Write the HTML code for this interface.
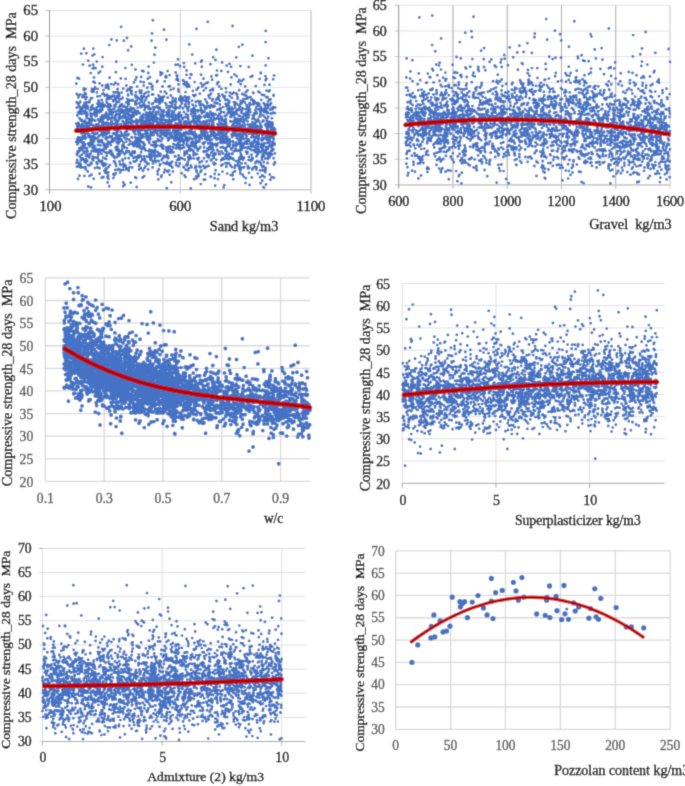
<!DOCTYPE html><html><head><meta charset="utf-8"><style>html,body{margin:0;padding:0;background:#fff;overflow:hidden}svg{display:block}text{font-family:"Liberation Serif",serif;stroke-width:0.4px}</style></head><body>
<svg width="685" height="786" viewBox="0 0 685 786">
<defs><filter id="bl" x="0" y="0" width="685" height="786" filterUnits="userSpaceOnUse"><feConvolveMatrix order="3" kernelMatrix="0.0192 0.1001 0.0192 0.1001 0.5228 0.1001 0.0192 0.1001 0.0192" divisor="1" edgeMode="duplicate"/></filter></defs>
<g filter="url(#bl)">
<rect width="685" height="786" fill="#fff"/>
<line x1="49.5" y1="164.1" x2="311" y2="164.1" stroke="#E3E3E3" stroke-width="1"/>
<line x1="49.5" y1="138.5" x2="311" y2="138.5" stroke="#E3E3E3" stroke-width="1"/>
<line x1="49.5" y1="112.9" x2="311" y2="112.9" stroke="#E3E3E3" stroke-width="1"/>
<line x1="49.5" y1="87.3" x2="311" y2="87.3" stroke="#E3E3E3" stroke-width="1"/>
<line x1="49.5" y1="61.7" x2="311" y2="61.7" stroke="#E3E3E3" stroke-width="1"/>
<line x1="49.5" y1="36.1" x2="311" y2="36.1" stroke="#E3E3E3" stroke-width="1"/>
<line x1="49.5" y1="10.5" x2="311" y2="10.5" stroke="#E3E3E3" stroke-width="1"/>
<line x1="180.25" y1="10.5" x2="180.25" y2="189.7" stroke="#CFCFCF" stroke-width="1"/>
<line x1="311" y1="10.5" x2="311" y2="189.7" stroke="#C6C6C6" stroke-width="1.3"/>
<line x1="49.5" y1="189.7" x2="311" y2="189.7" stroke="#CDCDCD" stroke-width="1.6"/>
<line x1="49.5" y1="10" x2="49.5" y2="193.8" stroke="#8C8C8C" stroke-width="1"/>
<line x1="45.5" y1="189.7" x2="49.5" y2="189.7" stroke="#BBBBBB" stroke-width="1"/>
<line x1="45.5" y1="164.1" x2="49.5" y2="164.1" stroke="#BBBBBB" stroke-width="1"/>
<line x1="45.5" y1="138.5" x2="49.5" y2="138.5" stroke="#BBBBBB" stroke-width="1"/>
<line x1="45.5" y1="112.9" x2="49.5" y2="112.9" stroke="#BBBBBB" stroke-width="1"/>
<line x1="45.5" y1="87.3" x2="49.5" y2="87.3" stroke="#BBBBBB" stroke-width="1"/>
<line x1="45.5" y1="61.7" x2="49.5" y2="61.7" stroke="#BBBBBB" stroke-width="1"/>
<line x1="45.5" y1="36.1" x2="49.5" y2="36.1" stroke="#BBBBBB" stroke-width="1"/>
<line x1="45.5" y1="10.5" x2="49.5" y2="10.5" stroke="#BBBBBB" stroke-width="1"/>
<line x1="180.25" y1="189.7" x2="180.25" y2="193.8" stroke="#BBBBBB" stroke-width="1"/>
<line x1="311" y1="189.7" x2="311" y2="193.8" stroke="#BBBBBB" stroke-width="1"/>
<path d="M178 130.3h0M265.3 76.1h0M104.9 114.9h0M265 108.3h0M138.2 157.9h0M160.4 146h0M240.9 153.7h0M157.6 151.9h0M185.5 105.8h0M81.7 121.1h0M226.1 154.2h0M183.3 80.7h0M141.8 115.9h0M233.1 132.2h0M136.5 160.6h0M166.4 39.7h0M102.8 119.7h0M156.4 112.3h0M116.7 130.2h0M128.4 114.2h0M225.5 148.6h0M132 94.4h0M172.7 102h0M271.3 144.7h0M267.5 128.6h0M220.4 110h0M183.9 132.7h0M131.3 124.8h0M108.1 141.7h0M269.2 136h0M178.9 159.7h0M99.2 161.3h0M200.2 117.8h0M230.7 84.5h0M198.2 110.5h0M258.7 135.2h0M84.1 167.4h0M181.4 137.1h0M167.6 71.1h0M88.6 144.8h0M203.8 132.3h0M245.8 147.6h0M194.2 114h0M127.9 134.6h0M243.3 101.3h0M177.6 147h0M177.8 129.3h0M226 141.6h0M105.6 172.9h0M239.3 162h0M212.1 143.3h0M232.8 141.3h0M114.3 175.2h0M235.8 102.8h0M114.2 108.9h0M92.4 159.3h0M246.4 118.3h0M247.6 109.4h0M250.6 129.3h0M170.1 134.8h0M130.7 153.7h0M77.6 138.8h0M204.7 130h0M219.4 129.4h0M242.5 129.3h0M132.3 144.4h0M119 129h0M203.4 166h0M236.4 119.4h0M267.9 158.8h0M106.1 122.6h0M172.1 161.8h0M254.2 137h0M160.3 164.1h0M193.5 121.3h0M81 107.7h0M210.2 136.8h0M259.1 129.8h0M240.7 139.6h0M252.4 142.7h0M207.6 148.5h0M125 135h0M229.1 163.4h0M118.3 135.4h0M241.6 112.9h0M88.7 156.8h0M240.4 146.5h0M108.9 130.8h0M150.8 133.7h0M139.2 131.1h0M213.8 129.5h0M111.7 118.5h0M155 147.1h0M77.3 144.3h0M128.4 112.9h0M160 136.4h0M97.3 167.4h0M202.2 86.5h0M151.9 157h0M220.5 130.9h0M206.3 125.1h0M162 159.6h0M248.8 67h0M202 122.8h0M237.4 120.9h0M144.2 129.6h0M184.4 125.8h0M115.2 157.3h0M124.6 127.6h0M127.3 135.5h0M90.7 121h0M127.5 111.4h0M228 110.2h0M215.1 185.7h0M101.8 100h0M151 118.3h0M159.9 124h0M208.5 95.7h0M166.9 156.1h0M192.9 90.9h0M243.3 145.2h0M220.7 108.7h0M148.8 128.9h0M165.4 122.6h0M149.3 135.7h0M98 119.4h0M116.6 98.3h0M132.7 100.6h0M138.7 155.5h0M138.5 137.6h0M190.9 158.6h0M269.5 125.4h0M230.3 117.1h0M233.6 128.8h0M227.3 113.8h0M195 147.5h0M258.8 162.2h0M213.4 132h0M175.7 123.3h0M91.5 174.8h0M173.4 144h0M118.5 120.7h0M102.6 129.7h0M176.9 125.9h0M232.4 148.1h0M134.9 127.8h0M229.2 139.2h0M180.8 101.1h0M105.8 87.7h0M268.2 133.7h0M156.1 141.6h0M134.9 112.8h0M244.7 131.1h0M222.2 136.5h0M113.6 92.3h0M154.3 115.3h0M122.3 159.6h0M243.6 131.3h0M153.8 130.5h0M270.1 136.9h0M200.6 101.5h0M214.2 164.5h0M180 134.3h0M137.7 107.6h0M154.9 151.7h0M263.4 187.1h0M116.2 147.6h0M272.8 109.1h0M227.1 136.9h0M147.8 78.8h0M203.8 179.7h0M152 33.4h0M152.1 113h0M176.4 107.8h0M79.5 106.5h0M174.4 140.2h0M269.5 138.4h0M133 142.8h0M225.1 156h0M164.3 133.1h0M117.8 97.3h0M256.3 112.1h0M79.5 175.8h0M136.6 96.2h0M275 131.5h0M128.3 105h0M245.1 86.5h0M196.7 125h0M236.6 122.2h0M201.6 131.6h0M148.4 123.4h0M227.6 100.1h0M81.4 127.7h0M165.1 126.3h0M150.2 120h0M171.1 125.8h0M101.6 118.7h0M120.5 118.2h0M188 101.3h0M153.3 122.3h0M233.7 133.7h0M196.6 127.2h0M247.6 121.3h0M221.9 134.6h0M195.9 101.8h0M133.4 121.5h0M231.9 97.9h0M126.2 141.6h0M91.1 120.6h0M267.8 159h0M183.6 84h0M230.2 128.9h0M181.5 126h0M197.9 111.6h0M82.9 143.9h0M113.3 108.9h0M210.4 129.7h0M189.7 155.4h0M107.7 143.9h0M106.9 145.6h0M177.7 133.9h0M104.8 116h0M218.9 96.3h0M131.2 46.5h0M102.9 128.8h0M85.3 122.9h0M111 154.1h0M114.3 129.7h0M183 108h0M165.9 136h0M266.7 127.4h0M266.1 136.9h0M234.7 118.2h0M209.8 136.5h0M244.3 127.5h0M263 156.5h0M80.7 140h0M99.7 125.9h0M147.9 122.8h0M94.8 88.9h0M195.5 94.9h0M128 89.3h0M128.8 170.9h0M133.6 128.2h0M95.6 133.4h0M223.6 139.8h0M205.7 124.4h0M196.9 117.7h0M82.9 143.2h0M161.6 110.5h0M212.5 147.7h0M107.3 177.1h0M152.9 20.2h0M80.1 150.5h0M92.5 55.6h0M119.2 155.7h0M158.7 154.1h0M168.4 139.3h0M252.2 157.7h0M139.2 169.5h0M80.4 113.5h0M240.6 140.6h0M88.5 144.5h0M94.7 128.3h0M267.8 106.2h0M226.1 92.3h0M143.4 114.4h0M102.5 135.2h0M153.1 124.6h0M143.7 96.5h0M250.2 105.1h0M159.5 103.7h0M92.5 132.9h0M260.6 106.8h0M200 102.5h0M99.4 128h0M98.7 103.5h0M168.9 170.4h0M94.5 145.9h0M201.9 138.4h0M198.8 124.7h0M82.6 111.1h0M236.9 138.3h0M232.7 175.2h0M258.3 138.1h0M209.6 98.1h0M214.1 144.5h0M108.8 152.8h0M80.9 148.5h0M89.2 127.4h0M268.1 101.3h0M204.7 127.7h0M264.6 133.3h0M145.7 115.1h0M226.5 158.5h0M89.2 134.4h0M109.2 132.9h0M131.3 118.7h0M185.7 169.7h0M187.1 153.3h0M175.5 137.4h0M160.6 118h0M190.7 74.2h0M268.5 155.8h0M167.3 131.2h0M242.8 136.9h0M87.3 102.4h0M152.9 115.5h0M187.7 145.5h0M199.6 118.4h0M125.9 131.7h0M155.6 129.5h0M264.6 131.5h0M205.3 138.1h0M192.6 104.8h0M89.2 165.5h0M86.6 125.5h0M118.2 151.2h0M103.6 106.7h0M271.9 147.9h0M76.7 102.3h0M149 112.9h0M87.8 171.5h0M203.5 78.8h0M85.4 167.2h0M89.8 100.7h0M92.1 109h0M130.3 87.5h0M190.9 165.8h0M236.5 135.6h0M129.3 129.2h0M132.5 108.4h0M240.2 173.4h0M224.6 129.4h0M101.4 129.1h0M236.6 130.9h0M241.6 126.7h0M111.6 142.1h0M200.9 108.3h0M115.3 117h0M124.6 115.6h0M174.5 119h0M180.1 148.4h0M171.5 125h0M183.9 112h0M118.6 92.7h0M231.1 116.8h0M131.5 120h0M257.8 173.6h0M178.7 126.5h0M136.6 114.2h0M110.9 106.3h0M172.7 100.7h0M151.1 159h0M200.2 146.9h0M175.4 101.4h0M83.5 126.4h0M242 131.1h0M86.5 112.3h0M240.9 167.8h0M237.9 124.1h0M260 170.4h0M208.4 150.1h0M108.1 137.6h0M164.1 135.1h0M163.6 112h0M202 113.2h0M152 116.5h0M210.6 126.8h0M116.8 40.4h0M146.5 117.9h0M184.3 135.2h0M161.3 132.1h0M100.6 117.8h0M268.4 146.8h0M213.7 133.5h0M241.9 149.9h0M147.3 114.5h0M264.2 112.1h0M237.9 163.6h0M271.1 103.2h0M115.5 125.9h0M171.1 152.7h0M153 120.1h0M198.3 174.4h0M126 152.9h0M96.2 124.8h0M171 166h0M203.4 135.7h0M152.6 167.5h0M272.7 143.3h0M157 132.2h0M135.8 127.5h0M238.1 110.3h0M169 112.5h0M130.5 110.1h0M133.2 125.6h0M264.7 117h0M267.6 163h0M204.8 132.9h0M131.6 87.4h0M217.7 143.8h0M119.3 117.3h0M140.3 121.1h0M184 167.3h0M156 162.1h0M146 92.6h0M270 138.5h0M110 136.3h0M198.3 87.7h0M83.8 131.6h0M94.4 111.8h0M118 110.5h0M273.5 136.8h0M220.7 131.6h0M248.9 128.4h0M86 159.1h0M211.8 139.6h0M163.7 127.1h0M159 122.8h0M217.1 129.3h0M137.5 121.7h0M178.4 166.4h0M128.1 109.2h0M154.1 155.4h0M182.3 118.2h0M107.6 97.5h0M131.1 91.4h0M159.8 125.4h0M170.3 126.2h0M235.4 122.5h0M204.1 112h0M188.1 146.8h0M249.3 111.3h0M115.4 169.9h0M96.9 92.4h0M154.5 107.7h0M103.5 90.1h0M186.8 82.3h0M190.3 150.6h0M102.4 123.3h0M218.7 134.9h0M186.9 133h0M160.4 72.1h0M258.8 150.9h0M246.5 112.3h0M120.1 172.5h0M109.3 96.5h0M258.4 138.3h0M107.5 115.5h0M226.9 151.6h0M138.4 141.9h0M148 106.2h0M186.4 132h0M260.4 162.8h0M76.6 129h0M108.5 131.8h0M219.5 96.3h0M154.7 153.2h0M133.4 122h0M267.8 148.9h0M128.7 144.7h0M218.3 99.1h0M268.1 136h0M228 155.8h0M217.3 103.2h0M220.1 132.5h0M236.4 128.9h0M130.1 127.4h0M200.9 126.1h0M235.9 150.8h0M252.9 143.9h0M256.4 129.9h0M256 137.4h0M95.6 116.3h0M151.1 83.9h0M167 148.3h0M253.6 142.2h0M159.6 114.4h0M128.9 121.7h0M80.1 137.7h0M133.6 113.3h0M231.5 134.5h0M80.2 112.3h0M109 107.5h0M138.1 131.9h0M182 103.5h0M148.4 140.4h0M251.8 177.4h0M117.5 141.4h0M187.9 115.3h0M231 113.3h0M261.2 99.9h0M250 109.4h0M103.1 136.4h0M233.7 146h0M210.6 132h0M160.1 122.8h0M81.3 132.2h0M109.6 104.5h0M225.3 123.9h0M92.9 125.8h0M138.4 140.9h0M127 148.1h0M224.6 121.5h0M147.6 139.8h0M93.5 114h0M149.9 111.9h0M141.2 93.1h0M218.9 132.4h0M139.9 147.9h0M214.2 136.8h0M183.4 167.1h0M252.8 115.5h0M222.1 62.5h0M157.3 145.5h0M172.7 118.9h0M170 102.5h0M249.6 185h0M103.6 151.2h0M160.6 154.7h0M182.6 118.9h0M163 129.8h0M195.2 63.4h0M175.4 109.6h0M158.5 95.5h0M212.8 88.9h0M141.7 138.1h0M196.9 148.4h0M221.2 138.5h0M102.2 107.7h0M141.1 156.1h0M264.2 95.2h0M268.4 58.2h0M273.7 139.2h0M84.6 120.8h0M240.6 101h0M262.3 180.8h0M255.7 148.7h0M218.4 138.7h0M210.6 129.4h0M219.4 114.3h0M233.1 146.2h0M176.1 102h0M121.1 135.7h0M94.9 168.1h0M256.9 134.5h0M226.4 132.4h0M111.4 136.7h0M239.8 151.3h0M135.9 140.8h0M202.7 122h0M147 124h0M118.8 117.5h0M111.1 84.1h0M91 109.9h0M89.9 119.3h0M94.1 157.4h0M242.1 134.6h0M179.2 99.8h0M101.8 150h0M180.6 136.6h0M184.2 66.9h0M175 138.9h0M117.3 92.3h0M162.6 134.2h0M249.5 128.1h0M152.5 89.4h0M176.5 107.4h0M261.3 145.7h0M122.5 145.2h0M220.6 122.9h0M172.5 115.5h0M232.9 135.2h0M147.7 136.4h0M184.1 133.7h0M149.5 108.3h0M248.5 139.9h0M258.2 153.5h0M201.9 111.5h0M271.4 113.8h0M221.9 124.2h0M241.4 145.9h0M254.2 127.7h0M130.3 141.4h0M272.5 124.6h0M153.9 109.9h0M175.1 100.4h0M112.1 96h0M239.6 143.4h0M143.2 105.1h0M213.4 122.8h0M119.6 116.6h0M146.1 119h0M152.6 86.1h0M123.3 169.9h0M83.2 125.5h0M229.4 153.9h0M265.3 172.2h0M121.2 126h0M108.5 98.8h0M145.3 123.6h0M92.6 142.5h0M205.5 123.1h0M149.5 116.8h0M188.1 170.4h0M256.4 156.4h0M247.6 113.7h0M259.6 161.9h0M262.3 131.7h0M193.5 132.6h0M176.1 129.7h0M83.7 90h0M96.6 133.6h0M180.4 136.7h0M246.5 105h0M162.3 73.3h0M76.9 153.9h0M118.4 120.4h0M227.4 138.9h0M107.7 143.3h0M115.9 104.3h0M133 108.7h0M197.4 110.4h0M242.6 174.8h0M119.7 137.6h0M195.5 167.8h0M181.6 140.8h0M164.7 135h0M191.7 111.6h0M238.2 162.5h0M119.5 99.2h0M175.1 115h0M95.7 112.8h0M178.3 107.9h0M233.6 121.4h0M274.9 113.1h0M170.8 95.5h0M135.2 101.7h0M191.5 167.4h0M150.2 134.2h0M99.5 103.5h0M180.5 96.2h0M235.2 165.4h0M253.5 118.2h0M270.8 103.3h0M149.4 149.8h0M126.3 85.5h0M98.2 124.4h0M163 122.8h0M236.8 109.6h0M122.9 135.7h0M245.2 109.1h0M217.8 133.8h0M116.2 114.1h0M201.9 60.4h0M239.3 80h0M261.8 150.6h0M108.5 142.7h0M239.8 133.9h0M230.6 165.7h0M124.7 138.1h0M134.8 130.9h0M266.6 123.7h0M148.2 73h0M133.7 126.7h0M219.5 132.7h0M102.6 127.4h0M172.3 119.6h0M147.4 138.4h0M184.4 155.3h0M196.2 170.4h0M203.6 144.3h0M162.2 139.1h0M252.7 158.5h0M242.5 157.1h0M261.9 159.5h0M164.9 169.7h0M221.5 88.9h0M161.9 120.5h0M131.7 137.3h0M205.9 88.2h0M264.4 170h0M236.2 142.6h0M132.9 113.7h0M121.6 92.6h0M229.7 142.3h0M216.5 145.7h0M248 168.4h0M105.3 165.2h0M247.6 117.4h0M162.3 148.3h0M130.6 123h0M144.5 110h0M273.9 164.6h0M266.4 150.1h0M92.8 147.9h0M138.9 132.9h0M219.4 113.9h0M83.2 95.2h0M83.3 107.2h0M85.1 111h0M249 115.1h0M142.6 177.5h0M139.6 121.2h0M234 126h0M139.6 90.8h0M223.1 141.3h0M149.7 151.3h0M135.4 137.4h0M153.2 124.6h0M109.6 118.8h0M91.1 136.2h0M249.5 104.1h0M249 107.2h0M167.9 125.2h0M213.2 123.3h0M247.8 166.2h0M153.9 62.6h0M217.8 139.1h0M226.4 106.3h0M91.7 151h0M103.7 134.9h0M225.5 100h0M216.6 129.9h0M113 154.9h0M240.7 147.4h0M235.6 145.5h0M142.4 106.6h0M143.9 103.5h0M98.2 154.2h0M164.8 91.7h0M98 140.9h0M184.3 135.9h0M200.5 129.4h0M192 126.6h0M90.4 123h0M199.9 93.7h0M225.9 119.7h0M104.4 170.9h0M194.6 137.1h0M239.2 123.7h0M114.7 120h0M269.6 124.8h0M217.8 82.6h0M249.7 102.9h0M130.3 163.3h0M208.5 126.6h0M260.5 131.3h0M85.1 92.9h0M239.5 150h0M123.3 163.6h0M235.6 126h0M204 158.3h0M235.7 130.5h0M156 112.9h0M165.8 120.1h0M260.1 126.5h0M90.3 122.3h0M107.3 94.7h0M269.8 174.5h0M257.9 119.3h0M105.4 158.7h0M269.9 105.3h0M129 151.3h0M253.7 116.6h0M256.2 144.5h0M80.9 125.4h0M78.1 104.1h0M141.2 76.9h0M261.5 140.3h0M233.7 132.8h0M153.2 152.5h0M246.9 153.8h0M137.4 123.2h0M145.3 105.7h0M114.1 133.4h0M267.1 113.4h0M236.1 130.8h0M168.2 123.4h0M128.8 158.3h0M268.4 131.3h0M155.1 141.7h0M118.1 135.6h0M160.7 133.9h0M219.3 114.3h0M229.5 63.9h0M97.9 141.3h0M210.4 142.4h0M88.6 143.8h0M242.8 117h0M269.6 99.5h0M242.9 167.4h0M78.1 112.4h0M170.3 122.6h0M193.4 155.3h0M252.9 136h0M176.2 148.5h0M91.6 118.8h0M261.9 130.1h0M265.6 42.1h0M172.9 171.5h0M86.8 154.7h0M223.8 125.4h0M269.5 84.8h0M77.6 166.5h0M162.8 158.1h0M132.7 122.3h0M97.6 157.4h0M222.5 124.9h0M144.1 156.3h0M83.9 146.7h0M102.8 124.9h0M236.6 120.6h0M196.7 89.7h0M119 150.8h0M214.7 174h0M102.1 116.4h0M210.1 120.3h0M206.5 122.6h0M77.3 131.2h0M178 59.2h0M220.7 147.6h0M227.1 173.6h0M216.6 137.4h0M252.3 134.5h0M226.7 65.7h0M259.7 109.7h0M158.7 161h0M83 128.3h0M112.2 154.2h0M133.4 127.4h0M84.5 146.3h0M97.7 137.7h0M179.4 107.8h0M126.4 168.3h0M133 129.8h0M223.7 131.3h0M246.3 135.6h0M247.7 152.4h0M149.9 150.2h0M217.4 110.1h0M245.8 178.2h0M106.2 127.6h0M116.1 111.5h0M205.1 131.4h0M129 139.7h0M114.5 117.8h0M149.3 142.9h0M79.4 118.2h0M163.4 132h0M85.6 121.8h0M124.9 122.8h0M119.5 161.4h0M141.7 101.8h0M101.1 120.4h0M169.9 86.3h0M213.1 107.1h0M143.6 136.8h0M260.7 129.6h0M247.3 151.9h0M137.1 111.9h0M83.9 88.5h0M229 106h0M123.9 40.7h0M142.3 159h0M191.5 128.9h0M275 153.4h0M135.8 103.6h0M169.4 121.1h0M201 61.8h0M212.2 120.7h0M118.4 143.7h0M194.6 123.3h0M184.5 175.5h0M99.1 104.3h0M101.3 104.4h0M270.3 179.8h0M239.6 158.7h0M240.9 101.4h0M262.1 156.5h0M267.3 139.6h0M154.5 54.7h0M226.2 166.9h0M203.9 121.5h0M187.6 134h0M211.4 76.4h0M139.7 155.3h0M247.7 98.2h0M157.2 124.2h0M105.7 138.7h0M78.4 129.3h0M203.4 133.3h0M122.3 149.3h0M266.4 97.2h0M115 98.4h0M139.1 146.4h0M272 134.7h0M179.6 146.4h0M259.7 78.9h0M231.7 107.8h0M99.8 109.8h0M119.2 127.7h0M153.2 141.9h0M251.5 99.9h0M142.6 127.3h0M171.8 135.9h0M140.8 123.9h0M232.7 128.7h0M87.1 113.7h0M121.1 26.9h0M240.4 66.1h0M198.8 136.5h0M178 64.6h0M149.7 124.4h0M102.1 160.8h0M167.1 161.9h0M272.6 142.4h0M194.6 113.3h0M190.9 122.5h0M273.2 79.3h0M252.4 159.6h0M275 162.1h0M265.9 149.6h0M209 138.9h0M136.9 100.4h0M201.2 125.5h0M145.5 150.3h0M237.5 98.8h0M103.5 132.9h0M168.2 110.5h0M243.5 79.4h0M166.6 107.8h0M195.8 122.9h0M95.7 157.4h0M132.9 112.6h0M266.1 124.6h0M206.9 113.8h0M148.8 108.8h0M179 122.9h0M230.4 157.2h0M232.9 158.5h0M240.9 139h0M123.6 165.5h0M203.2 111.5h0M181.1 121.4h0M188.6 121.8h0M118.9 113.7h0M139.6 127.9h0M225.8 142.9h0M147.5 114.2h0M226.9 147h0M85.5 122.9h0M265.4 132.7h0M117.6 154.5h0M171.3 182.3h0M126.6 107.1h0M121.4 99h0M272.3 150.7h0M256.2 126.8h0M182.1 134.8h0M88.3 134.7h0M196.5 28.9h0M126.2 120.1h0M118.8 135.1h0M261.7 110.5h0M199.4 128.5h0M164.5 123h0M88.6 136.7h0M150.1 136.8h0M248.1 130.3h0M136.4 77.3h0M140.4 146.3h0M196.9 142.6h0M126.3 123.1h0M187 137.9h0M229.1 153.7h0M133.2 131.4h0M170.3 127.9h0M190.9 111.3h0M148.5 95.7h0M120.7 124.2h0M98.9 142h0M188.7 104h0M262.7 148.6h0M79.9 110.9h0M248.4 114.9h0M267.7 108.1h0M184.1 140.5h0M268.8 91.6h0M216.4 49.8h0M184.7 117.3h0M168.4 140h0M169 124.4h0M211.9 106h0M122.8 160.6h0M218.5 82.1h0M173.9 120.2h0M210.4 111.6h0M263.4 115.4h0M122.6 110.3h0M156.4 114.3h0M130.9 115.2h0M86.7 106.6h0M200 105.3h0M201.2 131.2h0M275.1 129.4h0M195.8 166.1h0M155 101.4h0M255.5 149.6h0M79.2 148.2h0M136.4 141.2h0M225.8 142.3h0M108.3 86.7h0M148.1 169.5h0M245.1 129.7h0M144.8 100.8h0M124.5 113.7h0M253.4 101.5h0M91.6 140.7h0M246.7 136.2h0M138.9 140.2h0M117.5 147h0M173.3 147.9h0M172.4 167.5h0M268.1 156.9h0M225.9 88.2h0M167.7 122.2h0M187.5 150.7h0M139.5 130.3h0M271.7 177.1h0M153 163.4h0M252.4 76h0M206.7 154.7h0M258.5 144h0M146.7 131.9h0M159.1 140.1h0M149.7 119.2h0M240.8 127.3h0M265.8 125.1h0M240.3 129.8h0M166 76h0M241.2 136.6h0M221.5 125.5h0M179.5 116.6h0M112.7 123.8h0M123.5 117.4h0M216.2 146.2h0M115.7 126.6h0M187.7 164h0M236.2 57.4h0M206.3 129.7h0M197.5 118.3h0M127.5 123.3h0M100 131h0M82.9 64.6h0M122.3 112.4h0M187.2 84.7h0M160.5 102.3h0M116.8 132.9h0M136.4 139.5h0M168 137.6h0M235.2 135.5h0M206.7 161.4h0M84.3 107.2h0M172 103.2h0M113.2 101.4h0M246.3 142.7h0M252.3 128.3h0M186.6 70.5h0M222.7 142.7h0M212.8 113.4h0M238.7 140.3h0M131.7 91.6h0M121.8 104.1h0M224.7 135h0M267 130.7h0M121.9 106h0M189.2 138.6h0M184.5 121.4h0M150.5 159.8h0M225.5 163.2h0M102.4 164.4h0M150.2 139h0M162 122.5h0M265.8 150.3h0M212.4 146.2h0M217.7 109.4h0M275.1 107.5h0M121.3 170.1h0M196.3 166.8h0M97.6 89.1h0M108.5 152.6h0M214.7 106.3h0M240.5 145.9h0M202.7 143.3h0M191.6 131.7h0M233.5 113.2h0M266.5 90.6h0M260.4 114.1h0M237.1 136.1h0M162.2 138.3h0M228.7 141.4h0M122.7 97.8h0M256.1 121h0M131.8 64.9h0M271.3 126h0M136.2 143h0M128.7 168.5h0M143.1 122h0M172.7 112.9h0M116 123.4h0M128.7 134.3h0M252.1 146.7h0M261.5 130.4h0M107.1 152.7h0M164 96.8h0M159.7 100.1h0M241 140.6h0M207.6 115.2h0M157.4 134h0M233.1 127.7h0M196.6 140.7h0M117.8 124.7h0M233.9 121.5h0M168.8 146.7h0M252.7 104.1h0M208.6 157.8h0M106.3 139.3h0M226.8 99.7h0M191.8 121.1h0M183.9 127.1h0M159.7 165.4h0M208.1 143.5h0M176.4 136.3h0M262.3 108.9h0M116.9 142.8h0M103.4 118.8h0M157.9 99.8h0M179.6 163.5h0M151.1 113.4h0M172.5 114.3h0M210.4 64.2h0M233.9 102.2h0M86.4 105.3h0M152.1 119.2h0M199.4 148.6h0M80.3 108.5h0M265.1 143.1h0M203.7 125.7h0M172.7 98h0M165.4 76.8h0M105.5 117.5h0M89.4 157.5h0M211.7 113.9h0M233.9 128.1h0M80.4 163.6h0M83.9 48.8h0M178.2 144.9h0M190.3 128.6h0M196.8 122.4h0M250.5 97.1h0M254.8 133.7h0M273 141.6h0M142.6 136.5h0M169.4 119.8h0M273.9 177.7h0M215.5 59.9h0M257.2 142h0M198.9 158h0M114.7 161.6h0M145.4 133.5h0M191.1 144.7h0M206.1 107.5h0M157.9 135.6h0M224.3 185.1h0M182.2 158.4h0M270.2 124.8h0M246 114.5h0M106 148.5h0M96.7 107.6h0M246 114.5h0M197.1 116.4h0M270.4 145.8h0M162.9 128h0M111.9 122.1h0M83.5 105.5h0M229.1 100.9h0M92.8 90.7h0M204.3 116.2h0M188.3 119.2h0M223.3 124.9h0M264 109.9h0M123.2 182.4h0M172.2 103.9h0M225.7 103.9h0M116.4 137.3h0M94.5 139.5h0M103.6 143.4h0M261.6 126.9h0M233.3 135.5h0M116.1 166h0M79.3 164.4h0M203.1 131.5h0M140.2 140.3h0M121.5 109.8h0M115.9 72.3h0M170.1 149.6h0M144.3 176.1h0M263.3 134.6h0M188.8 98.5h0M255.3 127.3h0M260.2 123.7h0M255.3 102.8h0M175.3 117.8h0M192.2 54.6h0M182.5 147.9h0M80.2 101.6h0M264.5 111.9h0M106.2 159.1h0M186.3 132.6h0M212 125.3h0M232.6 26h0M184.1 147.4h0M203.4 143.3h0M240.8 125.8h0M204.2 106.5h0M208.9 117.1h0M246.1 138.4h0M90.8 115.8h0M179.4 148.7h0M81.5 133.4h0M106.3 113.3h0M81.8 120.9h0M248.6 160.1h0M141.8 99.6h0M179.9 163.7h0M232.8 109.3h0M213.3 125.1h0M260.5 116.4h0M173.6 88.8h0M216 99.6h0M248.9 111.9h0M97.5 103.7h0M169.7 75.1h0M93.7 67.7h0M187 123.4h0M138.5 131.3h0M243.4 99.3h0M169.4 130.3h0M108.6 109.7h0M250 126.2h0M160.9 97.1h0M80.1 167.2h0M129.6 127.2h0M152.4 114.8h0M81.4 138.6h0M104.1 129.9h0M135.2 177.3h0M143.4 124.2h0M163.3 117.2h0M135.4 79.9h0M140 120.3h0M168.1 121.1h0M146.2 162h0M225.4 150.4h0M231.6 116.2h0M79.7 156.6h0M108.4 130.5h0M96.4 151.6h0M146.4 97.2h0M147.1 130.7h0M225.3 150.6h0M221.3 71h0M251.8 129.5h0M212.1 79.8h0M194.7 153.4h0M274 127.9h0M153.7 145.8h0M136.8 146.8h0M83.3 128.6h0M264.1 133h0M225.9 119h0M151.2 123.1h0M250.3 143.5h0M228 72h0M168.7 128.7h0M266.4 153.6h0M253.8 100.8h0M164.9 125.8h0M161.1 141.1h0M106.4 94.9h0M96.6 138.2h0M147.3 163.9h0M118.9 118h0M89.8 154.5h0M222.5 171.6h0M267.4 154.2h0M213 120.1h0M256.8 167.4h0M249.4 131.6h0M204.7 168.3h0M180.2 123.3h0M147.4 115.4h0M174.7 125.8h0M140.1 128.1h0M110.4 114.5h0M174.7 133.6h0M207.7 114.3h0M192.7 116.4h0M223 136h0M143 134.4h0M76.2 142.1h0M118.5 149.4h0M133.8 146.2h0M186.2 100.7h0M153.7 135h0M207.1 136.9h0M120.7 151.1h0M169.3 148.8h0M76.6 162.8h0M212.7 129.4h0M248.4 132.3h0M247 142.3h0M250.2 112.2h0M115.2 138.2h0M271.5 108.6h0M185.9 121.4h0M113.1 100.1h0M94.3 108.7h0M90.3 142.5h0M202.9 85.2h0M201.3 117.1h0M232.7 129.5h0M207.2 137.2h0M179.5 132.6h0M108.6 129.6h0M222.3 139h0M77 166.7h0M207.6 140.2h0M109.1 118.1h0M107.8 84.8h0M256.5 134.4h0M260.7 152.1h0M219.5 134.2h0M121.7 126.9h0M169.6 165.2h0M145.1 130.7h0M99.6 135.7h0M123.3 111.2h0M87.7 108.4h0M269.7 90.4h0M123.2 186.3h0M153.2 117.3h0M125.2 158.2h0M205.8 151.3h0M188.1 116.4h0M228.5 112.8h0M78.4 97.6h0M116.9 96.1h0M195.3 113.6h0M190.9 157.6h0M240.2 131.4h0M92.2 124.9h0M150 114.6h0M156.5 155.9h0M178.3 131.9h0M146.1 131.5h0M222.4 94.6h0M96.9 127.8h0M88.2 60.7h0M138.6 144.5h0M94 141.3h0M154.3 144.8h0M191.3 129.8h0M92.9 125.2h0M167.7 112.3h0M186.7 98.1h0M188.5 84.4h0M82.2 149h0M230 144.6h0M219.9 104.5h0M135.3 140.9h0M170 116.1h0M223.3 96.6h0M242.2 94h0M125.5 116.9h0M229.6 145.5h0M160.6 132.2h0M265.9 109.7h0M251 133.2h0M147.4 137.1h0M147.8 125.5h0M172.9 147.2h0M267.3 139.7h0M104.8 127.4h0M185.4 104.1h0M205.1 174.2h0M219.5 115.3h0M89.5 176h0M195.4 146.5h0M165.8 125.4h0M143.7 85.6h0M269.3 121.8h0M97.3 133.5h0M217.2 150h0M116.8 132h0M264.8 152h0M175.7 140.4h0M166.4 104.7h0M125.6 134.9h0M182.4 139.1h0M248.2 131.9h0M90.5 137.6h0M207.2 132.7h0M105.3 131.3h0M121 170.2h0M246.1 130.8h0M90.6 113.5h0M221.8 138.6h0M87.7 106.5h0M177.6 143.7h0M200.3 167.2h0M105.4 152.4h0M235.8 161.1h0M120.2 118.1h0M170.8 133h0M124 123.8h0M228.1 158.6h0M126.2 169.4h0M128.3 125.5h0M78.6 152.2h0M255.2 146.5h0M82.9 128.9h0M138.8 127.6h0M204.9 84.1h0M142.3 148.7h0M195 144.9h0M148.7 92h0M251.3 133.1h0M107.8 119.5h0M79.8 150.6h0M96 125.3h0M180.4 99h0M194 179.2h0M242.1 110.2h0M266.1 110.8h0M156 155.7h0M240.1 142.5h0M156.8 99.6h0M149.9 117.2h0M102.6 57.1h0M143.1 117.1h0M204.9 142.3h0M179.1 140.6h0M274.5 143.7h0M127 99.1h0M185.9 139.7h0M233.3 144.7h0M114.2 105.6h0M240 136.3h0M187.2 117.8h0M96.8 61.6h0M268.8 140.2h0M158.1 107.8h0M170.8 137.7h0M232.3 125.5h0M268.1 123h0M125 165.3h0M103.3 166h0M224.4 127.3h0M210.9 117.9h0M165 132.4h0M205 117.2h0M264.1 111.6h0M243.7 176.6h0M189.2 131.1h0M257 128.4h0M257.8 148.7h0M229.6 139.6h0M99.8 151.9h0M188 140.4h0M197 154.1h0M251.2 128.1h0M178.9 120.4h0M198.1 159.8h0M218.5 131.6h0M92.9 139h0M87.4 114.7h0M82.2 109.5h0M97.4 164.1h0M127 90.9h0M85.8 99.2h0M194.9 135h0M190.1 131.3h0M166.8 155h0M78 179h0M179.5 119.9h0M101.3 134.4h0M77.2 154.9h0M234.6 105.1h0M257.4 154.8h0M90.6 145.1h0M207.3 103.2h0M86.8 127.9h0M192 143.1h0M200.3 172h0M192.9 145.6h0M273.2 128.2h0M198.3 141.8h0M109.2 45.1h0M261.8 143.9h0M135.7 129.9h0M183.5 142h0M162.2 101.4h0M236.7 125.5h0M92.9 146h0M149.3 157.2h0M164.3 115.7h0M195.1 167.9h0M256.8 138h0M136.2 178h0M144.9 148.7h0M209.9 107.7h0M117.8 131.3h0M177.6 79.1h0M139.8 144.6h0M200.3 137.1h0M191.7 109.4h0M212.7 99h0M161.7 175.5h0M122.7 106.5h0M79.1 103.3h0M195.9 102.1h0M120.9 78.4h0M77.1 159.9h0M150.8 127.7h0M130.7 182.7h0M212 152.1h0M135.4 122.2h0M149.3 83.6h0M220.2 108h0M210.3 146h0M108.2 175.7h0M192.9 134.6h0M261.8 157.6h0M257.1 121.3h0M245.2 134.5h0M132.3 99.9h0M267.1 140h0M115.9 130h0M156.1 112.9h0M98.9 136.2h0M188.7 159.3h0M220 100.8h0M213 90.3h0M271.7 135.8h0M137.9 111.1h0M223.7 136.4h0M260.6 132.4h0M231.4 77.4h0M180.3 133.2h0M183.4 141.4h0M104.8 95.8h0M152.2 135.1h0M239.9 119.9h0M211.7 129.7h0M208.2 155.5h0M211.8 148.9h0M145.7 117.9h0M271.2 154.7h0M143.1 126.4h0M113.4 112h0M209.2 155.6h0M109.8 112h0M270.3 153.4h0M190.7 125.2h0M100.1 71.6h0M80.9 165.8h0M195.8 121.8h0M84.6 113.3h0M86.6 127.2h0M158.2 139.9h0M165.4 103.1h0M241.1 119h0M101.9 140.2h0M249 172.9h0M156.8 122.6h0M245.9 98.9h0M106.3 112.6h0M85.7 89.1h0M162.9 133.4h0M119.1 139.2h0M171.3 133h0M239.4 108.3h0M252.4 135.5h0M93.4 81.7h0M127.3 118.1h0M136.8 111.2h0M110.9 141.7h0M169.1 137.7h0M86.8 148.3h0M115.4 118.7h0M89.1 119.2h0M167.1 171.2h0M263.2 133.9h0M106.6 99.5h0M252.7 168.5h0M139 166h0M224.9 116h0M243.9 114h0M196.6 170.7h0M219.3 121.4h0M202 161.3h0M231.1 149.6h0M159.8 97.8h0M107.4 86h0M178.1 139.7h0M121.8 140.8h0M122.9 116.1h0M251.7 127.9h0M215.4 136.1h0M183.5 167.2h0M244 157.8h0M180.7 128.1h0M154.7 126.4h0M212.6 115.5h0M197.3 120.8h0M117.7 102.1h0M139.6 113.4h0M187.8 162.1h0M119.7 115.8h0M258.6 139h0M85 123.1h0M250.6 149.4h0M271.2 150.7h0M198.6 136.9h0M118.3 95.5h0M237.3 150.7h0M164 172.5h0M218 124.4h0M140.4 138.6h0M120.2 105.5h0M266.1 152.3h0M91.2 114.2h0M87.7 126.2h0M231.9 167.1h0M230.5 111.5h0M138.2 155.9h0M150.6 156h0M213.1 135.6h0M195.5 154.3h0M205.2 179.6h0M162.8 124.9h0M271.2 123.3h0M105.6 168.9h0M201.9 66.8h0M117.2 114.5h0M142.8 129.7h0M135.4 126.5h0M240.4 159.1h0M191.6 74.6h0M142 130.3h0M182.8 98.2h0M168 138.6h0M184.5 100.2h0M123.4 122.1h0M150.6 120.3h0M167.4 134.5h0M92.7 156.5h0M79 106.4h0M194.3 119.4h0M117.4 121.2h0M235.8 148.8h0M81.2 53.7h0M120.6 165h0M201.5 133.5h0M102.4 109.9h0M159.9 107.6h0M135.5 69.4h0M129.6 100.3h0M122.9 127.1h0M270.4 145.8h0M139.8 133.3h0M99.6 173.8h0M258.3 91.6h0M107.7 116.8h0M222.8 130.8h0M207.3 156.4h0M219 174.5h0M230.1 127.5h0M112.1 137.7h0M83.6 128.1h0M161.9 131h0M164.7 81.4h0M123.3 115.6h0M237.4 119.5h0M97.9 145h0M175.2 104.7h0M181.3 115.3h0M78 95.1h0M237.5 123.4h0M147.5 107.1h0M167.3 152.2h0M108.2 98.8h0M155.6 116.3h0M166.2 157.1h0M196 146.2h0M83.2 145.8h0M161.2 177h0M173.5 152.3h0M265.7 65.4h0M194.7 131.9h0M212.6 130.8h0M163.8 126h0M174.4 134.6h0M271.7 151.2h0M158.8 141h0M273.9 131.2h0M197.5 117.3h0M258.5 130.6h0M191 138.2h0M239.7 165.9h0M239.8 121.3h0M152.9 103.5h0M141.7 97.7h0M263.2 120.4h0M141.7 119.7h0M232.1 136.8h0M111.5 121.1h0M173.5 117.8h0M151.4 145.1h0M131.1 117.8h0M123.6 167.1h0M268.2 116.8h0M209.3 120.5h0M168.7 170.9h0M190.2 123.6h0M244.4 115.5h0M210.9 160.4h0M101.7 153.9h0M118.1 84.2h0M253.5 93.1h0M187.2 165.6h0M193.7 108h0M108.6 88.9h0M103.4 177h0M119.3 96h0M140.9 119.8h0M187.4 137.7h0M150.3 129.6h0M211 176.8h0M162 130.1h0M178.5 84.5h0M265.6 168h0M84.6 147.2h0M202.9 112h0M222.7 164.4h0M112 136.1h0M247.4 143.9h0M100.6 106.5h0M237.1 136.2h0M114.5 133.9h0M161 74.2h0M154.9 120.7h0M190.1 158.3h0M202.5 131.5h0M84.2 138.1h0M238.3 81.9h0M180.9 125.1h0M259 134.3h0M109.8 165.1h0M164.6 156.8h0M266.3 118.6h0M202.5 129.4h0M177.1 124.6h0M169.8 163.1h0M258.3 109.2h0M77.7 151.1h0M273.3 112.8h0M169.9 121.5h0M239.7 109.6h0M172.4 125.6h0M240.7 143.4h0M95.8 129.3h0M160.9 123.1h0M229.4 102.3h0M274.5 144.9h0M178.3 89.4h0M91 107.2h0M224.9 96.1h0M205.2 108.8h0M106 95.4h0M117.9 169.8h0M176.1 162.6h0M109.2 186.2h0M258.6 149.6h0M273.3 130.5h0M225.9 121.7h0M244.1 147.7h0M142.1 70.9h0M97.4 96.4h0M221.2 112.3h0M234.2 129.4h0M214.4 137h0M81.5 140.9h0M186.5 74.9h0M106 163.9h0M134.8 151.4h0M171 106.3h0M126.1 102.4h0M261.8 138.4h0M140.1 93h0M187.8 110.8h0M269.8 138.6h0M209.7 155.4h0M152.9 145.2h0M226 150.6h0M114.7 123.9h0M96.9 157.6h0M83.9 96.9h0M209.1 147.2h0M207.1 155.7h0M209.7 140.1h0M210.2 136.7h0M192.1 144.9h0M263.6 132.1h0M167.7 171.8h0M100.7 150.6h0M125.9 118.8h0M157.4 106.1h0M198 101h0M147.4 124.5h0M162.9 145.1h0M134.6 112.4h0M221 123.5h0M244.4 143.7h0M143.6 146.4h0M235.4 131.8h0M115.4 92.4h0M270.2 133.9h0M147 121.7h0M207.8 114.2h0M196 138.2h0M92.5 105.3h0M192.8 146h0M85.5 151.9h0M172.8 128.4h0M183.1 80.3h0M265.6 80.2h0M112.4 138.6h0M85.8 137.9h0M200.9 184.1h0M137.9 120.8h0M185.7 127.2h0M127 118.4h0M213.6 150.1h0M101.2 107h0M178 134.8h0M229.7 144.4h0M253.7 150.2h0M141.4 96.3h0M185.4 126.2h0M265.8 31h0M103.7 163.4h0M241.4 155.4h0M222 118.1h0M268.4 127.2h0M173.4 131.2h0M166.8 188.3h0M184.7 159.7h0M148.1 151.1h0M87.8 133.4h0M189.3 44.4h0M153.8 118.8h0M176.7 135h0M215.4 153.3h0M154.5 150.7h0M108.4 116.7h0M241.5 103.3h0M264.1 138.5h0M197.7 141.5h0M151.3 125.3h0M215.8 144h0M87.1 150.7h0M259.1 143.9h0M246.2 141.5h0M103.8 133.6h0M203.7 90.6h0M142 142.2h0M118 128.9h0M244.8 102.5h0M226 136h0M191 134h0M199.6 166.3h0M249.2 140.8h0M144.1 124.6h0M174.3 140h0M121.8 134.1h0M110.2 136.9h0M144.9 159h0M204.2 105.6h0M131.2 126.6h0M206.1 136.5h0M234.8 119.3h0M201.5 111.5h0M169.6 116.7h0M153.9 119.9h0M90.6 144.4h0M228.7 155h0M266.3 148.1h0M124.2 106h0M214.7 132.9h0M196.1 134.4h0M237.9 127.2h0M212.1 133h0M115.2 116h0M103 128.7h0M143.2 97.2h0M113.2 133.4h0M196 117.2h0M93.7 178.8h0M210.6 176.7h0M232.5 154.1h0M84.4 112.1h0M252.7 141.9h0M239.4 105.9h0M84.7 161.7h0M185.1 85.1h0M81.7 146.8h0M171.1 134.4h0M92.3 91.9h0M190.8 188.5h0M91.5 121.4h0M93.9 134.1h0M269.4 157.4h0M237.1 94.8h0M210 107h0M232.9 130.9h0M118.7 107.5h0M96.8 110.2h0M140.3 134.3h0M227.6 109.2h0M226.5 133.4h0M219 125.8h0M159.2 130.5h0M177.4 145.9h0M223.4 126.6h0M193.1 135h0M120.2 154h0M169.7 174.8h0M262.2 175.5h0M267.4 104.1h0M91.6 116.5h0M100 96.1h0M87.7 151.4h0M176.7 126.4h0M254.9 124.1h0M178.6 158.2h0M142.4 127.3h0M251.5 154.8h0M124.2 137.1h0M185.5 133.5h0M252.4 169.5h0M249.6 97.1h0M102.5 118.1h0M136.9 158.3h0M157.3 122h0M229.9 92.6h0M212.8 114.4h0M183 144.9h0M151.2 131.9h0M133.3 142.8h0M192.1 150h0M236.1 112.7h0M146.1 99h0M132.7 151.5h0M78.1 139.6h0M98.1 106.6h0M102.3 127.5h0M162.2 116.5h0M230.6 109.3h0M156.6 129.1h0M105.2 128h0M109.6 77.7h0M265.8 136.4h0M199.6 135.3h0M135.2 104.4h0M244.2 121.2h0M264.7 104.7h0M185 96.5h0M166.3 76.8h0M153.1 94.4h0M150.8 109.1h0M248.1 108.9h0M217.9 118h0M257.6 149.8h0M82.8 136.2h0M102.4 125h0M180.6 145.1h0M193 116.5h0M161.8 160h0M179.2 98.8h0M255.5 163h0M188.2 122.3h0M128.3 101.8h0M175.6 132.8h0M135.4 161.5h0M201.6 135.1h0M193.1 95.1h0M217.1 75.2h0M270 141.3h0M175.4 145.2h0M83.7 90h0M174.7 120h0M177.3 75.7h0M233.5 112.5h0M260.8 73.2h0M108.3 172.4h0M252.5 122.1h0M110.5 109.8h0M193.6 152h0M77.1 129.9h0M244.3 95h0M158.2 101.5h0M119.3 141.9h0M264.5 177h0M93.3 48.6h0M146.2 162.2h0M128.7 152h0M147.4 87.8h0M244.1 167.3h0M115.3 106.6h0M187 141.3h0M118.4 142.3h0M199.4 139h0M126 108.9h0M138.9 98.4h0M181 129.9h0M126.3 117.4h0M221.4 137.7h0M120.9 132h0M242.8 133.4h0M215.6 170.3h0M101.9 129.4h0M179.7 138.5h0M89.3 102.2h0M110.4 98.4h0M138.4 98h0M217 70.6h0M199.2 119.3h0M182 97.5h0M112.5 153.7h0M135.4 134.3h0M212.8 155.8h0M173.8 129h0M140.4 133.9h0M89.9 110.4h0M85.3 138.7h0M260.1 177.3h0M159 153.6h0M253.8 126.3h0M124.5 154.3h0M193.6 109.2h0M127 38h0M251.8 127.1h0M120.7 110h0M184.8 122.8h0M268.5 125.2h0M221.5 151.4h0M186.5 124.5h0M148.7 106h0M181.6 126.2h0M77 140.4h0M102.2 85.5h0M131.7 91.1h0M85.5 133.8h0M123.6 145.2h0M160 119.6h0M246.9 143.8h0M259.1 121.4h0M80.3 94.4h0M167.7 97.8h0M212.2 100.6h0M225.9 125.9h0M107.9 122.9h0M77.6 125.8h0M125.8 128.7h0M138.7 142.6h0M113.4 174.2h0M120 154.2h0M207.9 117h0M120.3 111.8h0M113.8 156.7h0M130.1 90.2h0M166.8 149.1h0M115.6 82.7h0M174.8 117.9h0M262.6 175.7h0M239.7 129.5h0M225.7 140.9h0M263.7 153.3h0M259.6 129.5h0M186.2 164.9h0M213.8 157.9h0M146.4 137.1h0M183.3 128.1h0M259.4 116.6h0M160 102.7h0M207.1 126.6h0M168.7 86.4h0M95.1 87.2h0M151.6 40.7h0M103.2 129.2h0M258.2 120.7h0M223.6 187.4h0M163.6 162.9h0M90.3 135.7h0M98.7 73h0M128.4 134.6h0M180.5 140.2h0M97.3 124.4h0M148.4 117.8h0M112.2 139.3h0M96.9 149.5h0M100.2 130.6h0M100.2 131.1h0M241.6 163.4h0M112 155.4h0M98.4 100.8h0M241.5 81.1h0M267.4 112h0M222.3 120.5h0M90.7 153.6h0M103.1 157.6h0M105.1 146.8h0M95.6 133.9h0M171.8 126.9h0M87.3 160.9h0M234.4 74.4h0M157.9 156.3h0M115 99.4h0M94.7 114.1h0M189.4 148.9h0M231 158.4h0M192.1 100.6h0M123.5 146.1h0M236 111.1h0M178.6 123.5h0M192.6 141.4h0M256.8 152.4h0M210.6 136.2h0M99.4 112.3h0M214.4 114.5h0M134 108.8h0M233.4 159.5h0M188.1 109.3h0M183.8 143.3h0M104.3 143.9h0M81.6 119.7h0M270.2 134.8h0M82.2 124.3h0M86.5 129.9h0M167.4 150.3h0M262.7 170.5h0M183.9 63.1h0M273.6 158.3h0M218.6 94.1h0M239.5 119.5h0M239.2 168.5h0M263.8 162h0M269 132.6h0M141.4 90.8h0M217.1 84h0M177.3 159.9h0M270.9 126.8h0M193.8 158.6h0M155.8 98.8h0M82.9 158.4h0M221.2 165.8h0M78.7 113.4h0M205.2 99.4h0M128.9 122.8h0M210.6 113.4h0M273.5 95.8h0M145.5 122.8h0M187.1 143.9h0M186.9 107.6h0M108.6 126.4h0M223 153.4h0M216.1 75.3h0M229.7 146.5h0M120.1 164.2h0M89.7 65.8h0M154.5 118.2h0M99.5 83.4h0M131.2 92.8h0M79.5 164.1h0M156.2 100.7h0M147.9 138.4h0M141.1 121.8h0M152.9 107.1h0M84.2 105.6h0M162.7 100h0M206.3 121.4h0M140.7 122.1h0M188.9 106.7h0M235.8 142.7h0M180.7 123.2h0M260.6 183.2h0M229.6 96h0M187.1 141.8h0M92.8 146.9h0M169.4 109.8h0M83 159.5h0M266.4 78.7h0M85.4 126.4h0M117.6 89.2h0M112.6 141.7h0M247.6 90.4h0M256.8 113.6h0M220.7 118.7h0M246 151.7h0M128 95.4h0M254.4 140.5h0M96.3 114.5h0M137.7 126h0M247.2 152.2h0M213.7 131.5h0M261.9 94.8h0M245.1 142h0M118.2 135.2h0M159.4 108.9h0M273 107.1h0M216.1 134.9h0M234.2 121.1h0M92.7 144.4h0M266 147.3h0M185.7 136.7h0M106.7 131.9h0M190.3 129h0M258.3 142.1h0M184.5 153.4h0M273.8 133.1h0M260.8 72.8h0M175.1 126.1h0M268.6 153.5h0M228.9 146.1h0M126.9 131.2h0M95.8 148.7h0M81.6 167.5h0M179.9 141.7h0M226.4 105.9h0M102.2 115.4h0M116.4 101.4h0M270 156.5h0M236.8 76.2h0M140.5 117.1h0M263.8 151.2h0M171.2 126.9h0M126.7 129.4h0M144.8 144.7h0M130.3 155h0M214.5 137.7h0M150.6 109.1h0M191.2 122h0M199.6 141.2h0M176.6 115.6h0M166.3 129.9h0M146.3 135.1h0M122.7 152.2h0M94.9 82.7h0M215.3 163.7h0M79.3 164.1h0M222.1 133.4h0M226.2 125.8h0M236.6 113.9h0M203.9 152.1h0M265.7 111.2h0M152.3 128.4h0M167.5 121h0M133.7 116.3h0M78.2 162.8h0M163.3 148.9h0M175.5 106.4h0M168.5 138.1h0M83.4 106.2h0M108 124.9h0M130.5 121.8h0M157.6 118.4h0M117 135.8h0M148.6 163.8h0M133.3 143.8h0M97.7 151.2h0M250.6 76.9h0M197.1 158.5h0M271.9 118.3h0M196.2 176.5h0M198.6 176.2h0M148.6 113.9h0M236.4 143.3h0M168.2 156.8h0M240 116.1h0M169.1 106.3h0M223.3 133.6h0M208 154.8h0M155.1 150h0M94.3 150.1h0M122.5 120.9h0M163.8 110.5h0M170.7 89.9h0M118.9 153.1h0M128.1 94.8h0M140.7 100.2h0M185.2 105.8h0M94 89.1h0M157.1 119.4h0M211.9 115.2h0M242.6 108.1h0M178.9 115.1h0M265.2 158.4h0M222.5 158.1h0M233.4 124h0M103.1 116.5h0M176.8 75.7h0M83.2 150.9h0M209.2 123.8h0M140.9 168.3h0M251.3 125.1h0M102.2 142.4h0M91 187.5h0M154.9 161.1h0M107.7 117.9h0M185.6 92.1h0M162.5 86.5h0M80.8 120h0M124.6 124.9h0M106.6 124.3h0M111.7 117.8h0M272.5 145.6h0M191.6 144.2h0M231.1 66.9h0M152.9 127.3h0M112.2 96.4h0M143 170.7h0M214.6 178.2h0M158.3 111.7h0M186.7 145h0M178 118.4h0M211.8 159.4h0M81.7 154.8h0M253 133h0M168.1 120.2h0M148 117.9h0M133.7 161.4h0M245.3 124.8h0M128.9 104h0M135.9 92.2h0M253.4 136.4h0M169.7 126h0M85.8 169.2h0M100.4 141.5h0M226.2 123.6h0M141 125.2h0M136.8 140.9h0M134.9 110.5h0M269.7 138.1h0M254.5 114.6h0M234.3 145.5h0M232.9 172.6h0M230.8 129.8h0M137.1 130.1h0M240.2 106.6h0M173.9 111.9h0M110.9 145.1h0M126.4 119.7h0M172 111.3h0M272.5 144.6h0M199.4 103.8h0M199.9 167.2h0M86.6 97.2h0M89.6 136.5h0M136.3 119.8h0M165.3 120.4h0M261.1 126.3h0M86.5 128.2h0M220.1 136.9h0M199.8 121.8h0M124.8 132.9h0M258.7 104.4h0M152 103.9h0M242.6 125.5h0M130.6 107.4h0M189 97.3h0M230.9 115.6h0M248 106.9h0M147.4 133.3h0M118.2 121.3h0M206.4 83.1h0M203.6 151.2h0M85.5 102.7h0M195.9 105.9h0M263.7 103.2h0M125.2 125.8h0M201 126.4h0M258.6 105.8h0M152.8 124.9h0M239.1 139h0M254.6 119.1h0M85.8 160.3h0M134.5 133.2h0M124.7 147.2h0M257 103.3h0M195.7 141.5h0M100.7 161.2h0M152.1 150.4h0M130.3 109.5h0M274.1 75.4h0M251.3 137.3h0M245.5 183.1h0M97.9 104h0M152.1 94.5h0M164 29.8h0M140.4 156.7h0M252.5 118.8h0M166.8 126.9h0M228.3 141h0M192.1 138.9h0M156.3 146.4h0M93.8 151h0M246.6 105.2h0M171.8 106.2h0M90.7 144.2h0M171.3 124.3h0M85.1 136.5h0M139.5 103.1h0M254.8 101.7h0M144.6 121.2h0M142.3 159.7h0M136.7 124.8h0M189.6 123.8h0M175.5 136.8h0M152.1 151.3h0M245.7 119.2h0M169.4 113.9h0M242.8 136.1h0M156.5 117.8h0M146.1 126.8h0M111.2 127.1h0M89.6 146.6h0M189.9 78h0M147.1 114h0M105.2 124.5h0M181 115.9h0M219 154.1h0M201.5 111.5h0M80 102.4h0M149.9 137h0M209.9 94.9h0M155 158.4h0M163.6 119.4h0M233.2 146.1h0M106.9 173.3h0M110.2 127.6h0M228.9 108.5h0M259.3 103.9h0M108.9 99.1h0M87.8 156.4h0M238.7 115.6h0M189 134h0M124.7 184.7h0M85.5 159.6h0M185.7 138.3h0M106.6 106.4h0M255.3 110.2h0M256.3 169.5h0M222.6 147h0M271.9 137.2h0M137 122.5h0M99.7 149.4h0M204.2 147.4h0M124.8 110.8h0M214.6 137.6h0M90.8 163h0M144.3 94.1h0M207 154.2h0M262.6 132.1h0M93.2 142.2h0M166.1 147.1h0M264.5 84.9h0M86.9 155.3h0M166.8 132.8h0M225 124.4h0M171.6 116.5h0M245.8 92.3h0M156.4 127.1h0M137.1 86.6h0M81.2 158.1h0M174.1 138.1h0M271.2 109.2h0M258 140.9h0M76.3 83.8h0M82.5 108.8h0M87.8 107.2h0M247.1 108.7h0M148.7 117.3h0M131.1 111.5h0M224 112.3h0M143.4 143.6h0M152.4 160.7h0M215 119.3h0M253.8 146.5h0M111.5 97.3h0M116.7 146.7h0M115.8 173.2h0M264.1 155.6h0M187.5 141h0M239.5 157.6h0M113.9 84.6h0M248.1 124.8h0M135.5 95.5h0M199.6 162.5h0M119.3 107.4h0M178.2 137.4h0M226.1 115.6h0M111.3 150.8h0M268 130.7h0M245.1 127.9h0M216.2 118.8h0M226.2 137.8h0M132.7 116.9h0M94.6 137.1h0M140.9 107.3h0M102.6 102.9h0M142.7 105.3h0M228.9 110.6h0M110.3 142.5h0M90.9 98.2h0M236.9 125.8h0M261.7 139.5h0M157.8 174.4h0M119 129.5h0M252.3 125.6h0M87.5 154.8h0M145.2 108h0M236.4 135.9h0M221.7 117.8h0M227.8 163.2h0M171.9 121.3h0M216.2 159.7h0M136.7 187h0M248.4 139.4h0M233 142h0M263.7 166.2h0M228.5 131.6h0M221.1 160.2h0M113.9 161.4h0M189.5 148.2h0M91.3 162.7h0M258.7 126.6h0M235 171.3h0M182.6 100.6h0M241.9 143.2h0M249.1 133.7h0M147.3 119.2h0M210.1 90.4h0M102.4 105.5h0M86 155.7h0M230.1 112.1h0M119.5 118.3h0M156.8 132.7h0M173.6 107.8h0M264.1 187.6h0M231 121.8h0M185.4 82.1h0M237.1 128.3h0M125.7 78.9h0M93.3 160.3h0M126.9 127h0M194.7 108.9h0M143.1 170.7h0M272.9 135.5h0M186.1 114.2h0M189.3 159.3h0M223.8 124.2h0M178.7 91.8h0M110.8 112.8h0M116.3 137.4h0M166.5 150.8h0M126.5 138.8h0M117.4 139.1h0M149.4 140.3h0M235.8 118.9h0M248.3 128.3h0M128.6 110.8h0M115.5 163.5h0M83.3 133h0M78 143.7h0M149.2 154.4h0M114.7 158.1h0M176.4 79.6h0M102.3 66.7h0M200.9 110.4h0M187.1 151.7h0M258 146.6h0M237.5 118.6h0M100.4 126.9h0M185 154.4h0M149.2 129.3h0M84.4 175.9h0M185.6 177.1h0M270.3 122.3h0M105.1 123.1h0M77.2 115.5h0M115.6 147.4h0M161.7 144.5h0M128.8 119.1h0M214.1 153.9h0M129.4 167.3h0M247.9 129.9h0M101.7 177.7h0M107.1 168.3h0M269.1 152.8h0M90.8 73.1h0M226.4 166.5h0M92.8 68.6h0M107.8 146.4h0M200.5 105.4h0M240.3 136.3h0M198.9 118.7h0M274.4 163.5h0M272.4 136.7h0M106 85.3h0M169 123.2h0M169.6 152.3h0M113.3 178.1h0M207.3 125.2h0M249.3 168h0M223.3 142.9h0M233.2 179.3h0M128.1 103.9h0M188.8 168.4h0M111.4 125h0M228.1 103.5h0M261.3 125.9h0M175.3 156.3h0M179.3 159.6h0M223.2 107.1h0M254 142.1h0M94.5 134.2h0M226.1 128.5h0M254.4 127h0M117.7 154.4h0M134.9 153.1h0M169.8 86.4h0M194.6 82.1h0M167.3 128.3h0M153.4 134.6h0M160.1 125.8h0M138 120.6h0M206.3 115.3h0M262.8 150h0M272.3 149.6h0M152.2 132.1h0M85.1 148.2h0M202.4 104.5h0M265.9 151h0M265.8 125.8h0M212.8 149.7h0M150.7 153.6h0M92.7 119.8h0M168.1 140.6h0M206.5 151.3h0M220 154.3h0M207.8 135.5h0M232.7 134.5h0M98.6 120.3h0M179.2 122.9h0M166.1 121.8h0M175.9 123.9h0M168.9 116.1h0M196.5 178.4h0M97.4 130h0M78.3 137.2h0M163.1 146.7h0M193.3 119h0M160.6 75h0M178.6 113.6h0M156 101.8h0M237.9 165.8h0M237.4 144.4h0M106.2 136.9h0M200.3 147.2h0M180.3 129.2h0M87.3 123.1h0M93.7 138.3h0M238.2 123.4h0M218.6 151.6h0M107.6 182.5h0M192.9 104.9h0M254 104.2h0M180.3 105.9h0M195.8 143.5h0M210.9 148.9h0M181.5 135.6h0M251.2 145h0M127 121.6h0M121.1 139.4h0M96.2 108.5h0M164.6 124.5h0M141.2 152.3h0M175.6 64.9h0M110.9 110.7h0M171.8 150.2h0M174.9 156.5h0M137 139.9h0M236.2 145.8h0M176.7 132.3h0M194.5 143h0M265.7 169.7h0M250.7 124.5h0M204.5 122.9h0M77.2 126.3h0M204.4 111.8h0M136.9 156.6h0M125.3 114.7h0M196.6 172.1h0M111.2 151.5h0M222.6 159.6h0M230.7 175.1h0M103.6 93.6h0M106.4 144.4h0M260.3 111.5h0M82.3 97.2h0M235 107.4h0M224.8 127.5h0M216.1 103h0M82.9 128.1h0M263.6 143.7h0M117.1 157.1h0M249.9 128.3h0M175.8 119.6h0M141 126.9h0M111 96.7h0M78.5 131.7h0M122.8 152h0M99.3 151.6h0M77.5 78h0M208.5 166h0M270.6 99.4h0M178.5 142.6h0M239.4 108.3h0M269.3 137.1h0M92.2 98.1h0M160.8 115.8h0M160.1 153.6h0M125.7 165.7h0M219 118.6h0M186.4 98.1h0M109.6 113.8h0M264.4 151.1h0M99.9 121.7h0M86.1 113.3h0M226.6 155.2h0M161.2 98.7h0M206 138.7h0M82 114.1h0M92.1 89h0M132.8 114.6h0M141.4 142.1h0M181.2 134.1h0M139.5 113h0M122.3 146.6h0M265.5 152.4h0M102.6 131.7h0M176.2 165.2h0M120.7 105h0M237.7 97.3h0M199.4 115.4h0M199.7 136.6h0M162.8 114.6h0M167.4 116.4h0M273.6 149.4h0M160.7 91.8h0M207 120.8h0M93.7 126.8h0M180.6 149h0M226.6 141.5h0M169.5 124.6h0M220.9 141.3h0M208.4 136.5h0M98 126.8h0M171.1 162.7h0M82.4 126.5h0M94.3 120.2h0M210.1 136.3h0M119.9 114h0M86.3 116h0M169.4 115.1h0M215.1 144.2h0M131.9 111.8h0M114.1 95.7h0M122.1 117.3h0M80.8 160.4h0M84.5 103h0M168.2 158.3h0M119 94.3h0M161.3 145.1h0M257.9 103h0M236.2 93.4h0M240.7 169.9h0M261.1 164.7h0M208.9 115.8h0M163.3 96.7h0M90.8 140h0M219.8 138.5h0M98.3 155.1h0M136.5 127.9h0M132 155.5h0M262.8 154.1h0M248.6 146.9h0M126.8 113.1h0M150.7 122.9h0M171.2 150.8h0M85.7 121.8h0M80 126.3h0M189.4 86.5h0M175.7 72.5h0M201.4 134.8h0M251 125h0M103.7 145.6h0M254.5 139.8h0M117.9 154.3h0M259.8 132.8h0M107.7 132.5h0M155.7 142.8h0M222.7 124.5h0M116 120.6h0M99.5 140.4h0M129.7 144.1h0M143.1 125h0M252.5 55.7h0M126.1 132.1h0M211.9 126.3h0M242.3 44.8h0M78.8 141.1h0M130.7 117.7h0M255.8 86.1h0M191.9 110.9h0M109.9 150.8h0M174.3 131.3h0M155.8 107.1h0M242.4 147.6h0M233.9 151.3h0M140.7 106.6h0M271.8 127.2h0M85.7 127.8h0M257.2 160.9h0M95.5 125.8h0M186.5 152.1h0M159.5 96.9h0M240 124.5h0M171.8 138h0M132.2 167.5h0M218 179.1h0M152.2 132.9h0M160.8 136.7h0M238.6 135.5h0M147.1 156.6h0M181.7 173.3h0M237.1 104.2h0M240.7 156.4h0M212.2 144.1h0M217.4 128.1h0M95.1 120.7h0M184.7 153.7h0M195.2 110.6h0M104.3 115.9h0M253 92.6h0M210.6 143.2h0M96.7 163h0M100.4 145.5h0M96.8 115.5h0M105 134.3h0M193.5 132.5h0M95.6 68.3h0M157.5 81h0M133.6 158h0M206.2 108.7h0M217.9 115.8h0M203.2 143h0M194.7 138.3h0M186.9 97.5h0M228.9 159.3h0M175.9 134.4h0M118.8 169h0M97.9 112.2h0M195.6 143.6h0M236.4 122.2h0M219 128.9h0M217 145.4h0M230.8 113.8h0M92.2 137.9h0M245.5 163.3h0M82.4 139h0M187.5 97.9h0M158.9 169.2h0M102.4 93.9h0M190.2 148.6h0M99.1 141.1h0M86.2 108.3h0M217.6 118.3h0M253.6 124h0M163.8 156h0M236.7 109.9h0M266 138.5h0M221.6 117h0M160.1 126.8h0M263.9 109.8h0M125.4 68.1h0M123.6 106.8h0M209.5 121.1h0M240.4 103.8h0M128.1 99.7h0M138.6 134.5h0M81.7 110.3h0M95.1 114.8h0M141.8 149.3h0M95 151.2h0M80.6 107.8h0M229.5 143.9h0M252 126.5h0M103.3 122.1h0M144.4 168.1h0M79.3 111.7h0M159.9 108.9h0M99.9 142h0M189.2 102.4h0M211 93.7h0M218.7 99.2h0M96.9 163.4h0M235.2 133.9h0M243 159.7h0M130.1 162.7h0M269.9 146.3h0M143.3 148.6h0M127.4 121.7h0M107.7 106.1h0M267.7 143h0M272.1 154.4h0M232.1 94h0M135.9 114.3h0M113.3 141h0M238.6 160h0M239.3 128.7h0M213.8 117.7h0M79 78.8h0M94 77.4h0M189.9 137.6h0M84 153.1h0M238.9 46.9h0M270.7 123.4h0M270.7 113.4h0M241.3 112.1h0M83.9 142.4h0M98.7 106.3h0M271 129.2h0M98.5 127.1h0M77.1 124.1h0M99.1 111.1h0M251 160.7h0M135.7 97.4h0M224.6 120h0M262.7 138.3h0M146.8 131.8h0M261.5 133.4h0M251.7 125.4h0M100.4 141.7h0M101.6 127.8h0M255.5 122.7h0M242.9 122.2h0M240.2 170.5h0M208.9 106.8h0M266.8 121.1h0M160.1 119.9h0M239.1 90.2h0M230.3 121.3h0M163 116.6h0M134.3 131.1h0M99 101.6h0M265.8 104.9h0M239.2 143.4h0M224.1 139.2h0M126.2 129h0M239.4 142.3h0M115.2 126.1h0M202.6 123.1h0M108.4 178.7h0M166.3 77.6h0M197.8 150.8h0M219.3 86.5h0M258.7 137.3h0M266.8 112.7h0M227.5 126.8h0M85.1 144.2h0M153.2 111.8h0M220.7 140.6h0M249 157h0M80.6 142.1h0M155.7 100.2h0M262.3 167.2h0M260.8 147.2h0M252.1 99.5h0M106.6 102.5h0M140.3 105.8h0M259.2 151.7h0M268 107.1h0M215.5 154.5h0M217.5 98h0M126.4 151h0M217.5 124.2h0M128.5 115.8h0M243.7 129.8h0M196.5 137.1h0M132.6 128h0M105.7 124.1h0M100.9 119.5h0M106.6 155.8h0M258.5 130h0M149.6 126.4h0M189 139.7h0M105.4 146.8h0M254.6 129.8h0M273.6 145.1h0M178.6 117.3h0M265.2 132.7h0M269.2 143.3h0M210.6 105.1h0M104.6 105.3h0M207.5 113.2h0M112.5 138.7h0M254.3 113.1h0M253.6 167.6h0M112.1 117.4h0M146.6 126.6h0M212.2 122.8h0M124 125.1h0M243.9 119.5h0M177.2 78.5h0M205 135.3h0M166.7 112.2h0M237 144.7h0M233.7 92.6h0M236.2 130.9h0M148.8 102.5h0M147.4 124.2h0M124.5 127.2h0M255.2 141.8h0M99.6 168.2h0M146.9 138.9h0M83 136.5h0M206.7 101.9h0M267.2 136.3h0M182.8 108.3h0M83.1 131.7h0M146.4 112.6h0M207.9 82.5h0M108.3 167.1h0M179.6 112.4h0M143.4 142.4h0M85.1 134.7h0M232 114.8h0M133.9 82.5h0M112.3 114.6h0M207 136.3h0M163.7 131.3h0M140.7 81.8h0M96.6 162.4h0M272.7 125h0M194.3 113.1h0M164.4 156.6h0M193 150.3h0M166.4 93.6h0M233.2 112.2h0M248.5 117.6h0M136.3 138.3h0M261.4 109.2h0M134.9 157.1h0M263.9 145.7h0M215 137.8h0M86.9 117.4h0M199.9 122.6h0M246.5 95.9h0M86.6 118h0M116.1 150h0M157.8 139.3h0M153.7 126.3h0M271.3 129.2h0M93.3 136.6h0M111.4 39.4h0M202.2 127.2h0M98.5 149.9h0M199.1 126.7h0M201.7 110.1h0M186.1 101.5h0M160.1 155.8h0M169.5 107.3h0M149.9 77.3h0M153.3 128.9h0M145.4 166.4h0M137.1 146.3h0M110.5 123.6h0M188.1 157.2h0M196.9 136.5h0M184.6 151.6h0M177.3 131.7h0M237.5 123.8h0M257.9 136.6h0M88.6 123.3h0M156.8 125.7h0M169.8 124.8h0M95.9 127.8h0M142.4 135.3h0M159.3 130.6h0M84.2 122h0M162.3 97.7h0M96.5 115.9h0M156.9 82.1h0M115.8 128.9h0M96.4 113.6h0M88.9 119.1h0M178.6 155.5h0M76.8 107.7h0M155.2 144.5h0M88.2 143.5h0M213.2 105.8h0M205.4 138.7h0M106.7 134h0M148.6 66.6h0M220.2 142.1h0M101.7 163.1h0M237.9 133.8h0M207.8 21.9h0M263.5 121.1h0M195.9 117.7h0M85 130.5h0M157.6 171.5h0M213.2 125.8h0M169.5 133.4h0M150.2 121.4h0M126 124.4h0M213.5 162.8h0M107.1 117.5h0M228.1 163.5h0M132.1 137.2h0M191.1 142.6h0M259.6 92.4h0M249.1 148.1h0M94 147.9h0M177.7 139.1h0M206.4 166.7h0M108.5 97.7h0M214.7 102.8h0M207.4 106.2h0M167.5 164h0M234.2 115.5h0M76.8 94h0M260.9 113.5h0M94.3 54.4h0M229.5 144.1h0M107.3 116.3h0M78.5 123h0M195 115.3h0M185.5 128.1h0M224.2 159h0M247.6 148.2h0M168.9 164h0M180.7 157.9h0M193.2 112.3h0M142.5 119.2h0M235.6 149h0M228 144.4h0M107.8 103.6h0M213.6 156.2h0M118.9 101.9h0M132.7 152.8h0M190.5 146h0M163.8 128.7h0M191.2 114.1h0M123.2 88.7h0M227.1 162.9h0M98.4 154.6h0M77.7 152.5h0M117.2 123.6h0M176.2 124.8h0M245.5 115.7h0M143.8 82.3h0M93.6 91.6h0M272.5 122.8h0M212 89.7h0M132.5 128h0M121.5 109.4h0M106 116h0M98.4 159.4h0M219.2 118.9h0M99.2 129.2h0M211.4 152.8h0M156.2 161.3h0M201 74.8h0M149.4 130.1h0M99.5 121.9h0M76.2 123.6h0M242.2 157.5h0M240.7 84.2h0M102.1 133.2h0M130.9 129.4h0M166.8 114.5h0M262.6 121.6h0M149.2 121.1h0M187.2 86.9h0M77.8 128h0M88 165.1h0M223 123.9h0M178.2 80.8h0M89.2 121.4h0M220 125h0M116.6 121.8h0M255.6 162.3h0M272.8 131h0M265.1 124.8h0M112.4 113.3h0M194 123.5h0M250.8 160h0M200.6 167.1h0M89.6 125.2h0M128.1 50.3h0M209.7 127.6h0M151.8 87.3h0M108.7 126.1h0M188.7 160.1h0M246 133.7h0M211.6 133.8h0M128.7 134.1h0M114.5 140.5h0M98.2 167.9h0M130.9 100.5h0M193.9 153.8h0M257.4 104.8h0M129.6 129.2h0M224.8 124.4h0M265.1 105.4h0M230.2 141.8h0M273.7 95h0M124.7 124.3h0M185.2 132.8h0M250.3 125h0M103.7 149h0M91.3 163.9h0M203.2 135.2h0M194.4 96.3h0M256.6 125.6h0M207.2 128.9h0M180.1 66.3h0M200.8 125.4h0M240 143.9h0M158.3 179.4h0M157 131.5h0M215.3 114.2h0M88.2 186.5h0M168.1 133.4h0M105.9 171.3h0M168.8 139.7h0M78.9 124.2h0M86.3 53.3h0M182.9 136.2h0M136.9 104h0M216.6 139.5h0M187.5 108.5h0M172.9 137.1h0M247 105.9h0M86 162.7h0M262.4 135.5h0M93 64.8h0M85.8 94.3h0M267.6 97.2h0M108.4 143.6h0M168.1 140.5h0M148.7 129.1h0M129.6 118.6h0M178.1 127.5h0M251.5 150.1h0M160.6 130.1h0M201.5 170.5h0M266.3 132.8h0M165.7 163.7h0M140.9 161.4h0M172.4 113.8h0M234.7 167.7h0M213.2 57.3h0M267.8 112.9h0M143.5 71.3h0M262.5 140.3h0M151.9 155.5h0M79.1 95.2h0M204.4 136.2h0M262.8 146.5h0M123.6 142.8h0M255.1 166.6h0M243.5 122.6h0M139.7 164.4h0M232.2 153.7h0M140.9 136.6h0M200.9 83.3h0M175.7 98.8h0M117.4 138.4h0M161.7 112.3h0M155.9 132.7h0M92 107.1h0M251.1 146h0M135 121.8h0M140.3 119.4h0M266 184.5h0M155.3 47.7h0M154.9 132.1h0M243.6 139h0M144.9 161.3h0M265.8 131.2h0M170.9 124.2h0M151.5 132.7h0M139.6 131.1h0M137.9 129.5h0M270.2 109.8h0M173.2 130.6h0M91.7 91.2h0M231.2 149.1h0M255 152h0M267.2 118.4h0M90.5 144.4h0M126.4 119.9h0M241.2 121.2h0M240 126.5h0M240.2 157h0M110.4 104.7h0M228 144.8h0M223.4 133.1h0M256.1 107.5h0M164.9 136.1h0M205.3 137.7h0M116.2 61.8h0M224.3 98h0M79.5 140.8h0M246.8 129.1h0M210.2 135.8h0M138.7 127.4h0M115.9 134.9h0M170.1 146.4h0M223.7 147.9h0M260.8 127h0M268 136.9h0M183.7 123.4h0M135.4 144.5h0M101 111.2h0M221 142.9h0" stroke="#4472C4" stroke-width="2.9" stroke-linecap="round" fill="none"/>
<path d="M76.2 130.8 L81.3 130.4 L86.4 129.9 L91.5 129.5 L96.6 129.1 L101.7 128.8 L106.8 128.4 L111.9 128.1 L117.0 127.9 L122.1 127.6 L127.2 127.4 L132.3 127.2 L137.4 127.1 L142.5 126.9 L147.6 126.8 L152.7 126.8 L157.8 126.7 L162.9 126.7 L168.0 126.7 L173.1 126.8 L178.2 126.8 L183.3 126.9 L188.4 127.0 L193.5 127.2 L198.6 127.4 L203.7 127.6 L208.8 127.8 L213.9 128.1 L219.0 128.3 L224.1 128.7 L229.3 129.0 L234.4 129.4 L239.5 129.8 L244.6 130.2 L249.7 130.7 L254.8 131.2 L259.9 131.7 L265.0 132.2 L270.1 132.8 L275.2 133.4" stroke="#C00000" stroke-width="4.5" fill="none" stroke-linecap="round" stroke-linejoin="round"/>
<text transform="translate(38,195) scale(1.05,1)" text-anchor="end" font-size="14" fill="#000" stroke="#000">30</text>
<text transform="translate(38,169.26) scale(1.05,1)" text-anchor="end" font-size="14" fill="#000" stroke="#000">35</text>
<text transform="translate(38,143.51) scale(1.05,1)" text-anchor="end" font-size="14" fill="#000" stroke="#000">40</text>
<text transform="translate(38,117.77) scale(1.05,1)" text-anchor="end" font-size="14" fill="#000" stroke="#000">45</text>
<text transform="translate(38,92.03) scale(1.05,1)" text-anchor="end" font-size="14" fill="#000" stroke="#000">50</text>
<text transform="translate(38,66.29) scale(1.05,1)" text-anchor="end" font-size="14" fill="#000" stroke="#000">55</text>
<text transform="translate(38,40.54) scale(1.05,1)" text-anchor="end" font-size="14" fill="#000" stroke="#000">60</text>
<text transform="translate(38,14.8) scale(1.05,1)" text-anchor="end" font-size="14" fill="#000" stroke="#000">65</text>
<text transform="translate(50.5,211.2) scale(1.05,1)" text-anchor="middle" font-size="14" fill="#000" stroke="#000">100</text>
<text transform="translate(180.25,211.2) scale(1.05,1)" text-anchor="middle" font-size="14" fill="#000" stroke="#000">600</text>
<text transform="translate(311,211.2) scale(1.05,1)" text-anchor="middle" font-size="14" fill="#000" stroke="#000">1100</text>
<text transform="translate(16,115.6) rotate(-90)" text-anchor="middle" font-size="14.1" fill="#000" stroke="#000">Compressive strength_28 days&#160; MPa</text>
<text transform="translate(244,231) scale(1.02,1)" text-anchor="middle" font-size="14" fill="#000" stroke="#000">Sand kg/m3</text>
<line x1="398.7" y1="159.24" x2="670" y2="159.24" stroke="#E3E3E3" stroke-width="1"/>
<line x1="398.7" y1="133.59" x2="670" y2="133.59" stroke="#E3E3E3" stroke-width="1"/>
<line x1="398.7" y1="107.93" x2="670" y2="107.93" stroke="#E3E3E3" stroke-width="1"/>
<line x1="398.7" y1="82.27" x2="670" y2="82.27" stroke="#E3E3E3" stroke-width="1"/>
<line x1="398.7" y1="56.61" x2="670" y2="56.61" stroke="#E3E3E3" stroke-width="1"/>
<line x1="398.7" y1="30.96" x2="670" y2="30.96" stroke="#E3E3E3" stroke-width="1"/>
<line x1="398.7" y1="5.3" x2="670" y2="5.3" stroke="#E3E3E3" stroke-width="1"/>
<line x1="452.96" y1="5.3" x2="452.96" y2="188.6" stroke="#A6A6A6" stroke-width="1"/>
<line x1="507.22" y1="5.3" x2="507.22" y2="188.6" stroke="#A6A6A6" stroke-width="1"/>
<line x1="561.48" y1="5.3" x2="561.48" y2="188.6" stroke="#A6A6A6" stroke-width="1"/>
<line x1="615.74" y1="5.3" x2="615.74" y2="188.6" stroke="#A6A6A6" stroke-width="1"/>
<line x1="670" y1="5.3" x2="670" y2="188.6" stroke="#C8C8C8" stroke-width="1"/>
<line x1="398.7" y1="184.9" x2="670" y2="184.9" stroke="#CDCDCD" stroke-width="1.6"/>
<line x1="398.7" y1="5" x2="398.7" y2="188.6" stroke="#8C8C8C" stroke-width="1"/>
<line x1="394.7" y1="184.9" x2="398.7" y2="184.9" stroke="#BBBBBB" stroke-width="1"/>
<line x1="394.7" y1="159.24" x2="398.7" y2="159.24" stroke="#BBBBBB" stroke-width="1"/>
<line x1="394.7" y1="133.59" x2="398.7" y2="133.59" stroke="#BBBBBB" stroke-width="1"/>
<line x1="394.7" y1="107.93" x2="398.7" y2="107.93" stroke="#BBBBBB" stroke-width="1"/>
<line x1="394.7" y1="82.27" x2="398.7" y2="82.27" stroke="#BBBBBB" stroke-width="1"/>
<line x1="394.7" y1="56.61" x2="398.7" y2="56.61" stroke="#BBBBBB" stroke-width="1"/>
<line x1="394.7" y1="30.96" x2="398.7" y2="30.96" stroke="#BBBBBB" stroke-width="1"/>
<line x1="394.7" y1="5.3" x2="398.7" y2="5.3" stroke="#BBBBBB" stroke-width="1"/>
<path d="M474.7 159.4h0M484.4 148.2h0M620.9 173.3h0M429.8 111.6h0M564.2 159.4h0M598.2 139.6h0M455.2 113.3h0M420.1 130.2h0M478.2 114.3h0M579.4 124.1h0M554.2 137h0M445.2 112.9h0M519.9 89h0M582.5 144.8h0M517.3 52.5h0M573 124.2h0M661.4 169.8h0M586.2 103.6h0M509.1 100.5h0M455 140.2h0M497 95.7h0M540.7 124.8h0M641.2 138.8h0M610.6 136.7h0M489.6 100.8h0M650 76.5h0M530 118.6h0M589 123.5h0M433.8 117.2h0M433.1 70.5h0M458.9 148.9h0M639.4 160.1h0M585.3 149.2h0M630.1 140.4h0M575.9 141.7h0M513 135.8h0M542.1 154.3h0M562.5 157.3h0M633.5 149.9h0M521.4 84h0M641.5 133.2h0M567.8 114.2h0M624.9 147.3h0M537.2 68.1h0M588.7 158.4h0M495.2 157h0M543.8 134.1h0M462.7 89.4h0M432.1 45.1h0M415.7 109h0M591.2 134.8h0M526.2 132.4h0M642.9 131.7h0M626.4 106h0M507.3 117.6h0M663 112.2h0M562.1 89.4h0M608.1 112.4h0M513.2 57.3h0M457.4 181.2h0M450.9 122.4h0M453.4 135.6h0M565.2 95.9h0M435.3 110.4h0M410.7 100.6h0M625.8 98.7h0M431.8 90.1h0M524.7 131h0M534.7 136.8h0M569.6 125.2h0M538.8 116.1h0M653.4 126.9h0M604 93.1h0M557.4 151.4h0M568.8 80h0M539.5 131.5h0M660.7 136h0M465.4 128.5h0M587.7 130.9h0M552.3 118.9h0M416.6 133.3h0M483.8 59.2h0M650.7 118.6h0M613 110h0M408.9 144.6h0M483.9 126.6h0M408.1 112.7h0M624.4 165.8h0M434.7 133.8h0M420.7 162.1h0M665.2 118.1h0M523.4 83.6h0M489.7 161h0M418.4 157.7h0M508.5 91.7h0M502.3 86h0M407.3 137.7h0M444.6 114.2h0M461 107.4h0M522 116.5h0M485.4 119.1h0M567.7 143.5h0M481 116.7h0M646.1 137.2h0M659.9 182.1h0M421.2 122.9h0M460.8 129.1h0M554.4 91.9h0M609.3 126.5h0M422.4 108.7h0M454.4 85.2h0M526.3 131.8h0M582.4 146.6h0M644.4 140.3h0M634.8 164.4h0M615.4 144h0M419.4 125h0M663.8 119.7h0M568.1 138.3h0M428.3 126.1h0M472.9 131.8h0M569.7 130.4h0M507.5 130.5h0M523.6 104.3h0M618.3 171h0M623.5 103.8h0M550.1 154.5h0M615.1 62.4h0M512.9 125.9h0M565.6 114.4h0M661.5 141.3h0M417.1 139.5h0M639 145.4h0M553.4 128.5h0M594.3 110.9h0M456.4 112.4h0M550.6 116.4h0M482 123.3h0M433.4 113.3h0M406.3 77.5h0M645.4 103.8h0M582.9 154.3h0M459.7 154h0M473.7 94.2h0M528.6 112.7h0M621.9 85.8h0M436.6 165h0M661.5 112.3h0M655.2 173.9h0M470.2 66.8h0M575 145.3h0M500.7 99h0M589.9 99.3h0M428.5 138h0M529.8 90.3h0M561.1 117.3h0M571.2 114.1h0M588.7 129.9h0M641.3 132.5h0M469.3 91.4h0M446 156h0M508.8 183.3h0M555.9 122.2h0M659.6 166.7h0M593.4 95.7h0M600.8 145.1h0M662.8 126h0M476.3 145.2h0M474.1 110.3h0M517.3 127.6h0M483.6 102.1h0M577.7 132.2h0M657.2 152.5h0M446.1 141.9h0M542.5 143.8h0M584.7 61.1h0M535.9 117.6h0M647.2 109.6h0M600.4 138.2h0M638.8 124.2h0M435 97.6h0M457.3 101.7h0M422.9 134.7h0M624.9 145.3h0M660.2 125.7h0M409.2 121h0M614.3 104.5h0M598 116.2h0M645.7 97.9h0M477 146.6h0M594.6 120.8h0M468.3 164.2h0M425.6 113.3h0M602.6 149.7h0M416.6 118.9h0M590.5 157.4h0M480.5 152.7h0M534.4 91.5h0M641.3 131.1h0M469.9 132.8h0M529.4 145.4h0M499.4 113.5h0M455.8 121.2h0M530.8 124.4h0M453.5 108.6h0M616.8 115.6h0M568.1 178.6h0M480.4 100.5h0M662.9 148.3h0M496.8 136h0M583 60.5h0M599.4 123.8h0M475.6 146.1h0M408.6 139.3h0M641.6 90.8h0M658.5 81h0M450.5 99.3h0M446.1 114.4h0M519.9 100.1h0M563.6 146.2h0M667.1 145.4h0M660.3 142.8h0M666.8 152.6h0M470.4 140.4h0M563.9 127.5h0M520.8 82.6h0M466.7 83.8h0M422.8 114.1h0M450.1 123.5h0M500.3 127.7h0M428.8 93.4h0M445.4 147h0M417.3 116.3h0M570.3 120.7h0M535.8 111.2h0M469.9 165.6h0M544.7 172.6h0M517.8 113.8h0M579.8 99.4h0M652.2 142.7h0M498.9 154.3h0M576.1 82.2h0M463.4 95.8h0M654.1 151.7h0M568.9 46.8h0M447.5 115.6h0M473.5 16.7h0M447.6 140.2h0M452.9 91.4h0M486.6 111.8h0M623.2 121.5h0M526.4 131.7h0M478.8 137.6h0M516.3 149.3h0M476.2 168.5h0M599.6 93h0M421 175.5h0M482 162h0M491 101.1h0M453.5 126h0M600.7 139h0M453.2 77.4h0M485 157.8h0M420.4 134.5h0M605.3 113.4h0M501.7 94.2h0M579 171.7h0M462.9 113.7h0M411.2 116.3h0M490.8 116.3h0M611.6 135.1h0M627 129.9h0M497.8 153.3h0M629.5 129.9h0M418.8 108.3h0M543.6 146.1h0M473.6 92.6h0M521.6 162.9h0M464.1 153.9h0M641.8 137.8h0M485.4 133.5h0M655.5 165.4h0M434.3 120.6h0M519.2 145.4h0M522.8 133.5h0M593.1 123.3h0M496.7 92.8h0M535.8 131.5h0M424.1 131.6h0M487.8 119.7h0M597.3 162.3h0M433.5 132.3h0M527.8 73.3h0M468.1 131.1h0M449.3 147.8h0M437.6 143.7h0M620.8 159.2h0M587.1 99.9h0M505.9 119.5h0M509.1 145.1h0M565.2 126.6h0M647.8 110.6h0M648.7 165h0M533 99.8h0M579.8 151.1h0M549.6 134.2h0M487.6 116.1h0M525.4 116.6h0M596.2 162.5h0M551.7 136.2h0M572.8 164.7h0M534.3 117.4h0M657.6 171.1h0M610.9 130.1h0M440.1 128.2h0M620.8 73.2h0M648.2 163h0M621.5 134.2h0M496.2 136.8h0M502.8 128.9h0M469.8 126.2h0M420.2 80.1h0M530.4 156.7h0M630.4 174.7h0M608.8 28.5h0M580.6 153.8h0M629.6 131.1h0M579.8 83.8h0M464.6 115.5h0M617.9 138.5h0M502.7 109.5h0M640.9 165.3h0M491.8 112.9h0M429.8 131.5h0M598.6 111.1h0M434 128.1h0M635.7 84.1h0M514.4 90.1h0M611.8 93.5h0M419.4 17.4h0M549.3 115.3h0M584.5 102.6h0M439.7 131.2h0M566.4 136.9h0M443.3 122.8h0M485.9 136.4h0M502.1 113.9h0M569.4 75.8h0M439.9 127.2h0M454.4 124.7h0M612.1 131h0M594.8 142.7h0M525.6 141.6h0M480.1 87.8h0M588.6 130.7h0M529.2 122.4h0M487.9 91.7h0M636.9 152.2h0M458.9 118.6h0M618.2 146.7h0M568.9 113.3h0M576.4 132.1h0M585.9 154.3h0M603.4 162.5h0M638.5 153h0M649 102.6h0M473.1 97.4h0M448.8 179.3h0M642.6 137.5h0M459.4 174.9h0M464.2 89.5h0M618.5 157.3h0M661 115.7h0M628.9 164.9h0M542.2 118.7h0M504.8 121.8h0M667 173h0M600.2 118.7h0M571.9 108.3h0M408.4 133.7h0M457.1 100h0M409.1 130.2h0M645.4 126.5h0M468 109.6h0M450.7 118.5h0M559.6 119h0M459.2 121.9h0M550 122.6h0M656.7 131h0M634 126.4h0M470.3 159h0M511.1 129.4h0M543.8 152.8h0M491.4 120h0M670 61.9h0M486.7 113.1h0M600.5 143.6h0M569.5 116.5h0M587.7 90.6h0M433 113.7h0M547.5 106.2h0M669.2 168.9h0M554.4 157.1h0M457.5 108.6h0M419.4 124.1h0M492.8 116.3h0M602.7 162.8h0M412 140h0M418.3 134.3h0M579.3 111.1h0M638.8 143.8h0M521.5 113.7h0M570.6 118.4h0M473.5 72.8h0M477.6 146.8h0M531.1 120.2h0M463.4 162.7h0M525.5 136.1h0M444.7 129.6h0M649.9 175.9h0M576.9 130.5h0M430.4 122.6h0M456.6 57h0M624.8 104.5h0M504 105.9h0M474.3 131.7h0M411.7 109.8h0M584.1 123.6h0M556.3 103.2h0M627.8 154.8h0M450.4 121.4h0M604.5 149.2h0M624.3 163h0M623.5 145.9h0M602.9 154.5h0M522.5 120.4h0M418 112.3h0M575.9 89.2h0M412.3 60.2h0M428.2 155h0M513.7 149.1h0M437.4 140.3h0M525 115.2h0M630.6 125h0M451.6 100.5h0M616.6 107.6h0M669.4 111h0M415.3 134.3h0M517.4 116h0M592.6 110.7h0M599 125.6h0M479.5 117.5h0M619.5 120.3h0M503.7 109.6h0M458.6 110.1h0M542.5 102.9h0M567.5 111.5h0M627.1 129.7h0M581.1 147.4h0M427.5 97.6h0M557.5 144.9h0M496.5 82h0M592 132.6h0M417.4 144.8h0M579.4 118.4h0M614.9 129.1h0M416.1 111.7h0M409.5 119.7h0M641.4 143.1h0M642.3 125.6h0M452.2 98.7h0M649.5 121.5h0M513 146.8h0M542.8 118.5h0M530 139.5h0M494.1 124.7h0M639.4 158.7h0M567 135.8h0M652.1 164.6h0M570 132.1h0M650.1 139.5h0M541.8 99h0M531.1 140.9h0M556.6 128.1h0M407 108.9h0M608.5 168.4h0M442.4 168.3h0M655.2 127.8h0M417.2 115.6h0M592.8 140.8h0M608.8 81.4h0M548.8 119.2h0M430.8 120.5h0M620.1 146.3h0M490.4 123.5h0M481.7 83h0M588.6 61.2h0M662.5 122.5h0M430.9 128.3h0M520.9 147.7h0M583.6 136.7h0M478.7 133h0M650.2 116.8h0M564.9 146.4h0M425.5 106.7h0M446.4 129.7h0M443.4 140.4h0M526.1 117.6h0M646.3 117.8h0M435.2 51.3h0M445.5 79.7h0M461.5 124.6h0M557.1 157.1h0M519.3 156.9h0M516.1 164.6h0M443.8 151.8h0M623.5 146.9h0M532.3 127h0M634.5 155.1h0M413.4 162h0M526.6 131h0M502.9 111.5h0M628 151.5h0M588.6 153.3h0M543.3 171.4h0M448.1 111.2h0M586 130.5h0M642.5 111.3h0M610.9 139.1h0M661.3 151.2h0M561.9 124.6h0M488.5 115.8h0M463.9 134.3h0M616.9 161.7h0M620.2 114.2h0M573.4 109.7h0M612.4 169.8h0M534 99.2h0M630.7 147.9h0M589.2 146.7h0M469.5 124.5h0M560.9 108.4h0M579 92.8h0M459.1 132.1h0M653 128.1h0M618.6 116.5h0M443.9 147.5h0M463.6 94.4h0M406 114.4h0M654 129.5h0M451.6 113.3h0M626 104.9h0M540.8 116.9h0M420.6 144.2h0M461.4 77.1h0M473.7 122.8h0M607.7 120h0M502.7 125.8h0M443 98.2h0M655.8 146.6h0M541.6 121.2h0M423.1 132.4h0M662.9 147.2h0M584.1 97.6h0M522.1 141.5h0M444 121.2h0M588.9 122.6h0M431.1 119.9h0M653.9 72.3h0M604.3 162.1h0M594.1 137.9h0M609.2 139.3h0M634 115.8h0M529.5 98.2h0M620.1 150.4h0M434.6 143.4h0M590.7 111.2h0M604.2 98.3h0M461.4 183.5h0M434.9 135h0M648 167.7h0M641.3 77.9h0M434.6 129.5h0M561.4 142.7h0M453.3 123h0M459.6 132h0M651.3 151.3h0M580.8 171.9h0M606.1 127.5h0M480.1 127.6h0M610.7 94.6h0M582.5 79.3h0M497.1 80.8h0M536.7 150.5h0M471.4 31.2h0M562.7 110h0M454.9 104.1h0M524.2 90.3h0M631.7 130.4h0M579.5 124.7h0M564.8 157.6h0M435.1 156.2h0M622.8 133h0M569.4 160h0M656.4 112.8h0M652.5 137.7h0M652 143.8h0M546.8 126.5h0M609.1 89.4h0M432.4 122.8h0M417.3 139.1h0M613.5 176.4h0M583.6 105.2h0M656 144.8h0M486 137.1h0M536.4 175.9h0M613.6 127.1h0M566.6 98.8h0M629.9 122h0M509.9 130.6h0M629 88.5h0M633.3 117.6h0M644.3 118.9h0M510.7 146.5h0M645.7 32h0M487.2 124.7h0M562.6 134.3h0M664.7 161.9h0M576 105.2h0M562.2 121.5h0M501 121.3h0M541.3 137.9h0M535.3 146.5h0M584.7 82.8h0M548.3 129.5h0M489.7 61.9h0M456 140.6h0M666.6 166.9h0M569.3 149.5h0M451.3 117.5h0M494.9 131.4h0M577.5 130.4h0M468.6 118h0M642.3 126.1h0M548.5 128.7h0M585.6 96.9h0M581 89.5h0M448.3 142.7h0M652.1 97.2h0M629.2 126.8h0M556.1 126.7h0M545.1 117.8h0M487.4 125.3h0M504.7 58.8h0M474 116.4h0M572.5 172.4h0M518.9 139.3h0M432 120.7h0M465.6 99.9h0M445.6 171.8h0M572 149.8h0M552.1 142.2h0M509.3 130.2h0M550.2 96.5h0M571.8 101.9h0M462.8 116h0M420.2 116.3h0M660 151h0M454.6 72.7h0M469.5 108.8h0M591.8 153.9h0M666.2 146.8h0M438.2 135.6h0M511.9 94.1h0M631.9 168.9h0M427.9 73.6h0M471.7 109.7h0M567.8 128.8h0M624.8 127.1h0M432.6 88.8h0M515.6 112.7h0M562.1 125.3h0M550.2 122.1h0M547.1 141.6h0M668.2 160.8h0M665.8 109.2h0M461.1 128.1h0M473.1 147.5h0M511.3 137.9h0M432.2 15.6h0M444.2 105.7h0M554.9 107.7h0M666.5 129.8h0M483.2 116.7h0M458 142.7h0M568.6 102.9h0M484.2 114.6h0M409.1 129.2h0M430.3 77.2h0M637.7 148.2h0M434.2 127.6h0M575.1 138.5h0M516.2 133.8h0M609 111.5h0M540.2 132.4h0M466.6 137.4h0M461.3 98.3h0M467.7 114.9h0M467.3 93.1h0M471.8 109.5h0M484.7 135.4h0M563.7 133.9h0M545.1 114.5h0M423.7 112.2h0M516.8 137.8h0M651.5 106.4h0M654 120.3h0M490 99.4h0M446.6 115.3h0M482.9 103.1h0M440.6 140.3h0M473.9 133.3h0M650.1 160.7h0M637.5 174.1h0M525.1 149.5h0M550.9 89.1h0M590.8 134.2h0M591 159h0M589 137.4h0M600.2 156.5h0M561.8 99.2h0M440.6 123.6h0M587.2 118.3h0M582.4 133.4h0M448.4 110.2h0M457.1 131.5h0M573.9 121.4h0M507.5 92.9h0M620 142.5h0M478.8 150.5h0M581.7 93.1h0M568.1 164.3h0M434.7 117.4h0M479.1 118.6h0M499 113.8h0M485.4 124.9h0M429.6 77.3h0M467.8 129.5h0M547.6 121.8h0M465.3 147.8h0M573.7 95.7h0M515.3 147.5h0M526.2 91.4h0M460.2 136.6h0M613.5 119.7h0M426 154.6h0M655.3 91.6h0M561.4 125.2h0M655.3 52.9h0M550.8 145.6h0M498.5 155.5h0M503.3 149h0M651.3 133.9h0M543.3 166.2h0M509.8 109.5h0M446.7 128.6h0M445.6 123h0M515.5 113.2h0M525.1 140.2h0M618.2 109.8h0M437.7 129.9h0M525.6 114.4h0M440.7 159.8h0M472.7 111.4h0M535.9 103.5h0M637.4 128.3h0M440.5 134.9h0M451.6 116.7h0M592.3 142.8h0M544.9 168.7h0M428.7 133.8h0M585.6 134.2h0M600.8 124.6h0M669.1 133.9h0M602 127.2h0M492.5 148.5h0M617.2 151.5h0M555.7 135.6h0M429.6 125.3h0M501.4 164.5h0M578.7 107h0M503.3 142.2h0M592.9 92.4h0M586.2 129.3h0M447.4 150.5h0M527.4 125.3h0M618.6 134.9h0M436.3 100.6h0M550.3 104.7h0M436.9 119.5h0M478.2 108h0M608.2 106.2h0M500.1 132.3h0M623 140.8h0M597.6 132.9h0M573.6 102.8h0M445.3 72.6h0M525.1 109.5h0M637.8 155.5h0M572.8 166.4h0M423.7 139.1h0M538.3 136.4h0M529 139.6h0M534.4 101.9h0M515.1 87.6h0M620.7 116.7h0M546.3 157.5h0M632.5 137.7h0M657.7 130.6h0M642.3 126.2h0M609.1 132.9h0M411.2 108.5h0M406 87.6h0M450.9 156.5h0M542.3 153.7h0M484.7 108.6h0M440.5 107.2h0M650.6 169h0M519.2 109.1h0M458.1 88h0M540.8 82.9h0M665.1 117.5h0M596.7 150.8h0M650.1 118.8h0M436.2 64.5h0M601.5 124.5h0M494.8 124h0M500.8 100.7h0M526.3 143.8h0M527.9 117.7h0M614.7 100.9h0M483.7 130.4h0M527.5 43.1h0M520.1 161.1h0M570.2 99.1h0M553.2 91.8h0M418 163.4h0M631.4 149.8h0M575.5 90h0M445.7 130.1h0M536.6 113.2h0M643.6 158.7h0M639 174.5h0M512.3 128.4h0M468.5 119.9h0M657.3 81.7h0M600 157.5h0M580.9 124.9h0M513.6 117.5h0M634.3 114.3h0M456.5 102.4h0M624.5 159.1h0M617.2 100.6h0M543.6 132.8h0M501.8 106h0M587 154.9h0M508.2 97.6h0M514.9 160.1h0M476.8 87.3h0M612.7 121.4h0M446.2 79h0M536.4 161.6h0M522.4 91.2h0M666.3 147.8h0M434.7 119.2h0M555.1 76.3h0M464.1 114.8h0M656.9 140h0M438.7 138.5h0M647.9 110.2h0M576.3 77.1h0M455.9 123.9h0M515.1 112.9h0M478.4 138.5h0M531.8 92.3h0M623.6 124.9h0M532.7 111.1h0M646.6 100h0M462.7 108.1h0M440.6 131.2h0M586.4 109.2h0M500.7 101.7h0M475.7 112h0M650.3 136.6h0M558.5 115.8h0M476.5 166h0M554.5 100.9h0M551.1 129.9h0M616.9 153.4h0M514.5 142.7h0M538.8 103.9h0M445.7 126.4h0M630 80.2h0M648.6 155.4h0M406.1 117.3h0M605.3 111.3h0M662.9 104.7h0M632.7 167.2h0M617 122.9h0M462.4 98.5h0M667.6 143.7h0M504.2 54.9h0M632.4 103.6h0M611.4 119.4h0M566 81.7h0M660.7 139h0M658.7 154.5h0M522.8 85.5h0M530.5 91.1h0M644.4 111.4h0M524.9 88h0M635.3 155.7h0M465.5 67.7h0M472.3 118.3h0M487.2 176.3h0M525.4 124h0M464.1 149.8h0M448.9 110.5h0M506.2 135.2h0M452.5 138.9h0M496.3 95.3h0M510.4 123.1h0M654.7 136.8h0M515.8 117.6h0M561.8 153.6h0M649.9 126.3h0M523 135.3h0M478.4 98h0M555.5 119.2h0M623.6 115h0M480.6 109.8h0M600.5 150.2h0M532.8 138.3h0M545.2 99.8h0M575.9 130.5h0M454.7 101.1h0M466.7 95h0M418.3 131.3h0M638.7 122.8h0M577.9 81.8h0M653.9 168.5h0M489.5 104.7h0M553.3 145.2h0M556.4 143.1h0M442.4 100h0M552.5 129.5h0M565.7 170.6h0M519.7 91.5h0M497.9 137.7h0M468 124.1h0M425.8 135h0M563.9 121.5h0M457.4 128.1h0M426.8 82.6h0M665.6 116.4h0M641 115.1h0M501 119h0M530.1 115.3h0M459.6 142.5h0M666.4 169.3h0M485 128.5h0M626.5 111.8h0M603.2 132.6h0M409.9 101.9h0M415.3 148.4h0M521.9 63.2h0M413.6 144.5h0M648.4 149.1h0M662.2 156.8h0M567.6 122.7h0M486.4 122h0M461.8 159.5h0M441.4 117.7h0M555.4 105.1h0M447.1 128.2h0M463.6 160.4h0M595.8 130.4h0M635.4 129.1h0M573 103.6h0M658.4 146.9h0M621.7 141.6h0M519.9 130.2h0M500.1 170.9h0M457.8 156.4h0M617.6 164.9h0M539.2 119.6h0M637.2 119h0M536 100.2h0M636.9 172.9h0M596.6 108.1h0M556.2 112.1h0M600.7 142h0M599.9 164.7h0M417.8 84.3h0M619.5 133.5h0M434.2 147.5h0M548.5 87.8h0M534.1 127.7h0M607 97.8h0M463.3 100.1h0M590.1 104.8h0M614.2 122.3h0M496.6 117.6h0M558.9 164.7h0M514.9 114.5h0M605.3 138.4h0M638.9 181.8h0M540.2 100h0M408.6 129.2h0M649 150.1h0M560.7 111.5h0M453.2 99.7h0M599.3 132h0M525.3 114.9h0M451.7 88.1h0M495.8 91.8h0M566.6 100.9h0M493.9 126.1h0M442.7 95h0M420.3 96h0M507.4 133.2h0M598.4 86.4h0M496.7 182.6h0M514.2 154.1h0M617.9 171.1h0M574.6 112.3h0M665.6 123.1h0M626 142.5h0M654 126.4h0M540.2 90.9h0M610.1 103.8h0M669.9 131.3h0M408.5 114.1h0M529.7 107.9h0M602.2 134.7h0M466.6 88.6h0M424.2 124.4h0M538.8 104.8h0M422.7 94.2h0M447.2 136.2h0M418.8 73.4h0M598.8 136.1h0M418.5 135.5h0M648.8 139.5h0M553.1 105.2h0M511.7 146.7h0M444.5 145.8h0M509.3 108.7h0M472.9 137.8h0M634.2 114.5h0M540.3 151.8h0M410.5 103.2h0M653.2 167h0M666.6 179.4h0M668 166h0M477.5 135.8h0M537.8 162.8h0M594.8 147.7h0M434.6 124.4h0M518.8 137.1h0M490.6 152.7h0M633.2 173.3h0M412.5 81.1h0M650.2 103.7h0M410.6 122.6h0M650 148.7h0M525.8 143.8h0M454.5 103h0M488.3 144.4h0M653.7 144.1h0M455.7 125.7h0M620.8 147.1h0M640.7 134.1h0M484.2 120.3h0M559.8 145.9h0M543.1 149.2h0M652.6 84.3h0M454.7 136.9h0M504.7 129.2h0M581.5 182h0M443.2 116.9h0M474.4 97.9h0M608.8 115.1h0M576.2 97.4h0M554.8 130.4h0M635.2 96.6h0M469.7 110.8h0M491.5 137.5h0M648.1 178.3h0M597.9 111.5h0M596.6 96.3h0M566.7 133.5h0M610.9 137.8h0M488 100h0M599.7 118.1h0M436.5 94.1h0M578.4 88.8h0M662.8 144h0M660.4 177.8h0M470.2 158.6h0M643.7 141.5h0M563.2 121.7h0M521.3 115.2h0M506.7 109.3h0M524.8 135.2h0M525.2 115.7h0M657.1 151.4h0M606.6 118.6h0M448 143.3h0M612.1 149.1h0M563.9 119.7h0M667.8 159.3h0M481.3 147.7h0M601.6 48.1h0M542.5 116h0M464.8 120h0M642.8 83h0M409.9 117.8h0M472.4 106.1h0M530.6 124h0M482.4 147.2h0M551.9 131.4h0M452.5 159.8h0M611.3 133.2h0M559.8 103.1h0M576.2 95.7h0M663.4 113.7h0M450.2 113.5h0M529 116.1h0M447 107.2h0M484.7 150.5h0M538.4 137.8h0M606.3 84.2h0M453.9 95.8h0M620.2 148.8h0M598.1 155.3h0M531.3 124.1h0M636.6 75.2h0M517.9 69.8h0M665.3 164.9h0M660.7 118.5h0M516 98.6h0M658.4 109.6h0M609.4 124.9h0M545.4 139.4h0M567.9 101.4h0M617.4 144.9h0M659.3 128.3h0M645 109.4h0M658.5 136.5h0M511.9 89.8h0M407.6 116.8h0M441.8 123.3h0M506.3 125h0M431 116.8h0M549.5 92.1h0M437.1 122.8h0M486 101.2h0M486.2 138.3h0M529.2 122.8h0M435.6 99.5h0M605.5 114h0M653.4 131.9h0M594.1 94h0M406.7 58.4h0M628.9 72h0M461.9 172.7h0M622.5 143.8h0M623 109.1h0M586.4 107.4h0M425.8 130.5h0M503.1 131.2h0M439 65.6h0M611.7 104.5h0M423.5 131.6h0M522.9 92.4h0M602.4 59.7h0M623.8 151.8h0M518.1 122.2h0M427.7 126.7h0M637.9 115.6h0M484 67h0M535.7 128.9h0M406.1 116.1h0M485.3 139.5h0M654.5 155.1h0M598.5 106.8h0M595 134h0M555.3 121.9h0M441.9 86.6h0M464.6 145.4h0M657.4 150.3h0M434.8 105.1h0M581.4 113.5h0M504.2 95.7h0M443.9 111.9h0M433.4 131.7h0M549.7 119h0M473.6 144.7h0M613.9 132.2h0M669.7 94.1h0M442 95.2h0M471.5 135.9h0M451.6 113.7h0M508.7 96h0M566.8 119.9h0M505.1 129.3h0M543.3 109.8h0M633.2 150.8h0M633.4 139.3h0M452.4 104.2h0M474.8 76.4h0M556.2 98h0M530.6 143.7h0M414.3 115.3h0M600.4 69h0M614.8 140.2h0M520 131.2h0M438.1 109.6h0M590.3 163.1h0M422.7 129.1h0M422.3 93.5h0M557.3 130.8h0M521 93.1h0M666.3 131.4h0M472 117.6h0M453.5 120.5h0M490.9 127.3h0M636.5 130.4h0M589.7 130.5h0M406.5 134.1h0M439.6 148.7h0M656.9 147.5h0M555.9 138.1h0M515.7 130.6h0M425.7 131h0M465 131.8h0M410.4 71.4h0M630 109h0M652 137.1h0M547.1 115.1h0M615.1 162.4h0M441.9 108h0M479.1 123.4h0M568.7 99.5h0M585.8 131.5h0M565.2 118h0M429.7 109.8h0M652.2 112.6h0M471.7 157.7h0M586.6 146h0M633.5 102.8h0M440.6 121.5h0M526.8 135.2h0M568.9 170.9h0M667.3 99.1h0M592.6 136.2h0M519.3 156.9h0M589.6 131.9h0M541.7 167.5h0M434.6 130.7h0M463.3 127.2h0M570.8 97.4h0M584.1 148.3h0M521.5 115.4h0M474.4 131.6h0M420.5 105.2h0M603.5 126.6h0M458.4 110.4h0M594.6 130.5h0M654.5 125.4h0M623.1 128.3h0M562.1 148.7h0M419.8 163.5h0M592 165.9h0M665.1 116.9h0M486.2 160.1h0M627.3 172.1h0M548 97.3h0M612.4 156.3h0M598.2 130.6h0M485.3 123.9h0M532.9 116.7h0M430.8 140.2h0M481.3 159.5h0M594.6 97h0M509.6 133.8h0M634 141.6h0M580.5 107.3h0M648.2 113.2h0M614.6 132.4h0M521.7 136.4h0M433.4 144.8h0M535 118.9h0M541.6 155.9h0M434.9 121.2h0M445.1 132.5h0M665.3 124.8h0M624.5 141.1h0M500.7 62.5h0M412.9 97.2h0M476.2 90.3h0M551.2 133.9h0M661.4 106.4h0M411.7 121.1h0M595.5 122.2h0M659 82.8h0M660.6 129.5h0M563 121.7h0M613.3 113h0M585.7 141h0M410.4 96.2h0M478.1 69.2h0M654.4 103h0M432 127.3h0M447.9 105.9h0M569 136.7h0M642.2 161.7h0M502.9 132.6h0M564.5 141.6h0M664.4 142.6h0M627 146.4h0M409 135.5h0M584.4 161.9h0M434.2 153.8h0M658.2 132h0M595.8 130.8h0M644.9 143h0M535.5 100.2h0M421.2 149.1h0M460.5 114.9h0M427.6 138.7h0M605.2 113.2h0M637.6 173.2h0M525.4 90.5h0M626.9 90.2h0M462.7 124.7h0M521.3 134h0M516.8 95.8h0M535.2 107.5h0M413.3 118h0M450.5 133.3h0M433.6 82.4h0M576.9 164.6h0M532 68.1h0M668.6 125.9h0M573.7 160.5h0M459.5 106.8h0M433.4 134.9h0M586.3 118.5h0M623 123.8h0M440.8 161.4h0M542.3 121.8h0M658.8 132.7h0M644.5 139.8h0M435.6 111.8h0M536.1 85.9h0M636.3 149.4h0M565.8 111.5h0M410.9 119.2h0M498.1 83.6h0M479.9 139.1h0M495 121.7h0M664 105.7h0M621.7 152.4h0M669.2 108.3h0M615.6 78.6h0M661.7 124.9h0M515.7 118.6h0M653.3 167.4h0M549.9 137.7h0M620.2 102.2h0M458.7 82.4h0M637.4 123.8h0M510.5 122.4h0M654.5 101h0M486.6 111h0M510.1 141.1h0M540.5 89.8h0M639.3 105.3h0M599.2 117.5h0M474.5 118.5h0M537.5 136h0M630.4 152.6h0M602.2 109h0M492.4 115.2h0M649.3 135.3h0M507.4 117.7h0M598.5 156.3h0M618.2 133.3h0M587.3 92.6h0M419.5 112.6h0M461.8 163.3h0M612.1 154.1h0M578.1 58.3h0M629.2 131.3h0M591.7 116.1h0M587.1 114.2h0M638.4 126.6h0M651.1 150.4h0M481.4 124.1h0M625.9 127.9h0M660.7 154h0M437.1 122.5h0M522.4 98.3h0M549.3 112.2h0M554.2 108.8h0M635 105.4h0M407.5 167.2h0M423.1 156.1h0M612.4 127.5h0M478.3 67h0M527.6 131.1h0M443.9 135h0M659.2 140.7h0M536 132.2h0M423.8 129h0M645.2 110.1h0M561.4 98.8h0M472.6 137.7h0M429.8 140.6h0M413.4 115h0M634.8 102h0M437.6 98.4h0M463.7 120.7h0M552.2 118.3h0M423.1 114.6h0M596.4 131.7h0M576.3 104h0M577.2 142h0M499.9 116.9h0M480.6 118.9h0M609.5 154.4h0M664.9 126.7h0M563 128.3h0M647.1 137h0M447.3 101.6h0M607.2 141.6h0M467.5 126.1h0M479.1 121.2h0M413.6 120.7h0M653.6 101.2h0M445.5 80.5h0M465.8 111.4h0M497.1 98.7h0M519.3 45.7h0M620.8 160.3h0M427 169h0M424.8 133.6h0M463.8 108h0M638.2 135.5h0M624.3 137.3h0M643.1 124.3h0M539.9 140.1h0M407 141h0M566.2 91.9h0M479.5 105h0M440.5 143.9h0M484.9 144h0M597.3 142.8h0M561.2 40.4h0M600.8 131.6h0M570.6 117.3h0M561 116.5h0M551.6 146h0M610.2 153.8h0M586.2 145.1h0M582.4 112.2h0M496.2 118.9h0M462.4 111h0M611.2 139.4h0M573.3 103.4h0M606.8 135.9h0M489.4 163.4h0M410.1 78.6h0M612.1 142.3h0M450.5 170.7h0M604.3 124.7h0M419.6 118.5h0M430.9 103.4h0M436.5 114.3h0M443.3 159h0M620.3 81.2h0M412 116.3h0M486.4 162.9h0M550.6 163h0M547.1 116.3h0M585 81.2h0M547.6 147.6h0M441.5 160.1h0M426.3 98.9h0M611.1 76h0M481.1 125.8h0M445.1 86.4h0M481.6 85.3h0M438.5 99h0M607.7 144.8h0M461.7 118.4h0M559.9 167.9h0M514.7 143.4h0M558.4 119.5h0M651 108.3h0M534.5 37.2h0M441.4 92.8h0M587.8 102.4h0M486.6 133.2h0M475 131h0M622.6 135h0M467.1 128.3h0M483.3 156h0M520.8 96.5h0M610.5 141h0M610 108.9h0M509 155h0M407.6 102.3h0M406.7 95.1h0M435.7 126.3h0M669 126.6h0M522 117.6h0M537.3 119.5h0M590.4 123h0M535.6 91.2h0M448.4 113.1h0M593.6 107.4h0M453 116.3h0M495.5 136.2h0M411.7 125.9h0M574 97h0M618.5 159h0M493.8 108.3h0M419.6 116.1h0M497.7 114.6h0M449.3 149.9h0M461.7 92.5h0M580.7 103.7h0M570 96.6h0M565.9 126.7h0M517.1 102.6h0M563.4 151.6h0M527.7 161.9h0M506.1 179h0M427.5 172.1h0M635.7 84.4h0M504.2 108.6h0M628.1 101.4h0M640 144.8h0M511.6 149.4h0M579 118.8h0M543.4 136.6h0M618.3 137.4h0M666.6 88.7h0M406.2 113.4h0M634.8 85.6h0M467.5 127.6h0M461 106.1h0M591.9 143.9h0M468.7 106.3h0M536.7 138.9h0M440.5 151.5h0M409.1 113.3h0M532.9 85.2h0M447.2 133h0M646 109.3h0M412.8 93.1h0M436 128.2h0M652.3 118.8h0M472.3 59.1h0M568.9 100.4h0M415 171.8h0M588.9 123.5h0M541.7 135.6h0M621.9 111.2h0M590 137.9h0M581.1 151.3h0M532.4 146.2h0M556.5 140.8h0M609.3 90h0M502.4 122h0M582.2 111.9h0M440.1 124.9h0M634.2 127.9h0M567.2 141.2h0M445.6 117.6h0M465.3 32.7h0M493.7 111h0M425.1 122.3h0M534.1 121h0M543.5 124.1h0M551.7 97.8h0M512.4 95.7h0M457.6 95.5h0M601.3 109.6h0M521.7 128.7h0M407.2 87.6h0M604 74.2h0M416.2 117.1h0M567.3 134.2h0M548.7 118.6h0M647.8 115.3h0M645.5 154.6h0M499.1 137.3h0M558 81.5h0M438.9 152.1h0M545.7 105.4h0M484.6 170h0M515.1 103.9h0M505.5 112.4h0M646.4 119.2h0M556.8 165h0M628 152.8h0M521.4 124.4h0M495.7 98.1h0M658.1 131.5h0M489.9 141.5h0M418.3 120.2h0M464.2 133.4h0M600.7 145.8h0M520.5 114.6h0M611.6 139.6h0M587 101.8h0M643.9 132.7h0M446.9 117.3h0M638.9 108.3h0M455.7 85.3h0M519.9 142h0M653.2 144.7h0M493 81.2h0M558.1 158.2h0M500.1 101.3h0M434.9 130.1h0M540.7 145.1h0M421.6 95.9h0M418.3 90.3h0M522.5 112.5h0M492.2 135.3h0M623.2 157.6h0M531.6 158.4h0M495.4 112.5h0M473.3 145h0M640.9 140.1h0M614.2 140.3h0M555.6 105.7h0M439.9 115.2h0M549 118.3h0M421.4 129.5h0M437.8 106.6h0M505.5 112.6h0M422.4 141.7h0M422.3 110.6h0M548.9 78.6h0M616.6 173.6h0M468 132h0M626.7 138.4h0M443.4 97.8h0M517.9 117h0M501.3 147.4h0M610.2 143.4h0M551.9 104.8h0M554.2 120.3h0M426.2 133.5h0M452.9 111.1h0M474.1 92.7h0M589.4 138.1h0M633.1 102.3h0M648.5 131.5h0M628.2 142.3h0M622.2 124.5h0M626 157.1h0M575.8 77.7h0M419.3 121.5h0M434.3 120.3h0M421.9 118.3h0M591.3 162.4h0M587.5 136.7h0M445.8 139.7h0M477.3 143.5h0M442.8 116.4h0M628.2 115.5h0M610.2 170.7h0M587.5 130.4h0M565 105.2h0M536.2 113.9h0M522.9 112.4h0M440.6 121.6h0M556.6 115.5h0M574.4 137.4h0M427.2 142.1h0M647.9 120.4h0M587.7 113.8h0M580.4 113.7h0M471.1 133.6h0M536.6 105.6h0M570.7 72.9h0M457.6 101.8h0M579.8 128.1h0M560.5 141.8h0M610.4 125.4h0M547.9 130.7h0M586.2 93.7h0M656.1 125.1h0M577.4 135.9h0M406.5 141.5h0M422.6 125.7h0M508.7 117.2h0M521.3 148.1h0M566.5 107.9h0M515.5 136.5h0M516.6 100.6h0M422.5 137.3h0M624.2 114.5h0M538.2 133.6h0M652.6 128.5h0M645.3 137.8h0M659.5 104.4h0M576.7 100.1h0M420.5 119.7h0M512.6 82.8h0M538.9 105.8h0M468.5 134.7h0M415 96.5h0M600 122.5h0M610.9 135.3h0M453.2 107.4h0M408.3 173h0M596.6 167.5h0M583.9 129.8h0M441.6 141.6h0M452.6 64.8h0M466.1 85.5h0M576.7 119.6h0M633.1 35.1h0M623.4 116.6h0M453.3 114.4h0M491.6 134.8h0M545.7 64h0M570.5 122.2h0M467.5 129.2h0M497.8 130.8h0M564.3 92.7h0M574.1 149.2h0M603 123.4h0M549.3 56.8h0M412 170.7h0M465.6 150.5h0M550.3 116.9h0M485.4 97.9h0M665.5 167.8h0M472 37.2h0M634.5 117.1h0M459.6 115.2h0M608.8 68.2h0M590.2 142.7h0M668.5 165.7h0M582 155.4h0M650.5 96.3h0M637.9 144.8h0M501 143.3h0M550.5 155.3h0M432.3 68.9h0M460.7 130.7h0M459.4 116.7h0M492.2 146.2h0M456 132h0M620.8 122.6h0M446.1 90.1h0M564 150.7h0M449 87.4h0M628.9 112.3h0M444.7 94.8h0M566.3 129.7h0M658.8 79.5h0M584.2 162.8h0M555.5 116.4h0M601.2 136.8h0M516.5 133.9h0M434.1 114.9h0M595.8 95.5h0M637.2 117.8h0M471.6 136.8h0M528 69.9h0M625.9 146.8h0M476.4 143.5h0M490.7 133.5h0M494.1 120.4h0M444.3 140h0M576.1 79.9h0M582.2 106.9h0M607.6 125h0M634 116.6h0M542.7 124.1h0M661.4 102.2h0M406.8 112.7h0M469.1 96.9h0M452.9 153.3h0M562.5 180.4h0M603.7 142.7h0M626.9 112.4h0M665.6 161.7h0M650.7 85.5h0M529.4 124.1h0M537.5 77.9h0M544.3 95.6h0M405.8 137.6h0M529.3 135.8h0M593 143.5h0M420.9 121.1h0M481.1 50.7h0M443.2 120.7h0M431.4 122.2h0M492.5 124.2h0M522.6 121.8h0M436.9 92.8h0M577.6 122.2h0M579.6 125.8h0M668.9 144.6h0M593.7 87.8h0M410.8 95h0M440.3 95.2h0M446.2 152.1h0M527.8 103.2h0M617.3 144.8h0M529.7 109.1h0M411.4 110.4h0M501.8 67h0M659 96.3h0M465.7 105.8h0M587.1 121.2h0M484.8 117.2h0M419.1 116h0M498.3 148.4h0M533.2 94.8h0M633.6 159h0M453.4 142.2h0M637.6 159.8h0M441 69.6h0M490.1 91.1h0M519.3 140.5h0M659.2 122.7h0M504.7 112.5h0M493.9 121.6h0M414.9 97.3h0M467.9 120.6h0M574.3 136.2h0M596.7 104.5h0M518.7 116.3h0M652.7 140h0M414.4 153.2h0M574.5 134.7h0M506.1 155.9h0M540.5 132.1h0M491.7 127.7h0M441.4 129.6h0M445.3 92.4h0M430.5 138.1h0M555.5 101.8h0M665.7 134.2h0M440.7 130.5h0M637.2 104.9h0M581.6 55.2h0M480.6 160.8h0M445 105.3h0M454.9 114.2h0M662.5 90.3h0M559.5 105.1h0M473.8 94.3h0M440.8 114.2h0M550.3 89.4h0M428.4 101.2h0M529.5 75.7h0M542 128.1h0M657.1 110.3h0M591.5 36.6h0M407.4 145.2h0M415.6 123.3h0M407.2 133.2h0M550.3 124.6h0M557.6 130.7h0M553.9 124.5h0M638.5 104.3h0M460.8 58.5h0M545.9 69.3h0M634.5 138.1h0M590.5 122.5h0M502.8 101.2h0M422.3 159.7h0M427.4 167.4h0M659.8 119.4h0M441 140.9h0M415.5 133.7h0M552.9 88.6h0M524.3 128.8h0M578.5 102.2h0M468.9 134h0M504.8 113.7h0M479.1 149.2h0M447.3 117.2h0M586.8 123.9h0M506 96.9h0M508.8 132.9h0M558.3 95.7h0M577.7 134h0M611.4 160.3h0M588.3 104.4h0M482.1 121.5h0M426.2 82.9h0M565.5 119.5h0M457.9 108.2h0M511 120.6h0M636.8 131h0M420.2 122h0M502.4 117.3h0M461.4 97.6h0M536 117.7h0M543.9 91.9h0M472.7 121.3h0M653.9 153.7h0M555 131.1h0M439.6 62.7h0M614.1 114.1h0M581.9 109h0M507.4 146.7h0M608.5 166.3h0M606.1 99.2h0M495.3 107.5h0M645.9 88.1h0M576.7 70.7h0M420.6 109.3h0M454.2 110.9h0M410.4 120.5h0M574.5 141.7h0M435.7 112.8h0M527.7 138.1h0M536 151h0M420.7 123.8h0M667.9 152.3h0M653.9 131h0M668 154.5h0M498.2 100.5h0M481.2 151.1h0M442.2 113.6h0M669.5 116.9h0M610.4 183.5h0M440.5 102.9h0M406.7 132h0M623.7 127.6h0M476.6 145.5h0M502.4 114.9h0M611.3 84.2h0M617.3 140h0M546.1 19.1h0M633 126.6h0M528.6 120.4h0M517.9 125.5h0M568.8 105.2h0M544.3 100h0M476 111.9h0M602 119.9h0M584.2 123.5h0M447.6 105.2h0M555.5 57.8h0M542.4 119.1h0M551.7 150.8h0M553 106.5h0M587.6 114h0M523.5 88h0M543.1 97.9h0M642.4 85.7h0M420.1 160h0M602.3 104.5h0M420.4 157.7h0M410.7 137.8h0M636.4 125.4h0M436.1 142.1h0M424.3 119.3h0M620.9 112.2h0M492.4 146.1h0M523.8 124.5h0M561 57.7h0M538.2 124.1h0M597.9 131h0M519.4 97.1h0M613.3 123.1h0M492.2 119.8h0M437.4 100h0M609.5 150.6h0M655.6 126.8h0M629.1 145.6h0M426.2 152.2h0M528.7 79.7h0M575.6 96.9h0M559.7 134.2h0M623.1 115.4h0M667.1 97.4h0M572.2 152h0M638.3 88.9h0M500.1 108h0M544.5 79.9h0M642 48.5h0M462.8 123.3h0M556.2 104.5h0M570.6 82.9h0M485 130.8h0M602.5 95.3h0M604.6 117.9h0M565 106.8h0M461.1 121.7h0M471.5 134.3h0M550.8 131.1h0M465.5 155.3h0M593.4 109.6h0M600 136.6h0M429.1 132.4h0M571.8 168.1h0M587.3 122.9h0M580.2 126.1h0M615.5 128.8h0M586.3 122h0M447.7 150.6h0M478.7 109.5h0M584.8 114.8h0M615.1 110.1h0M464.6 102h0M522.8 124.8h0M437.1 124.7h0M594.7 120.6h0M622 129.3h0M416.9 140.4h0M624.2 115.8h0M481.9 114.1h0M501 112.4h0M513.3 109.9h0M643 140.8h0M501.4 123.1h0M617.4 147h0M668.8 140.2h0M588.5 86.9h0M584.2 111.2h0M584.7 89.5h0M553.5 123.5h0M411 124h0M507.5 128.5h0M497.9 106.9h0M452.6 125.7h0M591.8 107.8h0M453.2 111.4h0M455.5 126.9h0M429.8 123.3h0M495.6 116.5h0M519 107.8h0M651.6 128.5h0M429.4 108.5h0M603.1 118.7h0M466.9 115.4h0M626.4 107.4h0M508.4 152.7h0M571.1 118.4h0M575.7 123.4h0M612.8 123.1h0M634.2 172.3h0M552.6 119.1h0M546.2 113.7h0M501.4 59.5h0M515.8 125.8h0M643.2 121.2h0M479.3 160.7h0M566.6 156.1h0M497.7 107h0M621.8 167.6h0M498.7 129.9h0M458.9 107.1h0M517 123.3h0M548.7 106h0M452.5 109.1h0M423.8 135.8h0M486.4 111.9h0M423.5 104h0M613.8 115.3h0M495.2 108.6h0M584.7 139h0M635.2 156.1h0M549.3 124.6h0M639.7 143.5h0M541 119.2h0M422.4 101.2h0M539.6 100.4h0M506.1 84h0M499.9 122.6h0M529.6 90.7h0M634.2 134.2h0M610.6 138.9h0M607.4 116h0M453.9 124.9h0M599.9 150.4h0M605.7 99.8h0M463.6 136.1h0M656.2 117.9h0M507.3 130.9h0M632.4 93.6h0M534.8 33.8h0M529.5 110.3h0M581.8 126.4h0M607.4 131.2h0M475.9 143.4h0M589.2 123.5h0M438.5 107h0M464.8 115h0M503.3 157h0M408 90.7h0M626.3 141.9h0M537.4 144.5h0M454.9 126.8h0M570.4 116h0M479.8 114.7h0M450.7 133.9h0M499.6 117.4h0M467 100.7h0M467.3 130.9h0M649.3 141.7h0M423.4 163h0M542.2 165.3h0M548.4 169.5h0M543.8 112.8h0M661.2 115h0M412 111.8h0M614.9 95.8h0M422.3 108.8h0M427.9 140.1h0M514.6 152.8h0M548.7 96.2h0M549.8 110.9h0M485.4 70.2h0M664.9 174.2h0M630.9 143.7h0M558.1 140h0M656.7 173.6h0M482.3 109.3h0M640.7 91.1h0M517.3 123.8h0M408.2 121.1h0M650.3 122.5h0M467.6 105.9h0M436.2 135.3h0M460.6 105.2h0M597.1 154.2h0M594.7 101.6h0M633.8 158.3h0M467.1 119h0M461 110.5h0M653.7 117.9h0M468.1 116.1h0M431.4 129.4h0M615 137h0M454 112.2h0M572.2 108.4h0M480.4 94.4h0M583.9 108.9h0M510.4 114.2h0M623.1 147.4h0M470.6 114.2h0M412.7 132.2h0M498.3 164.9h0M418.3 113.8h0M464.3 116.1h0M467.2 130.7h0M468.4 119.2h0M457.6 96.8h0M488.1 100.6h0M584.4 121.7h0M423.7 130.8h0M620.4 124.3h0M439.6 80.8h0M610.7 67.8h0M593.3 110.4h0M537.6 136.2h0M522.1 127.6h0M421.7 89.7h0M654.1 127.5h0M574.5 113.2h0M468 102.2h0M450.2 125.2h0M651.4 135.9h0M566.8 75.4h0M623 105h0M613.8 127.5h0M415.9 130.3h0M637.2 182.2h0M581.5 127.1h0M534.4 166h0M541.9 86.4h0M541 115.5h0M634 104.8h0M479.2 93.2h0M424.1 99.6h0M452.3 129.2h0M592.6 146.1h0M510.5 105.7h0M511.6 128h0M652.2 123.3h0M542.1 101.8h0M424 95.9h0M500 81.4h0M522.8 64.1h0M664.6 116.7h0M438.8 125.5h0M595.9 58.4h0M610.6 67.1h0M440.9 172.3h0M657.4 118.3h0M477.7 120.9h0M424.5 115.9h0M652.8 131.4h0M662.3 161.7h0M541.3 156.6h0M467.4 104.2h0M417.6 124.4h0M654.1 151.2h0M535.4 100.5h0M664 158.5h0M563.9 123.6h0M609.6 107.2h0M521.7 121.3h0M509.8 47.4h0M561.4 165.1h0M414.5 113.4h0M512 84.2h0M577.4 151.8h0M462.4 121.7h0M450.8 157.2h0M494.7 120.9h0M482 127.9h0M603.7 140.3h0M435.4 108.3h0M631 105.3h0M442.1 119h0M463.3 127.2h0M538.7 124.5h0M491.1 109.3h0M484.1 48.1h0M418.4 178.5h0M424.6 115.2h0M626.3 133.9h0M667.4 170.7h0M655 111.4h0M542.7 161.2h0M455.5 115.1h0M526.1 93h0M571.1 102.4h0M526.5 128.2h0M578.6 157.3h0M525.1 135.8h0M607 135.6h0M633.4 114.2h0M601.8 124.6h0M579.6 121h0M658.2 149.3h0M581 115.6h0M423.1 103.7h0M667.7 132.3h0M651 126.8h0M452.3 100.8h0M457.7 116.9h0M656.6 149.9h0M535.3 119.1h0M621.6 108.8h0M611.1 152.8h0M631.9 156.1h0M509.5 99.2h0M627.5 145.2h0M552.5 104.2h0M503.7 171.1h0M518.7 99.8h0M649.4 120.5h0M495 151.2h0M642.7 157.2h0M592.7 154h0M494 109.8h0M429.6 107.4h0M629.5 162.3h0M428.4 128.1h0M655.8 153h0M483.8 92.6h0M656.3 142.3h0M410.5 146.5h0M420.9 144.9h0M639.4 144.2h0M457 96.3h0M458.1 133.6h0M536.2 135h0M544.1 104.9h0M456.1 171.1h0M639.3 136.7h0M430.2 89.8h0M441.2 105.5h0M664.2 150.3h0M527.6 130.1h0M425.6 112.6h0M431.2 138h0M490.1 160h0M502.9 134.5h0M639.9 101.5h0M507.5 122.4h0M510.2 102.6h0M526.2 94.6h0M493.2 147.5h0M514.7 92.6h0M643.4 135.8h0M637.9 102h0M553.3 107.5h0M432.1 105.1h0M601.6 129.4h0M496.2 138.3h0M633.2 100h0M590 129.7h0M551.5 99.3h0M557.8 114.9h0M656.8 154.1h0M597.4 94.1h0M503.7 102.5h0M579.3 158.7h0M482 163.4h0M479.9 123h0M585.5 160.7h0M636.7 166.6h0M594.7 49.5h0M487.1 120.2h0M462.2 124h0M615.2 139h0M470.6 139.4h0M599.7 123.4h0M607 104.2h0M406.3 163.7h0M669.8 177.2h0M669.8 133.8h0M458.8 117.1h0M498.8 149.5h0M652.4 123.1h0M476.4 149.6h0M513.7 132h0M437 119.2h0M631.5 90.1h0M512 97.6h0M651.7 158.6h0M666.7 127.7h0M548.3 163.1h0M497.3 94.2h0M425.8 125.8h0M615 101.4h0M663.8 145.1h0M418.4 104.4h0M621.7 133.8h0M466.2 100h0M525.3 157h0M500.6 114.1h0M553.7 97.9h0M495.2 133.2h0M644.7 118h0M415.2 97.5h0M565.8 126.2h0M582.6 93.5h0M659 163.6h0M561.2 106.8h0M519.7 112.5h0M455.6 119.3h0M486.7 114.4h0M619.3 100.1h0M408.6 133.2h0M636.6 120.2h0M628.4 108.2h0M529.5 141.7h0M623.2 91.9h0M473.1 95.3h0M453.1 126.8h0M604.9 114.9h0M594.6 120.4h0M496.3 151.2h0M592.4 136.7h0M439.2 168.6h0M417 155.2h0M624.3 151h0M532.2 121.7h0M605.5 150.9h0M546.4 135h0M529.5 144.5h0M648.1 106.7h0M654.4 111.1h0M531.9 82.6h0M495.1 110.5h0M495 121.8h0M618.7 162.6h0M489.5 164.6h0M527.9 123.5h0M416.1 133h0M469.4 127.7h0M632.5 72.9h0M650.5 143.8h0M668.3 156.4h0M471.2 130.5h0M559.8 130.1h0M554.2 113h0M635.3 139.6h0M513.1 113.8h0M642.6 126.6h0M478.1 155.4h0M512.4 110.1h0M459.8 42.1h0M438.9 114.7h0M523.5 124.5h0M613.4 107.6h0M620.3 131.6h0M519.4 154.2h0M485.2 124.3h0M591.1 68.6h0M607.6 139.5h0M617.6 129.9h0M465.6 128.1h0M584.4 81.2h0M542.1 101.6h0M634.9 129h0M424.1 91.8h0M454.2 116.9h0M482.6 104.7h0M623.7 132.1h0M466.2 68.6h0M490.9 152.6h0M541.2 123.8h0M621 122.6h0M608 85.8h0M424.2 120.4h0M512.4 121.5h0M647.7 120.6h0M514.7 115.8h0M458 145.8h0M440.3 149.9h0M515.2 127.2h0M574.3 21.3h0M660.6 162h0M638.9 117.2h0M448.9 85h0M439.7 113.8h0M492.1 104.8h0M589.2 119.5h0M527.4 114.8h0M633.7 109.8h0M552.9 135.2h0M666.4 124.8h0M575.8 124.2h0M511.1 115.8h0M523.6 52h0M617.6 165.2h0M528.3 84.7h0M521.6 104.2h0M448.4 121.3h0M610.5 130.8h0M529.5 81.3h0M441 170.6h0M528.4 133.5h0M583.8 95.2h0M620.1 131.8h0M657.8 121.8h0M458.8 84.7h0M550.3 136.3h0M479.9 118.2h0M503.2 124.3h0M558.7 139.7h0M586.3 83h0M411.9 155.8h0M431.7 110.4h0M620.1 104.2h0M506.2 152.1h0M414.4 135.1h0M543.8 84.6h0M520.9 81.7h0M487.7 110.3h0M649.5 114.7h0M619.1 137.1h0M534.3 114.6h0M620.5 126.9h0M643 90.4h0M478 94.1h0M445.1 135.2h0M503.4 109.5h0M564.8 104h0M648.4 114.3h0M604.9 142.8h0M588.4 123.4h0M525.1 91h0M586.5 88.1h0M496.1 67h0M408.6 109.2h0M448.3 115.9h0M527.3 130.4h0M504.2 154.1h0M641.2 96.7h0M603.2 156.3h0M607.6 121h0M472.7 111.6h0M589.7 108.6h0M460.2 89.2h0M597.2 143.5h0M438.4 131.1h0M452.9 127.3h0M426.1 128.2h0M536.8 110.9h0M554.7 96.1h0M641.9 146.7h0M487.4 103.3h0M488.9 127.7h0M470.8 118.8h0M599.2 120.2h0M481.1 140.2h0M561.7 119.8h0M514.7 97.5h0M494.6 118.3h0M620.3 110h0M649.9 121h0M489.9 134.6h0M562.6 136.3h0M644.3 116.8h0M464.8 133.4h0M430.8 140.9h0M618.4 84.3h0M511.7 141.6h0M589.8 124.2h0M660.5 127.3h0M494.6 149h0M572.8 96.4h0M513.5 110.7h0M656.2 135.5h0M510.6 139h0M525.7 124.6h0M600.8 125.4h0M474.6 136.1h0M631.7 134.8h0M475.2 88.6h0M596.4 141.6h0M628.6 160.4h0M411.8 130.6h0M524.2 131.1h0M540.7 114.8h0M632 121.2h0M531.1 141.3h0M603 116.9h0M465.3 162.2h0M528.3 157.3h0M592.4 117h0M445.2 137.5h0M444.8 146.1h0M427.1 143.3h0M460.2 160.7h0M470.2 146.7h0M494.7 65.7h0M546.9 107.3h0M433.5 94.5h0M492.5 144h0M470.3 118h0M573.1 99.7h0M564.9 147.6h0M614.9 119.4h0M609.9 125.1h0M483.6 118h0M587.4 145h0M501.9 131.3h0M524.8 132.6h0M583.2 108h0M515.3 121.6h0M631 136.2h0M422.4 122h0M534.4 124.3h0M573.4 161.4h0M428.2 109.7h0M504.3 113.9h0M422.3 121.4h0M638.2 158.8h0M493.5 112.2h0M663 156.6h0M628.7 129.2h0M465.9 122.7h0M406.5 154.1h0M453.6 145.6h0M423.7 107.8h0M650.8 138h0M454.4 129.5h0M627.9 102.5h0M431.9 123.4h0M539 90.4h0M420.9 145.2h0M474 126.9h0M470.2 129.2h0M513 127.1h0M590.2 135.3h0M660 114.2h0M641.4 65.9h0M502.3 137.7h0M594 87.2h0M587.3 105.7h0M661.5 100.1h0M499.1 168.3h0M586.7 138.3h0M518.7 109.5h0M668.1 138.8h0M533.3 103.1h0M602.8 151.5h0M437.3 116.2h0M643.5 127.1h0M595.4 113.6h0M447.1 124.4h0M607.7 118.9h0M446.1 98.1h0M578.6 132.3h0M656.6 138.6h0M530.3 136.4h0M556.9 151.1h0M613.2 136h0M434.7 132.5h0M432.7 102.9h0M448 130.3h0M669.9 149.4h0M632.6 103h0M624.9 137.8h0M560.5 99.5h0M601.1 118.4h0M544 100.3h0M639.4 165.7h0M629.2 130.4h0M453.3 126.4h0M519.4 157.2h0M569.7 92.4h0M633.9 82.5h0M467.3 128.8h0M645.6 117h0M632 119.1h0M464.5 149.4h0M597.2 127.2h0M655.3 112h0M653.6 126.3h0M637.5 145h0M441 129.5h0M654.4 71h0M514.2 125h0M440.6 84.9h0M421.3 157.7h0M592.6 115.7h0M545.3 178.6h0M546.4 143.2h0M469.7 111h0M576.8 135h0M603.9 92.2h0M533.4 135.5h0M438.7 120.3h0M425.2 109.5h0M565.5 90.3h0M457.3 127.1h0M416.2 101.1h0M624.5 98.7h0M412.6 104.9h0M519.4 136.9h0M600.5 94.3h0M456.6 93.3h0M447.3 110.3h0M493.8 88.7h0M492.6 106.2h0M428.8 168.7h0M553.2 150.6h0M668.3 155.8h0M647.5 165.3h0M597.8 118.2h0M482.6 96.8h0M640.2 125.2h0M415.2 156h0M544.3 156.5h0M587.5 92.7h0M618.4 126.3h0M656 154.6h0M572.7 143.8h0M562.9 158.1h0M610.9 95h0M645.9 143.7h0M447.6 86h0M621 123h0M620.8 117.4h0M534.9 112.6h0M637.4 107.3h0M632.9 56.4h0M436.8 103.7h0M660.2 138h0M532 89.1h0M436.2 130.9h0M504.6 101.6h0M668.5 144.9h0M499.3 126.6h0M660 139.3h0M544.2 139.7h0M489 118.2h0M629.3 134.5h0M476.8 170.2h0M591.6 152.2h0M424.5 95h0M460.8 138.1h0M552.4 128.1h0M489.7 141.9h0M409.4 94.7h0M507 119.8h0M579.7 80.8h0M604.1 131.8h0M633.4 129.8h0M429.7 135.1h0M614.2 68.4h0M533.4 119.7h0M600.4 90.6h0M501.2 136.7h0M509.2 140.5h0M642.4 152.9h0M575 144.4h0M561 88.3h0M615.5 158.9h0M498.5 118.7h0M633.4 161.8h0M592 91.4h0M621.3 142h0M657.9 128.4h0M587.7 98.7h0M590.9 72.5h0M620.2 148h0M571.7 122h0M638.5 107.9h0M524 103.2h0M473.6 167.4h0M479.9 87.1h0M647.6 163.7h0M485.2 103.6h0M438.2 159.2h0M513.9 134.5h0M563.4 128.9h0M604.4 124.2h0M432.5 105.6h0M528.3 124.1h0M613.4 124.2h0M527.1 104.9h0M647.3 107.1h0M501.3 127.9h0M441.1 38.4h0M534.2 115.6h0M570.6 144.5h0M596.2 106.4h0M581.7 153.8h0M595.1 89.1h0M522.2 87.6h0M584.5 156.2h0M618.8 117.6h0M599.4 161.9h0M471.7 113h0M590.2 131.1h0M613.8 117.5h0M659.2 173.6h0M637.2 117.6h0M409 109.8h0M662.6 93h0M514.7 126.8h0M547 85.4h0M437 160h0M503.2 142.4h0M439.9 138.8h0M504.1 154h0M472.6 123.6h0M458 116.6h0M501.4 123.7h0M633.6 130.4h0M530.7 125.2h0M482 92.9h0M423.2 112.8h0M486.2 135.1h0M658.4 154.2h0M652.3 155.4h0M625.3 132.4h0M635.2 118.6h0M405.8 123.7h0M644.4 167.4h0M634.8 135.4h0M454.9 116.5h0M650 90.8h0M579.4 104.6h0M463.9 155.7h0M634.5 127.8h0M421.6 129.2h0M566.5 143.3h0M518 123.9h0M554.9 30.7h0M641.5 120.4h0M544.8 155.7h0M608.9 164.4h0M440.6 119.1h0M657.2 114h0M516.5 88.7h0M428.2 118.7h0M455.1 72.2h0M646.8 125.4h0M406.9 153.2h0M655 118.9h0M612.1 97.1h0M492.8 93.9h0M641.8 155.4h0M432.2 105h0M604.3 90.2h0M479.3 109.3h0M600 134.8h0M416.9 113.3h0M557.2 121.6h0M630.9 144.8h0M552 120.3h0M619.4 103.6h0M502.7 131.8h0M629.7 153.4h0M647.3 158.5h0M418.6 116.1h0M588.2 145.2h0M483.9 102.2h0M647.5 154.4h0M657.8 127.9h0M583.7 183.1h0M487.1 100.7h0M613.1 158.7h0M594 86.9h0M451.7 147.4h0M495.5 103.8h0M426.7 108.1h0M527.2 111.1h0M469.4 114.6h0M499.5 97.6h0M521.4 105.3h0M608 118.8h0M621.4 115.5h0M476.8 130h0M459.5 122h0M571.1 102.6h0M575.2 121.5h0M522.1 124.2h0M620.3 117h0M471.8 82.3h0M645.6 112.9h0M552.8 165.9h0M604.2 136h0M481.4 103.6h0M422.4 101h0M585.6 163.1h0M505.3 92.4h0M529.3 127.4h0M610.4 164.7h0M521.6 133h0M614.7 146.9h0M480 102.2h0M538.8 115.3h0M505.8 124.1h0M456.2 139.3h0M554.2 104.6h0M536.9 108.3h0M572.9 152h0M552.8 105.1h0M485.2 152.1h0M465.4 95.6h0M548.3 99.3h0M541 116.3h0M465.9 151.5h0M514.2 117.1h0M414.1 145.6h0M428 137.7h0M432.2 136.3h0M458.8 176.2h0M577.8 56.8h0M590.6 34.1h0M613.8 147.8h0M530.1 128.9h0M583.1 135.3h0M565.6 73.3h0M446.2 124h0M482 120.6h0M646.2 85.4h0M413.5 137.6h0M421.6 112.2h0M552.7 59.1h0M540 87.2h0M571.4 131.8h0M513.6 140.7h0M595.4 85.9h0M507.2 98h0M534.8 106.4h0M586.5 105.6h0M644 170.9h0M458.9 146.6h0M515.3 117.7h0M511.5 125h0M421.6 135.9h0M643.2 76.2h0M597.9 128.5h0M506.1 134.1h0M478.8 71h0M465.6 96.4h0M521.3 125.1h0M486 143.8h0M542.1 115.5h0M542.5 107.6h0M553 119.6h0M619.8 119.7h0M606 155.7h0M438 117.6h0M436.5 90.2h0M570.5 174.9h0M532.1 116.6h0M405.7 142.9h0M485 145.6h0M453.9 162.2h0M547.1 39.7h0M464.2 118.2h0M653.2 165.3h0M642.7 133.8h0M407.4 151.2h0M583.1 90.9h0M644.1 77.5h0M489.7 126.4h0M658.7 147.3h0M450.3 127.2h0M448.8 95.3h0M444.2 143.3h0M495.9 95.6h0M570.9 146h0M614.5 144h0M429.5 114.7h0M422.1 127.7h0M447.4 134.2h0M643.3 121.5h0M668.5 49h0M608.4 127.5h0M430.4 112.9h0M442.6 123.9h0M513 140.7h0M576.4 129.8h0M587.5 125.9h0M584.3 127h0M457.2 72.9h0M629.8 83.4h0M615.9 135.6h0M501.7 79.4h0M496.5 133h0M432.4 112.8h0M477.3 113.7h0M461.8 158h0M525.5 143.2h0M562.8 120.2h0M651 124.2h0M513.1 113.6h0M480.8 94.4h0M630.7 141.4h0M439.5 157.6h0M467.1 110.9h0M585.5 120.8h0M582.4 128h0M546.3 124.4h0M489.6 116.9h0M446.4 93h0M423.5 97h0M580.9 116.3h0M571.1 150.3h0M554.1 141.5h0M560 34.2h0M644.5 117.6h0M663.3 129.3h0M508 65.2h0M468.1 106.7h0M455.3 147.4h0M456 114.5h0M660.7 120h0M530 83.9h0M457.3 137.6h0M462.7 151.7h0M580 100.6h0M532.1 132.5h0M598.9 149.5h0M664.4 153.8h0M495.6 99.2h0M648.5 109.8h0M470.8 135.5h0M468.9 126.8h0M663.9 134.6h0M596.8 138.5h0M601.9 134.6h0M647.3 64.6h0M531.8 116.2h0M531.6 140.8h0M461.1 75h0M544 141.7h0M562.2 107.8h0M567 145.4h0M496.4 132.2h0M446.5 103.5h0M490.9 101h0M426.4 94.8h0M418.3 141h0M438.6 142.4h0M410.9 139.1h0M635.4 124.3h0M422.3 110.8h0M474.4 121.3h0M641 97.6h0M464.6 131.1h0M561.5 80.8h0M630.1 119.5h0M513.2 149.3h0M595.8 114.7h0M586.8 145.4h0M451.2 120.9h0M640.2 54.3h0M582.1 121.6h0M449.2 130.6h0M631.6 120.6h0M617.5 136.4h0M643.6 134h0M569.1 150.7h0M603.9 114.8h0M445 98.6h0M638.7 99.5h0M438.1 126.6h0M541.3 111.5h0M501.1 110h0M569.6 101.6h0M665.4 150.4h0M657.1 137.4h0M472.2 118.6h0M604.4 124.1h0M610.6 145.6h0M408.7 134.7h0M631 156.4h0M544.4 144.2h0M544.7 177.9h0M467.6 125.5h0M542.9 150.4h0M519.8 109.5h0M409.6 126.8h0M644.1 156.8h0M472.8 75.4h0M641.5 123.1h0M537.9 106.4h0M589.1 114.2h0M413.5 128.3h0M424.3 148.6h0M423 121.9h0M573.5 135.8h0M497.8 74.8h0M434.4 123.4h0M618 151.1h0M495.3 109.1h0M555.8 73h0M572.3 139.7h0M555.9 96.7h0M528.4 80h0M410.3 142.6h0M464.4 108.4h0M598.3 114.9h0M586.5 109.3h0M662 159h0M409.6 150.8h0M464.4 130.4h0M443.1 147.6h0M623.7 128.9h0M587.3 127.3h0M627 145h0M471.7 121.2h0M638.1 124.2h0M419.4 146.5h0M433.9 112.1h0M477.9 150.2h0M592.9 97.9h0M574.4 81.7h0M436.8 152.7h0M434.6 120.9h0M614.1 163.6h0M525.8 97h0M430.5 118.2h0M406.2 145h0M443.2 138.6h0M442.4 128.9h0M633.4 134.4h0M460.2 132.3h0M651.2 157h0M535.6 142.5h0M580.5 119.2h0M429.8 131.3h0M462.8 151.7h0M468.4 133.3h0M434.6 131.8h0M533.1 124.7h0M454.5 143.8h0M460.4 75.5h0M491.1 89.8h0M587.3 161.9h0M656.2 141.3h0M458.2 94.6h0M657.1 144.4h0M549.8 111.7h0M419.3 157h0M467.9 125.8h0M625.7 100h0M431.2 116.8h0M488.1 112.1h0M490.2 119.2h0M448.1 113.9h0M590.1 86.3h0M550.8 97.2h0M458.7 98.4h0M651.2 91.9h0M589.4 143.6h0M635.7 158.8h0M658.4 130h0M506.3 98h0M513.2 150h0M564.1 125.2h0M418.3 126.3h0M627.8 123.5h0M638.5 126.8h0M610 123.4h0M541.4 109.5h0M631.8 162.2h0M593.5 100.5h0M638 143.1h0M582.6 131h0M517.7 107.6h0M528.6 82.2h0M602.9 140.6h0M443.5 117.6h0M641.9 61.6h0M654.8 115.8h0M643 92.1h0M549.1 106.7h0M407.3 120.1h0M641 120.2h0M461.5 132.8h0M407 158.4h0M530.2 144.2h0M648.3 123.2h0M568.8 66.8h0M471.7 129.6h0M438.4 113.8h0M553.2 160h0M497.6 129.3h0M449.1 128.4h0M481.6 92.9h0M630.1 153.9h0M566.6 137h0M519.4 150.2h0M448 170.2h0M517.4 120.4h0M425.3 126.3h0M602.6 120.8h0M593.5 120.3h0M486.7 142.8h0M528.1 103h0M542 86.7h0M494.7 122.2h0M656.3 119.1h0M497.3 124.9h0M635.4 138.6h0M660.9 132.3h0M520.7 141.7h0M427.6 151h0M590.1 97.3h0M530.7 107.8h0M545.2 79.6h0M657.1 103.3h0M430.5 100.4h0M645.4 149.1h0M522.3 84.7h0M455.7 92.1h0M465.9 162.8h0M475.8 97.7h0M539.3 85.4h0M654.8 136.7h0M586.2 129.4h0M635.4 109.7h0M534.6 153.2h0M452.7 119.1h0M493.6 146.1h0M659.2 131.6h0M609.2 157.1h0M542.5 168.2h0M655.3 162.1h0M455.7 93.4h0M645.3 136.4h0M647 110.3h0M488.7 104h0M516.5 165.1h0M466.8 77h0M416.5 105.9h0M468.1 138.6h0M643.8 156.4h0M432.2 126.7h0M491.3 59.4h0M516.1 125.5h0M437.4 75.3h0M460.2 145.5h0M481 126.2h0M559.1 118.8h0M621.1 106.1h0M460.9 122.7h0M514.4 110.6h0M532.2 110.3h0M500.9 113.9h0M592.3 111h0M643.2 151.1h0M469.1 159.2h0M493.6 116.1h0M416.4 116.4h0M413.6 164.8h0M567.8 131.9h0M464.3 150.9h0M477 120h0M669.8 161.5h0M519.4 120.6h0M551.3 101.9h0M497.3 115h0M460.1 140.6h0M480.4 117.8h0M543.7 118.6h0M657.4 112.7h0M506 123.2h0M620.4 154.5h0M522.8 111.5h0M584.5 75.3h0M445.4 134.7h0M636.3 151.3h0M587.6 145.2h0M529.2 135h0M640.1 138.3h0M465.2 123.8h0M490 116h0M619.7 105.5h0M652.3 145.8h0M663.1 122.7h0M543.7 125.9h0M609.2 132.3h0M558 136.8h0M478.7 127.5h0M662.9 132.9h0M502.6 95.9h0M625.4 93.1h0M441.7 128.3h0M464.6 160.1h0M414.5 113.9h0M485.7 133.9h0M408.4 150.9h0M533.3 94.4h0M571.8 133.9h0M651.8 108.9h0M618 112.6h0M644.8 98h0M576.6 150.8h0M627.1 122.8h0M507.8 150h0M594.8 114.5h0M501.6 90.5h0M579.9 121.3h0M514.8 116.7h0M554.7 137.1h0M558.9 124.3h0M571.2 145.6h0M431.4 110.8h0M427.5 126.2h0M614.8 129h0M407.7 175.6h0M529 114.7h0M455 78.1h0M447 120.4h0M516.5 147.5h0M432.1 121.1h0M426.3 124.4h0M578.5 114.1h0M644.4 93.3h0M621.3 117h0M639.2 154.6h0M508.9 96h0M617.3 143.8h0M423.5 130.1h0M469.2 126.8h0M520 80.2h0M553.9 156.9h0M558.2 148.8h0M659.9 132.3h0M626.8 155.1h0M431.2 97.5h0M661.5 122.1h0M514.9 155.2h0M621.9 122.7h0M425 125.4h0M650 127.1h0M516.6 159.1h0M584.2 141h0M580.3 117.2h0M496.1 87.6h0M486.5 127.9h0M441.9 148.3h0M444.7 132.1h0M611.8 131h0M565.3 150.6h0M584 85.6h0M646.6 145.9h0M413.3 129.6h0M443.1 77.7h0M614.3 111h0M633.2 144.2h0M528 146.6h0M635.3 122h0M641 103.1h0M651.4 160.2h0M609.7 97.1h0M650.8 159.3h0M601.9 149.3h0M457.8 126.5h0M459.1 131.3h0M543 114.9h0M574.5 132.6h0M428 120.5h0M666.7 109.6h0M463.9 154h0M622.8 170.5h0M436.5 106.2h0M407.8 107h0M493.4 132.7h0M669.9 113.6h0M451.4 120h0M410.3 125.8h0M537.2 103h0M658.5 130.6h0M588.9 74.1h0M513.9 106.7h0M442.8 136h0M582 114.6h0M539.6 99h0M667.5 125.2h0M562.8 167.7h0M457.5 128.3h0M618.8 134.4h0M652.7 129.7h0M632.2 99.5h0M543 107.5h0M655.4 151.9h0M531.9 53h0M481.9 121.6h0M467.2 113h0M438.6 128.4h0M664.9 129.9h0M617 128.1h0M662.6 127.7h0M576.9 126.9h0M500.7 135.9h0" stroke="#4472C4" stroke-width="2.9" stroke-linecap="round" fill="none"/>
<clipPath id="c1"><rect x="380" y="0" width="290.5" height="200"/></clipPath>
<path d="M405.5 124.9 L412.3 124.2 L419.0 123.5 L425.8 122.9 L432.6 122.4 L439.4 121.9 L446.2 121.4 L453.0 121.0 L459.7 120.7 L466.5 120.4 L473.3 120.1 L480.1 119.9 L486.9 119.8 L493.7 119.7 L500.4 119.6 L507.2 119.6 L514.0 119.7 L520.8 119.8 L527.6 119.9 L534.4 120.1 L541.1 120.4 L547.9 120.7 L554.7 121.0 L561.5 121.4 L568.3 121.9 L575.0 122.4 L581.8 122.9 L588.6 123.5 L595.4 124.2 L602.2 124.9 L609.0 125.6 L615.7 126.4 L622.5 127.3 L629.3 128.2 L636.1 129.1 L642.9 130.1 L649.7 131.2 L656.4 132.3 L663.2 133.4 L670.0 134.6" stroke="#C00000" stroke-width="4.5" fill="none" stroke-linecap="round" stroke-linejoin="round" clip-path="url(#c1)"/>
<text transform="translate(386.8,190.2) scale(1.0,1)" text-anchor="end" font-size="14" fill="#000" stroke="#000">30</text>
<text transform="translate(386.8,164.43) scale(1.0,1)" text-anchor="end" font-size="14" fill="#000" stroke="#000">35</text>
<text transform="translate(386.8,138.66) scale(1.0,1)" text-anchor="end" font-size="14" fill="#000" stroke="#000">40</text>
<text transform="translate(386.8,112.89) scale(1.0,1)" text-anchor="end" font-size="14" fill="#000" stroke="#000">45</text>
<text transform="translate(386.8,87.11) scale(1.0,1)" text-anchor="end" font-size="14" fill="#000" stroke="#000">50</text>
<text transform="translate(386.8,61.34) scale(1.0,1)" text-anchor="end" font-size="14" fill="#000" stroke="#000">55</text>
<text transform="translate(386.8,35.57) scale(1.0,1)" text-anchor="end" font-size="14" fill="#000" stroke="#000">60</text>
<text transform="translate(386.8,9.8) scale(1.0,1)" text-anchor="end" font-size="14" fill="#000" stroke="#000">65</text>
<text transform="translate(398.7,206.1) scale(1.0,1)" text-anchor="middle" font-size="14" fill="#000" stroke="#000">600</text>
<text transform="translate(452.96,206.1) scale(1.0,1)" text-anchor="middle" font-size="14" fill="#000" stroke="#000">800</text>
<text transform="translate(507.22,206.1) scale(1.0,1)" text-anchor="middle" font-size="14" fill="#000" stroke="#000">1000</text>
<text transform="translate(561.48,206.1) scale(1.0,1)" text-anchor="middle" font-size="14" fill="#000" stroke="#000">1200</text>
<text transform="translate(615.74,206.1) scale(1.0,1)" text-anchor="middle" font-size="14" fill="#000" stroke="#000">1400</text>
<text transform="translate(670,206.1) scale(1.0,1)" text-anchor="middle" font-size="14" fill="#000" stroke="#000">1600</text>
<text transform="translate(365.5,110.6) rotate(-90)" text-anchor="middle" font-size="14.1" fill="#000" stroke="#000">Compressive strength_28 days&#160; MPa</text>
<text transform="translate(630.5,228.8) scale(1.02,1)" text-anchor="middle" font-size="14" fill="#000" stroke="#000">Gravel&#160; kg/m3</text>
<line x1="45.4" y1="481.4" x2="310" y2="481.4" stroke="#D9D9D9" stroke-width="1.3"/>
<line x1="45.4" y1="458.79" x2="310" y2="458.79" stroke="#D9D9D9" stroke-width="1.3"/>
<line x1="45.4" y1="436.18" x2="310" y2="436.18" stroke="#D9D9D9" stroke-width="1.3"/>
<line x1="45.4" y1="413.57" x2="310" y2="413.57" stroke="#D9D9D9" stroke-width="1.3"/>
<line x1="45.4" y1="390.96" x2="310" y2="390.96" stroke="#D9D9D9" stroke-width="1.3"/>
<line x1="45.4" y1="368.34" x2="310" y2="368.34" stroke="#D9D9D9" stroke-width="1.3"/>
<line x1="45.4" y1="345.73" x2="310" y2="345.73" stroke="#D9D9D9" stroke-width="1.3"/>
<line x1="45.4" y1="323.12" x2="310" y2="323.12" stroke="#D9D9D9" stroke-width="1.3"/>
<line x1="45.4" y1="300.51" x2="310" y2="300.51" stroke="#D9D9D9" stroke-width="1.3"/>
<line x1="45.4" y1="277.9" x2="310" y2="277.9" stroke="#D9D9D9" stroke-width="1.3"/>
<line x1="45.4" y1="277.9" x2="45.4" y2="481.4" stroke="#D9D9D9" stroke-width="1.3"/>
<line x1="104.2" y1="277.9" x2="104.2" y2="481.4" stroke="#D9D9D9" stroke-width="1.3"/>
<line x1="163" y1="277.9" x2="163" y2="481.4" stroke="#D9D9D9" stroke-width="1.3"/>
<line x1="221.8" y1="277.9" x2="221.8" y2="481.4" stroke="#D9D9D9" stroke-width="1.3"/>
<line x1="280.6" y1="277.9" x2="280.6" y2="481.4" stroke="#D9D9D9" stroke-width="1.3"/>
<path d="M73.7 332.8h0M90.9 340.1h0M155.1 393h0M130.2 365.9h0M74.6 370h0M113.2 380.1h0M118.4 377.2h0M82.1 390.1h0M147.5 401.1h0M76.9 370.2h0M108.4 308.7h0M122.7 376.5h0M112.9 396.2h0M130.7 402.1h0M147.9 388.4h0M172.7 408.5h0M96.3 365.2h0M137.7 402h0M143.1 402.5h0M97.2 353.7h0M64.1 387.5h0M174.7 360.9h0M97.9 383.7h0M99.6 397.9h0M165.4 382.2h0M130.5 363.6h0M117.5 354.4h0M151.9 379.6h0M67.4 366.7h0M144.4 388.4h0M106.5 370.4h0M74.3 340.4h0M139.1 368.5h0M169.9 381.6h0M87.5 347.6h0M135.6 419.9h0M97.8 379.5h0M148.3 368.4h0M146.1 393.4h0M88.8 366.3h0M158.3 400h0M138.7 386.2h0M141.6 395.6h0M157.2 419.7h0M112.7 346.7h0M150.2 380.6h0M163.9 403.5h0M75.6 397.9h0M160.6 395h0M108.7 397.1h0M118.5 360.5h0M80.6 366.4h0M143.4 411.9h0M97.1 371h0M163 364.1h0M95.3 373.1h0M127.8 396.1h0M109.4 380.6h0M133.7 403.6h0M86.3 321.3h0M84.4 386.5h0M148.9 378.9h0M149.5 348.5h0M128.4 341.8h0M168.7 394.1h0M87.3 373.5h0M160.7 390h0M83.1 358.1h0M173.6 385.1h0M134.9 383.7h0M133 378.8h0M174.4 399.5h0M153.5 401h0M153.8 371.4h0M70.1 347h0M105.9 359.9h0M73.6 324.8h0M85.9 377.8h0M88.3 376.9h0M161.6 395.9h0M78.3 342.9h0M97.7 396.4h0M120 390.2h0M160.6 378h0M173.7 414.7h0M144.5 374.8h0M88.2 333.9h0M125.9 373.1h0M144.2 389.6h0M69.8 363.4h0M141.3 400.9h0M105.8 374.1h0M131 366h0M140.1 368.1h0M140.1 420.9h0M123.4 392.6h0M127 354.6h0M86.5 370.6h0M120.3 421h0M78.2 355.3h0M118.6 368.1h0M124.9 362.3h0M152 388.8h0M108.7 356.8h0M66.2 380h0M124 384.6h0M87.3 356.4h0M148.3 333.1h0M108.1 386.9h0M107.2 358.8h0M167.4 366h0M108.6 359.7h0M103.6 328.4h0M103.5 348.3h0M118.6 408.8h0M74.5 347.3h0M126.1 387.7h0M168.8 369.1h0M128 373.3h0M148.6 382.5h0M171.7 389.2h0M159.7 408.1h0M148.6 372.1h0M156.4 413.1h0M157.2 377.5h0M92.8 373.4h0M118.8 359.9h0M102.9 370.9h0M93.7 383.3h0M129 369.3h0M100.1 337.2h0M134.3 399.5h0M130.2 357.7h0M75.8 370.6h0M114.3 379.6h0M108.3 376.9h0M144.3 393.8h0M73.9 324.9h0M83.1 346.3h0M122.2 367.8h0M110 398.6h0M139.6 373.1h0M101.8 387.2h0M86.4 336.3h0M169.9 414.8h0M91.7 351.8h0M80.7 390.8h0M95.8 390.4h0M102.6 366.7h0M89.5 348.1h0M124.9 360h0M170.5 397.2h0M78.3 369.7h0M111.2 357.5h0M139.9 403h0M164.6 406.9h0M177.7 385.4h0M80.3 351.1h0M125.1 359.3h0M164.2 371.6h0M70 386.3h0M130.9 373.3h0M83.7 318.7h0M151.3 380.6h0M170.6 403.9h0M125.2 357.7h0M64.9 340h0M71.2 330.8h0M111.2 361.2h0M160.3 395.8h0M90.9 369.2h0M140.1 403.1h0M110 325.6h0M94.1 384.5h0M144 390.4h0M99 381.7h0M106.2 363.6h0M151 364.3h0M120.3 386.2h0M153.1 380.1h0M122.7 365.2h0M82.1 317.4h0M114.4 379.1h0M163.2 385.4h0M128.2 351.7h0M173.7 412.1h0M64.1 350.2h0M102.6 368.6h0M151.4 404.2h0M142 387.5h0M127.7 376.1h0M139.4 365h0M163.6 375.9h0M141.7 393h0M126.2 395.4h0M127.9 363.5h0M139.7 408.4h0M100.8 379.8h0M140.1 402.2h0M133.9 408.4h0M153.3 383.3h0M118.6 402h0M67 364.4h0M125 357.7h0M161.5 366.1h0M136.7 405.3h0M137.1 398.4h0M108.4 389.1h0M104.5 396.4h0M145.7 364.7h0M72.8 338.7h0M162.5 382.5h0M163.6 404.5h0M173.4 381.4h0M79.4 356h0M77 359h0M165.6 382.1h0M109.6 349.1h0M94.7 368.7h0M107.4 380.5h0M139 400.6h0M82.3 300.3h0M119.4 346.6h0M139 423.2h0M145.9 383.7h0M65.3 335.9h0M156.2 412.6h0M113.3 402h0M113.5 356.8h0M127.9 385.5h0M95.8 396h0M164.8 390h0M88.1 334.1h0M125.7 386.8h0M83 377.4h0M134 382.1h0M166.5 391.9h0M164.3 364.5h0M79.2 334.3h0M135 374.5h0M165.5 400.5h0M86.7 375.7h0M111.1 415h0M145.1 387.1h0M147.9 393h0M115.3 388.2h0M136.6 371.6h0M140 364.2h0M104.1 406h0M138.1 357.3h0M129.6 373.9h0M143.3 395.4h0M122.1 391.3h0M102.2 304.4h0M113.3 362.6h0M168.9 331h0M85.3 365.7h0M80.8 381.4h0M65.3 357.1h0M160.9 376.9h0M176.4 374.7h0M90.8 328.3h0M94.2 379.8h0M86.5 391.7h0M132.2 365.6h0M119.1 336.1h0M157.3 380.3h0M87.8 302.5h0M163.8 402.2h0M116.7 405.5h0M155.8 357.3h0M155.2 383.7h0M167.5 395.5h0M120.7 339.3h0M133.3 345.4h0M127.8 377.5h0M85.6 329.5h0M121 376.6h0M169.4 363.8h0M167.3 388.2h0M66.4 328.9h0M139.4 384.3h0M101.1 334.2h0M79.4 355.4h0M79.8 368.1h0M154.4 386.4h0M173.1 382.1h0M123.1 380.9h0M107.6 382.9h0M121.9 371.3h0M158.3 367.1h0M148.9 388h0M71.2 374.7h0M88.1 381.4h0M162.6 374.2h0M120 349.2h0M138.8 400.9h0M152.4 370h0M136.4 371.1h0M147.4 397h0M126 389.2h0M90 343.1h0M85.2 372.1h0M177 374h0M65.1 312.3h0M142.5 399h0M164.1 409.4h0M90.3 399.6h0M69.4 344h0M109.3 390.2h0M101.5 369.4h0M116.4 390.9h0M112.6 351.2h0M171.1 382.5h0M77.5 347.5h0M171.3 416.8h0M69.1 370.9h0M170.7 378.7h0M101.8 373.5h0M146.6 381.7h0M64.3 320.5h0M114.8 364.4h0M141 372.2h0M135.4 385.7h0M155.7 395.2h0M81.4 370.8h0M109.6 376.5h0M133.7 410.4h0M67.2 364.8h0M159 389.4h0M111.3 384.1h0M91.9 368h0M89.2 399.7h0M138 393.5h0M69.4 354.8h0M91.7 314.2h0M98.5 367.9h0M93.3 372.1h0M147 396.1h0M131.3 381.8h0M166.8 399h0M143.7 374.5h0M97.4 380h0M100.8 358.9h0M77.9 372.6h0M91.5 390.6h0M132.7 407.2h0M147.1 372.9h0M97.6 380.9h0M103.1 381.5h0M155.3 350.6h0M173 409.5h0M73.6 358.6h0M72 383.3h0M150.3 397.9h0M120.3 370.1h0M112.3 381.7h0M136 353.2h0M150.4 402.8h0M71.9 370.4h0M173.4 412.9h0M172.9 378.7h0M111.3 378.9h0M117.3 380.8h0M94.9 384.5h0M130.8 375.2h0M87.3 364.9h0M124.7 379.3h0M166.8 393.7h0M121.5 381.6h0M158 374.7h0M84.3 363.8h0M164.4 383.7h0M77.9 398.3h0M88.1 337h0M145.9 367.9h0M98.3 339.3h0M77.5 349.6h0M73.8 384h0M154.2 377.6h0M66.2 347.4h0M70.3 365h0M171.5 380.9h0M152.9 392.3h0M106.1 382.2h0M85.8 347.1h0M162.6 379.1h0M153.5 383.4h0M140 386.9h0M124.3 352.7h0M123.7 389.4h0M175.2 389.8h0M123.3 382.5h0M73.5 360.6h0M72.4 347.1h0M131.7 398.2h0M147.3 358.6h0M135.4 378.7h0M148.4 392h0M97.4 382.4h0M106.1 397.6h0M94.1 365.9h0M106.3 308.1h0M94.3 379.4h0M158.8 403h0M80.7 373.6h0M87.6 336.7h0M145.2 378.1h0M109.2 345.8h0M102.8 372.2h0M174.8 409.5h0M165.6 376h0M88.8 354.5h0M81.6 353.7h0M119.9 376.4h0M129.2 381h0M103.4 356.7h0M131.2 379.3h0M141.1 351.5h0M156.6 366.7h0M91.5 320.2h0M137.3 387.7h0M70.5 311.2h0M71.3 324.8h0M70.2 313.5h0M77.2 356.6h0M152.9 402.7h0M106.1 389.4h0M120 378.6h0M115.2 360.6h0M87.5 345.3h0M69.1 364.8h0M84.6 365.5h0M161.6 379.6h0M102.5 379.3h0M111.8 383.5h0M94 364.7h0M148.3 354.6h0M143.8 396.7h0M107.6 379.7h0M121.5 378.3h0M109 381.1h0M129.2 372.2h0M131.5 367.5h0M129.6 381.7h0M166.5 356.3h0M172 368.7h0M69.8 288.6h0M107.1 359h0M68.5 387.8h0M106.6 395h0M155.3 384h0M141.2 376.1h0M128.5 370.3h0M73.7 393.7h0M156.2 397.7h0M133.6 374.3h0M98.4 314.2h0M153.3 379.6h0M68.4 379.5h0M85.3 373.1h0M153.7 392.7h0M69.1 361.8h0M79 339.7h0M121 358.1h0M144.7 365.4h0M131 399.5h0M68.1 377.1h0M95.2 395.8h0M144.3 389.4h0M103.6 369.7h0M86 389.4h0M64.2 345.9h0M93.8 362.5h0M169.8 394.4h0M69.6 345.6h0M126.9 387.5h0M167.4 406.2h0M143.6 362.5h0M95.9 375.1h0M137.7 368h0M77.5 371.3h0M120.7 416.9h0M93.9 357.1h0M163.6 408.1h0M162.5 402.6h0M150.6 373.9h0M106.7 395.1h0M154.6 392.2h0M175.4 354.7h0M106 336.2h0M123.7 395.8h0M82.4 358.4h0M76.2 370.7h0M145.9 366.9h0M70.8 364.3h0M132.3 332.1h0M76.8 382.2h0M140 371.9h0M149.6 364.2h0M171 382.4h0M108.3 373.2h0M108.2 367.9h0M109.4 397.4h0M144.2 370.6h0M153.5 373.8h0M77.1 352.1h0M100.9 393.6h0M70.2 371.9h0M90.6 368.5h0M147.4 360.1h0M170.5 365.6h0M175.5 379.4h0M71.7 382.8h0M109.7 411h0M163.2 390.1h0M121.4 371.2h0M103.7 342.2h0M152.9 401.9h0M162.3 351.3h0M80.5 367.9h0M122.8 370.2h0M80.7 372.6h0M84.4 373.4h0M124.3 390.9h0M92.7 372.1h0M155.5 404.3h0M105.5 389.1h0M84.5 359.1h0M135.5 404.8h0M93.7 375.8h0M71.5 368.5h0M177.6 397.7h0M84.9 341.5h0M78.9 375.1h0M118.6 318.6h0M64.4 388h0M153.7 402.8h0M72.5 343.7h0M68.4 401.3h0M173.8 396.5h0M122.7 372.3h0M169.6 412.4h0M166 344.7h0M147.4 358.1h0M67.3 331.9h0M137.2 383.6h0M71.3 340.2h0M65.1 333.1h0M160 396.2h0M98.8 377.2h0M148.9 355.2h0M124.2 375.3h0M153.1 375.8h0M136.7 397.5h0M174.6 433.4h0M117.9 363.1h0M161 388.9h0M157.4 390h0M130.7 384.9h0M121.5 364.6h0M112.9 370.3h0M137.4 380.6h0M86.2 367.2h0M113.9 381.9h0M137.5 364.2h0M98.9 382.6h0M88.6 312h0M76 352.9h0M155.5 388.4h0M163.6 330.6h0M158.8 377.2h0M144.3 403.7h0M132.7 396.3h0M70.5 356.5h0M164.1 397.6h0M117.8 354.3h0M142 372.8h0M77.7 341.8h0M148.8 370h0M80.6 343h0M173 417.3h0M144.8 401.8h0M124.3 396.6h0M138.3 375.4h0M90.1 361.1h0M120.7 346.4h0M73.7 331.9h0M95.7 310.3h0M96.4 380.7h0M82.7 362.9h0M111.3 329.4h0M71.1 366.7h0M66.9 365.5h0M101.8 337.3h0M176.7 363.5h0M146.6 413.7h0M112.6 376.3h0M86.6 387h0M77.8 396.8h0M111.3 390h0M138.3 375.4h0M157.9 379.7h0M116.5 352.1h0M160.8 370.8h0M156.2 392.5h0M160.6 380.7h0M101.7 343.6h0M117.1 339.7h0M82.2 377.4h0M130.4 402.6h0M68.7 333.7h0M117.3 374.3h0M82.5 356.2h0M118.3 380.9h0M84.5 361.3h0M64.1 363.9h0M111.9 376.8h0M112.6 387.7h0M125.5 402.2h0M78.1 337.3h0M120.6 393h0M98 385.1h0M73.2 346.5h0M110.6 347.9h0M139.8 354.7h0M98.4 338.2h0M145.1 392.3h0M153.7 392.9h0M65.5 365.5h0M88.4 391.9h0M96.2 339.8h0M131.3 371.3h0M119.3 388.3h0M128.6 351.5h0M72.3 343.5h0M96.6 354.7h0M82.2 370.8h0M148.8 424.5h0M141.7 374.9h0M98.6 384.1h0M163.6 412.6h0M79.4 349.9h0M65.9 316.2h0M106.4 390.7h0M140 385.6h0M171.6 385.5h0M121.8 378.7h0M79.5 357.7h0M131.9 357.6h0M65.8 358.3h0M157 371.7h0M100.6 372.3h0M75.5 364.2h0M80.9 304.7h0M158.2 399.1h0M167.1 386.2h0M84.9 353.2h0M177.5 377.6h0M161.8 391.1h0M101.4 399.9h0M69.7 388h0M81.1 393.4h0M113.6 396.7h0M87.3 367.4h0M84.6 369.7h0M95 378.1h0M163.8 392.7h0M68.1 368.8h0M168.9 392.9h0M115 356.7h0M147.9 353.7h0M122.2 368.9h0M171.5 396h0M84.5 369.5h0M93 383.6h0M121.7 365.4h0M121.7 401.9h0M101.6 333.9h0M98.7 400.2h0M74.1 359.1h0M121.1 361.7h0M158.4 362.5h0M162.5 379.5h0M111.1 402.6h0M175.4 360.4h0M173.9 366.3h0M100.3 341.2h0M77.2 339.9h0M159 388.1h0M171 411.9h0M137.8 375h0M173.6 407.5h0M118.3 370.9h0M123.5 315.5h0M72.4 362.3h0M106 347.2h0M169.1 388.2h0M75.7 355.4h0M79.6 397.2h0M67.7 361.6h0M120.3 372.5h0M132.6 361h0M124.5 352.8h0M163.9 392.6h0M141.4 369.9h0M136.4 385.1h0M132.5 397.4h0M121.5 373.1h0M72.4 339.4h0M75 344.3h0M137.2 411.9h0M88 354.4h0M111.2 380.8h0M137.6 373.7h0M132.2 379.5h0M91.7 390.8h0M94.3 387.2h0M79.9 362.1h0M139.3 384.3h0M145.8 384.3h0M78.9 382.7h0M94.7 341.4h0M80.8 410.2h0M133.6 360.7h0M97.6 372.9h0M162.9 398.2h0M94.2 335.5h0M137.2 370.1h0M136.3 382.7h0M171.1 399.6h0M146.2 377.9h0M170.1 384h0M130.4 356.7h0M64.3 328.7h0M101.1 370.4h0M148.2 396.6h0M102.9 379.2h0M138.8 396.5h0M77.3 367.5h0M137.5 381.2h0M107.7 367.6h0M171.6 374.7h0M72 370.1h0M104.9 367.5h0M151.2 422h0M108.5 375.8h0M116.5 418.1h0M102 378.7h0M75 346h0M100.3 346.6h0M163.7 400.6h0M151.2 377.2h0M99.2 356h0M140 383.3h0M154.3 370.7h0M154.6 399.4h0M70.2 372.4h0M82.6 382.1h0M172.7 386.9h0M95.8 387.3h0M152.5 412h0M135.6 371.3h0M163.2 402.5h0M72.8 386h0M170.2 384.1h0M163.6 400.8h0M91.1 379h0M144.8 400.8h0M64.6 341h0M162.4 381.6h0M111.1 358.8h0M148.2 399h0M154.4 353.7h0M66.9 366.7h0M164.3 408.6h0M75.9 366.5h0M81.5 397.7h0M115.8 392.3h0M92.8 376.9h0M137.7 382.6h0M85.6 339.3h0M134.8 356.6h0M150.6 392.4h0M173.6 392.3h0M109.4 388.6h0M96.5 341.9h0M129.6 378.4h0M138 376.9h0M168.9 399.6h0M130.6 396.1h0M113.8 394h0M97.8 375.1h0M146.4 384.5h0M136.5 370.5h0M72.1 370.3h0M98 359h0M82.9 346.6h0M120.3 372.3h0M107.3 358.3h0M82 405.9h0M124.2 375.4h0M138.9 391.8h0M102.7 347h0M158.9 384.2h0M75.5 364.4h0M70.5 354.3h0M144.4 382.4h0M128 351.4h0M149.5 393.1h0M170.3 387.6h0M122.1 388.1h0M156.9 384.6h0M137.6 357.9h0M122.4 375.4h0M121.2 380.9h0M176.8 371.7h0M103.3 351.3h0M112.2 365.9h0M117.9 386.8h0M136.7 375.7h0M70.9 330.1h0M138.1 368.2h0M68.3 316.2h0M107.1 383.9h0M114.3 364.6h0M128.3 348.9h0M129 348.3h0M132.6 399.1h0M66.7 343.2h0M101.3 351.5h0M147.9 366h0M111.4 394.2h0M157.9 371.8h0M125.8 349.9h0M128.7 354.6h0M140.9 403.6h0M175.8 390.8h0M64.4 323.1h0M77.4 313.1h0M74 361.5h0M87.4 367.9h0M66.3 350.9h0M176.3 383.6h0M81 377.4h0M117.9 377.9h0M164.3 345h0M117.9 352.1h0M92 360.4h0M97.2 307.5h0M111.9 375.2h0M98.9 379h0M117.5 386.6h0M110.9 391.6h0M73.2 363.3h0M163.4 393.7h0M174.2 331.7h0M127.9 362.3h0M74.7 312.2h0M167.3 395.5h0M105.2 357.6h0M107.3 379.7h0M93 385.2h0M169.6 381.9h0M142.7 382.4h0M98.2 353.5h0M106 324h0M112 371.7h0M107.2 373.6h0M140.4 394.3h0M172 412.1h0M68.8 357.1h0M160.4 400.8h0M160.5 386.1h0M88.8 370.2h0M175.2 370.3h0M163.6 382.1h0M146.1 366.5h0M76.1 378.5h0M114.8 389h0M150.1 364.1h0M127 364.2h0M70.6 367.4h0M150.8 311.8h0M110.6 423.7h0M89 371.8h0M103.5 376.7h0M75.7 347.9h0M105 396h0M65.7 351.4h0M177.5 389.7h0M79.5 305.8h0M102.5 405.7h0M98.2 381.6h0M116.2 387.3h0M102.5 352.9h0M164.9 362.5h0M85.2 330.3h0M177.4 402.8h0M108.6 369.8h0M175.7 395.2h0M102 353h0M73.1 370.2h0M158.7 386.6h0M81.9 363.3h0M148.4 378h0M164.1 379.1h0M88.7 316.2h0M100 400.9h0M128.1 390.8h0M162.8 398.5h0M161.2 387.2h0M119.3 335.8h0M128.4 364.7h0M155.3 342.8h0M81.6 353.8h0M169.9 370.8h0M162.2 390.6h0M90.5 379.3h0M135.5 342.3h0M147.2 399.1h0M137.6 407.7h0M72.1 355.9h0M71 329h0M89.3 304.1h0M75.8 362.7h0M119.1 381.7h0M147.8 381.9h0M129.5 367.6h0M167 402.4h0M119.7 372.2h0M115 385.5h0M78.4 350.5h0M172.4 384.6h0M140.4 367.6h0M175.5 367.1h0M170.3 398.3h0M73.6 373h0M132.6 378.9h0M119.4 375.7h0M149.7 368.3h0M69 336.7h0M138.9 380.2h0M133.4 366.7h0M106.4 370h0M78.2 359.5h0M142 396.6h0M69.4 339.4h0M102.3 368.4h0M67 327.7h0M98.9 329.9h0M92.3 374.6h0M134.4 377.5h0M141.7 385h0M144.5 386.5h0M110.6 390.1h0M149.7 382.6h0M139.1 381.6h0M124.7 398.7h0M152.6 382.3h0M174.5 386.5h0M118.6 395.7h0M173.3 406.9h0M134.9 377.8h0M107.9 359h0M118.1 371.4h0M138.5 411.4h0M99.8 389h0M168.9 383.3h0M107.8 390.6h0M135 365.4h0M161.7 373.3h0M158.3 400.7h0M140.5 380.2h0M145.2 374.4h0M150 379.4h0M130.7 388.5h0M113.1 378.5h0M166.2 391.6h0M82.2 295.7h0M78.6 346.6h0M99.5 348.2h0M90.6 338h0M174.7 384.7h0M124.3 364.5h0M164.6 392.5h0M126.8 391.9h0M88.6 332.8h0M163.5 395.6h0M164.3 397.9h0M78 373.1h0M151.1 407.8h0M128.6 378.5h0M84.3 379.8h0M102.3 384.8h0M147.4 376.9h0M85.2 376.9h0M133 373.6h0M124.6 339.7h0M124.3 397.9h0M84.6 369.3h0M157.8 392.1h0M125.4 383.7h0M142.3 383.7h0M135.3 377.3h0M100.3 367.9h0M147.8 353.5h0M109.1 407.3h0M168.9 405.6h0M116 360.5h0M86.1 371.2h0M116.8 370.7h0M108.7 352.9h0M172.2 368.5h0M99 389.3h0M165.1 401h0M66.8 366.3h0M79.2 372.9h0M97.4 363.7h0M148.2 415.7h0M132.4 375.2h0M111.3 375.4h0M111 349h0M159.7 411.5h0M88.6 352.8h0M153.5 393.8h0M106.4 385.2h0M142.7 371.9h0M156.8 376.1h0M112.8 398.8h0M86.1 320.4h0M91.3 371.2h0M92 373.6h0M74.8 366.5h0M112.5 358.9h0M137.2 393.1h0M108 371.8h0M172.8 425.4h0M170.8 379.3h0M152.3 365.5h0M154.2 396.6h0M99.5 363.2h0M150.2 376.1h0M69.9 343.7h0M66.2 303.2h0M71.7 347.1h0M100 425h0M146.6 366.5h0M67.5 352.1h0M107.5 361.6h0M131.7 394.9h0M160.2 392.1h0M128 384.7h0M91.9 331.6h0M73.7 343.7h0M121.6 372.9h0M155.7 385h0M158.6 376.8h0M134.4 365.4h0M84.4 350.5h0M72.5 362.9h0M69.4 339.3h0M94.6 379.2h0M124.7 356.5h0M80.9 334.1h0M134.5 406.5h0M99.7 391.1h0M153.8 421.6h0M124.3 349.2h0M151.2 369.3h0M93.1 336.3h0M128.7 378h0M164.8 393.5h0M65.8 369.9h0M170.1 374h0M131.2 398.5h0M177.4 368h0M96.3 341.5h0M119.6 341.3h0M141.7 400.3h0M131.5 389.8h0M134.6 398.6h0M162.3 413.1h0M82.4 385.6h0M145.5 390h0M114.6 361.3h0M167.8 375.9h0M171.8 405.8h0M114.5 366.7h0M104.6 377.7h0M166.4 389.2h0M171 379.2h0M151.9 352.1h0M166.8 379.2h0M171.8 388.9h0M119.1 374.4h0M104.8 348.3h0M70.4 320.3h0M113.8 378.4h0M88.6 334.1h0M146.4 385h0M133.5 361.7h0M170.5 405.7h0M142.3 392h0M92.4 366.1h0M106.5 375.3h0M120.9 416.4h0M125 337h0M171 372.4h0M135.9 410.5h0M101 395.8h0M95.2 345.1h0M129.4 406.4h0M73.6 335.4h0M116.1 379.3h0M165.9 385.7h0M168.4 387.2h0M127.7 399.2h0M125.9 407.5h0M101.7 382.6h0M130.9 370.6h0M115.9 374.3h0M137.8 372.2h0M172.4 372.9h0M149.8 360.9h0M79.6 362.6h0M83.5 354.8h0M142.5 404.7h0M174.8 403.2h0M132 395.5h0M159.3 412.9h0M95.6 355.5h0M91.6 387.1h0M175.7 412.9h0M163.7 405.6h0M115.1 322.5h0M156.8 371.9h0M137 380.9h0M152.7 379.5h0M130.9 412.7h0M141.6 400.4h0M171.2 389.2h0M112.9 395.1h0M147.7 409.6h0M173.2 403.8h0M68.6 341.6h0M92.6 341.9h0M104.6 392.3h0M129.2 361.1h0M115.7 393.3h0M171.2 391.8h0M85.6 366.3h0M98.7 378.3h0M72.7 326.8h0M84.1 349.8h0M131.6 382.8h0M69.8 336.9h0M171 402.5h0M150.3 382.4h0M73.6 299.5h0M153.8 383.3h0M77.9 287.6h0M122.7 398.2h0M88.3 388.9h0M83.5 368.9h0M124.6 369.1h0M164.5 398.9h0M73.5 331.6h0M87.6 359h0M119.2 395.5h0M172.6 402.3h0M105.2 365.9h0M162.9 408.6h0M125.5 375h0M115.4 395h0M150.7 389.2h0M86.2 360.4h0M123.9 399.9h0M67.8 363.3h0M123.5 387.2h0M177.3 392.6h0M72 343.6h0M75.2 360.7h0M129.1 404.7h0M170 398.6h0M127.2 396.6h0M173.4 396.3h0M100.2 354.4h0M176.7 382.1h0M88 314.9h0M151.9 391.8h0M102.1 399.3h0M158.9 404.2h0M68 355.4h0M99.5 382.1h0M169 409.1h0M151.9 389.9h0M119.1 358.5h0M106.9 364.5h0M171.4 387.5h0M86.1 326.6h0M85.7 375h0M70.9 341.5h0M140.1 408.2h0M167.9 403.8h0M78.7 363.9h0M150.8 371.9h0M151.1 386h0M87.1 374h0M123.2 369.2h0M129.1 357.2h0M70.3 328.2h0M171.5 404.1h0M79 348.6h0M80.9 371.8h0M143.9 375.1h0M120.9 360.5h0M153.3 404.8h0M137.2 350.2h0M74.7 393.3h0M115.3 373.9h0M175.3 416.6h0M98.8 379.3h0M84.8 334.3h0M164.8 372.4h0M73.6 321.5h0M110.3 364.7h0M177.1 406.3h0M161.9 404.1h0M79 305.5h0M73.8 338.3h0M118.8 394.1h0M141.9 368.4h0M156.2 390.1h0M86.6 346.2h0M112.4 385.9h0M115.4 406.8h0M98.6 383.8h0M141.3 376.5h0M125.2 378.9h0M111.2 385h0M151.7 407h0M97.9 347.4h0M132.4 372.7h0M152.9 401.1h0M102.5 381.6h0M67.6 282.2h0M64.1 339.9h0M153.7 368.4h0M156.5 376.9h0M145.1 388.5h0M66.7 361.7h0M93.1 356.1h0M171.9 385.5h0M127.5 395.2h0M112.8 345.5h0M174.4 386.4h0M174.1 400h0M92.4 344.8h0M146 397.7h0M156.9 391.7h0M160.9 385.9h0M167.9 378.4h0M149.5 411.4h0M71.7 373.6h0M98.7 413.5h0M86.7 353.9h0M136.4 379.3h0M126 348.7h0M174.5 388.8h0M91.1 378.5h0M78.2 348.9h0M67.4 373.7h0M86.6 382.1h0M165.7 396.1h0M133.9 342.3h0M92.1 391.6h0M129.5 333.2h0M137.7 385.5h0M101.7 400h0M66.1 350.4h0M143.8 399.7h0M130 371.5h0M73.2 341.4h0M121 396.5h0M80.4 352.2h0M111 385.5h0M147.4 383.4h0M132.6 391.3h0M101.5 374.4h0M151 365.5h0M92.7 341.3h0M138 391.5h0M97.2 356h0M135.8 359.5h0M129.3 395.5h0M132.4 340.1h0M160.2 395h0M156.4 384.6h0M175.4 387.2h0M89.7 371.4h0M175.9 373.5h0M140 339.3h0M80.8 338.5h0M64.2 352.9h0M91.1 345.9h0M115.4 367.7h0M136.5 375.5h0M164.9 410.9h0M159.3 360.3h0M168.6 385.2h0M163.2 396h0M163 401.9h0M175.8 416.4h0M149.2 382.9h0M81.4 374.7h0M129.3 389.2h0M114.9 332.9h0M141.4 408.6h0M96.7 405.6h0M169.1 382.1h0M96.2 402.6h0M116 387.6h0M83.4 363.6h0M168.5 406.1h0M166.1 375.8h0M172 379.2h0M88.8 364.2h0M101.9 374h0M167.8 407.5h0M164.1 395.6h0M76.9 325.6h0M116.9 380.5h0M70.3 346.8h0M158.3 384.2h0M159.5 396.4h0M170.8 383.1h0M156.4 387.6h0M112 405.7h0M106.8 408.2h0M138.8 376h0M112.1 310.1h0M173.2 385h0M116.9 360.1h0M116.1 398.4h0M174.9 434h0M93.6 336.5h0M101.2 355.1h0M72.6 385.3h0M169.4 389.7h0M123.3 381.6h0M114.5 380.3h0M165.4 400.7h0M167.7 387h0M87.6 327.5h0M78.2 387h0M164.1 369.6h0M172.8 414h0M125.7 348.2h0M146.8 391.2h0M66.1 337.1h0M119.7 350.6h0M73 389h0M78.9 381.6h0M70.2 355.3h0M124.9 371.7h0M129.4 362.9h0M112.8 390.5h0M145.4 389.6h0M73.4 313.2h0M90.4 365.4h0M84.1 381.7h0M121.7 408h0M153.9 382.8h0M84.1 346.8h0M166.4 403h0M103.8 357.9h0M86.5 314.3h0M92.8 341.4h0M151.2 378.1h0M64.8 357.6h0M112.6 389.1h0M97 352.9h0M124.5 403.3h0M108.8 347.6h0M74.5 346.2h0M81.3 367.3h0M173.4 418.3h0M128 396h0M168.6 409.6h0M172.5 407.9h0M132.4 375.5h0M167.9 360.5h0M111.7 394.6h0M97.7 385.6h0M156.2 358.9h0M101.3 370.3h0M94 362.2h0M118.2 379.2h0M110.1 315.7h0M172.9 392h0M166.2 381h0M146.2 374.3h0M165.7 369.5h0M92.6 360.2h0M93.8 365.9h0M103.2 362.6h0M131.8 384.2h0M66.7 387.1h0M75.2 370.4h0M92.6 391.8h0M74.9 361.9h0M92.6 362.4h0M75.6 366h0M97.7 400.9h0M113.4 367.5h0M125.9 378.4h0M155.4 373.8h0M97 392.4h0M107.7 383.8h0M162.7 401h0M66 345.3h0M122.4 392.2h0M77.4 350.3h0M65.5 374.6h0M164.8 385.5h0M139.7 383.4h0M116.9 379.3h0M156.1 392.7h0M172.7 394.9h0M130 367.3h0M115.8 360.4h0M64 308h0M171.8 391.3h0M152.3 396.8h0M75.9 371.3h0M114.8 366.8h0M92 369.5h0M171.7 401.3h0M98.4 393.2h0M80.1 382h0M166.2 381.5h0M98.5 383.9h0M78.7 362.4h0M71 365.3h0M82.5 336.6h0M113.3 381.9h0M92.5 347.7h0M140.8 383.4h0M165.2 408.3h0M80.6 343.8h0M68.3 376.5h0M150.4 382.6h0M139.4 372h0M162.7 411.8h0M77.4 350.9h0M143.4 373.5h0M96 351.7h0M85 365.1h0M107.1 358.7h0M160.6 389.8h0M156.9 373.3h0M159.4 371.4h0M91.8 382.5h0M115.3 375.3h0M83.9 364h0M89.2 334.4h0M159.8 402.6h0M76.1 389.2h0M168.3 375.4h0M173.6 402.6h0M113.8 407h0M131.9 399h0M173.6 404.4h0M146 382.1h0M153.7 357.3h0M148.5 392.3h0M70.3 345.5h0M153 364.1h0M143.4 396.3h0M102.6 404.9h0M68.9 321.5h0M104.1 382.9h0M126.9 396.3h0M105 364.6h0M130.1 397.7h0M109.1 373.2h0M143 372.4h0M170.4 400.2h0M65.6 350.8h0M134.3 390.9h0M156.1 368.6h0M66.7 385.2h0M116.1 426.6h0M155.7 389h0M141.8 392.1h0M107.5 325.5h0M102.8 372h0M67.6 353.6h0M120.9 367.3h0M157.3 386.4h0M157.8 381.8h0M145.1 401.7h0M120.2 385.4h0M91.9 341.5h0M96 392.4h0M83.6 371.6h0M101.4 366h0M64.6 339.5h0M115.6 377.5h0M153 379.9h0M101.6 357.9h0M161.2 389.6h0M127.3 383.6h0M153.2 382.3h0M177.2 402h0M75.9 370.2h0M110.1 354h0M82.7 354.5h0M79.2 382.4h0M145.4 414.3h0M64.5 368.2h0M131.5 379.3h0M168.2 365.8h0M111.8 377.1h0M142.1 323.6h0M78.9 363.7h0M149.7 403.6h0M152.1 390.6h0M130.6 368h0M168.2 386.4h0M126.6 356.5h0M131.7 362.1h0M65.8 334h0M157.4 367.3h0M103.1 380.3h0M142.8 379.9h0M119.9 374.5h0M81.6 359.1h0M118.4 345.9h0M170 384.8h0M138.3 376.1h0M76.7 380.2h0M125.4 384.4h0M166.7 383.2h0M66.9 349.5h0M64.1 368.6h0M157.2 379.2h0M131.4 381.8h0M149.4 370.3h0M100.7 357.4h0M128 337.2h0M80.9 375.8h0M77.2 369.5h0M126.8 364.3h0M160.7 346h0M125.7 366.3h0M65.8 338.5h0M64.3 355.3h0M150.5 353.8h0M105.4 363.6h0M86.4 360.4h0M93.3 356h0M168.9 395.4h0M118.5 362.7h0M79.6 353.5h0M84.5 341.8h0M71 369.6h0M171.7 404.8h0M115.9 379.8h0M115.1 411.8h0M70.6 368.8h0M95.3 366h0M156.2 387.5h0M159.9 325.1h0M114.9 409.2h0M95.8 352.2h0M172.9 396.7h0M100.6 363.9h0M95 354.3h0M80.2 373.9h0M119.8 354h0M159.6 379.1h0M123 342.7h0M157.5 393.4h0M100.8 361.2h0M142 369.9h0M83.9 353.4h0M116 378.7h0M99 370.1h0M98.1 372h0M150.3 399.4h0M88.6 362.4h0M121.3 318.2h0M105.2 345.4h0M164.6 402h0M90 348.6h0M103.5 370.8h0M144.7 371.3h0M97.5 372.8h0M147.2 372.5h0M175.4 404.1h0M105.1 386.9h0M125 358.5h0M66.3 380.3h0M155.1 382.9h0M106.6 364.2h0M133.3 382.6h0M87.3 368.6h0M140 354.3h0M120.6 354.9h0M176.9 387.3h0M171.9 355h0M128.8 380.7h0M83.5 366.8h0M96.7 345h0M125.6 355.9h0M155.1 396.7h0M165.3 367.7h0M163.9 359.5h0M152.5 371.9h0M115.8 394h0M129 342.7h0M93.1 376.4h0M127.3 358.4h0M106.6 351.2h0M126.8 379.8h0M68.1 354.8h0M74.5 356.4h0M138.6 379.6h0M112.7 389.8h0M89.3 374.4h0M174.1 404.6h0M66 330.9h0M170.7 388.2h0M159.9 382.9h0M64 329.6h0M163.4 387.4h0M145.5 388.1h0M89 371h0M141.9 365.5h0M170.6 389.1h0M71.3 382.1h0M97.8 379.1h0M78.5 363.3h0M162.9 423.5h0M78.3 340.3h0M75.6 332.6h0M74.6 373.2h0M159.1 349.4h0M86.6 353h0M174.1 388.3h0M68 368.5h0M116 343.7h0M78.9 351.8h0M84.5 375.1h0M84.6 318.3h0M127.7 377.5h0M88.8 379.9h0M102.7 330.8h0M162.1 383.6h0M132.6 412.5h0M64.7 350.9h0M94.1 334.6h0M133.4 367h0M99.7 317.9h0M74.4 331.3h0M75.5 351.2h0M104.4 390.8h0M134.5 383.8h0M117.5 388.1h0M90.9 349.1h0M81.3 305.4h0M98.4 363.9h0M164 420.7h0M72.9 349.3h0M72.1 335.6h0M73.8 342.5h0M127.2 396.8h0M66.9 339.3h0M98.8 383.7h0M98.4 367.1h0M112 377.5h0M113.1 362h0M159.4 408.4h0M98.2 346h0M82.4 354.7h0M153.4 322.9h0M89.3 383.5h0M79.9 400.1h0M66.2 353.8h0M172.9 411.3h0M139.6 383.5h0M135.5 413.1h0M74.1 341.2h0M158.8 387.7h0M70.9 341.6h0M143 386.6h0M158.4 408.7h0M116.5 357.9h0M85.4 338.9h0M174.9 371.3h0M68.9 362.9h0M94.8 342.8h0M133.8 372.7h0M135.9 378.5h0M85.5 361.8h0M94.4 364.6h0M109.7 357.3h0M175.2 417.2h0M176.9 372h0M75.3 355.5h0M161.1 387.4h0M109.2 382.3h0M92.4 315.1h0M113.7 362.5h0M70.1 351.3h0M146.5 369.7h0M143.6 392.9h0M92.1 321.3h0M67.5 367.5h0M148.5 390.7h0M175.2 366.6h0M78.8 369.7h0M175.8 401.7h0M127.1 365.4h0M90.5 359.9h0M151 377.6h0M151.2 384.1h0M104.2 369.5h0M129.1 378.2h0M88.7 313.6h0M130.8 400.2h0M86.3 355h0M105.2 354.2h0M154 389.9h0M154.4 376.8h0M139.6 372.5h0M167.1 426.5h0M152.3 355.7h0M132.3 362.3h0M140 373.7h0M78.9 371.6h0M68.9 353.8h0M91.7 375.8h0M150.5 395.4h0M176.1 353.2h0M88.7 401.1h0M175.4 421.2h0M157.3 395.6h0M82.5 344.5h0M125.2 394.3h0M93.8 322.4h0M148.9 382.6h0M104.3 371.2h0M108.8 372.2h0M128.7 372.8h0M97.5 329.5h0M154.1 388.7h0M133.3 395.7h0M70 378.9h0M128.4 358h0M113.8 366.5h0M169.8 374.5h0M172.5 399.4h0M70.8 340.4h0M151.3 371h0M134.4 359.5h0M121 376.3h0M76.7 330.2h0M165.7 406.9h0M137.2 384.6h0M135.6 396.5h0M173.3 408h0M77.4 331.4h0M107.7 353.4h0M67.8 364.4h0M96 374.7h0M177.5 398.8h0M107.3 380.3h0M157.8 374.5h0M162 372.8h0M125.3 402.4h0M158.5 379.8h0M88.3 353.7h0M72.6 362.7h0M87.2 394.1h0M74.9 358.8h0M75.1 378.8h0M69.3 344h0M72.1 346.1h0M76.6 329h0M126.2 387.1h0M98.2 340.9h0M176.8 395.7h0M135.5 373.8h0M170.5 398.4h0M147.3 392.1h0M166.1 404.7h0M171.3 389.6h0M108.2 369.3h0M90.6 330.8h0M73.1 346.7h0M173.7 393.9h0M91.1 344.1h0M175.6 377.7h0M146.7 391h0M156.6 384.1h0M68 357.2h0M167.7 392.9h0M73.3 353.1h0M156 375.3h0M67.9 363.8h0M172 385.3h0M70.5 363.2h0M82.1 395.3h0M115.4 386h0M83.7 340.7h0M76.6 351.1h0M105.4 360.8h0M70.5 327.4h0M129.8 393.9h0M147.8 404.1h0M120.7 400.8h0M128.3 380.4h0M92.1 371.4h0M117.4 374.2h0M135.1 392.2h0M170.2 359.7h0M123.3 392.4h0M175.7 349.4h0M109.3 379.9h0M132.8 359.9h0M147 324.4h0M75.7 322.7h0M158.7 366.3h0M158.5 359.9h0M77.2 386.2h0M138.8 409.7h0M111 369.1h0M84.5 314.4h0M88.5 389.4h0M79.7 336.3h0M169.6 390h0M157.6 404.1h0M147.8 382h0M84.5 317.2h0M147.4 394.7h0M94.3 360.3h0M121.9 371.2h0M66.4 358.5h0M167.9 373.8h0M103.2 343.1h0M142.9 373.8h0M77.4 327.9h0M86.3 358.9h0M150.3 351.1h0M143.8 401h0M133 362.2h0M108.5 374.9h0M136.3 411h0M167.1 376.6h0M157.7 410.4h0M153.8 397h0M114.9 362.3h0M115.2 338.2h0M166.3 406.2h0M95.3 412.1h0M124.5 370.3h0M88.4 389.6h0M114.7 340.2h0M90.9 353h0M164 385.3h0M166.9 362h0M105.1 359.8h0M153.9 391.2h0M154.9 396.5h0M163.8 391.6h0M147.8 382.5h0M89.3 392.2h0M136.5 376.1h0M94.2 368.7h0M118 406.1h0M70.4 376.6h0M66.1 348.4h0M167.9 413.6h0M116.4 356.8h0M120.1 370.6h0M136 379.9h0M67.5 367.9h0M138.1 402.5h0M146.2 384.4h0M70.7 349.6h0M156.8 352.2h0M121.8 433.3h0M122.5 350.6h0M99.4 330.9h0M70.4 368.9h0M87.3 335.8h0M86.2 376.6h0M154 397.1h0M134.8 408.2h0M171.5 382.7h0M85.1 362.7h0M153.4 394.8h0M140.8 391.8h0M116.3 372.3h0M145.6 364.1h0M83.4 335.3h0M147.9 385h0M94.4 384.5h0M124.8 370.5h0M139.6 412.6h0M89.4 336.4h0M173.9 382.2h0M77.6 370.1h0M166.1 394.5h0M174.4 403.4h0M156.2 383.6h0M115.1 393.5h0M153.7 388h0M135.8 394.9h0M176 417.4h0M143.3 386.7h0M77.9 368.6h0M126 387.4h0M72.9 382.6h0M123.6 389.7h0M77.3 355.1h0M119.2 393.4h0M154.3 399.4h0M67 360.1h0M103.8 390.4h0M71.1 341.1h0M100.1 365.9h0M106.6 363.1h0M65.6 360.2h0M100.1 380.1h0M140.7 383.4h0M116.7 361.9h0M77.9 373.2h0M110.2 386.6h0M66.1 317.6h0M80.3 344.2h0M112.7 348.4h0M82.1 367.7h0M126.4 345.5h0M77.7 344.3h0M151.9 366.2h0M158.9 387.6h0M158.2 389.4h0M150.2 374.4h0M132.4 368.3h0M162.5 402.4h0M77.4 365.2h0M69.1 370.5h0M102.1 368h0M174.6 399.6h0M117 371.2h0M127.5 357.7h0M93.5 376.7h0M127.3 336.4h0M150.8 384h0M128.4 367.7h0M68.7 356.7h0M104.6 356.3h0M109 336.8h0M77.4 323.2h0M68.1 351.5h0M144 390.3h0M65.5 329.1h0M96.6 355.6h0M133.5 383.2h0M153.7 352.8h0M94.4 373.1h0M72.4 351h0M168.7 381h0M140.3 380.4h0M150.7 375.1h0M140.6 377.1h0M143.8 408.1h0M72.1 363h0M78.5 394h0M165 387.7h0M97.8 372.7h0M133.9 399.8h0M144.8 397.5h0M122.9 408.9h0M70.9 358.3h0M129.5 396.7h0M117.4 377.2h0M97.5 353.8h0M115 385.6h0M129.1 399.8h0M68.3 330.8h0M107.6 385.3h0M87.1 343.9h0M121 371.6h0M84 310.7h0M113 384.2h0M116.7 406.5h0M82.1 372.1h0M91.6 364.7h0M129 320.6h0M134.4 397.1h0M168.9 385.1h0M135.4 399h0M128 387.3h0M175.6 356.9h0M175.2 379.8h0M123.2 372.2h0M118.8 358.1h0M171.3 367.9h0M104.9 355.6h0M157.5 391.4h0M85.2 347.8h0M84 359.9h0M96.9 363.3h0M121.3 405.7h0M106.1 377.8h0M87.9 371.7h0M74.2 359.2h0M71.9 369h0M166.6 355.1h0M154.1 377.5h0M153.6 387.3h0M136.1 335.6h0M128.4 367.9h0M116.5 354.8h0M142.4 379.9h0M112.9 364.9h0M163.5 375.2h0M91.1 379.1h0M116.1 402h0M152.2 357.2h0M129.3 408.5h0M149.8 407.6h0M148 390.5h0M106.8 384.3h0M112.2 373.2h0M185.4 373.3h0M228.7 389.6h0M302.8 436.7h0M186.9 403h0M299.5 405.3h0M291.9 409.5h0M280.5 433.1h0M199.1 405.4h0M289.3 392.4h0M307 395.4h0M220.8 407.4h0M196.1 414.7h0M198.8 383.6h0M212.8 365.5h0M211.5 409.3h0M187.7 381.6h0M206.2 396.9h0M226.2 415h0M276.9 425.3h0M309 404.7h0M178.7 394.9h0M298.5 417.7h0M296.2 404.3h0M307.1 402.9h0M244.2 367.6h0M228.5 402h0M206.9 407.8h0M216.4 412.8h0M211.4 391.4h0M212.5 387.4h0M233.6 403.2h0M186.6 381.2h0M195.2 394.2h0M235.3 404h0M181.2 400h0M289 405.8h0M272.4 401.3h0M210.7 402.6h0M279.5 419.5h0M306.6 423h0M282.1 367.7h0M216.2 395.7h0M258.3 351.6h0M272.6 423.3h0M289.4 393.6h0M230.6 404.6h0M211.9 416h0M230.8 424.6h0M183.5 405.8h0M291.8 391h0M266.4 416.7h0M248.1 398.5h0M251 397.8h0M304.8 400.9h0M182.3 427.7h0M298.1 417.4h0M217 427.6h0M244.1 396.9h0M236.3 392.4h0M220.2 385.5h0M227.6 391.1h0M253.2 387.2h0M219 385.9h0M207.3 392.7h0M178.4 361.2h0M221.1 403.6h0M246.7 399.9h0M184.5 408.5h0M184.2 403.2h0M293.9 405.7h0M178.8 374.7h0M189.9 398.2h0M224.5 372.9h0M267.3 403.9h0M265.8 386.3h0M250.9 393.4h0M233.4 408h0M229.8 387.4h0M183.2 389.8h0M273.4 406.7h0M291.6 384h0M309.4 409.2h0M214.5 407.4h0M237.5 430.9h0M211.7 419.1h0M272.7 393h0M201.6 383.8h0M206.1 413.9h0M299.1 418.4h0M256.6 390.8h0M200.6 421.4h0M225 408.9h0M234.7 414.2h0M271.2 408.9h0M287 391.6h0M284.6 381.6h0M193.6 419.1h0M188.3 409.6h0M263.8 369.8h0M270.2 375.2h0M189.3 367.5h0M246.1 376.2h0M285.3 405h0M277.4 416h0M291.6 394.4h0M249.8 396.4h0M237.6 379.8h0M260.4 397h0M271.9 370.9h0M210.6 416.6h0M275.9 428.1h0M225.9 406.6h0M309.7 424.8h0M211.4 396.6h0M280.8 415.3h0M292.2 389h0M280.6 388.1h0M263.7 397.8h0M294 414.6h0M184.4 379.9h0M225.6 405.1h0M306.2 413.5h0M246.7 382.3h0M224.3 426.1h0M210.2 404.7h0M216.7 407.9h0M180 377.2h0M271.1 409.3h0M181.4 418.1h0M276.4 407.7h0M182.7 389.3h0M197 390.2h0M235.7 389.5h0M188.3 384.4h0M183.9 387.4h0M306.5 390h0M302.4 413.1h0M264.7 396.7h0M272.1 402.2h0M197 390.7h0M183 387.1h0M210.7 402.3h0M242.9 405.2h0M278.5 405h0M237.9 432.1h0M226.2 395.2h0M187.3 381.7h0M199.8 399.5h0M233.5 406.4h0M213.2 401.7h0M233.5 385.9h0M259.5 410.8h0M213.1 384.7h0M304.4 424.1h0M249.4 411.3h0M305.8 388.1h0M240.4 409.4h0M254.4 423.1h0M308.1 405.5h0M226.9 407h0M271.9 406.2h0M280.5 398.6h0M208.7 404.8h0M227.1 394.4h0M226.2 404h0M194.2 395.6h0M217.1 390.7h0M215.9 417.8h0M283 418.2h0M306.4 418.2h0M178.6 383.1h0M262.6 415.7h0M264.6 418.4h0M214.3 396.8h0M286 377.9h0M230.5 399.5h0M187.8 399.6h0M184.8 415.6h0M267.8 381.9h0M305.9 394.2h0M251.6 406.8h0M304.8 405.9h0M206.5 409.4h0M205.5 397.3h0M290.8 390.2h0M222 401.9h0M267.6 397.8h0M255.8 400.9h0M231.6 407.4h0M271.9 403.6h0M267.1 397.4h0M307.9 425.5h0M295.3 401h0M271.6 398.4h0M223.4 419.1h0M259.9 416.9h0M211.9 404h0M301.6 375.2h0M264.7 406.7h0M200.6 414.6h0M284.6 373.5h0M278.9 420.5h0M304.9 427.8h0M308.7 404.9h0M242.9 389h0M196.5 369.6h0M196.3 392h0M180.5 404.7h0M198.1 396.2h0M276 387.4h0M177.7 371.4h0M237.7 413.1h0M266.2 381.7h0M202.8 400.4h0M259.9 420h0M265 395.3h0M250.2 401h0M180.6 413.8h0M259 409.5h0M191.2 395.2h0M182.8 388.1h0M292.1 422.7h0M289.6 392h0M299.3 420.1h0M191.1 408.7h0M218.8 371.1h0M203.1 380.8h0M221.3 404.2h0M195.2 399.3h0M249.1 398.1h0M284.5 391.3h0M304.7 414.7h0M284 409.1h0M241.1 410.5h0M225.5 423.2h0M221.4 390.9h0M259.9 409.7h0M267.1 391.2h0M225 407.1h0M259.2 385.9h0M196.7 393.5h0M185.2 380.9h0M283 423.8h0M202.7 406.7h0M292.3 415.2h0M302.5 383.3h0M204.5 391.8h0M214.3 405.9h0M253.1 433.7h0M216.6 405.2h0M185.5 376.6h0M248.8 409.7h0M195.5 388.3h0M251 425.8h0M202.4 392.2h0M262.8 390.1h0M284.9 383.8h0M195.2 409.9h0M300.9 423.3h0M269.4 397.1h0M264.9 419.2h0M264.1 424.1h0M213.9 397.2h0M186.7 410.4h0M267.4 420.9h0M228 403.8h0M294.3 409.6h0M207.7 417.3h0M275.7 405.9h0M274.4 389.1h0M273.4 396.2h0M259.1 390h0M213.8 386h0M303.9 408.3h0M217 396.4h0M216.1 413h0M291.1 420.1h0M300.2 419.2h0M236.4 417.8h0M181 367.6h0M252.6 385.6h0M293.5 429.2h0M302.8 400.4h0M212.8 398h0M285.9 401.2h0M278.4 400.7h0M291.9 394.8h0M287.6 417.4h0M264.6 417.9h0M238.1 408h0M231.7 388.8h0M267.7 404.6h0M210.5 399.6h0M254 406.7h0M189.6 385h0M216.2 394.3h0M180.9 351h0M187 369h0M188.3 386.3h0M186 406.4h0M200.7 413.6h0M197.6 398.1h0M292.7 404.3h0M248.9 402h0M184 390h0M201 396.4h0M285.5 388.1h0M260.5 404.2h0M217.6 382.2h0M179.6 390.4h0M226.8 404.9h0M220.6 398h0M215.6 406.1h0M305.2 407.1h0M286.7 436.1h0M280.1 404.9h0M255.4 390.3h0M289.6 391.8h0M294.5 417.1h0M254.4 417.7h0M232 384.4h0M214.3 417.6h0M248.6 404h0M205 390h0M202.9 393.7h0M285.1 394.3h0M194.4 377.9h0M217.3 425.8h0M297.4 413h0M271.1 433.1h0M257.1 413.6h0M187 416.3h0M187.8 399.6h0M186.1 402.8h0M199.3 394h0M200.7 390.3h0M190.8 395h0M188.8 386.6h0M301.6 394.5h0M305.3 411.8h0M266.4 392.7h0M273.7 408.4h0M218.8 413h0M235 393h0M226.6 380.5h0M266 403.5h0M209 419.6h0M214.8 410.3h0M194.9 394.1h0M262.4 403.9h0M303.1 414.6h0M263.2 403.2h0M196.6 396.1h0M208.1 418.5h0M258.6 418.3h0M250.8 395.9h0M228 414h0M178 397.2h0M193.7 380.5h0M209 388.2h0M256.2 395.3h0M274.8 423.1h0M283.3 408.7h0M284 407.8h0M207.2 399.7h0M288.4 378.7h0M203.8 388.7h0M213.3 385.3h0M210.5 379.4h0M214.9 387.9h0M229.7 407.6h0M269.4 393.3h0M200.3 380.2h0M205.7 395.6h0M258.3 410.5h0M234.7 403.7h0M307.5 377.8h0M183.2 419.4h0M189.5 385.9h0M241.8 398h0M196.1 387.4h0M274.2 412h0M238.7 387.3h0M245.7 408.6h0M258.4 407.4h0M267.7 410.6h0M240.5 379.6h0M213.7 384.4h0M267 396.7h0M194 390.1h0M220.3 407.1h0M258 423.7h0M227 395.7h0M271.7 417.7h0M277.3 413.4h0M276.9 418.4h0M257.1 399.2h0M220.6 407.1h0M236.1 384.2h0M268.3 385h0M297.5 408.1h0M290.2 399.6h0M265.1 391.3h0M273.3 385.5h0M182.3 400.2h0M230.9 395.9h0M303.4 430.2h0M270.2 380.1h0M293.2 405.5h0M220.1 399.6h0M182.3 386.9h0M265.1 402.5h0M233.4 390.5h0M230.4 416h0M190.4 404.6h0M205.8 380.6h0M278.1 402.3h0M303.1 418.8h0M183.8 408.3h0M255.4 379.3h0M214.2 385h0M259.8 396.3h0M206.4 413.7h0M299.2 417h0M225.7 416.4h0M262.7 430.6h0M233.4 409.4h0M269.3 399.7h0M267.6 348.3h0M219.5 413.5h0M179.4 380.5h0M178.1 389.2h0M213.6 389.7h0M278 404.3h0M248.5 389.8h0M240 403.5h0M183.6 378.8h0M219.2 389.9h0M247.7 408.4h0M270.6 408h0M275.4 380.9h0M226.2 377h0M271.9 416.7h0M181.8 389.3h0M236.7 378.7h0M264.8 397.4h0M289.3 415.5h0M303 399.6h0M272 402.6h0M270.8 427.5h0M236.3 394.6h0M238.7 399h0M220.5 390.5h0M299.4 383.2h0M225.4 348.5h0M210.5 376.5h0M285.6 383.6h0M243.7 407.1h0M235.2 415.3h0M299.5 385.9h0M186.6 394.6h0M190.1 388.9h0M251 409h0M182.7 385.7h0M295.2 385.4h0M304.6 410.1h0M215.1 386.3h0M292.4 403.2h0M238.5 429.7h0M250.5 405.7h0M234.1 391.1h0M296.6 404.1h0M220.4 409h0M299.6 388.9h0M222.1 385.2h0M210.8 372.1h0M189.7 402.7h0M196.2 386.6h0M257.8 396.9h0M302.2 402.3h0M290.8 406.6h0M271.8 389.8h0M179.8 397.2h0M186.2 382.7h0M282.7 371h0M282.7 396h0M307.4 394.7h0M225.2 396.8h0M250.7 390.8h0M214.2 397h0M190 380.8h0M269.2 387.2h0M269.7 405.2h0M186.3 388.7h0M253.6 410.1h0M290.2 408.9h0M278.6 383.8h0M218 373h0M179 416.9h0M209 407.7h0M196.4 393.1h0M227.5 386.8h0M240.7 416.8h0M240.1 408h0M197.4 393.4h0M222.1 386.7h0M207.5 408.9h0M290.3 391.9h0M283 417h0M301.9 394.6h0M230.2 408.3h0M284.3 410h0M203.2 385.6h0M224.4 393.4h0M228.5 389.3h0M216.9 400.2h0M204.5 400.1h0M299 390.2h0M237 374.7h0M271.9 398.1h0M205.9 390.9h0M269.8 414.3h0M269.7 378.5h0M297.2 411.9h0M213.4 392.2h0M303.1 388.9h0M198.2 388h0M231.2 413.4h0M227.8 405.9h0M309.8 408.8h0M267.5 424.1h0M196.8 358.4h0M242.4 338.7h0M278.7 409.4h0M185.3 394.2h0M275.2 381.5h0M267 398.7h0M277.5 420.3h0M198 388.2h0M303.3 416.7h0M229.1 382.3h0M265.5 413h0M210 353.6h0M182.5 410.9h0M185.2 396.8h0M253.3 431.5h0M296.9 372.2h0M267.2 403.5h0M184.4 398h0M180.2 387.3h0M307.8 406.5h0M233.7 393.9h0M295.3 345.3h0M277.8 382.6h0M274.6 399.2h0M288.4 401.6h0M227.4 400.8h0M218.3 391.7h0M184.7 407.9h0M307.6 413.6h0M189.6 415.7h0M292.5 380.7h0M187.8 403.5h0M257.9 363.9h0M294 404.5h0M253.3 422.1h0M255.2 352.4h0M247 429.9h0M190 354.8h0M305.1 384.2h0M269.3 380.8h0M302.4 382.9h0M291.1 366h0M208 384h0M279.2 414.5h0M249.4 384.3h0M205.6 433.3h0M254 396.7h0M306.6 409.2h0M182 390.2h0M265.7 410.3h0M232.7 421h0M243.4 385.6h0M268.4 410.3h0M203.9 402.9h0M183.9 393.3h0M197.5 384.4h0M229.4 359h0M263.8 420.7h0M241.6 399.3h0M282.7 433.3h0M213.3 408.7h0M192.9 411.4h0M255.6 394.9h0M272.1 406.2h0M241.6 397.9h0M185.1 394.2h0M236.3 403.2h0M269.9 419.6h0M225.5 394h0M288.7 420.9h0M208.6 389.7h0M266.7 409.5h0M230.5 373.4h0M191.9 410h0M212.4 392.1h0M195.6 381.5h0M250.2 409.5h0M289.9 411.6h0M277.3 382.4h0M261.5 390.6h0M183.6 372.9h0M258.6 411.1h0M280.2 413.1h0M219.6 421.5h0M239.5 378.4h0M236.6 385.4h0M242.7 392.7h0M189.7 375.6h0M245.8 390.6h0M213.2 399.8h0M250 382.6h0M187.3 417.2h0M218 380.5h0M191.8 387.6h0M277.8 391.1h0M301.6 397.8h0M272.4 388.1h0M229.5 408.6h0M235.2 378.7h0M257.6 407.1h0M205.4 397.6h0M180.5 380.5h0M290.7 399h0M241.3 414.4h0M272.7 407.3h0M238 378.1h0M212.6 378.4h0M182.1 381h0M257.4 379.8h0M248 403h0M178.8 400.1h0M196.2 396h0M301.8 401h0M272.3 396.7h0M207 405.9h0M227.2 364.9h0M265.5 391.3h0M288.7 426.7h0M193.8 419.8h0M264.6 400.5h0M253.3 400.2h0M271.2 420.7h0M190.6 395.6h0M227.4 401.4h0M263.5 406.8h0M214.3 382.3h0M250.9 421.6h0M233.9 403.6h0M249.7 421.4h0M288.8 406.7h0M277.2 388.6h0M190.9 366h0M265.8 418.5h0M183.6 392.3h0M221.1 402.8h0M274.1 405.2h0M280.1 416.7h0M308.4 426.9h0M213.4 409.1h0M246.8 406.5h0M263.9 371.6h0M282 409.8h0M293.7 364.7h0M219.9 412.9h0M199.1 422.7h0M209.6 407.3h0M278.3 411.8h0M186.5 366.8h0M210 414.7h0M288.3 376.6h0M304.4 414.2h0M236.5 411h0M280 393.4h0M228.9 409.6h0M213.5 373.1h0M252.6 394.2h0M193.2 365h0M239.6 404.6h0M265.3 398.5h0M304.2 394.8h0M294.9 417.8h0M206 398.5h0M234.1 413.3h0M185 398.8h0M184.7 392h0M308.8 435.3h0M201.3 396.9h0M224.5 409h0M273.3 394.2h0M206.8 414.6h0M232.4 406.6h0M192.8 399.8h0M283 391.3h0M222.6 400.5h0M199.7 375.8h0M217.1 387.9h0M255 416.8h0M235.7 420.3h0M217.2 390.9h0M216.4 391.8h0M223.6 403.5h0M239.8 411h0M225.4 395h0M267.4 410.2h0M223.2 405.6h0M190.3 393.6h0M186.6 387.1h0M225.4 424.1h0M306.6 412.7h0M233.8 397.1h0M229.6 413.6h0M182.5 416.3h0M242.6 395.1h0M181.1 381.4h0M208.2 403h0M203.7 396.9h0M222.3 412.6h0M198.4 398.2h0M202.4 418.9h0M178.5 389.8h0M240.9 401.4h0M212.4 409.9h0M287.9 411.2h0M280.1 393.9h0M238.2 386.4h0M296.5 408h0M220.5 421.3h0M185.9 407.5h0M290.6 419.7h0M304.3 405h0M183 357.7h0M229.6 420.3h0M181.1 381.3h0M264.3 384.2h0M286.3 413.4h0M189.7 400.4h0M273.7 419.5h0M248.1 389.2h0M199.1 390.9h0M210.2 410.4h0M205.9 397.5h0M204.9 418.1h0M248.9 400.1h0M185.2 385h0M297.6 437.1h0M227.2 408.2h0M231.1 395.6h0M275.4 378.8h0M187.4 389.5h0M205.3 373h0M267.9 408.6h0M265 404.3h0M241.2 394.8h0M273.3 404.8h0M260.7 397.5h0M270.9 408.3h0M288.4 425.3h0M272.7 402.9h0M290.7 407.5h0M235.3 422.8h0M286.1 421.9h0M275.3 414.7h0M179 375.6h0M247.1 396.1h0M297.4 387.6h0M236.4 433.4h0M226.3 396.9h0M225.5 381h0M285.9 414.3h0M224.3 395.5h0M205.3 411.6h0M268.6 401.1h0M308.1 411.3h0M259 421.4h0M181.9 380h0M191.1 395.9h0M218.1 377.9h0M274.1 429.2h0M297.5 397.4h0M278.7 414.5h0M191.8 386.3h0M267.7 414.1h0M280.9 390.4h0M238.3 406.6h0M206.7 397.3h0M246.9 409.8h0M236.8 424.5h0M223.9 403.1h0M179.9 355.5h0M212.4 382h0M276.3 410.5h0M219.7 382.2h0M264.8 406.2h0M233 417h0M206.9 385.5h0M275.6 404.8h0M299.9 394.2h0M273.3 434.6h0M276 389.1h0M230.8 389.1h0M292.8 398.9h0M307.4 427.7h0M256.7 424.4h0M274.1 391.4h0M191.9 399.5h0M185.9 381.1h0M265.8 420.3h0M224.8 391.2h0M216 374.1h0M257.2 421.6h0M182.7 398.1h0M252.4 378.9h0M269.9 415.3h0M275.3 390.4h0M180.4 393.7h0M186.7 407.7h0M283.1 413.8h0M294 421.7h0M295.4 384h0M250 424.2h0M221.5 410.4h0M286 406.6h0M226.1 387.2h0M302 426.6h0M245.1 414.6h0M179.7 397.1h0M180.8 398.9h0M296.5 407.5h0M219.8 399.2h0M202.6 398.2h0M186.2 385.4h0M221.5 409.8h0M302.6 430.9h0M178.6 395.2h0M283.1 405.1h0M228.5 365.4h0M280.4 395h0M289.5 400.5h0M202.8 423.4h0M272.3 396.9h0M197.2 405h0M205.9 408.1h0M206.5 368.4h0M306.6 371.4h0M296 400.6h0M276.8 403.7h0M204 422.8h0M194.2 387.2h0M277.9 394.7h0M248.8 406.1h0M287.3 427.6h0M269 438.4h0M224.2 394.1h0M249.1 395.8h0M284.3 417.2h0M238.3 405.1h0M181.9 388.9h0M233.8 408.7h0M275.7 407.8h0M254.5 412.5h0M286.8 417.3h0M275 399.4h0M258.1 396.5h0M273.8 408.8h0M209.4 418.2h0M200.9 391.9h0M193.6 385.4h0M234.2 391.7h0M233.3 391.9h0M212.7 398.9h0M283.5 397.3h0M206.5 390.7h0M184.7 386.3h0M237.6 393.5h0M226.6 412.1h0M181.3 418.7h0M237.3 396.7h0M238.2 397.2h0M295.8 404.1h0M263.4 397.2h0M209.7 419.2h0M304.5 407.6h0M289.7 398.4h0M296.4 414.3h0M228.9 390.1h0M208.2 378.8h0M291.8 377.9h0M284.8 402.4h0M264.6 384.3h0M189.7 405.1h0M232.6 395.2h0M193.3 413.9h0M303.2 427.8h0M211.7 378h0M292.8 372.7h0M276.6 417.6h0M250 396.3h0M273.4 437.6h0M215.4 398.2h0M184.6 379.1h0M286.6 396.3h0M232.2 383.2h0M182.8 380.8h0M233 397.8h0M270.2 376.8h0M281 411.8h0M283.1 402.8h0M203.4 386.7h0M180.3 396.4h0M298 362.5h0M241.6 427.4h0M208.5 400.8h0M194.3 401.7h0M289.5 407.6h0M189.3 406.5h0M287.3 411.5h0M269.9 384.3h0M204.3 408.3h0M295.4 395.5h0M298.6 434.3h0M189.9 397.2h0M242.7 380.3h0M244.3 414.7h0M232.8 399.8h0M304.9 413.5h0M236.4 408.9h0M268.1 395.7h0M298.4 425.6h0M294.9 400.4h0M256.9 422.1h0M303.2 412h0M236.8 391h0M276.3 413.3h0M186.6 394.2h0M229.7 370.6h0M220.4 397.5h0M254.2 399.5h0M185.8 385.8h0M194.1 388.2h0M248.6 388.4h0M305.5 412.4h0M300.2 405.1h0M249.8 398.1h0M205.6 379.8h0M272.6 404h0M216.7 388.4h0M206.7 371.6h0M243.1 424.2h0M186.8 385h0M193.7 399.4h0M281.2 395.2h0M216.4 356.6h0M192.1 399.5h0M242.7 399.6h0M204.6 375.3h0M309 438h0M242.4 419.2h0M266.4 420.1h0M295.9 393.2h0M241.8 395h0M270.4 416.7h0M236.5 359.5h0M288.3 385.1h0M243.6 403.9h0M235.9 408.8h0M298.9 414.5h0M236.5 392.9h0M219.9 405.6h0M293.5 394.8h0M255.8 388.5h0M265.4 404.2h0M240.5 404.6h0M239.7 435.7h0M290 386.3h0M189.8 388.5h0M303 407.9h0M257.7 415h0M275.6 391.1h0M309.9 410.3h0M277.9 396.7h0M181.7 383.2h0M285.2 393.2h0M282 397.1h0M302.4 429.8h0M212.4 393.7h0M286.1 407.8h0M279.4 413h0M258.4 415.8h0M280.6 418.9h0M210.8 393.9h0M237.6 405.6h0M253.1 402.5h0M301.3 433.9h0M272.5 409.2h0M185.3 367h0M288.2 392.2h0M276.3 409.4h0M286.4 413.3h0M282.7 381.1h0M268.6 418.7h0M253.5 389.4h0M196 385.1h0M248 381.1h0M290.7 392.8h0M142.9 407.4h0M75.7 365.2h0M119.7 396.4h0M103.3 387.1h0M80 350.8h0M116.8 381.4h0M180.3 401.7h0M157.7 397.8h0M167.6 398.8h0M84.1 374.2h0M169.5 405.9h0M141.2 372.4h0M144.2 385.3h0M92.4 385.5h0M195.7 402.3h0M173.1 391.9h0M172 401.2h0M193.1 389.3h0M116.8 382.2h0M122.1 373.7h0M140.1 376.4h0M82.3 358.9h0M171.3 395.2h0M139.3 376.3h0M190.8 383.5h0M152.3 370h0M132.2 375.6h0M191.5 412h0M115.4 358h0M143.6 402.3h0M88 375.4h0M100.5 342.9h0M179.7 388.6h0M88.3 338.1h0M164.3 388.6h0M99.1 369h0M148.9 412.1h0M97.1 367.7h0M142.3 376.1h0M138.8 378.7h0M130.8 350.7h0M84.4 350.4h0M177.5 385.2h0M177.2 378.8h0M196.5 388.9h0M161.3 380.9h0M174.2 399.3h0M123.8 399.1h0M147.9 387.7h0M164.7 393.8h0M138 379.3h0M194.2 385.5h0M144.4 384.5h0M79.5 373.5h0M82.2 357h0M92.1 354.1h0M108.1 384.6h0M171 380.4h0M195.9 403.3h0M97.9 373.4h0M86.4 345.1h0M113.7 375.4h0M171.1 380h0M182 383.6h0M106.5 367.4h0M165.1 366.9h0M150.4 377.2h0M133.7 367.7h0M103.4 363.6h0M189 413.9h0M155.5 409.4h0M103 373.1h0M131.3 377.7h0M161.5 367.7h0M159 375.4h0M146.1 388.9h0M151.5 384.9h0M146.2 381.3h0M171.4 384.6h0M163.6 383.7h0M104.7 378.9h0M189.3 386.2h0M152.8 380h0M112.4 376.4h0M135.7 361.2h0M189.8 382.8h0M94.3 349.2h0M115.4 374.7h0M99.9 393.9h0M95 356.3h0M105.2 381.9h0M150.3 399.3h0M83.1 374.7h0M154.1 404.7h0M81.1 361h0M119.8 391.5h0M96.4 387.8h0M134.6 399.4h0M133.7 390.4h0M166.2 409.2h0M158.8 400.1h0M128.6 375h0M195.3 406h0M153.3 392.7h0M138.2 382.9h0M173.3 421h0M137.8 372.3h0M193.8 380.2h0M141 409.1h0M169.3 395.2h0M133.9 377.7h0M170.3 395.5h0M160.1 383.8h0M158.4 392.8h0M194.9 399.3h0M129.8 373.8h0M89.7 364.2h0M168.8 384.6h0M116.2 383.9h0M146.5 391h0M116.3 381.3h0M77.3 356.3h0M193.1 385.8h0M88.5 369.3h0M80.5 366.7h0M91 377h0M191.3 386.6h0M190.8 399.2h0M95.8 378h0M184.2 392.2h0M126.6 381.4h0M133.8 373.2h0M157.9 387.1h0M81.8 357h0M174.7 400.3h0M187.4 404.3h0M162.8 373.3h0M78.6 360.5h0M158.2 403.1h0M165.9 381h0M180.2 387.1h0M159.2 385.6h0M83.2 366.1h0M161.4 385.7h0M95.5 362.3h0M175.9 412.3h0M107.9 367.3h0M78.5 371.9h0M115 351.7h0M76.4 345.1h0M99.2 375.8h0M173.3 395.9h0M136.5 384.3h0M117.2 382.7h0M92.2 369.7h0M139.7 396.6h0M112.7 354.1h0M188.3 389.1h0M171.8 393h0M171.8 377.2h0M110.2 377.6h0M194.9 357.8h0M102.2 378.9h0M167.2 369.2h0M162.1 402.8h0M171 399h0M172.8 395.7h0M160.5 370.7h0M134 386.4h0M158.5 382.2h0M140.4 412h0M99.4 388.1h0M100.5 368.1h0M183 399.4h0M134.1 369.1h0M141.8 384.4h0M123.6 367.6h0M191 396h0M97.2 381h0M171.8 376.1h0M197.5 412.1h0M119.8 395.9h0M142.1 380.6h0M76.5 365.4h0M170.3 398.2h0M77.2 365.8h0M117.6 365.7h0M129.5 397.1h0M178.2 412.6h0M82.2 365h0M128.8 399.6h0M186.5 394.6h0M161 384.2h0M91.4 348.5h0M144.6 392.2h0M183.8 410h0M75.3 364.4h0M159.6 373.9h0M179.9 388.6h0M159.2 363.7h0M141.7 389h0M124.2 377.8h0M132.4 360h0M118 382.2h0M132.2 387.3h0M166.7 386.5h0M193.8 389.8h0M98.2 362.2h0M90.7 364.7h0M101.6 364.3h0M115.4 372.1h0M85.7 369.6h0M113.4 365.3h0M126.1 365.4h0M163.2 372.1h0M129.3 388.4h0M109.6 383.2h0M167.6 403h0M155.2 396.1h0M120.8 396.5h0M99.9 370.7h0M155.8 361.4h0M187 396.7h0M108.8 370.3h0M99.9 377.6h0M182 393.7h0M195.5 397.8h0M184.4 389.2h0M155.2 385.1h0M95 379.1h0M80.8 346.1h0M166 370.5h0M149.5 391.9h0M100.8 371h0M128.9 382.9h0M187.2 387.6h0M174 372.4h0M176.7 397.8h0M110.6 381.9h0M173 358.8h0M173.3 380.3h0M117.1 362.2h0M176.4 400h0M94 355.2h0M194.4 380.6h0M195.7 396.1h0M78.8 371.1h0M83 328.7h0M95.2 360.2h0M77.5 366.7h0M118.6 381.3h0M91.7 361.3h0M117.4 385.3h0M110.2 382.4h0M149.3 392.6h0M157.2 381h0M94.4 356.6h0M176.5 387.8h0M119.7 381.8h0M128.9 368.8h0M188.2 389.9h0M95.9 380.7h0M117.9 371.4h0M100.9 366.9h0M110.4 382.2h0M139.3 387.4h0M126.1 395.1h0M195 404.1h0M103.6 375.5h0M123.5 377.3h0M106.4 364.9h0M116 369h0M80.6 359.6h0M82.3 365.9h0M127.5 390.6h0M87.4 362.2h0M79.5 347.6h0M147.3 377h0M91 386.3h0M130.5 376.9h0M172.5 394.2h0M159.1 382.7h0M161 384.4h0M142.4 367.5h0M171.8 373.7h0M135.9 372.4h0M157.1 384.4h0M151.1 399.7h0M184.2 377.1h0M94.2 363.8h0M107.6 360.3h0M152.5 390.5h0M86.2 352.7h0M92.3 346.1h0M81.6 353h0M191.4 397.5h0M165.8 379.1h0M131.5 380h0M81.9 376.2h0M151.3 376h0M146.9 397.6h0M125.5 384.2h0M183 375.2h0M189.9 378.3h0M149.5 387.6h0M149.4 393.6h0M196.6 397.5h0M163.3 380.5h0M144.7 394.3h0M111.7 369h0M145.1 409.7h0M195.7 387.2h0M164.7 407.1h0M185 408.2h0M148.4 380.5h0M158.6 384h0M120.1 382.4h0M77.6 368.3h0M178.8 376.4h0M133.2 403.4h0M104.3 372.4h0M153.6 391.6h0M183.8 393.5h0M150.4 395.1h0M188.9 397.2h0M113 377.7h0M76.5 368.7h0M177.5 394.9h0M132.1 381.3h0M171.4 391.9h0M120.7 367.8h0M77.3 366.5h0M128 371.9h0M178.4 393.5h0M198.3 400.1h0M163.2 370.7h0M99.5 360.2h0M154.3 401.1h0M76.5 353.8h0M112.1 367.5h0M196.9 375.9h0M105.6 373.1h0M151.5 389.9h0M109.9 374.7h0M128.2 367.2h0M77.6 370.6h0M194.5 409h0M90.2 379.5h0M90.4 369.2h0M81.7 354.8h0M113 382.6h0M166.3 370.1h0M177.8 385h0M126.9 386.5h0M186.9 402.6h0M156.2 395.2h0M158.2 388.7h0M80.2 383h0M127.4 372.2h0M100.5 357.9h0M150.3 407.8h0M140.1 405.6h0M194.7 403.6h0M89.5 369.6h0M123.4 385.4h0M127.3 398.9h0M119.1 384.3h0M144.5 401.3h0M149.7 399.6h0M177.4 390.8h0M151 408.7h0M136.3 380.2h0M154.8 406h0M176.7 411.2h0M143 400.5h0M187.5 401.5h0M109.4 363.5h0M96.6 366.7h0M104.2 359.7h0M81 334.6h0M109.7 383.3h0M167.6 399.1h0M78 359.1h0M141.5 407.2h0M75.2 345.4h0M122.2 382.7h0M93.1 362.6h0M109.3 378.3h0M156.4 386h0M182.1 416h0M162.3 371.8h0M103.7 378.2h0M194.9 403.9h0M154.4 370.8h0M91.8 363.1h0M100.6 361h0M116.9 377.4h0M107.7 347.9h0M182.9 395.2h0M170.4 403.7h0M193.7 393.8h0M194.5 406.5h0M126.4 377.8h0M121.3 377.9h0M94.3 358h0M140.2 376.9h0M167.2 384.6h0M140.2 369.5h0M84.7 353.5h0M96.6 378.5h0M160.2 390.7h0M150.8 391.2h0M160 354.6h0M142.9 369.1h0M102.4 362.8h0M96.2 377.6h0M155.7 383.7h0M116.6 352h0M163.3 386.6h0M98.1 374h0M93.1 353.9h0M89.4 370.3h0M114 369.2h0M164.2 388.7h0M77.3 362.5h0M101.8 348.1h0M120.5 397.6h0M191.2 383.2h0M124.8 374.5h0M153.1 382.5h0M136.9 383.8h0M110.8 354.8h0M145.3 381.1h0M144.3 427.6h0M97.1 363.3h0M86.3 365.9h0M197.1 390.7h0M115.2 369.3h0M152 396.7h0M109.6 379h0M173.4 397h0M180.4 393.6h0M122.6 372.2h0M172.1 376.5h0M118.7 377.4h0M165.7 397.5h0M166 400h0M109.7 375.7h0M80.5 349.4h0M191.3 401.8h0M76.8 352.8h0M143.5 390.9h0M105.9 378.1h0M141.8 382.9h0M128.2 376.5h0M123.7 370.7h0M154.2 384.9h0M92.2 375h0M127.7 388.8h0M197.5 420.4h0M100.6 385h0M119.2 387.1h0M118.4 363.7h0M196 402.1h0M87.4 350.4h0M87.4 371.8h0M197.5 390.3h0M101.9 367.8h0M167.7 389.9h0M179.5 402h0M170.5 391h0M190.9 380.6h0M164.5 389.6h0M139.7 395.3h0M187.3 407.1h0M149.2 387.2h0M112.8 381.4h0M141 388.9h0M76.9 362.2h0M124.6 364.3h0M125.9 375.8h0M138.2 389.9h0M135 391.4h0M178.1 396h0M101.1 345h0M83.5 363.9h0M140.4 412.2h0M162.3 393.4h0M180.9 388.2h0M163.1 398.2h0M163.7 388.1h0M123 354.1h0M96.7 354.3h0M144.9 373.6h0M149.3 400.9h0M111.3 377.3h0M98.5 369.5h0M89.7 364.2h0M193.3 373.1h0M101.8 351.9h0M93.8 333.5h0M109.2 325.5h0M73.6 292.7h0M78.3 292.7h0M91.9 305.2h0M102.8 328.4h0M67.3 307.7h0M85.9 296.9h0M90.5 316.2h0M88.2 313.7h0M89.1 323.2h0M79.8 323.4h0M109.1 321.9h0M87 308.1h0M95.8 323.3h0M95.6 300.1h0M71.5 317h0M90.2 332.9h0M103.4 309.9h0M65.1 283.9h0M83.1 299.9h0M93.2 306.1h0M249 451.1h0M253.1 447h0M278.7 463.8h0" stroke="#4472C4" stroke-width="3.9" stroke-linecap="round" fill="none"/>
<path d="M64.5 348.5 L70.8 352.3 L77.1 355.9 L83.4 359.3 L89.7 362.5 L96.0 365.5 L102.3 368.3 L108.6 371.0 L114.9 373.5 L121.2 375.9 L127.5 378.1 L133.8 380.1 L140.0 382.1 L146.3 383.8 L152.6 385.5 L158.9 387.1 L165.2 388.5 L171.5 389.8 L177.8 391.1 L184.1 392.2 L190.4 393.3 L196.7 394.3 L203.0 395.2 L209.3 396.1 L215.6 396.9 L221.9 397.7 L228.2 398.4 L234.5 399.1 L240.8 399.8 L247.1 400.5 L253.3 401.1 L259.6 401.7 L265.9 402.4 L272.2 403.0 L278.5 403.7 L284.8 404.3 L291.1 405.0 L297.4 405.8 L303.7 406.6 L310.0 407.4" stroke="#C00000" stroke-width="4.5" fill="none" stroke-linecap="round" stroke-linejoin="round"/>
<text transform="translate(33.3,486.7) scale(0.98,1)" text-anchor="end" font-size="14" fill="#595959" stroke="#595959" stroke-width="0.12">20</text>
<text transform="translate(33.3,464.09) scale(0.98,1)" text-anchor="end" font-size="14" fill="#595959" stroke="#595959" stroke-width="0.12">25</text>
<text transform="translate(33.3,441.48) scale(0.98,1)" text-anchor="end" font-size="14" fill="#595959" stroke="#595959" stroke-width="0.12">30</text>
<text transform="translate(33.3,418.87) scale(0.98,1)" text-anchor="end" font-size="14" fill="#595959" stroke="#595959" stroke-width="0.12">35</text>
<text transform="translate(33.3,396.26) scale(0.98,1)" text-anchor="end" font-size="14" fill="#595959" stroke="#595959" stroke-width="0.12">40</text>
<text transform="translate(33.3,373.64) scale(0.98,1)" text-anchor="end" font-size="14" fill="#595959" stroke="#595959" stroke-width="0.12">45</text>
<text transform="translate(33.3,351.03) scale(0.98,1)" text-anchor="end" font-size="14" fill="#595959" stroke="#595959" stroke-width="0.12">50</text>
<text transform="translate(33.3,328.42) scale(0.98,1)" text-anchor="end" font-size="14" fill="#595959" stroke="#595959" stroke-width="0.12">55</text>
<text transform="translate(33.3,305.81) scale(0.98,1)" text-anchor="end" font-size="14" fill="#595959" stroke="#595959" stroke-width="0.12">60</text>
<text transform="translate(33.3,283.2) scale(0.98,1)" text-anchor="end" font-size="14" fill="#595959" stroke="#595959" stroke-width="0.12">65</text>
<text transform="translate(45.4,503.4) scale(0.98,1)" text-anchor="middle" font-size="14" fill="#595959" stroke="#595959" stroke-width="0.12">0.1</text>
<text transform="translate(104.2,503.4) scale(0.98,1)" text-anchor="middle" font-size="14" fill="#595959" stroke="#595959" stroke-width="0.12">0.3</text>
<text transform="translate(163,503.4) scale(0.98,1)" text-anchor="middle" font-size="14" fill="#595959" stroke="#595959" stroke-width="0.12">0.5</text>
<text transform="translate(221.8,503.4) scale(0.98,1)" text-anchor="middle" font-size="14" fill="#595959" stroke="#595959" stroke-width="0.12">0.7</text>
<text transform="translate(280.6,503.4) scale(0.98,1)" text-anchor="middle" font-size="14" fill="#595959" stroke="#595959" stroke-width="0.12">0.9</text>
<text transform="translate(12.4,382.9) rotate(-90)" text-anchor="middle" font-size="14.1" fill="#000" stroke="#000">Compressive strength_28 days&#160; MPa</text>
<text transform="translate(273.6,523.4) scale(0.98,1)" text-anchor="middle" font-size="13.7" fill="#000" stroke="#000">w/c</text>
<line x1="402.3" y1="461.01" x2="664.6" y2="461.01" stroke="#E0E0E0" stroke-width="1"/>
<line x1="402.3" y1="438.82" x2="664.6" y2="438.82" stroke="#E0E0E0" stroke-width="1"/>
<line x1="402.3" y1="416.63" x2="664.6" y2="416.63" stroke="#E0E0E0" stroke-width="1"/>
<line x1="402.3" y1="394.44" x2="664.6" y2="394.44" stroke="#E0E0E0" stroke-width="1"/>
<line x1="402.3" y1="372.26" x2="664.6" y2="372.26" stroke="#E0E0E0" stroke-width="1"/>
<line x1="402.3" y1="350.07" x2="664.6" y2="350.07" stroke="#E0E0E0" stroke-width="1"/>
<line x1="402.3" y1="327.88" x2="664.6" y2="327.88" stroke="#E0E0E0" stroke-width="1"/>
<line x1="402.3" y1="305.69" x2="664.6" y2="305.69" stroke="#E0E0E0" stroke-width="1"/>
<line x1="402.3" y1="283.5" x2="664.6" y2="283.5" stroke="#E0E0E0" stroke-width="1"/>
<line x1="402.3" y1="283.5" x2="402.3" y2="483.2" stroke="#E0E0E0" stroke-width="1"/>
<line x1="495.95" y1="283.5" x2="495.95" y2="483.2" stroke="#E0E0E0" stroke-width="1"/>
<line x1="589.6" y1="283.5" x2="589.6" y2="483.2" stroke="#E0E0E0" stroke-width="1"/>
<line x1="402.3" y1="483.3" x2="664.6" y2="483.3" stroke="#A6A6A6" stroke-width="1"/>
<line x1="402.3" y1="483.3" x2="402.3" y2="487.7" stroke="#A6A6A6" stroke-width="1"/>
<line x1="495.95" y1="483.3" x2="495.95" y2="487.7" stroke="#A6A6A6" stroke-width="1"/>
<line x1="589.6" y1="483.3" x2="589.6" y2="487.7" stroke="#A6A6A6" stroke-width="1"/>
<path d="M642.5 399.6h0M532.5 382.3h0M651 395.5h0M422.9 394.9h0M557 365.3h0M498.2 339.5h0M606.6 386.9h0M446.8 415.5h0M624.3 414.9h0M540.9 360.1h0M632.1 381.1h0M523.8 404.4h0M512 368.6h0M603.3 403.7h0M653 399.8h0M496.5 388.4h0M649.1 369.2h0M638.9 407.5h0M447.6 381.6h0M557.4 360.5h0M581.8 351.3h0M642.5 363.5h0M571.9 395.8h0M436.3 384.1h0M529.1 389h0M528 423.4h0M529.7 394.6h0M646.5 420.9h0M491.4 400.4h0M459.3 396.9h0M535.3 400h0M565.6 363.4h0M641.5 383.5h0M550.6 377.4h0M470.5 380.9h0M639.1 402h0M527.6 367.7h0M574.4 410.8h0M523.6 360.7h0M457.6 381.1h0M578.7 361.5h0M598.6 390h0M450.9 411.6h0M519.5 394.8h0M494.5 368.7h0M445.8 381.8h0M458.7 388.4h0M647.5 377.4h0M627.5 358.5h0M499.7 407.8h0M590.7 381.9h0M413 382.8h0M635.4 345.8h0M539.1 411.8h0M611.2 364h0M472.6 372.5h0M498.1 400.9h0M491 386.9h0M650 394.6h0M511.7 401.7h0M529.6 365.4h0M645.8 391.7h0M632.4 422h0M502.9 402h0M480.6 360.6h0M607.9 364h0M429.7 368.4h0M502.2 400.8h0M625.6 403.7h0M636 363h0M461.8 373.9h0M422.4 421.9h0M603 395.1h0M560.7 337.7h0M462.8 414.5h0M531.2 375.4h0M420.5 375.2h0M580.6 388.4h0M536.5 385.2h0M581.8 372.5h0M424.8 356.7h0M566.6 361.8h0M496.6 395.7h0M529.5 396h0M487.8 371.3h0M563.8 374.3h0M547.1 382.1h0M559.5 385.3h0M418.4 400.6h0M459.6 376.5h0M420.6 369.2h0M499.9 404h0M524.8 375.3h0M572.4 381.3h0M526.4 421.3h0M529.7 364h0M554.5 379h0M640.4 381h0M552.3 338.6h0M426.1 394h0M439.6 401.9h0M579.1 391.7h0M484.5 367.7h0M594.7 392.5h0M532.4 398.7h0M499 395.4h0M590.7 387.1h0M448.9 386.5h0M474.8 391.4h0M476.7 356.1h0M508.1 378.1h0M633.4 395.3h0M609.3 414.5h0M611.6 346.2h0M563.1 405.2h0M404.4 400.3h0M475.2 411.7h0M530.1 378.3h0M631.2 383.5h0M495 416h0M542.5 402.8h0M618.4 384.5h0M489.3 416.2h0M592.9 360.5h0M553.9 407h0M536.1 334.3h0M562.7 358.3h0M525.8 359.8h0M431.1 411.3h0M630.8 398.6h0M649.3 362.4h0M614.5 389.8h0M492.4 386h0M563.8 361.5h0M598.6 363.6h0M603.4 383h0M423.9 391.4h0M641.7 375.3h0M463.8 384.9h0M647.6 387.8h0M461.4 394.4h0M538.7 418.2h0M614.1 381.5h0M653.9 406.9h0M582.1 387.7h0M614.9 400.4h0M502.1 375.8h0M593.5 370.4h0M500.3 421.5h0M639.2 360h0M599.3 353.6h0M498.9 391h0M602.1 364.5h0M419.2 404.1h0M637.9 374.4h0M578.9 384.7h0M485.6 382.6h0M567.1 401.4h0M602.1 383.9h0M562.3 349.9h0M628.1 378.6h0M508.1 393.1h0M483.8 380.4h0M496.8 395.2h0M474.1 378.9h0M524.3 357.4h0M595.2 344.2h0M625.1 372.3h0M563.5 367.4h0M602.5 410.7h0M649.4 367.4h0M570.3 418.6h0M423.9 397.6h0M561.7 372.7h0M407.3 426.7h0M574.9 379.4h0M656.6 393.3h0M526.8 416.1h0M640 374.3h0M407.3 366.8h0M648.1 402h0M445.2 418.1h0M616.1 381.2h0M478.3 424.4h0M502.5 372.9h0M436.1 394.2h0M411.8 340.5h0M593.9 371.7h0M592.4 365.8h0M433.8 379.1h0M560.9 375.1h0M467.9 398.5h0M630.7 389.8h0M436.5 417.2h0M552 395.4h0M629 415.4h0M539.4 417.9h0M573.2 409.9h0M608.7 342.5h0M582.4 376.9h0M612.4 400.3h0M459.3 366.7h0M634.2 398.2h0M530.6 366.3h0M635.5 402.4h0M580.3 368.7h0M589.3 375.7h0M644.5 359.1h0M429.2 402h0M624 375.1h0M476.8 385.3h0M611.5 398.3h0M459.3 352.2h0M521.7 418.2h0M437.8 382.8h0M607.4 393.6h0M476.8 398.8h0M522.8 370.5h0M604.9 362.7h0M496.9 424.4h0M627.8 387.9h0M532.3 383.9h0M642.6 371.6h0M598.8 311h0M655.4 371.3h0M583.8 407.9h0M482 368.6h0M537.3 403.4h0M641.9 383.8h0M637.8 397.3h0M466.1 389h0M467.5 399.4h0M466.7 401.7h0M561.6 378.7h0M451.8 361.6h0M582 412.1h0M483.7 392.2h0M615.7 391.6h0M465 415.8h0M638.3 385.4h0M486.7 389.6h0M411.2 380.7h0M443.5 396.3h0M610.2 357.5h0M445.7 414.9h0M466.2 417.5h0M655.8 396.8h0M508.5 413.5h0M566 387.9h0M541.1 396.1h0M521.7 350.6h0M630.9 430.3h0M411.6 405.8h0M499.3 374.7h0M517.3 408.4h0M576.7 395.6h0M587.9 383.7h0M403.1 389.5h0M427.2 406.1h0M463.1 385.4h0M487.4 413.6h0M597.9 379.6h0M591.4 379.1h0M638.5 408.4h0M504.6 353.9h0M509.1 393.5h0M438.4 383.9h0M630.3 397.5h0M631.2 396h0M645.8 368.1h0M627 387.2h0M546.7 424.2h0M616.1 413.6h0M485.4 370.3h0M595.2 404.9h0M595.6 378.8h0M559.8 404.6h0M616.1 385h0M574.5 390.5h0M465.8 385.9h0M415.4 417.9h0M485.3 367.6h0M452.1 400.9h0M632.9 376h0M538.1 329.9h0M588.2 414.3h0M637.9 397.5h0M603.7 380.7h0M623 389.2h0M545.1 381.6h0M595.6 386.4h0M645.8 387.3h0M514.3 367.2h0M580.9 381.5h0M645 384.5h0M463.8 412.2h0M420.7 393.9h0M524.8 401.3h0M629.1 414.5h0M535.4 399.1h0M454.8 408.5h0M653.2 400.2h0M522.4 393.2h0M513.7 348.6h0M421 392h0M511.9 363.2h0M651.6 368.6h0M512.8 388.3h0M600.4 377.9h0M638.7 383.9h0M402.9 401.6h0M578.6 359.7h0M438.6 386.3h0M531.9 396.7h0M619.7 407.9h0M493.5 383.5h0M585.6 381.2h0M554.3 398h0M588.8 384h0M539.9 398.8h0M484.9 387.6h0M590.7 404.2h0M437.4 352.6h0M486.4 349.2h0M602.6 368.6h0M529.9 367h0M426.2 386.5h0M575 405.8h0M635.5 362.3h0M446 407.4h0M636.3 374.9h0M403.4 416.2h0M645.4 371h0M557.5 374.8h0M468 397h0M444.2 394.2h0M513.6 390.3h0M512.4 395.2h0M531.3 339.5h0M534 350.6h0M424.4 412.8h0M465.6 379.4h0M439.3 415.8h0M611.1 381h0M440.7 381.4h0M572.1 344.8h0M424.8 425.4h0M568.7 405.9h0M513 354.6h0M530.4 411.5h0M592.9 369.1h0M481.3 374.3h0M579.5 370.6h0M635.1 356.8h0M589.9 352.7h0M555 357.3h0M578.1 345.9h0M629.6 347.3h0M408.7 406.6h0M655.6 420.3h0M521.4 382.8h0M630 408.8h0M417 389.2h0M474.6 403.9h0M544.4 422.9h0M547.2 401.6h0M641.7 341.7h0M482.7 400.8h0M463 359.8h0M563.9 382.7h0M443.7 385.4h0M634.8 401h0M461.6 401.9h0M403.2 383.1h0M561.9 375.1h0M460.1 386.7h0M635.2 396h0M429 376.6h0M530 391h0M555.2 420.6h0M528.9 383.1h0M417.7 383.3h0M534.6 401.1h0M435.4 362.7h0M413.5 404.7h0M633.2 363.1h0M468.6 412.7h0M420.3 402.2h0M405.5 390.1h0M622.4 388.2h0M620.6 377.3h0M591.9 332.8h0M604.1 378.4h0M473.2 406.4h0M550.8 411.8h0M589.8 411.5h0M465.9 360.7h0M588.6 405.5h0M605.4 346.8h0M535.2 401.3h0M566.3 387.2h0M408.8 396.9h0M498.3 408.9h0M484.3 381.2h0M493.8 361.2h0M637.9 378.7h0M642.1 351.6h0M417.4 391.3h0M551.1 372.2h0M452.8 369.5h0M568.4 409.4h0M650.4 340.6h0M438.8 361.3h0M500.7 384.7h0M489.3 413.3h0M583.1 375.4h0M609.6 361.8h0M413.8 407.5h0M455.1 380.9h0M497.1 370.4h0M647 379.9h0M596.4 374.5h0M562 364.6h0M648.5 393.7h0M503.1 376.7h0M606.4 359.6h0M465.8 393h0M468.7 383.8h0M635.6 376h0M610.8 378.4h0M561.4 384.6h0M482.4 368.8h0M638 396.4h0M518.2 361h0M413.4 398.3h0M461.7 382.5h0M552.5 347.9h0M621.7 357.3h0M518.4 388.9h0M465.4 407.5h0M604.7 353.8h0M481.4 359.5h0M470.5 424.9h0M549.6 392.4h0M533.8 410h0M622.2 379h0M517.7 398.3h0M566.8 351.7h0M518.9 392.8h0M574.5 377.2h0M631.8 393h0M426.9 399.2h0M630 386.1h0M632.1 388.1h0M494.3 382.8h0M403.2 388.6h0M519.2 341.6h0M574.3 396.3h0M453.3 392.7h0M448.9 406h0M494.9 385.2h0M631.2 409.3h0M555 306.7h0M580.2 371.1h0M552 408.5h0M574.3 398.7h0M513.5 400.3h0M529.2 391h0M429.6 383h0M656.1 373.8h0M445.3 386.1h0M610.5 364.9h0M563.9 384.2h0M593.8 349.3h0M537.2 403h0M542.7 403.8h0M489.6 364.4h0M422.2 365.2h0M562.5 384.9h0M558.9 356.8h0M486.6 365.1h0M636.6 379.9h0M638.6 365.7h0M495.7 359.9h0M520.1 387.8h0M457 404.1h0M585.9 389h0M451.8 402h0M483.1 392.2h0M646.1 366.6h0M441.4 413.2h0M630.3 352h0M544.9 416.4h0M452.8 398.8h0M608.6 387.9h0M551.1 383.2h0M600.4 373.5h0M498.4 348.9h0M481.8 394.1h0M430.3 396.5h0M434.9 379.4h0M534 375.4h0M503.2 387.3h0M417.3 431h0M450.4 400.7h0M526.2 392.5h0M414.6 394.1h0M404.7 389.6h0M571.7 374.5h0M425.4 427.9h0M508.1 370.2h0M640.4 404.3h0M425.3 368.1h0M502.2 382.2h0M452.4 388.3h0M603.9 392.1h0M533.9 378.9h0M423.8 421.8h0M595.6 376.8h0M637.1 381.2h0M603.2 400.1h0M458.7 385h0M654.2 342.8h0M574.7 399.4h0M498.6 383.3h0M422.5 390.7h0M435.5 358.8h0M568.5 382.5h0M593.3 381.6h0M559.5 377.2h0M516.9 420.4h0M615.5 413.6h0M620.8 359.3h0M411.7 405.4h0M590.1 382.1h0M608.1 421.3h0M556.6 394.3h0M511.4 384.5h0M599.5 316.3h0M409.4 392.7h0M632.1 376.4h0M539 402.1h0M551.4 382.2h0M571.6 380.4h0M521.6 396.3h0M478 363.6h0M465.5 413.5h0M444.4 386.9h0M406 382.3h0M620.2 348.5h0M650 379.3h0M577.8 375.1h0M480 374.7h0M504.4 401.8h0M609 376.2h0M523.9 377.9h0M502 386h0M600.9 320.2h0M471.9 385.8h0M503.2 374.7h0M627.2 367.3h0M655.9 357.1h0M458.6 366.6h0M601.1 367h0M429 402.7h0M570.3 374.6h0M433.3 417.2h0M457.6 394.8h0M601.4 364.4h0M430.8 416.4h0M533.8 389.8h0M489.4 380.6h0M654.7 381.2h0M597.1 385.3h0M474.7 362.2h0M652.6 413.3h0M564.3 374.3h0M442.2 427.9h0M474.9 380.4h0M608.9 374h0M646.5 359.6h0M411.6 389.3h0M548 426.8h0M452.8 415.1h0M582.5 396.7h0M403.4 399.7h0M591 425.1h0M539.2 409.2h0M564.4 363.7h0M525.1 368.1h0M574.1 387.5h0M614.7 370.5h0M421.2 400h0M489 393.1h0M453 390.6h0M519.1 417.8h0M556.3 389.6h0M505.7 374.7h0M405.2 348.3h0M443.6 386.8h0M437.2 345.1h0M425.4 389h0M556.1 308.8h0M576.9 370.4h0M494 386.2h0M582 374.4h0M494.3 373.3h0M551.9 410.5h0M412.5 417h0M490 361.9h0M417 401.6h0M594.4 424.8h0M571.4 382.9h0M620.4 348.6h0M626.2 407.5h0M541.9 408h0M438.8 415.1h0M479.2 428.7h0M564.9 361.8h0M577.2 362.5h0M581.7 375.1h0M434.1 385.9h0M586.8 379.4h0M423.4 397h0M532.2 364.2h0M513.9 388.1h0M611.2 388.1h0M424.9 419.8h0M591 387.6h0M487.5 433.6h0M575.7 379.4h0M443.8 371h0M560.1 426.4h0M593.6 409.7h0M578.6 414.4h0M598 373.8h0M558.5 393.9h0M534 404.5h0M573.1 387.2h0M432.9 423.9h0M572.3 364.3h0M440.1 363.3h0M521.7 357.2h0M520.4 407h0M431.6 390.4h0M457.6 427.8h0M586.8 370.9h0M564.9 394.7h0M525.5 365.6h0M576.3 398.9h0M501.6 387.8h0M523.6 358.5h0M509.7 314.4h0M594.9 426.4h0M419 379.6h0M609.5 365.4h0M405 404.9h0M485 415.6h0M650.1 356.3h0M459.8 397.5h0M494.1 325.4h0M444.9 360.9h0M616.6 355.1h0M447.5 367.4h0M502.2 355.7h0M490 433h0M456.4 384.1h0M543.6 380.6h0M494.1 412.8h0M642.2 392.1h0M519 401h0M585 375.2h0M409.3 400.1h0M615.8 424.7h0M553.3 390.5h0M478.6 404.5h0M542.9 427.1h0M405.4 397.3h0M441.6 385.4h0M583 386.4h0M521.2 397.2h0M630.9 415.7h0M583.3 368.5h0M619.3 371.8h0M432.9 388h0M617.8 413.5h0M579.4 387h0M449.1 399.3h0M438.6 351.6h0M480.2 350.7h0M608.3 355.8h0M501.2 406.5h0M540 401.9h0M530 368.8h0M563.1 375h0M513 425.1h0M419.7 407.5h0M647 394.4h0M548.1 404.7h0M411.6 384h0M452.3 410.9h0M642.2 377.2h0M646.5 394.3h0M532.7 339.7h0M494.6 376.7h0M513.9 384.8h0M487.6 378.7h0M529.6 395.2h0M560.7 404.4h0M438.3 366.9h0M649.3 382.2h0M456.9 388.1h0M424.8 384.9h0M561.2 394h0M493.8 398.3h0M594.3 384.5h0M449.1 396.6h0M543 390.9h0M436.1 399.6h0M614.3 380.2h0M463.6 400.2h0M647.4 397.1h0M460.7 365.3h0M552.4 395.3h0M512.6 416.9h0M647.8 395.3h0M495 368.6h0M552.9 323h0M630.5 412.1h0M427.8 360.5h0M530.7 380.6h0M625.7 414.4h0M471.9 390.1h0M436.4 366.8h0M554.4 362.9h0M612.8 382.2h0M630.1 384.3h0M529.4 378.2h0M454.7 349h0M405.7 426.6h0M503.8 410.3h0M438.5 402.8h0M555.4 417.7h0M581 386.4h0M578.8 371.4h0M457.5 396.7h0M654.9 368.9h0M603.2 391.5h0M568.9 394.7h0M609.9 389.9h0M493.7 352.3h0M606.2 363.6h0M512.7 385.6h0M507.4 394.7h0M655.3 333.5h0M442.1 411.8h0M533.2 372h0M609.3 396.2h0M569.5 392.5h0M603.9 361.4h0M466.3 392.8h0M537.6 382.2h0M534.8 404.3h0M445.8 397.9h0M452 399.8h0M624.1 393.8h0M434 377.7h0M653.2 363.8h0M491.6 406.1h0M651.5 407.6h0M588.6 352.9h0M531.3 380.7h0M628.6 367.2h0M433.8 373.5h0M548.9 390.1h0M591.5 382.3h0M591.3 384.7h0M484.4 385.9h0M420.5 381.6h0M648.4 350.8h0M638.5 383.1h0M486.4 384.5h0M618.7 381.9h0M443.5 388.4h0M477.6 400.5h0M654.4 361.3h0M433.5 377.3h0M556.2 401.1h0M592.9 361.5h0M612.3 381.3h0M642.4 366.1h0M423.9 416.7h0M590 380h0M574.5 358.9h0M534.7 362.7h0M473.1 394h0M621.7 403.9h0M497.6 368.1h0M575 405h0M489.8 426.6h0M518.5 427.5h0M653.1 382.4h0M459.3 380.8h0M619.6 333.4h0M422.7 422.4h0M648.6 394.6h0M567 387.3h0M492.7 413.9h0M608.2 426h0M595.5 417.5h0M649.7 405.3h0M584.3 374.3h0M602.9 412.4h0M503.5 375.8h0M614.2 402.7h0M602.3 408.7h0M531.4 375.3h0M469.8 382.5h0M653.5 409.6h0M525.8 363.1h0M611.3 397.2h0M422 374.5h0M486 400.7h0M456.8 380.7h0M594.7 394h0M505.4 431.3h0M611 388.1h0M494.6 392.6h0M488.7 402h0M489.8 398.2h0M469 397.2h0M552.8 380.9h0M537.4 373.8h0M636.4 365.4h0M495.9 388.4h0M439.6 379.8h0M627.8 395.7h0M647.6 416.9h0M546.3 384.7h0M423.8 384.5h0M534.5 389.8h0M455.3 412.8h0M494.5 406.2h0M513.5 354.9h0M419 383.4h0M536.1 358.3h0M536.3 339.5h0M470.9 402.2h0M431.1 352.8h0M557.7 357.5h0M574.8 402.9h0M653.8 372.6h0M561.2 372.3h0M456.4 367.2h0M455.7 412.6h0M406.2 374h0M426.7 362.4h0M613 388.5h0M411.7 403.8h0M521.8 397.8h0M454.8 395.1h0M567.6 403.9h0M603.9 382.1h0M546.5 392.7h0M582.4 379.4h0M413.1 393.9h0M428.3 423.8h0M417.8 393.9h0M469.5 390.9h0M408 384.2h0M594.1 329.5h0M620 362.6h0M597.8 414.2h0M470.6 358.8h0M509.2 415h0M569.7 376.6h0M447.2 409.7h0M485.1 417.8h0M580.3 407.3h0M529.2 404.3h0M501.9 406h0M460.5 390.7h0M604.7 393.3h0M483.6 352.6h0M510.1 411.8h0M545 383.5h0M451.7 362.8h0M632.6 377.1h0M483.6 431.7h0M596.1 386.4h0M568 416.5h0M444.4 396.6h0M404.7 392h0M521.2 410.4h0M436.3 385.9h0M606.9 384.8h0M452.3 386.2h0M497.5 352.9h0M433.7 398.9h0M559.4 424.9h0M591.1 354.9h0M416 393.7h0M615.2 408.3h0M542.6 395.3h0M545.5 366h0M532.7 372.3h0M434.6 368.6h0M644.7 373.1h0M624.9 418.9h0M431 423.2h0M479 396.9h0M512.1 402.1h0M514.3 389.8h0M643.5 370h0M572.9 371.8h0M642.9 374.5h0M618.7 373.3h0M444.6 399.9h0M596.1 398.9h0M555.1 380.3h0M439.1 383.9h0M545.3 389.3h0M583.6 365.5h0M440.6 426.8h0M629.8 365.7h0M644.6 369.5h0M656.2 387.1h0M406.4 319.3h0M495.6 374h0M446.1 424.4h0M437 388.2h0M555.5 387.5h0M517.7 420.7h0M567 381.6h0M599.7 370.8h0M509.2 351.1h0M615 374.3h0M622.4 355.2h0M656.6 410.7h0M403.1 395.8h0M488 382.9h0M642.8 396.6h0M623.5 406.1h0M459.1 370.3h0M618.7 371.7h0M638.7 375.4h0M606.9 385.6h0M432.6 418.2h0M589.6 388h0M402.4 384.7h0M549 379.7h0M550.1 373.2h0M599.7 336.1h0M479.1 379.7h0M523.7 382.1h0M502 411.2h0M426.4 374.1h0M498 399.6h0M579.8 393h0M576.5 391.8h0M446.9 417.2h0M408.7 418.6h0M625.6 387.1h0M569.9 358.6h0M427 421.7h0M552.3 385.9h0M461.9 385.8h0M580.8 369.3h0M620 381.5h0M493.4 372.8h0M608.3 387.3h0M413.1 395.7h0M461 379.4h0M499 392.8h0M521.2 317.9h0M514.5 395.5h0M631.1 368.2h0M467.9 383.1h0M447.9 335h0M622.4 380.7h0M552.2 412.1h0M564.2 374.2h0M510.6 364.1h0M550.1 428.7h0M617 357.1h0M458 396.8h0M523.3 385.7h0M474.7 392.1h0M548.1 389.5h0M489.3 386.8h0M490.3 409.3h0M492 339.4h0M490.1 385.9h0M557 423.4h0M431.3 424.4h0M489.3 428.1h0M406.1 406.9h0M504.8 382.9h0M438.3 348.5h0M551.5 338.7h0M451.4 396h0M654.5 363.5h0M586.3 395.6h0M460.6 376.3h0M649.9 366.1h0M616.5 382h0M433.6 391.3h0M571.9 380.8h0M624.5 387.5h0M403.2 416.6h0M433.6 411.7h0M450.9 395h0M561.6 371h0M552.5 377.4h0M427.7 381.2h0M433.3 416.1h0M426.1 375.3h0M510.8 384.9h0M474.3 398.4h0M515 395.9h0M640.1 400.8h0M532.1 378.8h0M495.6 333.5h0M505.3 408.3h0M561.9 391.3h0M638.9 363.9h0M519.4 384.8h0M609 392.6h0M591.4 384h0M573.7 372.1h0M556.9 387h0M559.7 417.7h0M529.4 376.9h0M435.2 396h0M567.4 409.1h0M430.8 398.4h0M597.1 391.1h0M466.6 367.9h0M582.8 353.3h0M554 395.9h0M499.1 378.4h0M582 324.1h0M656.6 365h0M545 396.3h0M544.5 383.7h0M547 378.2h0M409.2 390.6h0M463.6 392.1h0M604.1 351.7h0M432.7 395.5h0M471.3 371.4h0M648.1 382h0M656.8 337.1h0M516.5 360.4h0M437.7 370.1h0M603.3 294.9h0M650.9 357.2h0M529.6 379h0M604.4 382.7h0M467.1 394.4h0M607.8 415.8h0M404.9 385.8h0M645.1 382.5h0M520.1 384h0M571.5 365.9h0M517.6 381.3h0M499.4 401.5h0M468.4 396.8h0M550.1 393.1h0M638.5 393.3h0M616.3 382.7h0M452.7 367.3h0M574.5 396.7h0M620.5 355.6h0M449.6 375.4h0M524.9 405.6h0M526.1 397h0M558.9 380.5h0M431.5 410.5h0M532.3 429.1h0M528.2 393.5h0M606.2 349.1h0M569.9 388.3h0M611.7 397.1h0M508.8 376.4h0M556.8 379h0M441.5 392h0M591.6 350.1h0M646.9 379.3h0M593.6 378.9h0M589.8 318.1h0M530.3 384.7h0M638.2 396.5h0M582.3 423.6h0M639.6 372.1h0M425.6 375.1h0M573.2 397h0M481.3 382.6h0M438.8 397h0M489.6 410.7h0M568.5 360h0M417.1 393.7h0M591.6 358.3h0M518.6 383.4h0M525.4 386.1h0M425.1 413.4h0M407.2 407.6h0M496.1 401h0M598.6 386.6h0M475.6 409h0M545.6 334.6h0M491.6 379.7h0M453.6 361.3h0M552.3 372.6h0M459.1 428.8h0M532.1 374.2h0M466.7 370.8h0M463.5 378.6h0M417.9 386h0M465.5 385.2h0M576.3 383.5h0M549.7 379.6h0M572.4 354.9h0M592.4 375.1h0M650.9 407.4h0M523.3 397.6h0M525.7 362.4h0M598.8 394.2h0M404.8 366.4h0M513.3 360.4h0M486.1 403.8h0M574.8 377.9h0M403.3 416.9h0M490.2 356.9h0M641 391.9h0M444.1 428h0M600.7 376.7h0M597.4 386.6h0M450.4 386.2h0M422.8 377.6h0M588.3 349.9h0M421.3 399.7h0M413.7 370.2h0M620.1 380.4h0M471.8 391.3h0M526.9 361.2h0M453 407.4h0M477.9 409.7h0M649 359.7h0M520.1 397.2h0M533.2 382h0M478.7 388.1h0M404.5 424h0M584.4 402.6h0M451.8 367.8h0M564.9 358.2h0M545.2 396.9h0M566.3 377.2h0M544.3 382.7h0M577.1 379.2h0M543.2 350.4h0M564.5 383.8h0M480.1 407.5h0M618.3 346.3h0M644.5 358.3h0M542.1 389.9h0M468.4 377.9h0M428.4 431.5h0M593.2 382.7h0M626.1 419.1h0M412.8 387h0M511.5 419.2h0M463.3 409.2h0M514.8 369.5h0M458.4 427.4h0M432.3 409.4h0M576.2 386.3h0M425.2 402h0M436.9 403.7h0M531.9 364h0M577 397.8h0M612 374.1h0M565.1 389.5h0M544.7 405.7h0M629.7 360.2h0M656.3 380.3h0M628.3 376h0M624.4 373.3h0M501.1 402.3h0M508.6 383.1h0M487.5 399.9h0M471.9 387.4h0M475.1 322.4h0M413.6 377.8h0M535.4 349h0M552.9 408.4h0M602.3 403.2h0M547.3 366.9h0M449 384.3h0M524.2 397.9h0M531.8 373.7h0M455 374h0M610.1 350.2h0M450.7 398.3h0M484.3 416.9h0M640.6 391.2h0M593 376.8h0M618 407.6h0M497.7 367.8h0M591.4 367.5h0M474.3 397.7h0M514.1 402.7h0M534.3 371.4h0M607.6 407.4h0M433.3 368.7h0M649.7 357h0M423.1 378.9h0M606.3 358.8h0M463.5 416h0M435.2 407.4h0M633.8 393.4h0M511.8 434.1h0M619 375.5h0M497.1 410.7h0M452.5 392.5h0M468.7 414.6h0M543.7 407.3h0M642.8 373.3h0M504.9 406h0M522.7 414.1h0M411.3 370.5h0M528.6 389.4h0M500.1 397.9h0M499.2 372.8h0M557.3 396.1h0M607.6 398.7h0M489.4 405.8h0M538.2 377.3h0M620 375.7h0M545.2 416.9h0M427.5 415.3h0M648 363.5h0M466 417.6h0M571.2 374.4h0M616.5 364.5h0M410.2 399.6h0M586.3 369.4h0M617.9 393.7h0M571.9 410.9h0M553.5 380.5h0M452.8 375.6h0M652.2 368.6h0M402.9 430.3h0M644.3 385.9h0M609.5 375.1h0M632.8 352.5h0M414.7 371.8h0M633.1 380h0M609.2 392h0M599.9 396h0M477.2 410.4h0M460.1 389.6h0M423.2 388.8h0M609.4 420.7h0M613.8 378.4h0M430 370.7h0M434.3 421.8h0M484.1 377.6h0M454.7 417h0M517.8 367.6h0M580.3 364.7h0M607.4 345.9h0M440.8 374h0M503.8 388.8h0M416.8 417.4h0M495.6 375.6h0M431 314.2h0M420.8 400.1h0M480.8 371.2h0M441.1 413.5h0M428.5 411.3h0M432.9 393.7h0M564.7 396.6h0M428.3 397.9h0M451 309.7h0M608.5 382.6h0M496.1 350.6h0M460.6 367.3h0M648.8 390.4h0M650.9 366.8h0M525.4 378.1h0M485 414.1h0M594.7 355.6h0M624.6 391.5h0M510.6 375.1h0M614.4 382.4h0M626.3 374.9h0M403.9 389h0M648.4 377.4h0M422 408.6h0M490 392.2h0M632.4 361.4h0M640.3 401.1h0M455.8 354h0M503.6 387.9h0M595 406.3h0M642 365.1h0M606.6 370.4h0M511.3 351.6h0M648.2 384.1h0M501.9 414.7h0M511.9 371.1h0M646.8 381.7h0M474.5 372.2h0M407.6 385.4h0M477 388h0M591.2 400.3h0M550.1 374.6h0M457.9 397.7h0M623.3 376.5h0M608.6 418.9h0M514.8 343h0M472.4 364h0M560.3 402.2h0M410.6 399h0M518 396.7h0M581.3 352.4h0M598.7 379.4h0M472.1 385.1h0M402.9 363.2h0M507.9 379h0M541.3 365.5h0M540.4 374.3h0M443.2 428.2h0M475.8 392.3h0M526.3 339.3h0M447.1 391.3h0M504.3 386.5h0M405.6 390.8h0M530.6 372.8h0M500.1 379.6h0M630.9 386.7h0M622.1 396.1h0M403.3 428.4h0M430.5 405.5h0M484.9 393.1h0M480.7 386.7h0M409 428h0M460.5 350.3h0M475.1 367.3h0M629 373.4h0M570.3 363.4h0M532.1 402.9h0M439.2 388.2h0M621.8 354.8h0M406.1 391.8h0M640.3 388.7h0M627.4 326.6h0M432.9 403.9h0M411.2 341.8h0M543.7 332.7h0M563.2 390.2h0M525.3 362.6h0M588.5 388.4h0M610.5 414.8h0M416.4 388.1h0M553.5 388.6h0M435.5 356.5h0M642.6 357.8h0M610 375.5h0M561.9 370.8h0M499 362.8h0M579 375.2h0M404.2 420.7h0M567.2 392.1h0M433.5 395.9h0M504.7 367.3h0M504.6 376.1h0M595.9 374.2h0M469.8 386.2h0M489.2 392h0M479.7 413.8h0M537.1 396.3h0M421.1 402.1h0M567.1 359.8h0M453.8 388.3h0M557 429.9h0M604.8 416.9h0M613 378.6h0M442 413.6h0M585.6 357.9h0M536.7 402.4h0M411.7 385.2h0M436.4 381.5h0M431.4 350.7h0M470.5 354.5h0M484.2 384.8h0M525.5 393.3h0M540.3 387.2h0M484.6 397.9h0M628.9 415.1h0M585 386.1h0M638.8 425.8h0M562.2 409.4h0M527 389.2h0M545.1 353.2h0M420.3 423.1h0M527.9 411.1h0M447.4 388.8h0M652 337.2h0M625.1 353.2h0M466.7 405.3h0M549.5 353.8h0M582.9 383.8h0M586 404.5h0M554.5 381.1h0M529.1 344.5h0M635 373.4h0M495.7 393.2h0M407 363.3h0M606.7 328.6h0M613.1 381.5h0M409.4 410.1h0M500.6 331.8h0M552.8 408.7h0M457.3 411.4h0M611.1 379.3h0M439.6 388h0M542.9 354h0M629.3 390.9h0M614.4 349.9h0M434.4 336.7h0M467.1 383h0M420.3 416.3h0M491 359h0M650.6 411.5h0M408.1 377h0M489.1 408.8h0M503.1 379.3h0M519.7 361.9h0M476.3 399.7h0M565.6 363.5h0M437.6 418.5h0M588.5 389.4h0M519.5 403.1h0M568.6 395.3h0M586.9 390.4h0M496 430h0M486.2 343h0M603.7 390.4h0M508 378.2h0M532.5 381.3h0M558.3 401.3h0M457 372.2h0M615.7 390h0M423 388.8h0M644.9 378.4h0M568 407h0M456.5 401.9h0M602.5 384.6h0M610.8 397.4h0M516 361.3h0M566.9 390.7h0M412.9 379.3h0M524.7 385.5h0M649.2 391.2h0M407.6 411h0M501.7 390.5h0M595 377.7h0M472.1 423.5h0M409.5 373.6h0M509.3 425.8h0M637.1 370.1h0M611.6 369.9h0M646.1 394.9h0M418.8 401.9h0M462 405.5h0M639.5 412.6h0M646.7 375.5h0M520.7 381.4h0M404.1 385h0M548.5 411.9h0M627.4 417.9h0M496.1 339.1h0M636.2 372.9h0M405.1 381h0M596.6 392.3h0M422.1 406h0M631.8 383.7h0M523.2 399.7h0M592.2 397.7h0M411.1 372.1h0M574.5 383.4h0M428.7 407.3h0M516.1 383h0M535.2 394.8h0M605 388.2h0M508 414.5h0M429 389.1h0M569.1 397.3h0M409.6 419.4h0M429.6 369.6h0M530.3 377.2h0M526.5 394.1h0M420.6 401.6h0M427 410.8h0M598.8 363.5h0M569.8 403.5h0M491.9 370.7h0M618.6 312.3h0M445.4 399.1h0M604.5 349.9h0M428.8 354.3h0M628.4 377h0M544.6 422.4h0M494.4 316.9h0M427.1 386h0M496.6 392.8h0M585.8 381.4h0M562.4 400.9h0M521.5 417.4h0M454.6 388h0M631.2 389.7h0M465 369.7h0M466.6 381.3h0M585 368.5h0M549.7 378.2h0M496.4 385.6h0M481 394.4h0M642.2 367.6h0M526.7 408.5h0M424.6 403h0M480.8 399.2h0M645.8 374.8h0M428 392.4h0M545.7 377.1h0M404.2 390.4h0M601.6 366.3h0M499.9 389.3h0M595.2 390.8h0M616.9 397.6h0M555.6 363.9h0M417.7 385.6h0M474.2 397.7h0M509 388.7h0M597.9 290.4h0M468.8 407.4h0M447.3 385.3h0M452.9 399.9h0M528.7 373.8h0M595.5 384.3h0M644.4 379.8h0M613.1 383.5h0M641.1 410h0M554.9 411.4h0M638.9 390.5h0M531.5 397.1h0M535 388.5h0M535 340h0M442.5 373.7h0M423.9 404.3h0M584.2 355.3h0M410.5 386.9h0M532.2 375.6h0M653.9 348.9h0M499 427.1h0M583.7 364.2h0M501.2 345.3h0M489 379.1h0M574.9 344.8h0M606.4 368.2h0M454.2 399.5h0M575.8 379.4h0M481.4 411.2h0M407.5 367.6h0M515.1 383.8h0M577.8 346.4h0M512.2 403.2h0M571.6 348.8h0M578.9 377.9h0M517.9 380.8h0M566.8 387.6h0M495.9 343.4h0M650.8 415.8h0M586.7 379h0M405.4 407.6h0M624.3 392h0M616.2 371.3h0M624 399.5h0M523 414.6h0M420.8 407.1h0M587 355.9h0M506 381.3h0M511.3 391.4h0M449.3 392.5h0M655.7 408.3h0M519.6 392h0M452.5 429.2h0M533.1 342.7h0M623.3 390.9h0M575.5 326.6h0M625.3 385.3h0M633.4 373.8h0M635.7 383.1h0M618.8 364.3h0M600.6 371.9h0M547.5 400.6h0M565.5 431.3h0M537.8 393h0M493 395.7h0M603 365.3h0M422.8 373.8h0M627.3 339.5h0M413.5 428.5h0M506.6 376.5h0M520.5 389.4h0M598.2 385.8h0M571.3 296.2h0M474.3 384.6h0M628.8 421.3h0M633.2 382.6h0M519.2 379.1h0M562.6 375.1h0M644 350.9h0M548.4 382.5h0M622.9 382.1h0M411.2 434.1h0M430 324h0M630.1 352.9h0M512.9 333.7h0M527.5 393.3h0M514.5 357.8h0M476.9 393.3h0M521.6 404.4h0M649.1 380.4h0M653.8 344.1h0M434.6 391.8h0M540.9 387.5h0M532.1 352h0M438.8 370h0M467.2 345.5h0M475.9 410.3h0M445.2 382.6h0M603.2 376.3h0M623.3 383.6h0M565.1 374.1h0M653 398.9h0M650.9 371h0M561.2 388h0M469.5 426.7h0M545.3 346h0M522.1 380.3h0M546.7 393.7h0M646.4 402.9h0M618.4 378.6h0M483.9 389h0M412.8 395.6h0M570.4 364h0M503 375.6h0M562.1 386.5h0M508.8 368.1h0M439.6 413h0M476.3 380.8h0M602.3 379.4h0M484.4 381.9h0M655.1 394.8h0M601.9 378.5h0M632.8 347.3h0M522.3 391.3h0M522.4 373.9h0M411.6 388h0M559.7 395.1h0M629 381.4h0M426 390.3h0M533.2 355.1h0M614.3 366.8h0M609.6 370.5h0M581.9 352.8h0M502.6 395.1h0M467.7 420.3h0M468 392.3h0M430.1 391.4h0M574.1 392.6h0M499.8 378.4h0M592.4 390.1h0M629.2 407.9h0M405.5 401.7h0M477.7 384.1h0M553.8 417.1h0M533.4 414.4h0M567.3 425h0M637 382.3h0M455.4 371.2h0M531.8 386.1h0M424.3 422h0M520.8 399.2h0M514.6 367.7h0M406.1 369.8h0M477.7 388.3h0M612.7 427.6h0M534.5 405.9h0M516.5 392.4h0M520.3 361.7h0M598.9 386.8h0M426.3 380.1h0M539.8 404.1h0M420.1 381.3h0M604.3 377.9h0M503.1 393.5h0M467.6 403.7h0M496.7 365.3h0M570.9 355.4h0M624.1 373.8h0M599.4 394.5h0M653.1 396.5h0M473.7 331.6h0M450.8 384.4h0M546.3 379.7h0M430.9 409.2h0M448.4 406.5h0M566.2 408.3h0M624.4 397.5h0M587.7 369.9h0M413.2 384.6h0M647.2 349.7h0M605.6 369.2h0M557.7 410.4h0M561.5 389.1h0M493.6 391.8h0M477.2 410.2h0M585.6 372.7h0M616.7 392.8h0M538.8 371.2h0M562 395.7h0M571.2 401.8h0M632.7 359h0M405.6 384.4h0M535.7 397.9h0M425.8 373.3h0M432.2 376.3h0M649.1 368.1h0M407.7 414.9h0M425.2 390.9h0M619.8 381.7h0M559.6 389.2h0M425.1 418.8h0M643 370.7h0M536.8 393.6h0M649.9 388.7h0M422.9 389.5h0M572.4 384.2h0M430.4 402.8h0M439.2 414h0M465.3 352h0M488.4 367.5h0M487 382.2h0M470.9 373.8h0M452.9 377.9h0M442.9 366.3h0M505.5 382.3h0M479.2 381h0M419.4 388.9h0M428.4 370.7h0M525.3 395.1h0M465 420.6h0M433.4 395.4h0M611.6 431.6h0M459 391.1h0M608.4 368.6h0M479.7 343.8h0M415.1 426.5h0M513.4 383.6h0M470.4 387h0M410.7 417.3h0M413.4 388h0M456.1 370.7h0M602.2 368.9h0M488.7 364h0M571.6 348.6h0M481.4 389.3h0M464.5 373.6h0M628.8 363.3h0M646.6 389.2h0M469.2 413.2h0M603.2 360.6h0M478.9 389.6h0M580.3 379.8h0M559.3 397.5h0M554.3 357.5h0M607.2 387.2h0M403.4 386.8h0M633 407.9h0M529 396.1h0M636.1 424.4h0M614.3 373.7h0M528.7 408.4h0M511.8 429.8h0M611.5 370h0M604.5 398.6h0M436.5 390h0M405 393h0M489 364.7h0M413.4 415.8h0M604.1 385.3h0M638.5 380.8h0M541.1 369h0M491.3 323.6h0M439.8 386.7h0M419.6 371.7h0M525.5 383.1h0M406.2 393h0M549.4 368.4h0M406 404.2h0M613.2 389.3h0M479.5 392.1h0M528.9 354.9h0M594.4 416.3h0M625.3 361.2h0M438.9 354.2h0M605.6 415.9h0M437.1 372.2h0M472.3 424.1h0M507.7 398.5h0M570.5 376.8h0M527.3 428.9h0M529.8 336.8h0M437.7 390.8h0M603.8 385.7h0M552.4 367.2h0M644.7 386.2h0M542.2 359.2h0M590.9 369.3h0M456.1 340.2h0M545.2 415.6h0M480.1 371.8h0M430.8 411.3h0M654.1 382h0M644.8 336.2h0M471.2 412.6h0M566.5 334.8h0M605.1 415h0M454.7 406.6h0M471.7 398.8h0M626.2 375.2h0M513.7 416.1h0M538.4 412.9h0M599 381.6h0M533.7 372.7h0M556.8 373.4h0M493.3 405.5h0M636.8 385.3h0M622.4 378h0M521.9 361h0M607.1 413.1h0M639.7 367.7h0M639.7 388.6h0M425 407.1h0M544.3 417.7h0M564.2 325.3h0M490.7 362h0M510.7 377.7h0M522.6 360.1h0M545.7 373.2h0M581.8 385h0M621.1 388.6h0M625.6 410.2h0M609 387.3h0M581.8 410.3h0M463.2 402h0M535.3 417.1h0M410 406h0M404.2 406h0M468.8 396.2h0M539.9 411.4h0M537.5 394h0M549.9 400.4h0M651.7 365.7h0M605.8 394.9h0M504.2 374.9h0M489.8 426.3h0M539.2 396.7h0M524.9 371.2h0M507.1 411.6h0M606.1 418.9h0M587.7 360.5h0M484 430.1h0M451 347.8h0M576.9 361.8h0M599.2 375.3h0M542.7 415.1h0M610.1 391.6h0M569.3 401.1h0M546.7 401.7h0M482.6 379.2h0M521.4 362.5h0M568.5 371.7h0M633.1 395.3h0M533 413.6h0M420.5 338.6h0M487.3 384.6h0M591.2 392.1h0M569.9 402.3h0M483.4 393.8h0M549.7 403.2h0M630.3 381.4h0M478.9 396.6h0M601.5 374.9h0M518.9 375h0M486.1 363.3h0M641 367.6h0M506.6 372.5h0M494.8 392.5h0M651.2 356.3h0M497.1 396.8h0M455.7 395.1h0M424.9 374.7h0M597.4 361.2h0M594.1 415.8h0M483 413.4h0M555.7 390.8h0M557.4 370.1h0M615.3 389.6h0M408.6 368.7h0M491.1 402.8h0M409.7 399.4h0M444.5 409.8h0M540.1 393.9h0M548 388.1h0M478.5 387.9h0M432.4 421.6h0M645.8 330.9h0M467.5 393.2h0M646.2 400.7h0M648.6 388.4h0M589.9 407.9h0M476.6 358.5h0M478.6 343.7h0M434.4 368h0M570.4 379.1h0M593.2 398h0M570.7 421.2h0M552.2 390.7h0M518.3 384.3h0M544.6 378.2h0M462.5 380.8h0M547.2 390.9h0M447.3 358.5h0M597.6 378.1h0M470.7 428.9h0M646.2 359h0M503.5 374.4h0M610.1 362.3h0M574.4 386.9h0M500.2 400.1h0M632.5 422.3h0M600.8 341.8h0M635.1 380.3h0M521 383.6h0M453.3 410.5h0M425.3 380.8h0M550.1 394.1h0M435 322h0M649.9 406.7h0M419.4 375.8h0M615.3 368.9h0M613.1 381.8h0M531.7 413.2h0M647.6 365.9h0M405.7 384.1h0M560.5 394.6h0M569.2 388.7h0M548.9 396.3h0M567.6 387.2h0M495.2 411.2h0M521.5 402.3h0M633.4 386h0M646.4 402.2h0M408.9 400.6h0M466.3 366.3h0M514.9 396.3h0M490.5 390.6h0M406.4 412.4h0M552.9 359.8h0M451.7 420.3h0M626.1 434.2h0M615.2 417.8h0M490.7 377.6h0M588.4 386.1h0M551.3 366.6h0M513.7 387.2h0M574.1 399.4h0M470.5 371.4h0M484.9 389.4h0M592.9 391.3h0M518.6 412.6h0M474.5 391.6h0M551.7 371.1h0M423.8 426.5h0M460.1 385.2h0M500.6 395.2h0M647.4 406.5h0M589.1 406.3h0M585.2 382h0M614.2 393.4h0M542.9 384.7h0M644.4 369.4h0M455.2 366.8h0M646.4 345.4h0M425 413.1h0M481.5 411h0M654.1 402.9h0M444.4 342.5h0M407.9 391h0M545.1 367.6h0M460.9 381.6h0M426.7 400.1h0M426.5 368.3h0M480 384.7h0M485.1 385.2h0M646.1 398.8h0M443.3 364.8h0M608.2 378.8h0M490.5 379.4h0M437.4 387h0M412.4 408.7h0M620.5 336.4h0M450.2 366.5h0M460.5 344.3h0M523.3 403.4h0M653.8 368.6h0M510 360.5h0M454.3 400.5h0M559.4 368.5h0M546.4 355.3h0M567.6 344.6h0M464.5 388.7h0M549 364.3h0M611.1 382.7h0M521.1 365.9h0M454.5 395.6h0M615.5 399.1h0M542.5 403.5h0M542.5 385.2h0M471.4 385.8h0M626.7 388.9h0M589 378.3h0M620 350.7h0M654.1 361.5h0M482.8 409h0M467.6 404.2h0M486.2 403.3h0M444.6 382.2h0M507.1 412.8h0M524.7 419.9h0M574.2 387.6h0M422.1 378.1h0M602 401.6h0M493.5 337.7h0M537.8 363.4h0M606 414.6h0M545.2 397.9h0M450.6 375.3h0M555.7 400.8h0M459.1 410.5h0M422.5 411.8h0M642.6 358.1h0M498.6 376.4h0M543.3 378.4h0M489.1 369.6h0M557.8 378.4h0M486.8 428.7h0M612.3 363.3h0M460.1 377h0M629.3 356.2h0M488.5 353.3h0M438.4 388.7h0M436.2 387h0M558.5 382.9h0M539.5 390.1h0M602.7 335h0M449.2 387.7h0M636.7 370.4h0M595.2 384.1h0M650.7 379h0M512 396h0M465.5 365.2h0M590.5 398.2h0M632.7 360.1h0M478.7 397.2h0M463 373.3h0M439.8 406.4h0M585 415.4h0M477.2 337.1h0M549.1 381.7h0M515.5 421.8h0M425.8 374.6h0M499.7 390.9h0M496.6 342.2h0M500.9 383.1h0M641.2 405h0M627.8 308.4h0M571 374.2h0M636.4 390.7h0M638.4 366.3h0M642.9 356.9h0M595.7 385.2h0M544.6 393.8h0M448.8 393.3h0M448.4 355.3h0M405.7 391.3h0M423.7 403.7h0M467.2 402.3h0M551 383.7h0M647.1 418.2h0M521.8 380.5h0M456.1 428.1h0M484.9 427.6h0M435.1 402.7h0M459.3 424h0M593.2 394.2h0M426.4 379.9h0M441.8 404.3h0M554.5 409.8h0M433.5 415.8h0M563.7 341.5h0M649.8 364.6h0M647.1 373.2h0M408.8 421.9h0M583.6 384.7h0M571.6 389.9h0M516.1 393.1h0M472.8 366.6h0M517.3 361.8h0M472.5 375.2h0M403.8 429.6h0M591.4 370.7h0M607.2 384.1h0M641 369.4h0M419.7 362.4h0M552 361.3h0M609.3 393.4h0M500.6 399.3h0M642.5 412.8h0M461.3 396.4h0M468.9 398.4h0M597.9 390.9h0M426 421.3h0M448.3 372h0M543.9 396.5h0M541.5 389.8h0M574.5 378.5h0M449.4 402.3h0M526.8 400h0M573.9 364.1h0M511.6 425.3h0M537.4 408.2h0M608.4 356.9h0M444.1 398.4h0M617.2 392.8h0M519.8 405.8h0M569.1 374.5h0M556.8 364.9h0M630.7 381.6h0M591.7 377.8h0M519.1 397.1h0M428 400.5h0M625.6 345h0M628.9 412.9h0M542.5 402h0M560.7 389.3h0M470.7 421.9h0M590.2 403.5h0M501.1 365.8h0M561.5 370.7h0M650.1 368.7h0M650.1 400.9h0M427.4 393.4h0M493.5 421.6h0M580.7 395.1h0M525.5 416.3h0M568.7 381h0M443.6 374.6h0M538.4 375.7h0M648.9 325.1h0M448 365.4h0M505.8 380.9h0M621.2 360.3h0M522 394.3h0M425.8 414.1h0M469.4 386.6h0M611.5 365.4h0M518 409.7h0M502.5 385h0M456.3 422.5h0M408.4 366.5h0M420.7 403.2h0M589 370.5h0M492.1 378h0M437.8 339.6h0M655.1 383.5h0M477.8 374h0M447.2 402.3h0M513.6 383.4h0M422.1 395.6h0M437.6 402h0M583.6 376.2h0M634.6 363.1h0M633 399h0M536.2 374.7h0M440.6 407.8h0M644.8 383.8h0M530.2 419.4h0M525.4 406h0M578.7 396.7h0M564.6 407.1h0M590.1 389.5h0M468 412.1h0M568 356.1h0M489.6 371.4h0M487.9 364.8h0M623 378.8h0M417.6 381.4h0M422.8 389.9h0M588.5 425.7h0M416.4 392.2h0M613.8 393.2h0M593.1 389.4h0M454.1 402.9h0M491.4 406.5h0M560.1 325.9h0M583.9 402.9h0M494.9 393.8h0M612.1 359.6h0M599.3 398.4h0M430.8 381.9h0M591.3 403.5h0M634.4 369h0M561.3 370.4h0M629.5 395.3h0M598.1 365.5h0M441.5 411.1h0M632.4 391.6h0M430.6 365.6h0M457.6 390.4h0M647.5 371.5h0M604.1 400h0M494.4 343.5h0M601.3 415.1h0M469.9 392.7h0M495.2 376.8h0M497.5 383.9h0M631 399.5h0M562.8 400.7h0M584.8 351.3h0M656 354.5h0M467.5 423h0M623.2 415.4h0M439.1 377.9h0M531.7 369.6h0M539.4 391.8h0M443.9 389.7h0M456.8 334.9h0M571.6 379.8h0M535 406.1h0M475.8 414.1h0M476.4 388.1h0M567.4 402.8h0M590 361.8h0M550.5 394.2h0M595 381h0M472.6 382h0M541.3 401.9h0M460.8 389.8h0M533.1 406.9h0M507.5 411.8h0M564.4 381.9h0M472.7 410.9h0M433 398.8h0M415.6 407.5h0M559.4 374.6h0M596.1 354.1h0M481.8 390.7h0M436.9 377.3h0M536.4 357.3h0M570.9 399.6h0M636.3 376.3h0M609.9 368h0M517.6 372.2h0M486.1 405.5h0M521.8 373.4h0M447.7 388.6h0M465.1 378.2h0M416.1 399.6h0M428.2 388.8h0M495.1 362.6h0M649.9 369.2h0M539.4 434h0M421.7 372.1h0M648.1 356.3h0M520.4 377.6h0M500.4 344.9h0M617.4 377.3h0M518.2 381.2h0M498.4 387.9h0M421.8 416.4h0M633.1 396.6h0M623.1 398.9h0M602 375.9h0M508.3 353.6h0M634.5 357.7h0M533.2 391.5h0M537.8 393.1h0M646 361.3h0M580.1 385.8h0M440.2 343.3h0M597.6 383.8h0M445.4 413.2h0M456.1 390.8h0M553 368.7h0M578.1 344.3h0M656.8 310.3h0M509.8 412.6h0M533.6 389.3h0M485.7 373.8h0M618.6 383.7h0M607 403.7h0M646.2 380h0M570.2 309h0M483.7 383.7h0M427.6 379.4h0M611.7 375.7h0M402.8 390h0M404 398.3h0M515.2 413h0M612 365.4h0M441.2 420h0M625.6 373.1h0M573.3 391h0M610.9 365h0M429.7 434.1h0M552.8 376h0M516.5 374.1h0M550.9 421.1h0M489.2 398h0M479.7 368.1h0M436.1 391.6h0M577.9 388.6h0M423.1 422.5h0M416.2 368.5h0M443.7 397.5h0M506.9 405.8h0M506.7 404.1h0M515.7 419.3h0M468.3 374.1h0M539.5 371.2h0M605.2 384.7h0M434.7 387.1h0M567.3 399.6h0M553.5 410.4h0M525.4 338.6h0M403.3 424.7h0M516 387.7h0M553.3 362.6h0M491.8 378.8h0M495.2 371.2h0M459.5 404.7h0M546.6 380.5h0M573 366.7h0M542.7 414.5h0M523.6 397.5h0M493.5 347.1h0M561.4 380.9h0M578.8 391.2h0M643 358.9h0M656.2 410.1h0M629.8 358.1h0M588.1 364.1h0M655.4 388h0M432.5 398.1h0M562.2 379.3h0M429.4 389.6h0M491.5 379.1h0M415.6 387.9h0M541.6 403.2h0M454.4 387.1h0M591.1 395h0M408.3 406.2h0M593.5 412h0M569 397.1h0M593.3 364.3h0M596 379.1h0M648.8 381.8h0M630.4 367.4h0M594.1 376.7h0M596.8 381.9h0M443.3 380.6h0M555.1 390.8h0M567.6 330.9h0M536.3 358.6h0M464.8 388.7h0M621.4 386.3h0M617.6 402.3h0M620.3 352.7h0M606.1 404.3h0M509.7 328.5h0M471 396h0M556.1 389.9h0M608.5 402.9h0M473.8 401.7h0M646.2 362.1h0M616.1 395.2h0M582.1 367.7h0M559.5 410.6h0M410.8 338.9h0M427.5 358.5h0M591.5 387.6h0M572.3 397.4h0M502.1 406h0M590.8 323.1h0M501.7 407.4h0M497.1 394.2h0M421.6 368.5h0M626.8 382.4h0M409.2 361h0M601.4 392.1h0M614.8 386.8h0M462.4 395.4h0M610.3 383.2h0M652.6 366h0M555.9 382.8h0M497.4 354.5h0M501.7 353.1h0M594.9 385.5h0M419.2 421.8h0M461.8 393.4h0M403.7 417.3h0M584.6 388.9h0M643.1 400.9h0M608.8 370h0M645.4 377.1h0M416.5 394.7h0M595.2 409.8h0M635 372.5h0M559.1 349.2h0M489.6 363.9h0M608.3 401.8h0M549.2 382.3h0M531.1 390.5h0M643.3 379.8h0M624.4 400h0M510.6 395.1h0M575.6 390.6h0M544 391h0M584.4 373.1h0M588.1 401.9h0M633.9 389.6h0M606.4 409.4h0M642.3 374.1h0M441.3 403.6h0M567.9 377.4h0M466.8 424.3h0M648 395.5h0M475.2 432.8h0M513.5 398.2h0M529.9 374.6h0M456.7 416.3h0M574.1 387.8h0M618.9 366h0M478.3 411.1h0M642.3 389h0M632 377.3h0M421.1 419.4h0M513.1 379.6h0M559.4 383.7h0M570.3 411.4h0M644.4 395.9h0M460.8 397h0M505.7 351.8h0M510.7 381.1h0M526.7 355.2h0M629.8 401.6h0M454.8 415.8h0M535 346.2h0M648.8 374.2h0M452.3 403.5h0M526.6 383.7h0M647.7 349.9h0M556.3 388.5h0M552.4 341.1h0M507.6 399.6h0M561.6 379.5h0M411.6 390.6h0M627.3 360.3h0M410.1 347.6h0M603 379.9h0M555.9 364.2h0M548.1 394.6h0M477.3 388.3h0M588.1 420.1h0M485.8 388.3h0M597.7 413.5h0M655.9 355.4h0M502 410.2h0M601.5 394h0M438 393.2h0M570.4 381.8h0M468.4 407.8h0M535.3 399.1h0M417.9 389.6h0M450.1 385.2h0M557.6 408.5h0M639.3 379.8h0M591.6 405.8h0M436 372.9h0M508.1 382.5h0M604.1 357.5h0M417.3 403.1h0M598.9 422.5h0M407.8 375.5h0M606.5 403.5h0M516.1 388.2h0M588.6 375.8h0M639.9 388.9h0M487.2 427.9h0M517.2 434h0M498.1 402.8h0M423.1 379.2h0M525.5 404h0M517 360.9h0M515.2 359.6h0M581.9 360.6h0M630.6 393.7h0M618 413h0M622 389.3h0M616.3 416.1h0M523 352.7h0M455.2 388.9h0M451.5 314.8h0M586.2 375.6h0M642.9 387.7h0M565.4 367.4h0M569.1 371h0M504.7 388.7h0M473.4 384.1h0M609.3 366.9h0M426 364.8h0M645 351.6h0M543.3 385.1h0M640.3 355.3h0M525.2 379.9h0M416.7 409.6h0M487.6 409.3h0M490.7 378.2h0M562.5 374.5h0M450.9 409.5h0M423.2 414.5h0M582 420h0M621.3 376.2h0M508 430h0M402.8 418.1h0M482.9 410.9h0M616.8 373.9h0M527.8 403.9h0M532.6 413h0M509.6 349.9h0M462.2 333.3h0M613.6 420.2h0M512.9 392.8h0M515.4 356.7h0M416.1 415.9h0M456.6 392.3h0M462.2 396.9h0M422.2 408.8h0M541.2 350.1h0M492.7 395.3h0M449.7 414h0M607.9 357.4h0M500.3 416.9h0M478.1 392.1h0M605.4 366.6h0M541.8 369.5h0M632.8 415.7h0M636.8 337.3h0M409 387.5h0M489.2 412.2h0M543.7 407.8h0M423.4 404.5h0M642.3 396.2h0M472.8 394.9h0M574.6 384.9h0M645.9 391h0M538.6 374.1h0M586.6 362.1h0M545.5 373.4h0M488.6 388.9h0M455.4 389.9h0M446.1 387h0M583.9 365.5h0M462.5 388.2h0M640 378.7h0M544.1 402.3h0M519.4 393.3h0M406.6 385.5h0M635.5 385.3h0M635.9 379.6h0M533.5 413.8h0M476.7 377.7h0M503 379.9h0M407.2 385.6h0M589.5 395.2h0M637.9 399.7h0M622.9 381.7h0M484.8 403.1h0M441.3 352.2h0M582.2 369.1h0M644.1 397h0M604.9 379.3h0M547.6 401.2h0M643.7 379.1h0M419.3 380.4h0M451.5 397.4h0M626.1 362.9h0M624.6 433.2h0M484.7 361.9h0M518.6 408h0M525.4 385.1h0M583 351.3h0M431 375.2h0M425.3 411.7h0M582.6 344.9h0M547.1 366.5h0M413.6 393.2h0M646.1 377.4h0M631.4 379.8h0M412.8 419.2h0M415.3 378.4h0M579.4 388.5h0M415 358.8h0M492.6 369.5h0M419.8 420.6h0M583.6 399.6h0M525.2 338.3h0M488.7 310.9h0M507.8 423.3h0M614.4 397.8h0M502.1 361.6h0M461 427.1h0M614.8 391.4h0M440 398h0M553.8 407.7h0M514.6 427h0M561.9 372h0M474.1 390.6h0M544.7 388.4h0M454.5 346h0M540.1 407h0M444.8 422.4h0M504.1 385.3h0M573.9 392.4h0M470.7 403.3h0M562.5 356.9h0M581.5 385.9h0M449.8 375h0M531.8 393h0M609.8 354.5h0M546.2 387.9h0M522.3 411.2h0M406.1 380.7h0M479.4 374.6h0M596.5 400h0M645.5 366.2h0M428.6 384.7h0M444.5 370.7h0M483.8 373.3h0M452.7 385.8h0M476.2 425.5h0M430 388.2h0M467 398.1h0M541.5 383.3h0M508.5 370.5h0M470.7 387.9h0M465.9 410.7h0M511.2 401.3h0M449.4 397.5h0M582.2 395.2h0M554.7 381.1h0M534.2 428h0M419.6 395.1h0M656.1 384.3h0M553 366.5h0M477.3 376.6h0M623.2 379.1h0M500.6 390.7h0M516.2 377.1h0M561.4 395.5h0M624.9 374.7h0M591.9 381.6h0M651.7 397.3h0M622 384.2h0M528.4 392.8h0M588.4 391.8h0M646.3 397.3h0M461.9 403.6h0M550.5 371.2h0M510.1 379h0M539.4 358.2h0M638.7 395h0M549.8 393.3h0M524 413h0M422.1 399.2h0M453.3 384.8h0M560.1 364.7h0M492.7 400.9h0M628.3 406.1h0M530.5 395.3h0M632.4 327h0M554.5 423h0M461.7 392.9h0M508.3 347h0M475.2 404.5h0M455.8 401.2h0M515 414h0M588.8 399.6h0M448.9 383.8h0M420.2 390.9h0M654.6 350h0M644.3 350.8h0M570.9 383h0M462.4 381.4h0M536.8 383.4h0M411.2 384.7h0M530.9 415.2h0M488.9 361.3h0M586.9 355.3h0M538.9 392.5h0M538.8 394h0M403.2 374.8h0M422.2 405.6h0M475.9 372.2h0M597.2 393.6h0M581.4 396.9h0M429.3 378h0M522 390h0M446.3 370.5h0M585.6 355.6h0M459.2 412h0M470.3 349.9h0M503.7 402.2h0M598.7 396.3h0M547.8 367.9h0M505.2 350h0M578.3 400.8h0M454.3 386.8h0M637 378.3h0M511.2 400.8h0M497.4 364.4h0M652.3 409.3h0M466.3 377.8h0M547.3 381h0M436.7 413.7h0M420.5 423.2h0M492.6 386.1h0M407 393.5h0M538.4 402.1h0M567.9 382.1h0M431.7 389h0M514.9 383.2h0M479 367.4h0M534.6 368.3h0M448.4 365.2h0M458.2 406.5h0M606.1 398.4h0M652 398.7h0M652 374.6h0M650.7 380.6h0M644.2 419.7h0M638.8 362.2h0M548.1 381.2h0M611.6 339.3h0M426.1 420.2h0M419.2 397.8h0M435.6 390.3h0M521 377.5h0M600.8 391.9h0M625.7 386.9h0M421 406.5h0M519.8 416.6h0M486.6 401.5h0M417.9 377.8h0M440.5 404.2h0M651.4 392h0M587.6 399.7h0M427.7 388.3h0M422.9 414.6h0M534.3 365.6h0M615.1 392.7h0M603.4 362.3h0M611.7 368.1h0M595.1 400.5h0M420.4 424.5h0M445.1 341.8h0M532.2 373.7h0M447.3 401h0M625.9 403.6h0M532.1 377.7h0M640.6 391.7h0M411.7 394.4h0M570.8 299.7h0M625.3 384h0M408.7 420.5h0M408.4 373.9h0M529.4 384.9h0M575.4 378.4h0M554 391.6h0M446.8 384.6h0M580.2 329.2h0M408.3 425h0M617.2 407.3h0M602 363.2h0M550.7 422.3h0M451.5 405h0M546.5 395.6h0M438.1 403.3h0M500.7 383.6h0M640.5 360.2h0M562.6 373.5h0M494.4 399.9h0M459.9 396h0M513.9 344.4h0M412.9 399.5h0M417.1 392.9h0M474.6 408.8h0M528.3 398h0M526.8 393.8h0M435.9 395.6h0M402.7 399.5h0M441.2 425.2h0M639.8 353.6h0M410.2 374.1h0M557.4 375.5h0M503.7 392.3h0M528.3 392.4h0M517.7 346.6h0M526.2 395.2h0M464.7 369.7h0M645.4 419.3h0M636.1 383.1h0M495 355.2h0M591.4 359.4h0M504.9 398.5h0M574.2 380h0M640 395.2h0M614.5 368.3h0M510 389.1h0M518.3 394h0M567.9 372.8h0M625.1 399h0M418.3 373.1h0M413.3 384.8h0M576.9 376.9h0M416.6 396.6h0M647.6 407.6h0M593.6 394.4h0M496 405.1h0M493.1 398.7h0M477.6 389.5h0M558.4 375h0M627 373.5h0M586.1 376.4h0M622.2 378h0M474.6 395.1h0M536.9 389.3h0M649.9 383.8h0M590.6 431.1h0M557.7 386.2h0M585.7 385.9h0M645.9 361.3h0M441.3 392.4h0M591.6 419.1h0M438.1 350.4h0M483.7 348.3h0M624.9 429.3h0M538 415.8h0M449.2 420h0M434.6 394.1h0M525.2 392.9h0M498.9 406h0M499.3 409.6h0M628.1 383.4h0M473.8 394.7h0M490.1 371.3h0M445.1 362.7h0M494 412h0M440.9 426.7h0M534 362.8h0M578.6 409.7h0M446 368.8h0M449.7 384.1h0M453 387.2h0M421.2 356.1h0M535.8 376.8h0M433.8 342.5h0M414.5 385.1h0M497.5 388.4h0M600.1 377h0M461.7 424.7h0M426 422.1h0M407.2 377h0M574.9 291.8h0M639.5 393.1h0M472.2 423.8h0M568.8 358.3h0M421.7 402.4h0M502.7 416.5h0M593.2 347.9h0M465.8 357.1h0M512.4 374.5h0M643.4 398.4h0M563.3 370.6h0M535 410.8h0M431.5 364.7h0M470.2 365.4h0M532.3 391.5h0M494.7 376.5h0M553.7 386.5h0M651.8 397.7h0M489.5 388.1h0M506.6 366.9h0M539 415.1h0M470.6 372.8h0M527.4 402.2h0M464.7 405.2h0M413.2 397.5h0M487.9 406.6h0M575.2 363.6h0M440.9 366h0M622.2 362.5h0M586.8 370.5h0M430.3 430.4h0M507.3 392.4h0M568.9 371.2h0M516.5 389.1h0M598.6 364.8h0M648.1 341.2h0M534.2 397h0M544.7 376.5h0M433 393h0M576.9 371.9h0M563.5 398.8h0M424.1 403.3h0M548.8 396.2h0M445.3 389h0M579.5 372.1h0M478.9 368.5h0M413.1 387.4h0M591.6 395.8h0M531.3 415.7h0M433.1 379.4h0M655.4 380.3h0M625.7 384.1h0M524.6 395.8h0M582.8 357.6h0M613.5 376h0M556.6 392.9h0M613.7 381.3h0M435.1 406.1h0M648.1 379.9h0M592.9 368.2h0M547.8 370.5h0M625.3 380.7h0M522.4 350.6h0M547.7 371.1h0M545.7 395.8h0M579.6 409.3h0M434.5 396.7h0M599.4 390.1h0M616.8 365.9h0M412.7 380h0M498.3 395.4h0M572.1 355.8h0M414.1 371.3h0M552.9 382.3h0M621 373.4h0M609.6 388.4h0M483.2 329.6h0M437.9 414.2h0M417.7 377.5h0M462.2 387.9h0M507.2 392.1h0M442 363h0M483.8 396.3h0M527.1 368.9h0M549.6 342.2h0M469.2 380h0M477.5 400.1h0M642.7 389.6h0M564.1 411.1h0M467.3 393.5h0M609.5 352.3h0M633.1 411.7h0M540.2 377.1h0M557.5 365.1h0M639.1 381h0M645.6 316.8h0M484 420.6h0M449.2 391.9h0M454 388.6h0M519.7 378.3h0M409 309.2h0M589.7 389h0M570.9 360.4h0M578.6 427.5h0M602.3 403h0M625.5 376.5h0M616.3 363.8h0M631.9 388.7h0M511.6 408.5h0M563.4 409.7h0M455.5 408.3h0M460.3 385.1h0M536.7 385.8h0M529.2 354.6h0M422.3 393.3h0M655.3 370.7h0M625 381.3h0M632.5 395.3h0M641.5 376.8h0M510.3 417.5h0M498.8 374.7h0M412.8 304.6h0M552.2 397.7h0M602.5 365h0M550.5 383.3h0M405.6 400h0M506.1 398.2h0M467.2 380.3h0M481.9 404.1h0M570.6 420.1h0M509.2 395.7h0M567.5 374.3h0M419.2 326.6h0M415.1 368.8h0M635.1 383.7h0M615.3 381.2h0M429.8 399.2h0M523.3 379.8h0M487.1 370.9h0M516.2 377.9h0M632.3 352.7h0M468.9 382.3h0M631.9 400.9h0M616 396.8h0M456.3 396.7h0M608.6 369.2h0M653.7 402.4h0M617 353.4h0M444.5 415.1h0M516.5 410.7h0M475.4 385h0M638.3 374.3h0M415.2 385h0M603 383.3h0M626.4 403.3h0M578 320.4h0M422.8 396.8h0M651 434.3h0M449.5 398h0M445.4 400.2h0M438.7 369.4h0M632.7 360.8h0M472.9 371.6h0M562.7 401.3h0M428.9 410.9h0M569.7 374h0M450.3 355.6h0M439.3 410.6h0M514.9 358.1h0M507.8 356h0M601.8 386.1h0M514.9 386.6h0M429.2 392.3h0M585.3 379.4h0M572 361.7h0M558.6 368.8h0M641.4 391.3h0M479.3 360.1h0M655.8 380.3h0M619.3 376.9h0M619.5 370.4h0M628.9 388.4h0M587.3 382.7h0M487.9 384.4h0M550.6 357.3h0M593.5 372.5h0M420.1 385h0M418.1 406h0M521.3 379.5h0M651 328.3h0M611.4 411.6h0M468.7 385.5h0M619.1 365.5h0M417.4 377.2h0M432.1 376.8h0M528.4 399.3h0M604.8 341.1h0M478.8 376.4h0M485 367h0M503 391.1h0M467.2 326.9h0M575.6 349.1h0M555.3 363.8h0M638.2 386.6h0M431.7 401.9h0M430.3 392.6h0M656.4 363.7h0M611.5 368h0M502.3 380.6h0M442.6 396.9h0M439.7 387.7h0M620.9 377.4h0M430.4 418.3h0M576.5 383.2h0M601 376.8h0M453.8 393.4h0M444.1 405.5h0M570.5 374.3h0M450.6 391.2h0M522.4 401.2h0M500.3 357.4h0M526.2 384h0M640.5 381.7h0M404.6 377.9h0M525.7 415.5h0M492.4 378.7h0M586.3 365.7h0M583.2 325.9h0M611.5 385.4h0M562.2 365.7h0M504 390.1h0M645.4 398.6h0M611.4 398.5h0M515.1 400.8h0M527.5 364.7h0M495.6 361h0M597.8 345h0M646 429h0M476.2 368.4h0M502.3 384.3h0M501.5 391.9h0M547.9 382.6h0M464.2 398.3h0M448 372.6h0M631 347.9h0M412.8 402.4h0M412 406.4h0M639 380.9h0M474.2 366.8h0M467.8 336.6h0M423.1 396.2h0M453 377.6h0M512.6 420.2h0M654.2 427.2h0M434.9 406.4h0M645.7 432.3h0M514.4 374h0M450.3 395h0M437.8 402.7h0M601.5 390.3h0M650.9 385.2h0M452.2 356h0M508.3 420.2h0M598.8 360.7h0M424.6 433.2h0M542.9 390.9h0M586.7 387h0M622.8 376.3h0M579.8 369.3h0M478.1 385.3h0M418.7 387.6h0M470.1 412.2h0M410.5 401.3h0M538.4 398.1h0M606 390.1h0M574.2 384.8h0M557.2 352.9h0M525.1 411.9h0M645.5 365.5h0M426.3 422.9h0M614.2 393.3h0M421.7 431.7h0M506.8 411.1h0M633.1 396.1h0M429 398.8h0M450 378.6h0M554.2 387.7h0M593.6 411.5h0M624 408.1h0M521.9 382.8h0M651.7 373.7h0M567 392.9h0M438.7 369.9h0M596.5 366.3h0M645.3 381.5h0M429.2 411.8h0M592.8 396.1h0M626.1 411.7h0M542.1 405.7h0M451.4 355.8h0M651 415.2h0M505.3 417.8h0M493.7 370.7h0M471.7 425.4h0M554.2 377.9h0M492.3 386.5h0M537.7 350.8h0M426.8 425.1h0M438.6 391.1h0M604.9 387.9h0M585 359.8h0M628.9 354.2h0M609.9 350.9h0M592.9 385.3h0M428.9 424.1h0M521.9 410.1h0M629.9 392.6h0M512.3 376h0M557.8 341.6h0M656.4 363.4h0M527.9 379.8h0M557.4 391.9h0M589.3 359.8h0M417.4 378.3h0M634.8 381.7h0M604.3 387.8h0M654 387.3h0M623.4 409.6h0M644.7 338.7h0M639.2 369.6h0M445.4 350.4h0M448.1 426.1h0M483 383.6h0M504.5 418.5h0M417.7 401.9h0M639.4 377.9h0M550.7 398.1h0M598.2 408.5h0M529 379.6h0M443.4 369.2h0M506.7 396.6h0M411.3 406.2h0M484.5 390.8h0M595.5 421.7h0M428.3 370.1h0M590.3 382.9h0M424.2 410.7h0M562.2 406.8h0M443.5 375.3h0M565.6 384.8h0M649.5 410.6h0M467.4 410.1h0M539.7 381.7h0M584.6 417.4h0M463.5 402.9h0M505.4 401h0M506.3 384.4h0M609.4 403.2h0M527.3 388.5h0M444.3 373.5h0M419 425.2h0M534.8 382h0M420.8 416.2h0M482.9 423.5h0M457.2 325.6h0M409 395.4h0M621.8 398.6h0M411.6 376.2h0M617.7 367h0M575.4 415h0M589 413.4h0M435.6 393.4h0M431.2 387.2h0M619 398.9h0M408.1 375.7h0M448 399.4h0M652.1 394h0M491.3 408.9h0M521.2 360h0M532.8 370.7h0M624.7 400.6h0M439.3 422.6h0M504.9 399.9h0M565.9 377.6h0M648.6 397.9h0M459.2 422.7h0M498 392.7h0M644.4 421.3h0M444 418.3h0M506.5 398.4h0M477.4 371.6h0M541.8 423.3h0M537.9 417.3h0M476 397h0M577.7 363.7h0M652.5 366.8h0M521.9 393.5h0M653.1 382.9h0M610.8 414.7h0M589.9 372.5h0M566.5 416h0M509.7 347.7h0M536.7 385.1h0M607.3 370.8h0M422.6 402.4h0M648.1 392.6h0M534.5 390.1h0M404.5 377.6h0M518.9 404.8h0M522.8 385.9h0M459.5 389.2h0M437.2 383.9h0M411.4 411.3h0M560.7 386.9h0M606.2 390.4h0M502.1 379.1h0M546.2 382.8h0M584.3 361.8h0M417.7 409.9h0M594 376.1h0M571.5 372.7h0M593 411.9h0M504.9 405h0M502.5 378.3h0M622.8 388.3h0M606 358.3h0M418 395.6h0M568.5 368.7h0M626.4 365.9h0M642.4 368.4h0M413.1 384.5h0M485.5 377h0M580 371.5h0M461.2 379h0M411.2 397.5h0M625.3 401.2h0M429.9 399.2h0M523.8 389.5h0M592.9 391.8h0M471.6 381h0M542.7 400.9h0M404 388.9h0M444.1 425.7h0M410.5 417.1h0M423.7 408.7h0M405.1 465.8h0M409.2 439.2h0M411.2 440.1h0M414.7 442.5h0M420 446.6h0M418 453.1h0M420.8 453.5h0M430.7 449h0M439.9 452.5h0M441.9 445.8h0M454.8 449h0M472.1 439.6h0M503.8 439.2h0M507.3 449h0M523 438.4h0M595.2 458.8h0" stroke="#4472C4" stroke-width="2.9" stroke-linecap="round" fill="none"/>
<clipPath id="c2"><rect x="401.8" y="270" width="283.2" height="230"/></clipPath>
<path d="M402.3 395.1 L408.8 394.5 L415.4 393.8 L421.9 393.2 L428.4 392.6 L435.0 392.0 L441.5 391.4 L448.0 390.9 L454.6 390.4 L461.1 389.8 L467.6 389.3 L474.1 388.8 L480.7 388.4 L487.2 387.9 L493.7 387.5 L500.3 387.1 L506.8 386.7 L513.3 386.3 L519.9 385.9 L526.4 385.6 L532.9 385.2 L539.5 384.9 L546.0 384.6 L552.5 384.3 L559.1 384.0 L565.6 383.8 L572.1 383.6 L578.7 383.3 L585.2 383.1 L591.7 383.0 L598.2 382.8 L604.8 382.6 L611.3 382.5 L617.8 382.4 L624.4 382.3 L630.9 382.2 L637.4 382.1 L644.0 382.1 L650.5 382.0 L657.0 382.0" stroke="#C00000" stroke-width="4.5" fill="none" stroke-linecap="round" stroke-linejoin="round" clip-path="url(#c2)"/>
<text transform="translate(390,488.5) scale(0.97,1)" text-anchor="end" font-size="14.3" fill="#000" stroke="#000">20</text>
<text transform="translate(390,466.31) scale(0.97,1)" text-anchor="end" font-size="14.3" fill="#000" stroke="#000">25</text>
<text transform="translate(390,444.12) scale(0.97,1)" text-anchor="end" font-size="14.3" fill="#000" stroke="#000">30</text>
<text transform="translate(390,421.93) scale(0.97,1)" text-anchor="end" font-size="14.3" fill="#000" stroke="#000">35</text>
<text transform="translate(390,399.74) scale(0.97,1)" text-anchor="end" font-size="14.3" fill="#000" stroke="#000">40</text>
<text transform="translate(390,377.56) scale(0.97,1)" text-anchor="end" font-size="14.3" fill="#000" stroke="#000">45</text>
<text transform="translate(390,355.37) scale(0.97,1)" text-anchor="end" font-size="14.3" fill="#000" stroke="#000">50</text>
<text transform="translate(390,333.18) scale(0.97,1)" text-anchor="end" font-size="14.3" fill="#000" stroke="#000">55</text>
<text transform="translate(390,310.99) scale(0.97,1)" text-anchor="end" font-size="14.3" fill="#000" stroke="#000">60</text>
<text transform="translate(390,288.8) scale(0.97,1)" text-anchor="end" font-size="14.3" fill="#000" stroke="#000">65</text>
<text transform="translate(402.9,504.6) scale(0.97,1)" text-anchor="middle" font-size="14.3" fill="#000" stroke="#000">0</text>
<text transform="translate(496.55,504.6) scale(0.97,1)" text-anchor="middle" font-size="14.3" fill="#000" stroke="#000">5</text>
<text transform="translate(590.2,504.6) scale(0.97,1)" text-anchor="middle" font-size="14.3" fill="#000" stroke="#000">10</text>
<text transform="translate(369.5,388) rotate(-90)" text-anchor="middle" font-size="14.1" fill="#000" stroke="#000">Compressive strength_28 days&#160; MPa</text>
<text transform="translate(515,525) scale(1.0,1)" text-anchor="start" font-size="13.6" fill="#000" stroke="#000">Superplasticizer kg/m3</text>
<line x1="42.5" y1="717.36" x2="305.3" y2="717.36" stroke="#E0E0E0" stroke-width="1"/>
<line x1="42.5" y1="693.23" x2="305.3" y2="693.23" stroke="#E0E0E0" stroke-width="1"/>
<line x1="42.5" y1="669.09" x2="305.3" y2="669.09" stroke="#E0E0E0" stroke-width="1"/>
<line x1="42.5" y1="644.95" x2="305.3" y2="644.95" stroke="#E0E0E0" stroke-width="1"/>
<line x1="42.5" y1="620.81" x2="305.3" y2="620.81" stroke="#E0E0E0" stroke-width="1"/>
<line x1="42.5" y1="596.67" x2="305.3" y2="596.67" stroke="#E0E0E0" stroke-width="1"/>
<line x1="42.5" y1="572.54" x2="305.3" y2="572.54" stroke="#E0E0E0" stroke-width="1"/>
<line x1="42.5" y1="548.4" x2="305.3" y2="548.4" stroke="#E0E0E0" stroke-width="1"/>
<line x1="42.5" y1="548.4" x2="42.5" y2="741.5" stroke="#E0E0E0" stroke-width="1"/>
<line x1="162.1" y1="548.4" x2="162.1" y2="741.5" stroke="#E0E0E0" stroke-width="1"/>
<line x1="281.7" y1="548.4" x2="281.7" y2="741.5" stroke="#E0E0E0" stroke-width="1"/>
<line x1="42.5" y1="741.5" x2="305.3" y2="741.5" stroke="#A6A6A6" stroke-width="1"/>
<line x1="39.2" y1="741.5" x2="42.5" y2="741.5" stroke="#D0D0D0" stroke-width="1"/>
<line x1="39.2" y1="717.36" x2="42.5" y2="717.36" stroke="#D0D0D0" stroke-width="1"/>
<line x1="39.2" y1="693.23" x2="42.5" y2="693.23" stroke="#D0D0D0" stroke-width="1"/>
<line x1="39.2" y1="669.09" x2="42.5" y2="669.09" stroke="#D0D0D0" stroke-width="1"/>
<line x1="39.2" y1="644.95" x2="42.5" y2="644.95" stroke="#D0D0D0" stroke-width="1"/>
<line x1="39.2" y1="620.81" x2="42.5" y2="620.81" stroke="#D0D0D0" stroke-width="1"/>
<line x1="39.2" y1="596.67" x2="42.5" y2="596.67" stroke="#D0D0D0" stroke-width="1"/>
<line x1="39.2" y1="572.54" x2="42.5" y2="572.54" stroke="#D0D0D0" stroke-width="1"/>
<line x1="39.2" y1="548.4" x2="42.5" y2="548.4" stroke="#999999" stroke-width="1"/>
<line x1="42.5" y1="741.5" x2="42.5" y2="745.6" stroke="#A6A6A6" stroke-width="1"/>
<line x1="162.1" y1="741.5" x2="162.1" y2="745.6" stroke="#A6A6A6" stroke-width="1"/>
<line x1="281.7" y1="741.5" x2="281.7" y2="745.6" stroke="#A6A6A6" stroke-width="1"/>
<path d="M235.1 693.8h0M235.8 724.7h0M165.8 634.3h0M110.9 709.9h0M55.4 700.8h0M134.2 697.7h0M140.2 674.2h0M53.3 645h0M54.2 715.9h0M281.5 633.8h0M198.5 658.3h0M98.6 701.2h0M146.5 684.6h0M275.5 705.7h0M257.2 722.5h0M244.4 675.9h0M136.4 705.2h0M160.4 666.3h0M204.4 675.4h0M57 711.1h0M175.4 652.7h0M107.4 646.1h0M252.9 699.3h0M57.9 688.4h0M205 717.2h0M250.6 699.6h0M96.9 691.4h0M256.7 670.8h0M251.1 680.8h0M46.9 672.4h0M211.7 694.7h0M42.8 677h0M162.9 682.8h0M147 711.8h0M91.1 683.8h0M120.2 699.5h0M235.3 693.6h0M118.2 692.6h0M78.2 632.8h0M209.6 693.1h0M149.8 680.7h0M233.6 692.7h0M98.8 618.8h0M119 689.8h0M233.8 651.8h0M163.8 703.3h0M163.6 677h0M99 684.3h0M46 695.8h0M265.7 683.3h0M63 690.9h0M244.6 720.6h0M130.5 658.1h0M270 683.7h0M138 687h0M266.5 661.4h0M175.5 676.6h0M99.9 731.4h0M219.8 667.5h0M203.8 681.9h0M206.2 668.3h0M153.4 649.3h0M95.6 700.2h0M195.8 676.2h0M68.1 693h0M208.1 719.3h0M194.5 624.2h0M132.6 681.6h0M233.5 677.2h0M88.9 696.6h0M135.9 703.7h0M233.4 644.3h0M133.5 718.4h0M213.1 694.9h0M189 698.8h0M267.6 649.3h0M279.7 686.7h0M236 632.3h0M79.1 691.3h0M213 672.3h0M245.3 690.1h0M138.5 702.9h0M174.8 675.4h0M157.2 680.5h0M271.8 705.8h0M118.4 674.5h0M138.7 658.9h0M42.7 680.5h0M143 655.2h0M193.5 671.7h0M266.1 686.5h0M263.4 669.9h0M279 666.4h0M87.4 698.4h0M239.4 660.3h0M80.1 672.2h0M139.4 691.5h0M60.1 714.5h0M247.7 687.9h0M240.7 707.4h0M75.9 652.8h0M168.6 672.7h0M104.2 696.2h0M160.1 641.5h0M174.8 667.5h0M67.9 657.8h0M249.3 681.2h0M109.2 663.7h0M149.5 691.4h0M56.2 698.7h0M43.2 693h0M89.2 677.9h0M124.2 651.6h0M264.5 648.9h0M255.3 682.3h0M157.4 716.5h0M151.3 668.4h0M202 716.5h0M247.9 667.4h0M123.2 708.2h0M232.3 670.3h0M137.9 612.5h0M184.6 652.5h0M218.9 680.6h0M162.4 692.3h0M207.7 697.1h0M209.3 661.2h0M43.9 668.4h0M51.8 722.6h0M78.1 710.8h0M93.6 674.9h0M54.2 669h0M94.5 681h0M186.2 685.7h0M254.4 669.9h0M126.1 658.2h0M130.1 685.1h0M142.2 711.2h0M205.2 645.8h0M230.3 678.2h0M267.6 666.8h0M132.4 634.8h0M211.6 702.2h0M124.2 719.3h0M239.6 706.8h0M97.7 680h0M250.8 686.5h0M163.3 684.7h0M216 697.6h0M170.5 676.3h0M118.1 683.2h0M160.7 682.8h0M54.6 656.9h0M52.8 656.9h0M169.3 674.2h0M156.6 626.7h0M241.8 637.2h0M47.3 638.2h0M175.7 704.2h0M159.9 614.5h0M185.5 676.5h0M217 722.2h0M168 674.8h0M177.2 697.2h0M160.1 664.4h0M189.7 693.1h0M101.9 703.6h0M174.7 687.9h0M203.3 687.8h0M88.2 670.1h0M279.4 695h0M221.1 706h0M271 658h0M112.8 713.7h0M148.6 679.4h0M105 693.8h0M53.7 723.6h0M46.5 675h0M101.5 694.4h0M248.5 654.9h0M81.7 693.4h0M207.5 683.5h0M102.2 675.7h0M58.2 662.9h0M88.5 673.6h0M204.7 666.2h0M162.5 701.7h0M173.8 703.9h0M150.9 689h0M108.1 718.7h0M159.3 704.2h0M263.1 716.8h0M90.7 673.9h0M217.8 629.7h0M102.6 678.1h0M88.8 705.7h0M120 737.4h0M64.7 646.4h0M266.2 647.1h0M129.8 691.7h0M84.6 684.6h0M42.5 677.8h0M57 676.1h0M93.8 685h0M142.4 697.5h0M186.4 709.8h0M277.2 647.8h0M255.5 700.3h0M100.4 665.3h0M188.8 700.3h0M262.9 657.9h0M66.8 663.3h0M246.8 658.2h0M137.2 672.9h0M229.5 671.2h0M119.7 610.6h0M192.2 656.7h0M163.8 664h0M67.5 706.2h0M224.2 678.7h0M239.3 664.4h0M158 641.5h0M135.3 661h0M269.1 710.2h0M132 651.8h0M252.9 668h0M142.6 686.3h0M131.8 702.1h0M129 686.3h0M56.9 692.5h0M108.8 695.3h0M97.4 681.5h0M57.4 675.1h0M172 670.8h0M148.3 693.3h0M48.5 694.4h0M79.8 680.6h0M262.3 669.1h0M74.5 653.7h0M131.8 716h0M269.9 646.5h0M69.6 671.3h0M140.5 696.4h0M234.1 670h0M47.1 699.6h0M58.7 666h0M264.9 621.9h0M206.2 655h0M104.9 649h0M157.4 690.3h0M102 639.4h0M256 683h0M269.7 648.9h0M59.5 710.9h0M167.9 693.9h0M86.5 718.7h0M139.2 697.4h0M219.8 686.5h0M213.1 611.7h0M87.9 671.6h0M122 669.9h0M144.2 716.9h0M134.9 697.8h0M205.7 622.4h0M231.1 688.8h0M122.7 638.1h0M148 651.5h0M58.6 701h0M130.2 675.8h0M269 663.8h0M162.6 667.8h0M175.8 644.7h0M187.5 673.3h0M178.2 661.6h0M234.9 649.9h0M104.6 700.8h0M118.2 665.9h0M254.6 716h0M162.1 677.2h0M272.1 646.7h0M75.7 671.7h0M229.8 672h0M155.6 680.1h0M155.8 669.5h0M253.3 694.1h0M73.8 669.9h0M165.6 633.6h0M102.2 722.2h0M124.5 707.2h0M238 692.4h0M137.7 707.9h0M230.1 682.5h0M45.7 670.9h0M281.5 738.4h0M271 734.4h0M204.8 658.7h0M89.6 727.9h0M199.6 678.6h0M88 670.3h0M131.8 643.2h0M50.9 669.2h0M59.3 654.9h0M80.2 730h0M86 691.1h0M243.1 719.9h0M100.9 659.7h0M239.9 684.5h0M44 665.9h0M56.3 672.3h0M57.1 676.6h0M265.3 716.3h0M238 659.7h0M46.2 615h0M265.3 682.3h0M96.7 721.5h0M105.8 672h0M182.3 698.4h0M91.5 665.2h0M275.7 658.5h0M130.1 675.3h0M179.1 688.6h0M179.4 680h0M109.9 667.1h0M218.2 680.8h0M279.9 689.3h0M185 694.3h0M62.5 698.1h0M235.8 647.4h0M202 694.8h0M159.7 660.7h0M199 665.7h0M105 689.3h0M115.2 672.4h0M165.8 699.4h0M58.9 706.5h0M183.1 700h0M86.1 677.5h0M103.2 675.1h0M257.8 683h0M183.1 696.7h0M100.8 698.1h0M209.7 711.7h0M280.9 687.5h0M257.2 697.2h0M233.6 668.3h0M122 680.1h0M182 662.1h0M182.4 688.9h0M63.7 649.7h0M208.2 738.6h0M167.2 657.6h0M167.3 692h0M218.9 666.7h0M61 702.9h0M93.4 680.6h0M278.8 692.4h0M114.2 690.1h0M103.6 713.6h0M59.7 695.4h0M117.2 677.9h0M176.6 671.3h0M51.9 693.2h0M111.6 687.8h0M103.8 661.2h0M79.3 663.1h0M231.9 639.9h0M272.7 683.4h0M261.5 612.3h0M58.4 690.9h0M126 665.8h0M168 708.7h0M133.5 682.6h0M217.4 719.9h0M220.3 677.8h0M257 720.2h0M154.7 679.7h0M99.5 683.8h0M260.4 691.6h0M254 681.1h0M72.8 689.4h0M93.1 681.3h0M200.4 678.2h0M238.8 705.6h0M272.2 678.8h0M47.6 692h0M87.8 712.9h0M143.7 721.2h0M174.3 693.1h0M228.7 702.5h0M175.7 679.2h0M166.6 721h0M99.7 681.5h0M198 693.2h0M181.8 685.4h0M268.7 691.4h0M87.9 705.2h0M72.3 708h0M127.1 667.7h0M120.4 672.6h0M150.9 647h0M83.5 689.4h0M211.6 691.2h0M239.3 680.7h0M44 700h0M260.2 720.2h0M64.2 688.2h0M115.8 695h0M158.8 665.3h0M143.9 684.4h0M94 679.6h0M217 700.2h0M243.2 702.3h0M96.9 659h0M81.9 669.7h0M166.6 693.1h0M78 668.4h0M267.3 681.8h0M246.1 675.6h0M242.2 685h0M141 707.5h0M230.7 701.1h0M136.2 701.1h0M152 717.5h0M67.9 664.8h0M51.5 697.6h0M202.9 687h0M88.7 699.6h0M271.3 692.8h0M177.6 715.1h0M180.4 661.4h0M256.5 696.8h0M113.7 710.1h0M45.1 661.5h0M95.1 714.8h0M152 670.8h0M78.8 673.9h0M109.6 670h0M218.9 670.7h0M132.7 680h0M124.2 664.7h0M98.4 647.5h0M169.6 618.7h0M280.6 661.8h0M82.9 687h0M244.3 717.1h0M227.8 678.6h0M186.3 708.9h0M172.4 681.1h0M166.9 674.8h0M67.1 672.1h0M178.6 696.1h0M279.1 686.9h0M216.9 698.4h0M154.1 629.9h0M148.4 685.6h0M250.6 672.3h0M44 643.5h0M90.3 663.3h0M271.5 682h0M198.8 684.3h0M240.5 708.8h0M170.2 665.7h0M52.4 700.3h0M170.8 658.1h0M193.2 711h0M63.7 657h0M157.5 680.5h0M268 696.9h0M57.4 711.2h0M53.5 694.5h0M67.2 634h0M205.7 688.2h0M256.1 657.3h0M79.9 720.5h0M244.6 691.3h0M95.6 714.2h0M171.3 667h0M225.2 713.4h0M70.6 710.6h0M156.7 662.3h0M249.8 646.9h0M127.4 717.1h0M233.2 690.6h0M151.2 675.3h0M268.1 688.3h0M138.3 663.4h0M239.3 714.3h0M60.6 717.6h0M123.6 708.7h0M77.3 665.8h0M139.1 680.6h0M139.5 647.8h0M100 693.8h0M142.7 654.9h0M205.5 690.1h0M180.7 661.9h0M100.7 696.3h0M212.7 619.1h0M212.1 702.8h0M143.4 675.6h0M152.4 695.3h0M83.9 684.4h0M242.2 709h0M127.8 630.3h0M112.6 693.2h0M264.6 681.2h0M115.6 685.1h0M89.9 712.1h0M134 677.5h0M165.9 737.4h0M189.4 683.3h0M137.8 693h0M206.2 721.5h0M48 665h0M264.1 669.8h0M152.8 696.3h0M149.8 630.4h0M149.4 694.9h0M108.5 670.8h0M237.4 691.4h0M150.8 667.2h0M65.4 658.9h0M126.3 662.9h0M158.5 674.8h0M128.5 664.7h0M67 686.5h0M255.1 686.3h0M216.9 691.7h0M144 655h0M161 691.6h0M204.5 689h0M46.6 683.9h0M159.6 670.6h0M152.3 666.5h0M145.1 670.6h0M42.8 697.6h0M45.2 633h0M159.7 680.2h0M151.5 698.3h0M122.6 691.3h0M70.3 637.6h0M129.5 676.7h0M203.5 673.4h0M238.5 660.6h0M225.3 599.8h0M42.9 690.4h0M123.5 703.3h0M159.5 699.8h0M237.3 689.2h0M177.6 650.4h0M234.3 672.6h0M207.4 650.2h0M59.8 682.3h0M277.2 690.4h0M175.9 671.6h0M186.9 689h0M104.5 705.3h0M258.5 630.5h0M281.3 705h0M124.5 690h0M159.5 671h0M57.6 680.2h0M225.1 696.1h0M196.4 677.1h0M98.4 653.9h0M241 687.2h0M173.4 668h0M264.7 675h0M238.7 663.5h0M66.6 689h0M99.3 693.8h0M245.4 728.2h0M50.1 698.1h0M73.7 689.2h0M262.4 717.5h0M236.4 695.8h0M103.5 681.4h0M123.5 685.2h0M51.6 664.4h0M72.8 665.2h0M45.2 701.9h0M182.9 664.3h0M188.5 643.4h0M76.9 652.9h0M241.8 691.3h0M159.1 678.8h0M185.9 703.8h0M201 663.7h0M91.6 692.7h0M234.7 674.7h0M140.8 689.7h0M161.6 685.6h0M72.7 685.1h0M103.5 707.3h0M215.8 692.9h0M176.5 621.3h0M223.6 657.6h0M138.8 654.6h0M46.3 679.1h0M176.8 708.5h0M268.3 687.2h0M51.6 651.8h0M153.2 695.3h0M199 655.9h0M159.5 726.8h0M67.3 703.3h0M165.4 637h0M61.6 717.2h0M59.3 625.9h0M123.4 684.7h0M84.9 642h0M163.1 706.9h0M268.4 691.4h0M93.9 664.8h0M126.1 655h0M242.4 665.3h0M167.5 702.2h0M229.2 629.3h0M249.5 703.9h0M243.9 701.9h0M77.8 659.8h0M255.7 714.3h0M71.2 678.4h0M218.2 683.6h0M53.4 697h0M114.3 711.4h0M74.1 679h0M191.2 682.9h0M117.8 680.5h0M178 695.3h0M94.8 694.5h0M138 676.5h0M258.1 694.3h0M185.4 686.2h0M158.9 694.1h0M216.1 697.5h0M279.9 686.3h0M122.4 676.3h0M68.7 721h0M100.1 652.2h0M79.9 690.6h0M139.4 669.6h0M220 675h0M225.8 663.5h0M68.3 682.7h0M81.3 703.1h0M128.6 689.1h0M244.5 654.7h0M158.2 680.2h0M171.5 658h0M112.1 658.7h0M174 693.4h0M187.3 679.6h0M122.9 711.3h0M186.4 657.4h0M222.9 728.3h0M127.2 686.6h0M151.6 663h0M73.7 725.1h0M104.5 667.4h0M52.2 703.4h0M56 669h0M62.7 695.3h0M257.2 714.9h0M217.7 713.9h0M182.5 673.8h0M233.5 715.4h0M84.6 673.5h0M126.7 585.2h0M181.7 708.3h0M247 699h0M171.8 680.5h0M72.5 664.6h0M53.1 651.4h0M50.9 673.9h0M223.4 706.5h0M256.4 673.3h0M77.3 670.8h0M236.2 695.4h0M52.5 667.9h0M242.3 630.5h0M155.7 658.4h0M156.6 662.8h0M95 674.6h0M265.1 676h0M107.6 727.5h0M105.8 673.9h0M227 668.8h0M180.5 692.2h0M166.1 738.6h0M179.1 680.1h0M68.9 657.7h0M68.6 682.2h0M276.6 702.6h0M210.6 683.4h0M189.5 693.7h0M176.6 635.4h0M98.7 698.5h0M80 720.9h0M182.2 684.6h0M44.9 661.8h0M49.1 684.2h0M124.6 669.3h0M182.6 696.9h0M264.9 700.9h0M150.8 679h0M115.6 693.6h0M270.9 714.2h0M113.6 699.6h0M157.6 688.6h0M156.7 699.2h0M53 693.3h0M67.8 690.5h0M44.5 684.1h0M232.4 688.4h0M133.3 682.2h0M205.3 718.7h0M149.2 689.6h0M161 654.1h0M249.2 686.6h0M136.9 730.8h0M66.8 695.3h0M202.5 674.2h0M49.6 688.1h0M165.8 682.8h0M130.7 710.8h0M144.5 669.9h0M216.6 683.6h0M243.2 669.8h0M272.7 668.6h0M229 638.8h0M238.6 701.6h0M266.6 654.8h0M134.5 715.9h0M124.6 684.6h0M49.1 676.3h0M151 693.8h0M56 706.6h0M93.7 661.6h0M141.2 688.2h0M141 711.1h0M225.5 689.4h0M153.4 669h0M211.5 699.8h0M48 679.5h0M215 722.2h0M224.7 621.4h0M45.5 714.4h0M126.4 698.4h0M194.7 666.3h0M75.4 707.8h0M235.3 686.9h0M275.1 663.9h0M229.9 649.4h0M190.7 693h0M229.9 700.6h0M267 692.9h0M271 681.6h0M122.1 711.8h0M197.3 665.3h0M65.1 681.2h0M261.4 694h0M56.4 666.8h0M111.2 682.6h0M179.6 728.4h0M95.9 636.6h0M143.2 621.5h0M126.4 683.1h0M201.9 695.4h0M166.4 641.9h0M241 643.1h0M191.1 669.8h0M214.9 712.7h0M46.4 658.2h0M204.1 656.4h0M260.2 655.2h0M75 685.3h0M229.9 679.8h0M230.2 608.9h0M62.5 713.9h0M189.6 690.9h0M117 663h0M131 670h0M280.3 712.6h0M179 648.2h0M156.6 656.9h0M233.2 692.3h0M136 699h0M73.5 661.2h0M277 684h0M81.1 691.1h0M258 679.4h0M276.1 665.6h0M154.6 686.7h0M71.3 666.2h0M152.6 706.5h0M172.4 676.5h0M230.7 663.7h0M281.5 675.4h0M101.1 702h0M50.7 690h0M277.3 708h0M43 699.4h0M272.8 683h0M256.1 673.9h0M257.7 737.9h0M138.8 694.7h0M90.4 669.2h0M185.5 586h0M146 665.1h0M212.3 700.3h0M88.4 668.9h0M155 699.9h0M260.9 656.6h0M183.4 658.4h0M264.5 685.1h0M222 695.1h0M74.7 683.7h0M196.9 677.9h0M86.7 686.1h0M59.6 687.5h0M186.9 717.4h0M44.6 706.9h0M55.1 728.6h0M135.9 677.8h0M85.8 726.2h0M201.5 687.5h0M109 695.8h0M100.3 693h0M174.4 693.3h0M168 607.7h0M244.8 703h0M238.8 712.3h0M265.9 689.3h0M69.1 739h0M56 690.9h0M222.3 711h0M138.3 683.4h0M55.2 674.1h0M169.3 666.7h0M119.2 641.2h0M93.7 677.8h0M201.5 682.3h0M218.1 670.2h0M104.8 726h0M201.8 679.5h0M96.5 694.6h0M254.3 654.7h0M137.8 720.4h0M155.7 697.4h0M82.7 696.1h0M153.6 678.5h0M108.8 640.8h0M230 658.7h0M74.9 694.4h0M170.2 702.8h0M139.2 657.3h0M260.8 672.2h0M199.1 683.5h0M177.1 671.1h0M77.5 687.5h0M67.4 695.5h0M187.3 685.5h0M262.7 685.5h0M62.1 708.6h0M143.4 692.8h0M131 681.7h0M47.8 670.7h0M191.8 705.4h0M153.3 690.5h0M157.9 688.3h0M241 679.1h0M191.5 698h0M99.9 715.2h0M272.3 661.8h0M263.6 684.5h0M208.2 673.4h0M71.8 678.9h0M193.9 649.2h0M42.9 681.3h0M111 693.6h0M146.6 728.3h0M152.8 677.5h0M231.1 663.8h0M176.2 663.3h0M197.4 716.9h0M150.1 728.9h0M217.4 650.4h0M87.3 680h0M257.3 676.6h0M243.4 638h0M260.8 731.3h0M270.1 663.7h0M229.8 685.2h0M112 681.1h0M261.3 694.2h0M236.5 676.5h0M155.5 672.2h0M66 693.3h0M275.6 657.9h0M93.6 690.6h0M83.9 680.6h0M175.1 651.9h0M248.1 730.6h0M107.1 657.2h0M92.5 706.4h0M230.2 690.6h0M177.9 699.7h0M178.3 720h0M184.9 629.2h0M236 668.3h0M229.2 675.4h0M105.8 662.8h0M129.3 713.5h0M281.3 707.6h0M242.9 679.7h0M171.8 697h0M119.1 682.2h0M257.8 673h0M110.2 677h0M153.2 631.9h0M184.5 706.5h0M226 677.9h0M211.6 677.3h0M206.8 694.2h0M92.1 684.7h0M123.5 653.8h0M221.9 644.1h0M180.6 665.3h0M260.8 704.5h0M59.3 703h0M277.9 696.7h0M160.6 677.9h0M113.3 727.1h0M66.5 700.9h0M58.9 694.5h0M279.7 739.2h0M230.7 667.1h0M276.6 702.5h0M245.2 657h0M145.5 720.4h0M88.5 731.7h0M170.9 721.9h0M99.8 690.5h0M80.6 667.4h0M175.4 668.6h0M179 740h0M278 639.9h0M234.8 676.8h0M83.6 723.2h0M176.1 656.5h0M211.7 709h0M279.1 668.4h0M174 661.8h0M154.7 672.4h0M45 706h0M146.6 710.6h0M248.9 663.1h0M56.5 710.6h0M168.1 698.5h0M269.9 658.3h0M46.5 728.2h0M115.9 699.2h0M89.1 707.4h0M277.3 661.1h0M233.5 679.4h0M106.7 669.6h0M134.9 709h0M204 666.7h0M48.5 703h0M82.4 652.5h0M231.3 696h0M115.6 688.5h0M99.2 666.8h0M260.3 671.3h0M214.9 665.7h0M247.6 696.2h0M229.8 702.8h0M165.3 659.4h0M86.7 698.5h0M208.8 719.6h0M173.6 702.6h0M217 655.3h0M203.9 671.4h0M231.3 674.7h0M55.7 691h0M81.9 665.4h0M253.7 678.2h0M206.4 679h0M249.9 651.7h0M56 698.9h0M167.2 712.2h0M45.5 664.8h0M80.2 670.7h0M53.8 714.6h0M87.8 675.6h0M104 721.9h0M59.8 670.9h0M197.8 701.7h0M182.4 678.2h0M206.4 701.9h0M276.3 656.8h0M109.9 721h0M100.7 661h0M115.4 725.6h0M237.3 677.9h0M198.9 704.9h0M222 647.3h0M98.9 673.8h0M74.5 675h0M155.6 714.5h0M258.7 694.9h0M104.5 734.5h0M224.9 687.6h0M210.5 715h0M130.1 691.2h0M209.9 665.9h0M262.7 717.9h0M93 672.5h0M104.8 715.7h0M135.8 697.4h0M89.8 681.4h0M138.4 665.3h0M217.6 721.9h0M247.3 719.3h0M201.4 682.4h0M172.1 633.9h0M262.8 646.7h0M87.2 663.5h0M209.2 669.8h0M133.3 636h0M266.4 678.2h0M89.1 685.2h0M103.5 669.4h0M69.9 683.5h0M151.3 688.4h0M207.2 669h0M112.3 698.5h0M257.1 656h0M234 675.5h0M107.3 678.7h0M186.9 716.6h0M199.5 682.3h0M75.2 694.8h0M197.7 703.2h0M192.2 693.6h0M250.9 686.5h0M113.6 639.2h0M75.4 713.9h0M172.6 701.8h0M247.7 711.9h0M71.3 687.8h0M92 704.1h0M67.6 692.7h0M278.7 648.6h0M224.4 661.6h0M64.7 700.4h0M245.3 657h0M147 712h0M48.3 692.3h0M57.1 691.5h0M101.9 697.8h0M51.7 696.7h0M82.8 684.4h0M57.7 710.4h0M76.3 683.3h0M66.1 661.6h0M144.1 679.2h0M240.1 667.6h0M229.9 656.2h0M169.2 659h0M57.4 687.7h0M269.2 658.3h0M58.3 661.1h0M45.5 685.4h0M221.6 714h0M192.2 677.2h0M223.8 652.2h0M108.2 658.3h0M256.1 657.4h0M251 674.3h0M53.1 705.8h0M271.3 720.3h0M226.4 644.5h0M246.7 661.1h0M157.1 697.8h0M232.7 681.9h0M260.5 701.6h0M257.1 657.2h0M108.7 661.8h0M83.4 729.4h0M197.6 641.4h0M148.9 640.8h0M248 707h0M150.5 670.6h0M80.5 660.3h0M132.2 699.8h0M272.7 704.7h0M209.5 674.9h0M82.7 701.1h0M87.4 686h0M135 691.3h0M267.5 658.7h0M166.1 705.3h0M107 719.9h0M93.1 664.2h0M101.7 692.8h0M170.7 716.2h0M93.4 686.4h0M67.8 695h0M239.2 667.5h0M199.2 693.7h0M184.9 715.5h0M103.6 655.2h0M143 703.1h0M252.8 661.4h0M105.2 696.7h0M145.9 648.5h0M65.9 727.5h0M135.7 671.9h0M62.8 724.2h0M226.8 708.9h0M281.3 669.5h0M60.5 672.3h0M128.7 697.2h0M270.2 706.4h0M71.4 685.9h0M236.4 640.6h0M68.9 695.3h0M152.9 682.5h0M229.9 663.5h0M231.3 676h0M234.7 657.6h0M120 686.4h0M171.6 652.1h0M73.4 733.3h0M280.2 678.6h0M218 662.8h0M136.5 694.5h0M160.7 695.2h0M182 635.6h0M128.3 670.3h0M121.6 702.4h0M259.6 644.7h0M80.6 662h0M269.8 664.5h0M173.8 674.5h0M152.7 646.4h0M155 674.1h0M46 718.3h0M120.3 720.1h0M152.7 635.4h0M53.7 691.2h0M45.4 679.7h0M44 659.8h0M190.5 680.7h0M44.2 660.9h0M270.4 645h0M192.2 682.4h0M214.3 690.1h0M52.5 705.2h0M164.1 688.5h0M92 681.1h0M262.6 655.9h0M127.5 703.7h0M90.1 645.3h0M145.4 680.8h0M119.7 651.6h0M77 700.2h0M229 711.9h0M94.5 681.1h0M259.8 728.2h0M218.7 690.1h0M248.6 714.8h0M216.8 712.1h0M254.2 670.7h0M271.4 666.1h0M45.1 686.1h0M104.3 718.5h0M259.1 694.3h0M172.9 643h0M262.9 693.8h0M153.1 700.6h0M124.2 658.8h0M241.7 663.4h0M105.5 668.1h0M139.9 703.8h0M240.2 681.2h0M135.9 676.1h0M199.3 673.4h0M78.8 657.4h0M92.7 711.2h0M277 689.8h0M88.7 689.4h0M81.9 667.6h0M46.4 685.3h0M60.9 700.1h0M138.1 716.3h0M189.8 663.8h0M253.4 692.6h0M278.8 687.6h0M127.4 678.2h0M161.3 683.4h0M138.8 663h0M153.2 694.2h0M247 659.8h0M141.4 626.1h0M220.3 698.3h0M247.4 612.9h0M140.2 721.1h0M124 689.4h0M64.2 668.4h0M233.7 676.3h0M194.2 712.7h0M108.5 675.7h0M210.7 643.2h0M96 679.2h0M267.8 672.6h0M120.4 684.7h0M187 672.3h0M151.3 686h0M122.1 686.9h0M255.7 715.4h0M118 646.8h0M232.1 706.3h0M222.7 637h0M69.2 711.3h0M240.7 702.2h0M132.3 693.6h0M130.6 675.2h0M149 677.8h0M138.2 624.4h0M143.3 669.3h0M223 682.2h0M116.9 688.3h0M80.4 708.6h0M223.4 713.1h0M145.2 656h0M171.2 683.3h0M83.8 729.3h0M203.9 689.8h0M189.3 695.9h0M194.6 678.7h0M265.2 715.3h0M60.4 657.3h0M166.8 718h0M53.6 711.8h0M130.4 685.5h0M196.4 647h0M237.1 593.4h0M108.8 696.5h0M256.8 686.7h0M262.8 666.5h0M262.8 710.7h0M147.2 673.1h0M192.1 655.3h0M156.4 684.9h0M58.8 704.6h0M108 653.5h0M242.8 666.5h0M85.9 666.4h0M148.9 696.7h0M203.8 663.1h0M141.1 642.5h0M182.1 714.4h0M177.7 653.4h0M73.3 689h0M51.9 694.8h0M167.7 698h0M194.2 725.3h0M175.8 673.9h0M275.7 666.5h0M79 682.7h0M63.2 647.7h0M242.2 693.6h0M255.8 689.5h0M274.3 682.8h0M256.1 701.1h0M137.6 688h0M178.3 687.9h0M195 687.1h0M179 690.3h0M143 678.2h0M240.3 663.8h0M227 676.5h0M50 690.5h0M261.3 681.8h0M143.2 654.3h0M217.3 683.6h0M274.5 649.2h0M198.1 705.4h0M105.7 669.3h0M187.6 692.7h0M145.5 665h0M86.1 706.1h0M79.1 695.7h0M225.9 653.6h0M145.4 699.5h0M147.5 700.7h0M127.9 683.2h0M188.5 692.7h0M192.4 691.8h0M232.3 707.6h0M115.1 691.2h0M186.6 639h0M164 678.7h0M65.3 682.1h0M248.5 717.3h0M188.3 664.7h0M158.1 693.1h0M166.4 680.7h0M167.8 681.3h0M140.7 671.8h0M239.8 685.2h0M132.7 648.7h0M224 699.3h0M45.4 689.5h0M118.6 686.9h0M220.4 697.5h0M199.1 677.6h0M65.5 686.8h0M128.2 697.3h0M148.2 690.6h0M237.3 687.4h0M68.6 645.1h0M79.1 669.4h0M114.7 607.1h0M139.6 696.1h0M211.4 678.6h0M136.8 623.3h0M214.4 620h0M97.2 688.8h0M129.1 668.2h0M227.6 691.5h0M146.3 701.5h0M164.2 720.3h0M144 663.8h0M65 662.2h0M163.9 700.7h0M53.4 725.8h0M80.3 691.1h0M218.2 660.2h0M220.3 666.2h0M274.6 666.9h0M221.7 678.6h0M137.8 647.1h0M91.6 699.5h0M92.4 670.9h0M103.4 659.8h0M261 688.1h0M145.1 699.4h0M168.4 679.8h0M166.1 633.7h0M70.3 692.6h0M187.2 692.5h0M43.7 702.5h0M194.9 678.6h0M97.8 674.1h0M272.1 673h0M193.2 718.8h0M161.2 704.6h0M70.7 659.6h0M108.1 691h0M109.3 686.2h0M265.3 676.1h0M166 656.8h0M164.7 701.7h0M155.6 738.2h0M127.1 685.1h0M202.3 675.8h0M154.2 674.4h0M176.8 684.6h0M212.9 690.7h0M196.9 676.1h0M84.8 732.9h0M260 692.4h0M83.4 661.2h0M177.4 676h0M262 672.7h0M277.8 658.7h0M127.6 703.1h0M175.1 673.6h0M197.7 683.7h0M98.5 718.8h0M141.6 685.7h0M186.8 684.9h0M92.3 679.3h0M223.5 676.9h0M281 674.8h0M43.5 702.5h0M280.9 661.9h0M159.8 687.5h0M231.9 689.3h0M161.1 678.8h0M154.2 663.9h0M61.4 693.8h0M107.2 643.3h0M51.8 668.1h0M171.9 669.5h0M200.4 703.1h0M138.8 646.8h0M257.4 680.4h0M270.8 687.3h0M100.8 693.4h0M121.2 679.3h0M90.2 682h0M94.3 715h0M204.9 686.5h0M225.5 711.3h0M274.4 671.1h0M166.6 674.9h0M139.4 682.6h0M269.1 709.5h0M54.7 690.2h0M167.8 673.8h0M113.9 666.8h0M217.5 669.9h0M120.6 687.9h0M73.4 718.2h0M270.3 702h0M272.2 695.9h0M265 681.2h0M81.2 695.7h0M119.5 685.2h0M133.1 689.3h0M139.7 696.5h0M168.2 681.1h0M238.8 686.8h0M281.2 618.4h0M223.2 669.7h0M225.5 695.4h0M154.9 664h0M113.8 720.8h0M275 643.7h0M136.8 646h0M273.2 712.8h0M220.6 674h0M121.4 686h0M91.7 708.4h0M214.5 681.4h0M202.4 673.8h0M180.4 709.7h0M172.1 660.8h0M108.4 716.3h0M261.2 671.5h0M164.3 660.7h0M261.7 665.3h0M235.1 689.6h0M221.2 680.8h0M82.2 703.5h0M76.2 679.7h0M130.3 679.2h0M270.2 688.3h0M73.7 603.8h0M56.7 685.1h0M90.3 653.3h0M103.1 691.8h0M184 699.8h0M71.9 689.7h0M224.3 705.5h0M181.9 647.9h0M185.8 669.6h0M123.6 726.1h0M269.2 669.1h0M152.6 670.2h0M199.8 704.4h0M231.1 700.9h0M132 659.8h0M239.3 625.6h0M52.7 674.3h0M170.2 697.2h0M167.8 686.4h0M63.8 682.5h0M178.8 662.8h0M277.3 689.1h0M207.9 684.8h0M119.1 700.2h0M187.2 683.6h0M228.9 653h0M222.5 673.1h0M221.4 654.7h0M234.9 717.7h0M139.1 725.9h0M221.4 694.2h0M159.4 709.9h0M126.4 688.5h0M148.6 680.8h0M275.5 669.8h0M217.2 661.4h0M160.7 701.3h0M278 687.4h0M197.9 724.2h0M178.1 691.1h0M198.3 701.3h0M145.4 691.9h0M52.6 722.4h0M146.2 732.5h0M102 675.6h0M267.8 695.9h0M216.5 601h0M70.8 665.6h0M85.6 672.9h0M52.1 688.8h0M231.8 663.1h0M219.5 675.9h0M121.8 711.8h0M83.3 715.8h0M104.9 701h0M184.3 658.3h0M74.6 681.1h0M50.8 638.9h0M111.3 696.4h0M281.6 691.4h0M75.6 653.3h0M202.8 666.4h0M266 669.1h0M254.7 684.4h0M196.9 695.6h0M154.2 674.7h0M218.7 626.9h0M251.6 646.3h0M134.3 676.3h0M175.8 707.3h0M170.2 683.5h0M45.2 693.1h0M250 653.6h0M244.5 687.1h0M251.6 672.7h0M83 739.1h0M99.2 682.2h0M161.2 706.6h0M114 672.7h0M80.5 689.1h0M44.2 644.9h0M83.6 687.2h0M83 650.2h0M162.9 656.8h0M256.2 680.5h0M55.9 686.3h0M53.1 726.9h0M275.6 655.8h0M44.9 694h0M89.4 689.2h0M221 723.1h0M184.8 683.9h0M142.1 738.9h0M271.1 679.1h0M68.8 684.3h0M182.3 682.5h0M243.6 588.3h0M256.7 679.6h0M65.4 692h0M179.3 684.8h0M100.1 642.8h0M128.5 634.1h0M63.5 674.9h0M277.2 685.6h0M126.3 695.8h0M154.7 668.8h0M258.7 655.8h0M241.9 667.9h0M190.7 693.7h0M270.1 699.5h0M106.4 677.7h0M239 727.3h0M62.3 695.7h0M217.9 715.7h0M223.4 705.2h0M210.8 649.6h0M199 645.4h0M275.8 665.1h0M87.6 733.8h0M161.4 709.2h0M115.3 727.7h0M155.3 685.8h0M225 644.1h0M233.4 675.1h0M150.9 675.7h0M63.8 685h0M87.5 685.2h0M193.8 699h0M200 654.9h0M231.6 679.6h0M133.9 696.8h0M185.2 675.7h0M112 692.8h0M221.3 652.9h0M71.7 676.9h0M139.8 671.3h0M254.7 666h0M205.5 669.7h0M165.1 690.5h0M159.5 694.4h0M69.7 712.6h0M54.9 680.5h0M253.5 676.8h0M95.8 710.7h0M184.1 705.1h0M94 679.9h0M270.3 721.6h0M176.8 671h0M108.1 695.3h0M192.1 654.2h0M125.2 683.3h0M90.7 687.7h0M73.8 671.6h0M118.6 666.5h0M276.8 715.2h0M155.3 656.9h0M141.9 681h0M149.5 674h0M61.3 684.2h0M252 701.2h0M195.5 667.8h0M129.4 725.5h0M141 691.5h0M248.9 724.3h0M186.2 692h0M120.9 702.6h0M76.8 679.6h0M277.9 721.6h0M175.7 646.3h0M206.9 681.3h0M141.3 696h0M130.1 690.7h0M97.5 699.7h0M161.8 683.4h0M242.7 643.5h0M52.3 721.9h0M174.2 675.2h0M176.9 707.5h0M80.9 713.2h0M53.8 672h0M174 652.4h0M145.4 671.5h0M221.1 690.9h0M181.4 705.6h0M134.6 688.4h0M190 679.8h0M191.5 673.5h0M112.2 664.3h0M100.1 695.1h0M253.1 688.3h0M171.5 720.8h0M110.3 607.3h0M253.4 633.6h0M132.2 704.7h0M82.5 693.8h0M94 699.9h0M110.3 683.2h0M219 734.4h0M108 731.2h0M263.5 682.8h0M71.7 703.2h0M142.2 694.1h0M212.5 678h0M276 685.1h0M240.1 698.6h0M128.7 671.3h0M118.8 726.3h0M48.2 704.1h0M84.7 720.8h0M69.2 719h0M200.9 644.7h0M55 714.2h0M53.3 719.1h0M225.5 685.2h0M53.8 684.7h0M183.3 685.7h0M147 593.1h0M280.5 683.5h0M115 661.5h0M278.2 626.2h0M185.4 657h0M230 685.7h0M109.1 695.9h0M176.3 683.9h0M127.2 681.6h0M80.6 690.4h0M259.5 685h0M280.4 665.5h0M133.4 685.6h0M109.9 727.5h0M211.4 714.9h0M59 682.4h0M76.4 694.4h0M52.9 647.9h0M191.6 675.9h0M266.6 673.8h0M171.5 684.2h0M52.7 680.8h0M168.6 697.3h0M235.7 685.9h0M79.3 690h0M130.3 680.9h0M148.2 702.4h0M134.3 684.2h0M278.4 659.5h0M212.3 701.5h0M186.5 658.4h0M64 670.8h0M108.8 657.6h0M132.7 719.7h0M163.9 675.7h0M165.1 676.9h0M153.7 696.3h0M209.3 705.3h0M151.7 690.8h0M142.5 696.3h0M68.6 676.1h0M262.5 648.9h0M184.2 691.9h0M65.4 689.2h0M106.5 683.7h0M188.1 646.1h0M188 697.9h0M46.2 710.2h0M261.5 695.1h0M113.6 718.9h0M255.9 676.3h0M245 699.7h0M263.2 708.8h0M86.2 691.2h0M187.2 652.2h0M93.4 667.5h0M208 674.8h0M238.6 686.8h0M143.8 695h0M106.6 671.1h0M45.9 692.9h0M269.7 664.4h0M49.4 675.8h0M202.8 710.9h0M246.5 681.2h0M125.5 716.9h0M86.3 682.3h0M205.1 675.9h0M258.8 686.6h0M115.8 686.4h0M155.2 672.6h0M157.7 712.4h0M85.1 706.4h0M64.8 625.7h0M210.1 661.5h0M117.9 692.6h0M53.8 670.3h0M125 669.6h0M85.4 692.2h0M102.3 710.8h0M90.5 707.8h0M194.2 694.8h0M124 703.6h0M121.1 684.1h0M216.2 685.4h0M145.7 681.5h0M195.2 706.1h0M223.8 677.8h0M53.2 696.8h0M232.8 704.3h0M217.8 664.3h0M254.8 708.2h0M161.6 710.8h0M198.5 642.4h0M92.1 723.9h0M112.2 720.1h0M60.4 698.1h0M47 696.2h0M95.4 673.3h0M102.9 681.9h0M100.1 677.5h0M44.3 683h0M45.1 706h0M275.7 653.1h0M217.9 667.3h0M115.3 708.4h0M83.5 693.2h0M98.7 698h0M111.4 642.1h0M44.6 695.7h0M189.9 698.3h0M122.8 684.6h0M73.3 671.9h0M249.8 649.7h0M233.9 672.2h0M175.2 699.8h0M227.8 692.4h0M168.8 660h0M92.1 692.4h0M276.6 670.8h0M172.4 676.1h0M57 702.6h0M73.7 710.3h0M131.9 682.3h0M226.6 675.9h0M250.4 679.5h0M280.5 694.5h0M201.3 664.3h0M252.9 702.3h0M200.2 640.3h0M264.2 682.8h0M275.7 669.4h0M156 660.2h0M109.8 679.5h0M154 672h0M152.8 690.6h0M95.3 702.3h0M249.1 640.9h0M254.8 685.1h0M87.5 669.7h0M131.6 728.7h0M160.9 661.8h0M58.5 698.5h0M44.7 663.6h0M182.5 676.2h0M111.1 664.6h0M226.5 646.6h0M217.2 673h0M123.5 672.2h0M170 691.6h0M152.5 700.9h0M225.6 709.3h0M120.1 694.4h0M240.7 703.3h0M207.1 710.3h0M155.6 676.8h0M119 692.4h0M182.2 666h0M247.6 669.4h0M67.3 605.5h0M261.1 703.9h0M224.8 662.7h0M97 680.3h0M46 685.7h0M171.2 660.8h0M57.5 665.9h0M267 699.2h0M150.9 699.2h0M134.1 674.3h0M44.6 658.1h0M164.3 698.2h0M207.7 705.7h0M177.6 626.4h0M270.6 682.4h0M221 700.2h0M208.4 666h0M149.5 682.5h0M160.3 685.3h0M175.7 635.1h0M274 704.9h0M247 666.1h0M72.6 666h0M73.8 697.1h0M218.4 673.2h0M113 707.3h0M129.5 673.1h0M83.9 678.5h0M53.9 654h0M92 706.2h0M221.7 672.3h0M187.7 707.2h0M152 726.2h0M215.7 680.2h0M202.8 709.9h0M90.7 664.5h0M52.8 704.4h0M48.6 683.7h0M48.8 699.2h0M178 687.1h0M85.7 676.4h0M205.4 669.7h0M53.9 641.4h0M190.3 714.3h0M132.6 642.5h0M119.1 724.7h0M243.9 711.3h0M224.9 715.3h0M185 698h0M277.8 691.3h0M231.5 656.4h0M42.5 711h0M165.5 696.3h0M168.6 660.5h0M166.6 681.6h0M232.4 705h0M103.5 687.5h0M200.7 663.7h0M275.7 629.8h0M72 664.1h0M213.3 680.6h0M201.1 688.5h0M141.6 711.3h0M261.8 660.9h0M62.9 680.7h0M111 655.7h0M230 664.2h0M253.5 669h0M236.7 679.9h0M122.1 688.7h0M154.6 669.2h0M103.6 672.2h0M238.6 692.2h0M262.9 649.7h0M197.6 667.8h0M80.7 721h0M193 678.6h0M245.6 683.7h0M252.8 585.6h0M159.2 667.3h0M212 706.7h0M217.4 703.1h0M116.6 704.1h0M208.5 689.2h0M173.9 703.2h0M166.5 707.8h0M134.3 683.9h0M146.6 725.6h0M138.3 684.7h0M200.7 716.6h0M170.9 649.4h0M178.7 694.3h0M95.1 676.6h0M208.7 683.6h0M149.3 687.3h0M65 725.2h0M134.3 713.7h0M93.4 682.3h0M213 679.8h0M72.1 662.6h0M58.6 703.9h0M126.4 695h0M64.3 692.7h0M188.4 731.7h0M52.2 703.8h0M59.3 706.8h0M119.2 661.2h0M120.5 684.1h0M73.1 696.7h0M218 678.7h0M239.9 667.2h0M148.4 689.8h0M187 684.3h0M89.7 681.4h0M242.2 711.5h0M56.8 698.7h0M107.4 655.3h0M183.1 655.9h0M61.8 731.9h0M173.9 688h0M194.5 657.9h0M139.2 685.8h0M247.5 695.2h0M130.9 699.9h0M133.2 694.7h0M237 671.8h0M237.3 687.3h0M270.4 693.1h0M60.7 686.6h0M178.6 678.4h0M43.3 716.9h0M147.8 683.1h0M211.6 699.5h0M231 649.1h0M91.1 675.7h0M156.8 680h0M75.4 643.2h0M172.9 715.1h0M161.5 716.9h0M280.7 712.8h0M190.9 659.4h0M215.3 718.6h0M61.9 699.2h0M182.7 665.6h0M125.9 671.9h0M180.1 661.3h0M110.5 689.1h0M111.4 674.4h0M200.2 706.1h0M144.4 608.4h0M227.2 717.1h0M53.5 686.3h0M82.4 664.2h0M117.8 708.8h0M53.4 688.7h0M70.7 664.4h0M242 675.9h0M73.6 685.4h0M161.3 709h0M150.2 678.9h0M168.3 683.8h0M74.6 676.2h0M115.2 698.1h0M211.9 677.7h0M83.8 650.7h0M141.8 693.9h0M214.1 683.5h0M104.6 694.9h0M67.7 687.1h0M44.9 684.2h0M278.9 691h0M48 681.3h0M93.7 700.2h0M222.8 724.2h0M73 693.6h0M61.8 710.9h0M225.4 688.3h0M272.2 686.1h0M278.3 704.3h0M204.6 674.5h0M175.3 682.4h0M222.4 672h0M110.6 690.7h0M209 670.4h0M194.7 674.4h0M56.7 696.9h0M236.1 683.1h0M182.2 679.3h0M101.3 656.5h0M223.9 673.9h0M106.8 703.9h0M153.3 637.1h0M209.3 653.7h0M139.5 707.9h0M172 667.1h0M255.7 677.3h0M224.4 663.1h0M144.3 676.1h0M195.2 631.5h0M173.7 662.5h0M243.5 678.5h0M54.3 723.2h0M180.4 685.8h0M246.4 693.4h0M281 689.2h0M86.9 692.7h0M44.3 706.5h0M247.1 678.4h0M106 683.2h0M171.5 625.1h0M197.8 669.9h0M225.4 661h0M133.2 674.8h0M127.3 711h0M263.3 699.7h0M148.2 692.6h0M56.9 661.9h0M176.4 717.9h0M156.9 700.5h0M50.8 637.2h0M116.2 672.3h0M114 708.7h0M235.4 689.2h0M208.4 696h0M266.2 675.9h0M252.9 680.4h0M261.9 675.9h0M194 649.9h0M88.8 663.4h0M147 683.8h0M163.9 654.9h0M269.8 698.1h0M246.9 653.9h0M210 690h0M244 645.7h0M62.5 690.6h0M141.4 685.5h0M160.1 679.9h0M164.8 688.4h0M73.5 668h0M127.1 667.8h0M230.4 655h0M216.9 656h0M229 682.6h0M148.3 708.5h0M95.8 683.5h0M152.5 680.7h0M269.3 705.1h0M118.4 716.8h0M111.3 719.7h0M215.9 664.4h0M158.6 663.6h0M88.1 659.8h0M153.7 673.8h0M243.7 676.8h0M220.7 666.4h0M154.5 680.5h0M62.8 714.9h0M234.3 693h0M175.7 656h0M98 651.9h0M48.7 700.9h0M74 688.1h0M64 673.7h0M159.1 713.8h0M120.2 692.9h0M229.4 691.4h0M179.2 675.7h0M216.1 689.3h0M154.2 653.5h0M170.2 690.3h0M238.7 695.4h0M263.2 641.7h0M49.4 683.4h0M220.7 680.6h0M80.9 717h0M198.3 643h0M181.8 660.9h0M82.4 691.8h0M202.7 652.2h0M114.9 695.1h0M224.9 713.6h0M251.5 668.4h0M153.2 673.9h0M57.8 678.9h0M248.8 703.4h0M115.5 667h0M221.8 677.2h0M208 672.6h0M131.6 655.3h0M86.9 699.6h0M124.9 734.2h0M109.2 709.3h0M212.3 716.2h0M178.4 710.6h0M220.3 693.7h0M269 633.4h0M242.2 683h0M223.8 672.4h0M167.2 660.3h0M203.8 717.5h0M126.3 660.9h0M153.6 665.8h0M73.8 691.5h0M104.9 713.8h0M173.6 696.2h0M86.9 683.8h0M261 673.4h0M146.7 685.1h0M190.4 673.7h0M126.9 688.8h0M194.7 663.7h0M272.9 676.5h0M173.9 691.6h0M117.7 656h0M280.7 690h0M277.9 693.9h0M182.5 663.4h0M75.7 686.8h0M54.5 659.9h0M88.2 665.7h0M187.9 666.5h0M154.4 656.3h0M194.2 695.8h0M180.7 715.8h0M189.4 720.4h0M151.5 673.9h0M42.7 701.6h0M152.2 688.6h0M251.3 707.2h0M192.6 677.7h0M100.2 678.9h0M119.6 686.1h0M132.6 645.2h0M102.9 667.5h0M59 711.1h0M261.8 678.2h0M242 713h0M100.2 659.3h0M208.5 716.5h0M69.8 636.3h0M83.3 685.6h0M162.1 696.7h0M226.6 623.1h0M50.9 710.7h0M258.9 666.7h0M95 687.4h0M90.2 711.1h0M257.6 612.9h0M93.4 701.2h0M104.1 708.3h0M273 683.2h0M80.1 665.4h0M94.5 665.6h0M111.8 670.3h0M151.8 676.9h0M149.3 699.1h0M103.4 702.3h0M162 691h0M99.7 685.2h0M160.8 690.8h0M188.8 697.1h0M246.5 736.6h0M58.1 686.1h0M118.9 702.1h0M178.6 645.3h0M260.2 655.2h0M61.1 713.5h0M196.8 677h0M151.8 674.4h0M154.7 644.3h0M51.7 701.8h0M135.2 683.5h0M110.8 704.4h0M152 691.4h0M108.9 698h0M252.3 736.1h0M228.5 655.2h0M260 718.3h0M113.9 696.3h0M176.5 678h0M189.6 696.7h0M63.1 661.9h0M78.8 722.3h0M146.6 662.7h0M162 714.3h0M66.2 682.1h0M143.4 662.6h0M52.4 681h0M73.7 679.4h0M219.1 673h0M203.3 641.4h0M247.6 660.7h0M223.6 676.6h0M216.6 687.3h0M183.1 721.5h0M69.4 689.4h0M212.8 672.7h0M77.7 693.7h0M209 673.1h0M275.2 697.9h0M246.8 694.9h0M260.8 653.4h0M123.5 694.9h0M169.3 665.9h0M164.9 651h0M192.2 724.7h0M279.9 595.6h0M63.7 711.8h0M134.6 682.1h0M161.2 615.6h0M180.2 674.4h0M95 672.4h0M163.3 681.7h0M263.1 715.8h0M102.2 648.9h0M61.2 674.4h0M164.4 716.4h0M188 686.3h0M268.8 676h0M235.1 668.7h0M163.3 704.5h0M99.2 721.5h0M263.6 669.7h0M279.5 677.5h0M118.6 685.9h0M238.6 690.3h0M90.6 732.8h0M67.8 700.5h0M199.9 705.6h0M281.4 670.3h0M179.9 679.1h0M215 626.3h0M117.7 657.6h0M267.4 682.8h0M69.1 684.9h0M101.5 710.3h0M230.7 646.8h0M265.6 663.2h0M251.1 697.9h0M219.2 675.5h0M94.5 666.7h0M125.5 638.7h0M179.3 711.7h0M190.4 700.2h0M170.6 672h0M219.8 667.2h0M97.3 693.6h0M117.7 688.2h0M47.8 705.6h0M49.3 665.7h0M214.8 670.2h0M155.3 705.5h0M87.3 714.8h0M61.2 650.9h0M169.2 678.9h0M278.1 675h0M258.7 649.9h0M219.5 661.3h0M236.8 688.6h0M119.9 679.9h0M67.9 695.5h0M142.5 690.3h0M278.8 654.1h0M127.6 705.2h0M263.4 665.3h0M201.7 690.7h0M232.5 679.3h0M106.4 680.5h0M127.4 683.2h0M84.8 709.3h0M160.1 706h0M69.3 681.9h0M256.6 677h0M104.7 687.5h0M104.2 689.4h0M54 689.7h0M245.9 630.2h0M95.1 692.8h0M98.1 701.4h0M224.2 716.5h0M160.9 677.2h0M109.3 676.8h0M244.5 703.6h0M47.6 717.4h0M242.5 701.5h0M212.4 678.9h0M217.6 694h0M97.3 720.4h0M162.5 683.2h0M187.8 714.1h0M59.3 661h0M267.2 638.9h0M185.4 695.4h0M67.3 715.5h0M162.5 682.7h0M269 675.4h0M263.5 670h0M185 729.1h0M95.1 668.7h0M194.6 672.8h0M138 725.5h0M172.4 658.4h0M235.1 681.3h0M217.4 678.4h0M155.1 710h0M268.7 679.9h0M224.8 624.8h0M108.3 689.1h0M258 662.4h0M54.6 687.1h0M59.6 695h0M215.6 679.4h0M150.2 687.3h0M213.4 627.9h0M51.9 680.5h0M54.8 647.7h0M161.3 649.9h0M102.6 702.2h0M175.3 680.7h0M158.5 663.3h0M160.4 712.1h0M265.8 692.3h0M78.6 685.8h0M215.2 729.5h0M193.8 687.5h0M193.3 684.4h0M100.1 685.8h0M235.6 711.2h0M263.1 666h0M246.2 681.4h0M185.3 690.7h0M271.5 694.9h0M247.4 716.7h0M155.3 686.1h0M192 710.9h0M281 684h0M51.6 681.3h0M258.8 637.3h0M126.5 690h0M220.8 701.6h0M164.8 646.1h0M77 681.3h0M65.8 681.2h0M235.8 689.4h0M274.4 712h0M249.6 699.7h0M207.1 691.4h0M109.7 705.6h0M227.8 684.9h0M281.4 695.7h0M233.1 679.1h0M238.8 710.9h0M83.7 704.3h0M202.7 695.6h0M234.3 675.4h0M253.7 669.7h0M247 677.4h0M166.3 694.3h0M71 672.5h0M81.9 671.9h0M278.2 652.2h0M128.2 635.3h0M75.2 682.2h0M185.8 666.6h0M260.7 688.7h0M54.4 705.1h0M49.1 714h0M86.2 663.9h0M175.5 661.7h0M136.6 692.9h0M58.9 697.7h0M152.1 675.4h0M217.3 726.5h0M84.1 691.3h0M154.2 684h0M58.3 682.6h0M252.4 677.6h0M165.7 658.7h0M183.9 659.4h0M196.9 688.4h0M217.7 672.7h0M87.8 698.2h0M220.5 699.9h0M169.6 703.8h0M117.9 654.8h0M194.4 643h0M123.6 700.8h0M109.5 670.4h0M180.4 660.1h0M108.9 678.5h0M278.8 660.3h0M176.6 674.9h0M144.1 719.7h0M127 672.7h0M52.3 675h0M125.4 683.2h0M233.9 675.2h0M91.4 697.7h0M147.5 654h0M191.2 655.3h0M149.6 648.5h0M159 690.4h0M140.3 684.8h0M194.8 679.2h0M188.9 693.7h0M159.2 599.1h0M247.4 704.4h0M130.5 679.9h0M222.2 629.2h0M122.6 656.9h0M69.6 691.9h0M152.5 639.1h0M74.7 668.4h0M266.1 706.1h0M264.4 693.1h0M74 684.7h0M238.9 675.2h0M62.3 679.4h0M135.9 701.3h0M104.3 699.6h0M62.8 710.3h0M69.5 671.6h0M271.9 663.5h0M65.3 707.7h0M272.3 651.6h0M98.9 654.5h0M190.8 689.9h0M52.4 677.4h0M227.1 710.2h0M48.6 681.6h0M220.1 676.7h0M67.4 678.9h0M195.5 706.4h0M139.7 719.8h0M278 672.7h0M75.9 703.5h0M84.2 683.6h0M229.8 710.6h0M257.5 693.8h0M47.3 667.1h0M134.2 725.1h0M55.8 673.3h0M135.4 674.5h0M71 713.9h0M261.9 663.1h0M224.4 681.9h0M261.8 678.3h0M194.7 657.4h0M66.5 673.9h0M62.4 690h0M137.2 685.6h0M44.5 656.9h0M53.3 644.8h0M182.3 656.1h0M203.9 652.5h0M174.7 632.9h0M182.1 688.2h0M128 714.5h0M133.2 714.1h0M190.7 677.4h0M184.2 718.5h0M118.5 674.9h0M209.4 657.3h0M79.1 722.1h0M227 699h0M84.3 690.8h0M261.2 634h0M156.8 676.1h0M129.9 721h0M171.8 651h0M267.6 641.7h0M281.1 681.4h0M57.3 725.5h0M236.8 670.8h0M211.7 679.6h0M196.1 671.5h0M67.8 699.8h0M126.3 714.7h0M88 703h0M190.9 682.5h0M77.4 640.6h0M98.3 705.1h0M262.7 666.1h0M115.1 653.1h0M48.9 713.7h0M252.6 696.5h0M176.9 674.6h0M72.7 729h0M202.6 681.7h0M245 720.5h0M46.8 695h0M203.3 677.5h0M104.7 703.1h0M89.1 668.3h0M58.7 711.2h0M227.7 586.3h0M118.7 689.5h0M162.8 682h0M69.6 666.6h0M196.2 655.1h0M263.6 723.3h0M117.8 691.5h0M230.6 678.3h0M189.3 689.8h0M178.3 712.3h0M94.7 694.7h0M127.7 699.5h0M70 684h0M222.7 690.2h0M164.5 736.2h0M233 697.8h0M189.7 685.1h0M69.2 689.3h0M82.2 687.3h0M99.2 690.3h0M271.1 659.3h0M70.9 726h0M117.6 677.5h0M142.7 702.7h0M179.7 712.4h0M54.3 689.9h0M158.1 697h0M91.9 733.2h0M278.8 652.1h0M124.8 639.4h0M82.6 686.3h0M150.7 674h0M116 706.8h0M219.1 662.9h0M196.3 706.9h0M183.8 684.8h0M209.7 689.1h0M204.2 698.3h0M178.2 680.7h0M63.6 662.5h0M53.6 689.9h0M259.4 697.7h0M102.9 713.8h0M272 661.2h0M127.3 696.8h0M61.3 680.5h0M178.1 644.1h0M119.7 699.4h0M121.9 688.3h0M209.9 658.9h0M231.4 700.9h0M65.7 689.8h0M281.7 659h0M271.4 701.2h0M69.8 682.2h0M128 701.6h0M181.2 676.6h0M97.2 660.1h0M243.3 674.8h0M128.3 687.5h0M120.7 680h0M120.5 648.6h0M104.3 673.6h0M90.9 634.4h0M281 685.7h0M62.4 696.2h0M98.5 683.3h0M136 670.2h0M149.6 704.6h0M196.8 680.1h0M68.4 691.1h0M218.7 725.5h0M183.3 703.8h0M200.6 696.9h0M85.1 670.5h0M84.6 683.7h0M239.6 662.5h0M129.5 718.7h0M207.4 688.2h0M258 702h0M184.9 652.9h0M105.2 678.9h0M248.7 679.1h0M61.3 675.6h0M111.6 650h0M247.8 682.8h0M260.3 676.1h0M73.4 585.3h0M66.9 647.3h0M62.9 692.8h0M202.6 662.2h0M93.3 707.5h0M156.2 719.8h0M197.5 676.7h0M253 709.9h0M176.1 682.6h0M77.3 726.6h0M269.4 630.8h0M259.3 657.9h0M124 696.5h0M85.5 690.7h0M151.1 665.1h0M154.7 645.6h0M119.8 712.6h0M113 705.9h0M175.2 709.6h0M273 692.2h0M190.7 689.2h0M178.3 706.2h0M263.7 696.6h0M257.7 667.6h0M165.6 704.3h0M236.6 687.3h0M110.4 680.2h0M236.5 663.1h0M238.2 698.1h0M173.5 679.9h0M174.1 677.3h0M183.6 664.3h0M279 601h0M231.6 654.2h0M110.1 650.5h0M217.4 702.6h0M254.9 672.4h0M136.2 678.8h0M274.3 683.8h0M150.8 715.7h0M166.4 680.5h0M198.2 705.9h0M72 710.2h0M166.2 671.7h0M137.9 657.5h0M273.9 697.6h0M141 678.5h0M174.3 661.5h0M164.3 704.6h0M46.4 716.5h0M92.2 673.5h0M268.4 671.8h0M69.6 658h0M144.1 673.3h0M172.2 647.1h0M55.3 733.3h0M276 675.3h0M213.6 687.5h0M254.2 684.5h0M160.5 671.7h0M276.2 707.1h0M114.3 684.8h0M128.7 694.5h0M105.8 698.1h0M196.9 667.7h0M218 694.5h0M249.3 732.7h0M103.2 670.2h0M272.3 678.3h0M147.7 671.5h0M81 681.6h0M158.8 637.5h0M66 737h0M168.2 658.7h0M45.8 707.1h0M235.2 663.4h0M249.3 693h0M47.9 666.7h0M233.9 721.5h0M240.2 651h0M238.7 672.8h0M166.1 648.2h0M240.5 666.8h0M280.6 678.2h0M278.8 663.7h0M101.4 735.1h0M65.3 694.6h0M235.4 678.9h0M99.5 730.7h0M185.7 662h0M146 682.9h0M162 695.3h0M250.9 686.6h0M69.5 697.7h0M211.2 698.9h0M245.3 672.5h0M168.5 640.5h0M245.4 697.7h0M155.5 695.7h0M50.8 712.3h0M55.5 660h0M54.7 701.6h0M55 671.6h0M215 698.5h0M54.5 663.6h0M275.8 656.5h0M79.3 679h0M177.1 710.6h0M140.1 709.1h0M152.5 682h0M45.3 692h0M165.6 696.9h0M214.4 657.5h0M144.8 705.1h0M138.6 687.3h0M159.1 711.8h0M73.7 649.9h0M63.8 720.5h0M242.2 704h0M139.6 708.1h0M265 677.4h0M262.3 682.5h0M98.9 692.7h0M66.5 718.6h0M231.1 683.7h0M152.8 672.1h0M52.4 678.2h0M200 703.5h0M89 688.5h0M197.7 681.9h0M259.7 675.7h0M233.5 685.5h0M249.3 718.3h0M45 687.2h0M226.4 704h0M164.9 697.7h0M214.8 653.1h0M186.9 665.4h0M269.9 694.1h0M46.3 691.6h0M208.8 700.2h0M252.4 719.1h0M155.5 682.3h0M247.9 666.2h0M281.2 680.9h0M280.1 673.6h0M237.4 680.6h0M275.8 682.6h0M87.7 692.5h0M169.1 723.9h0M192.1 664h0M135.4 621.1h0M172.3 692.6h0M87.2 681.5h0M87.6 685.3h0M271.7 685.1h0M56.1 671.5h0M208.7 648.9h0M220.8 672.4h0M210 672.4h0M239.4 706.8h0M111.1 690.1h0M276.4 710.4h0M204.4 645.4h0M260.4 720.4h0M250.2 709.4h0M242.3 673.7h0M128.4 709.8h0M141.7 663.6h0M153.2 682.4h0M178.8 662.8h0M160 703.7h0M81.9 700.5h0M118.6 671h0M75.8 655.2h0M265.4 657.4h0M50 677.5h0M89.7 712h0M203.3 665.2h0M270.4 713.2h0M50.3 666.4h0M182.5 663.8h0M199.5 693.3h0M119.8 710.4h0M150.7 681.6h0M80.4 658.5h0M272.9 651.8h0M160.4 735.8h0M250.9 729.8h0M129 673.4h0M135 689.5h0M180.1 715.8h0M185.4 661.6h0M102.5 713.9h0M130 694.9h0M77.8 702.9h0M280.3 689.6h0M219.4 646.9h0M54.8 664.9h0M238.9 674.8h0M227.3 625.2h0M127.2 631.7h0M204.8 682h0M202.4 707.7h0M232.6 670.3h0M235 659.2h0M238.6 711.9h0M149.6 717.8h0M82 732.3h0M177.7 686.1h0M125.6 639.8h0M51.8 685.5h0M87.2 692.6h0M91.7 691.3h0M195.1 693.9h0M278.1 698.2h0M205.9 683.1h0M236.8 671.9h0M63.3 722.1h0M242.4 682h0M48.1 693.8h0M104.4 636.6h0M182.8 685.8h0M132 674.1h0M99.4 698.2h0M236.9 684.8h0M58.4 724.7h0M73 729.6h0M59.4 679h0M63.1 695.2h0M82.3 701.3h0M221.4 677.8h0M215.2 687.3h0M208.6 668.2h0M166.8 687.5h0M84.9 697.4h0M62.4 695.9h0M229.5 687.2h0M275.5 656h0M267.6 652.1h0M165.9 679.5h0M229.5 680.4h0M144 697.8h0M53.3 704.3h0M53.8 693h0M69.5 692.1h0M252.9 696h0M265.4 698.3h0M249.7 683.7h0M189.2 674.5h0M182.4 673.6h0M225.8 708.8h0M125.1 703.9h0M274.8 707.2h0M53.9 703.1h0M274.3 721.8h0M225.6 660.8h0M218.4 725.1h0M196.7 673.2h0M226.5 625.1h0M141.6 620.8h0M121 676.4h0M147.6 711.2h0M169.5 681.7h0M224.7 682.3h0M107.1 677.9h0M120 683.4h0M91.7 680.9h0M280.7 668h0M231.6 690.8h0M228.1 709.2h0M267.9 672.4h0M167.7 668.6h0M162.6 672.3h0M138.6 694.1h0M141.6 715h0M95.8 683.3h0M77.7 674.1h0M178.6 652.7h0M272.1 617.8h0M102.9 684.7h0M190.1 658h0M221 669h0M68.3 677.4h0M53.2 660.3h0M187.2 701.8h0M260.2 606.4h0M123.3 687.1h0M84.8 662.5h0M187.7 641.2h0M73.5 667.4h0M125.7 694.5h0M60.4 666.3h0M59 682.1h0M197.3 705.2h0M59.6 719.5h0M144.3 708.3h0M118.3 678.3h0M152.3 683.1h0M148.4 607.7h0M278.2 681.2h0M166.2 654.5h0M198.7 655.4h0M270.7 709.7h0M222.4 727.6h0M171 644.4h0M112.3 699.8h0M227.1 689h0M241.7 661h0M170.1 698.7h0M236.9 664h0M58.6 668h0M172.5 707.7h0M237.3 681.5h0M44.8 672.4h0M170.2 682h0M68.5 717.8h0M200 710.8h0M164.8 682.2h0M88.3 704.9h0M93.8 660.4h0M187 674.9h0M169.1 680h0M123 683.6h0M155.4 667.7h0M129.6 684.4h0M82.7 699.4h0M202.5 721h0M207.4 624.2h0M230.7 652.2h0M264.1 676.7h0M260.9 675.2h0M178.2 682.3h0M245.5 661h0M120 686.2h0M278.7 691.4h0M233.7 719.5h0M195.3 673.2h0M101.7 714.2h0M275.4 697.6h0M63.1 686h0M197.7 659.8h0M125 690.9h0M123.9 691.4h0M58.8 674h0M267 693.2h0M130 675.6h0M61.9 667.2h0M159.8 709.1h0M163.7 682.5h0M118.4 677.5h0M224.6 659.7h0M75.3 699.4h0M103.6 657.4h0M115.4 712.4h0M251.1 653.8h0M157.1 678h0M165.4 728.6h0M245.3 683.6h0M103.7 655.5h0M140.8 696h0M216 680h0M169.9 700.9h0M277.4 684.9h0M177.5 705.9h0M237.4 720.3h0M58.8 676.1h0M249.7 697.3h0M269.5 702.5h0M243.7 694h0M47.3 652.3h0M81.3 615.5h0M52.8 693.1h0M103.8 705.1h0M101.5 701.5h0M229.7 639.5h0M122.5 682.1h0M96 695.7h0M117.8 712.1h0M90.4 693.1h0M269.1 665.5h0M201.7 648.1h0M61.3 643.7h0M167 715h0M110.7 667.9h0M157.5 679.3h0M182.5 662.8h0M72.1 696.3h0M210.9 649.6h0M97.7 691h0M168.9 692.9h0M206.6 691.2h0M242.6 686.5h0M113.2 686.3h0M164.2 731.2h0M58.2 696h0M76.9 684.6h0M121.4 672.6h0M129.4 657.6h0M114.6 672h0M48 693.6h0M172.1 689.6h0M174.7 670.6h0M119.3 639.2h0M231.4 709.6h0M249.4 688.2h0M279.1 669.6h0M200.4 703.3h0M147.9 666.9h0M77.2 683.3h0M195.8 649h0M152.8 619.9h0M73.9 690.2h0M275.2 714.7h0M198.8 680.6h0M226.9 678.5h0M165.2 707.5h0M209.4 679.9h0M275.4 677.4h0M224.3 727.9h0M59.8 684h0M269.9 694.9h0M91.8 683.1h0M85.1 690.4h0M125.6 679.8h0M229.5 672.6h0M166.8 673.8h0M113.2 600.9h0M100.1 683.2h0M91.1 699.4h0M170.1 705.3h0M100.5 712.9h0M162.9 671.7h0M94 684h0M260.7 620.2h0M100.4 677.1h0M187 656.1h0M133.7 697.3h0M93.7 702.1h0M184 726h0M120.1 664.4h0M272.5 679.6h0M265.8 698.9h0M264.1 721.3h0M215.4 692.5h0M262.5 676.9h0M183.6 700.5h0M86.4 716.3h0M91.2 714.8h0M92.4 671.9h0M55.2 703.5h0M129.5 686.4h0M169.6 658.6h0M146.7 677.9h0M69.2 670.6h0M239 671.9h0M275.6 718.5h0M211.2 685h0M47.7 628.7h0M194.9 686.2h0M77.5 667.7h0M227.2 723.4h0M134.5 677.1h0M157.3 692.4h0M82.2 713.3h0M153.8 721.6h0M87.7 691.7h0M208.8 677.2h0M149.2 646.8h0M249.8 661.8h0M77.7 712.8h0M208.8 667.7h0M96.2 676.4h0M75.9 661.8h0M78.9 717.8h0M214.3 677.9h0M77 680.1h0M54 655.6h0M192.2 638.1h0M108.9 652.3h0M62.7 670.5h0M185.3 666.3h0M191 711h0M146.2 685.5h0M63.3 688.7h0M165.7 688.2h0M51.4 716.8h0M140.5 688.2h0M108.1 719.3h0M51.3 678.6h0M136 698h0M148.2 657.6h0M67.6 710.1h0M51.9 712.6h0M261.6 687.1h0M114.4 669.5h0M86.3 692.8h0M170.1 718.6h0M212.5 656.9h0M137.4 722.7h0M172.2 660.8h0M177.9 653.7h0M77.5 702.4h0M233.5 713.1h0M241.3 688h0M281.1 707.6h0M153.2 673.1h0M170.2 682.6h0M175.1 702.7h0M61.4 713.7h0M57 682.2h0M250.3 671.8h0M230.2 702.1h0M68.9 702.4h0M208.8 701.1h0M105.2 675.1h0M69 696.2h0M267.9 691.9h0M124.1 677.5h0M75.3 659.3h0M248 662.3h0M43 626h0M43.5 708.1h0M153.5 713.4h0M168.1 611.6h0M157.9 695.1h0M138.2 646.7h0M139 663.9h0M206.7 694.2h0M71.8 694.5h0M236.8 718.9h0M49.7 710.1h0M53.1 699.1h0M49.1 713.1h0M187 675.4h0M178.5 711.4h0M204.7 684.3h0M129.1 660.6h0M103.8 696.6h0M42.9 666.4h0M164.2 701.3h0M103.1 720.5h0M134.3 700.5h0M243.2 631.6h0M43.3 685h0M212.6 681.1h0M56.9 669h0M113.9 704.5h0M243.4 665h0M228.5 657.1h0M66.6 675.9h0M215.6 681.8h0M47.1 715.4h0M163.4 650.3h0M90.8 714.2h0M128.8 702.8h0M75.5 698.1h0M94.1 691.5h0M199.2 706.1h0M175.7 657h0M63.5 678.8h0M120.8 708.5h0M170.4 687.7h0M202.6 708.3h0M257 653.3h0M65.8 689.6h0M57.8 705.7h0M66.8 661.5h0M120.8 700.3h0M228.6 688.5h0M182.4 681.9h0M207 675.6h0M206.9 703h0M155.4 677.3h0M91.1 631.8h0M82 658.3h0M169.9 682.8h0M250.4 671.3h0M240.4 675.9h0M229.2 694.2h0M123.9 708.4h0M176.6 707.7h0M260.3 674.9h0M172.6 728.9h0M55.1 710.3h0M272.7 677.4h0M150.6 706.6h0M213.9 682.2h0M160.3 692.3h0M247.9 662.2h0M120.9 657h0M276.8 660.5h0M66.8 672.7h0M119.9 706.7h0M269 692.6h0M170.7 684.9h0M95.6 677h0M226.4 704.9h0M243.3 661.3h0M168.3 699.9h0M170.2 690.6h0M144.6 662.4h0M124.3 687.1h0M117.2 668.4h0M141.2 713.7h0M89.6 684.7h0M62.8 660.7h0M214.8 673.9h0M64.9 681.2h0M270.5 650.2h0M177.2 699.1h0M236.3 673.6h0M62.6 662h0M129 714.5h0M209 695.1h0M106.9 700h0M177.2 661h0M245 680.8h0M231.3 703.8h0M176 649.6h0M151.6 657.3h0M103.3 650.7h0M251.4 633h0M129.8 677.9h0M226.1 670.6h0M249.2 719.2h0M118.1 683h0M138.6 723h0M236.3 665.6h0M99.3 683h0M220.9 680.1h0M222 655h0M61.9 673.7h0M173.6 675.5h0M58.7 698.6h0M218.1 641.7h0M95.5 640.9h0M264.9 686h0M123.5 665.2h0M63.2 660.3h0M76.7 603.2h0M153.5 691.5h0M130 675.3h0M216.5 696.8h0M253.1 700.5h0M131.9 705.4h0M213.1 679.9h0M225.2 717.1h0M68.9 656.8h0M164.8 693.3h0M253.4 692.6h0M166.5 713.7h0M209.4 680.7h0M176.9 658.6h0M202.6 714.6h0M110.7 664.8h0M123.3 713.4h0M244.2 671.2h0M236.4 647.4h0M267 668.1h0M93.9 699h0M179.8 711.4h0M65.2 626.3h0M179.9 732.6h0M130.2 693.7h0M228 629.9h0M121.3 669.2h0M117.8 673.9h0M67.4 663h0M90.1 680.6h0M113.9 706.8h0M50.4 685.3h0M175.8 670.4h0M240.2 724.5h0M258.9 685.9h0M73.9 683.4h0M72 680.7h0M54.5 694.6h0M244.2 671.5h0M64.9 719.8h0M128.9 679.3h0M133.7 722.2h0M73.8 689.9h0M63.5 674.6h0M65.9 694.9h0M241.7 691.2h0M225.6 677.6h0M112.9 677.7h0M85.6 654.4h0M229.8 700.2h0M106.2 692.9h0M144 622.6h0M259.4 702.7h0M250.5 695.5h0M79.2 662.9h0M50.1 690.1h0M62.3 718.4h0M157.2 687.3h0M203.4 702.8h0M238.7 723.6h0M156.3 677.5h0M241.6 673.2h0M220.6 725.5h0M44.3 649h0M170.5 685.2h0M99.8 689.3h0M262.8 703.7h0M154.3 665.7h0M99.3 657.4h0M169.9 712.2h0M146 730.1h0M43.1 683.5h0M212 706.5h0M44.2 664.3h0M156.2 685.9h0M135.8 690.3h0M146.1 668.7h0M85.8 699.9h0M210.7 709.8h0M208.2 675.8h0M81.1 711h0M101.9 717.8h0M252.8 682.9h0M137.6 690.9h0M216.4 697.6h0M202.1 674.3h0M266.6 680.5h0M202.7 687.1h0M253.5 695.7h0M45 703.7h0M136 731.1h0M73.7 663.2h0M65.9 677.6h0M224.4 699.2h0M130.4 676h0M258.8 661.7h0M198.8 694.3h0M144 674.5h0M73.8 690.4h0M91.1 696h0M262.5 697.5h0M184 694h0M128.2 660.6h0M200.5 669.5h0M253.8 690.5h0M150.6 696.4h0M48.6 682.9h0M52.2 677.8h0M74 688.9h0M86.1 705.4h0M158 722.1h0M222.9 653.1h0M239.8 677.5h0M210.2 700.8h0" stroke="#4472C4" stroke-width="2.9" stroke-linecap="round" fill="none"/>
<clipPath id="c3"><rect x="42" y="540" width="278" height="220"/></clipPath>
<path d="M42.5 686.0 L48.6 686.0 L54.8 685.9 L60.9 685.9 L67.0 685.8 L73.2 685.8 L79.3 685.7 L85.4 685.6 L91.6 685.5 L97.7 685.5 L103.8 685.4 L110.0 685.3 L116.1 685.1 L122.2 685.0 L128.4 684.9 L134.5 684.8 L140.6 684.6 L146.8 684.5 L152.9 684.3 L159.0 684.1 L165.2 684.0 L171.3 683.8 L177.4 683.6 L183.6 683.4 L189.7 683.2 L195.8 683.0 L202.0 682.8 L208.1 682.5 L214.2 682.3 L220.4 682.1 L226.5 681.8 L232.6 681.6 L238.8 681.3 L244.9 681.0 L251.0 680.7 L257.2 680.5 L263.3 680.2 L269.4 679.9 L275.6 679.5 L281.7 679.2" stroke="#C00000" stroke-width="4.5" fill="none" stroke-linecap="round" stroke-linejoin="round" clip-path="url(#c3)"/>
<text transform="translate(31.7,746) scale(0.97,1)" text-anchor="end" font-size="14.2" fill="#000" stroke="#000">30</text>
<text transform="translate(31.7,721.86) scale(0.97,1)" text-anchor="end" font-size="14.2" fill="#000" stroke="#000">35</text>
<text transform="translate(31.7,697.73) scale(0.97,1)" text-anchor="end" font-size="14.2" fill="#000" stroke="#000">40</text>
<text transform="translate(31.7,673.59) scale(0.97,1)" text-anchor="end" font-size="14.2" fill="#000" stroke="#000">45</text>
<text transform="translate(31.7,649.45) scale(0.97,1)" text-anchor="end" font-size="14.2" fill="#000" stroke="#000">50</text>
<text transform="translate(31.7,625.31) scale(0.97,1)" text-anchor="end" font-size="14.2" fill="#000" stroke="#000">55</text>
<text transform="translate(31.7,601.17) scale(0.97,1)" text-anchor="end" font-size="14.2" fill="#000" stroke="#000">60</text>
<text transform="translate(31.7,577.04) scale(0.97,1)" text-anchor="end" font-size="14.2" fill="#000" stroke="#000">65</text>
<text transform="translate(31.7,552.9) scale(0.97,1)" text-anchor="end" font-size="14.2" fill="#000" stroke="#000">70</text>
<text transform="translate(43,761.9) scale(0.97,1)" text-anchor="middle" font-size="14.2" fill="#000" stroke="#000">0</text>
<text transform="translate(162.6,761.9) scale(0.97,1)" text-anchor="middle" font-size="14.2" fill="#000" stroke="#000">5</text>
<text transform="translate(282.2,761.9) scale(0.97,1)" text-anchor="middle" font-size="14.2" fill="#000" stroke="#000">10</text>
<text transform="translate(10.4,649.8) rotate(-90)" text-anchor="middle" font-size="13.5" fill="#000" stroke="#000">Compressive strength_28 days&#160; MPa</text>
<text transform="translate(205.6,781.4) scale(1.02,1)" text-anchor="middle" font-size="13.4" fill="#000" stroke="#000">Admixture (2) kg/m3</text>
<line x1="395.7" y1="729.3" x2="670.1" y2="729.3" stroke="#D9D9D9" stroke-width="1.3"/>
<line x1="395.7" y1="706.99" x2="670.1" y2="706.99" stroke="#D9D9D9" stroke-width="1.3"/>
<line x1="395.7" y1="684.67" x2="670.1" y2="684.67" stroke="#D9D9D9" stroke-width="1.3"/>
<line x1="395.7" y1="662.36" x2="670.1" y2="662.36" stroke="#D9D9D9" stroke-width="1.3"/>
<line x1="395.7" y1="640.05" x2="670.1" y2="640.05" stroke="#D9D9D9" stroke-width="1.3"/>
<line x1="395.7" y1="617.74" x2="670.1" y2="617.74" stroke="#D9D9D9" stroke-width="1.3"/>
<line x1="395.7" y1="595.42" x2="670.1" y2="595.42" stroke="#D9D9D9" stroke-width="1.3"/>
<line x1="395.7" y1="573.11" x2="670.1" y2="573.11" stroke="#D9D9D9" stroke-width="1.3"/>
<line x1="395.7" y1="550.8" x2="670.1" y2="550.8" stroke="#D9D9D9" stroke-width="1.3"/>
<line x1="395.7" y1="550.8" x2="395.7" y2="729.3" stroke="#D9D9D9" stroke-width="1.3"/>
<line x1="450.58" y1="550.8" x2="450.58" y2="729.3" stroke="#D9D9D9" stroke-width="1.3"/>
<line x1="505.46" y1="550.8" x2="505.46" y2="729.3" stroke="#D9D9D9" stroke-width="1.3"/>
<line x1="560.34" y1="550.8" x2="560.34" y2="729.3" stroke="#D9D9D9" stroke-width="1.3"/>
<line x1="615.22" y1="550.8" x2="615.22" y2="729.3" stroke="#D9D9D9" stroke-width="1.3"/>
<line x1="670.1" y1="550.8" x2="670.1" y2="729.3" stroke="#D9D9D9" stroke-width="1.3"/>
<path d="M411.9 662.4h0M417.8 644.9h0M430.9 637.9h0M434.8 636.9h0M431.3 626.4h0M433.9 614.9h0M440.1 620.9h0M443 632h0M446.5 631.1h0M450 626.2h0M452.2 597.2h0M459.9 601.7h0M464.6 601.7h0M460.4 606.9h0M462.3 603.8h0M472.2 602.1h0M467.4 617.7h0M478 595.6h0M483.4 608h0M487.1 614.9h0M493 618.6h0M491.4 578.5h0M491.4 601.1h0M495.6 592.6h0M502.2 590.4h0M513.4 582.3h0M521.9 577.6h0M516 590.9h0M518.4 600.2h0M523.9 597.2h0M536.7 614h0M545.2 615.3h0M549.9 617.6h0M546.6 600.2h0M547 597.5h0M549.5 586h0M556.1 596.5h0M557 610.7h0M564 585.5h0M561.7 619.7h0M565 613.8h0M568.5 619.3h0M573.6 602.9h0M575.2 611.1h0M578.7 607h0M588.9 618.2h0M590.5 608.6h0M594.8 588.8h0M596.1 616.8h0M598.5 619.3h0M600.8 598.4h0M616.1 607.6h0M626.3 627h0M631.4 627h0M643.7 627.9h0" stroke="#4472C4" stroke-width="5.3" stroke-linecap="round" fill="none"/>
<path d="M566.8 609h0" stroke="#4472C4" stroke-width="3.2" stroke-linecap="round" fill="none"/>
<path d="M411.3 641.9 L416.0 638.4 L420.7 635.1 L425.5 631.9 L430.2 628.9 L434.9 626.0 L439.7 623.2 L444.4 620.6 L449.1 618.1 L453.9 615.8 L458.6 613.6 L463.3 611.5 L468.1 609.6 L472.8 607.8 L477.5 606.2 L482.2 604.7 L487.0 603.3 L491.7 602.1 L496.4 601.0 L501.2 600.1 L505.9 599.3 L510.6 598.6 L515.4 598.1 L520.1 597.7 L524.8 597.5 L529.6 597.4 L534.3 597.4 L539.0 597.6 L543.8 597.9 L548.5 598.4 L553.2 599.0 L557.9 599.7 L562.7 600.6 L567.4 601.7 L572.1 602.8 L576.9 604.1 L581.6 605.6 L586.3 607.1 L591.1 608.9 L595.8 610.7 L600.5 612.7 L605.3 614.9 L610.0 617.2 L614.7 619.6 L619.4 622.2 L624.2 624.9 L628.9 627.7 L633.6 630.7 L638.4 633.8 L643.1 637.1" stroke="#C00000" stroke-width="3.2" fill="none" stroke-linecap="round" stroke-linejoin="round"/>
<text transform="translate(384.6,734) scale(0.96,1)" text-anchor="end" font-size="14" fill="#595959" stroke="#595959" stroke-width="0.12">30</text>
<text transform="translate(384.6,711.69) scale(0.96,1)" text-anchor="end" font-size="14" fill="#595959" stroke="#595959" stroke-width="0.12">35</text>
<text transform="translate(384.6,689.38) scale(0.96,1)" text-anchor="end" font-size="14" fill="#595959" stroke="#595959" stroke-width="0.12">40</text>
<text transform="translate(384.6,667.06) scale(0.96,1)" text-anchor="end" font-size="14" fill="#595959" stroke="#595959" stroke-width="0.12">45</text>
<text transform="translate(384.6,644.75) scale(0.96,1)" text-anchor="end" font-size="14" fill="#595959" stroke="#595959" stroke-width="0.12">50</text>
<text transform="translate(384.6,622.44) scale(0.96,1)" text-anchor="end" font-size="14" fill="#595959" stroke="#595959" stroke-width="0.12">55</text>
<text transform="translate(384.6,600.12) scale(0.96,1)" text-anchor="end" font-size="14" fill="#595959" stroke="#595959" stroke-width="0.12">60</text>
<text transform="translate(384.6,577.81) scale(0.96,1)" text-anchor="end" font-size="14" fill="#595959" stroke="#595959" stroke-width="0.12">65</text>
<text transform="translate(384.6,555.5) scale(0.96,1)" text-anchor="end" font-size="14" fill="#595959" stroke="#595959" stroke-width="0.12">70</text>
<text transform="translate(395.7,749.7) scale(0.96,1)" text-anchor="middle" font-size="14" fill="#595959" stroke="#595959" stroke-width="0.12">0</text>
<text transform="translate(450.58,749.7) scale(0.96,1)" text-anchor="middle" font-size="14" fill="#595959" stroke="#595959" stroke-width="0.12">50</text>
<text transform="translate(505.46,749.7) scale(0.96,1)" text-anchor="middle" font-size="14" fill="#595959" stroke="#595959" stroke-width="0.12">100</text>
<text transform="translate(560.34,749.7) scale(0.96,1)" text-anchor="middle" font-size="14" fill="#595959" stroke="#595959" stroke-width="0.12">150</text>
<text transform="translate(615.22,749.7) scale(0.96,1)" text-anchor="middle" font-size="14" fill="#595959" stroke="#595959" stroke-width="0.12">200</text>
<text transform="translate(670.1,749.7) scale(0.96,1)" text-anchor="middle" font-size="14" fill="#595959" stroke="#595959" stroke-width="0.12">250</text>
<text transform="translate(363.5,652.6) rotate(-90)" text-anchor="middle" font-size="13.5" fill="#000" stroke="#000">Compressive strength_28 days&#160; MPa</text>
<text transform="translate(554.2,775.1) scale(1.02,1)" text-anchor="start" font-size="13.7" fill="#000" stroke="#000">Pozzolan content kg/m3</text>
</g></svg></body></html>
